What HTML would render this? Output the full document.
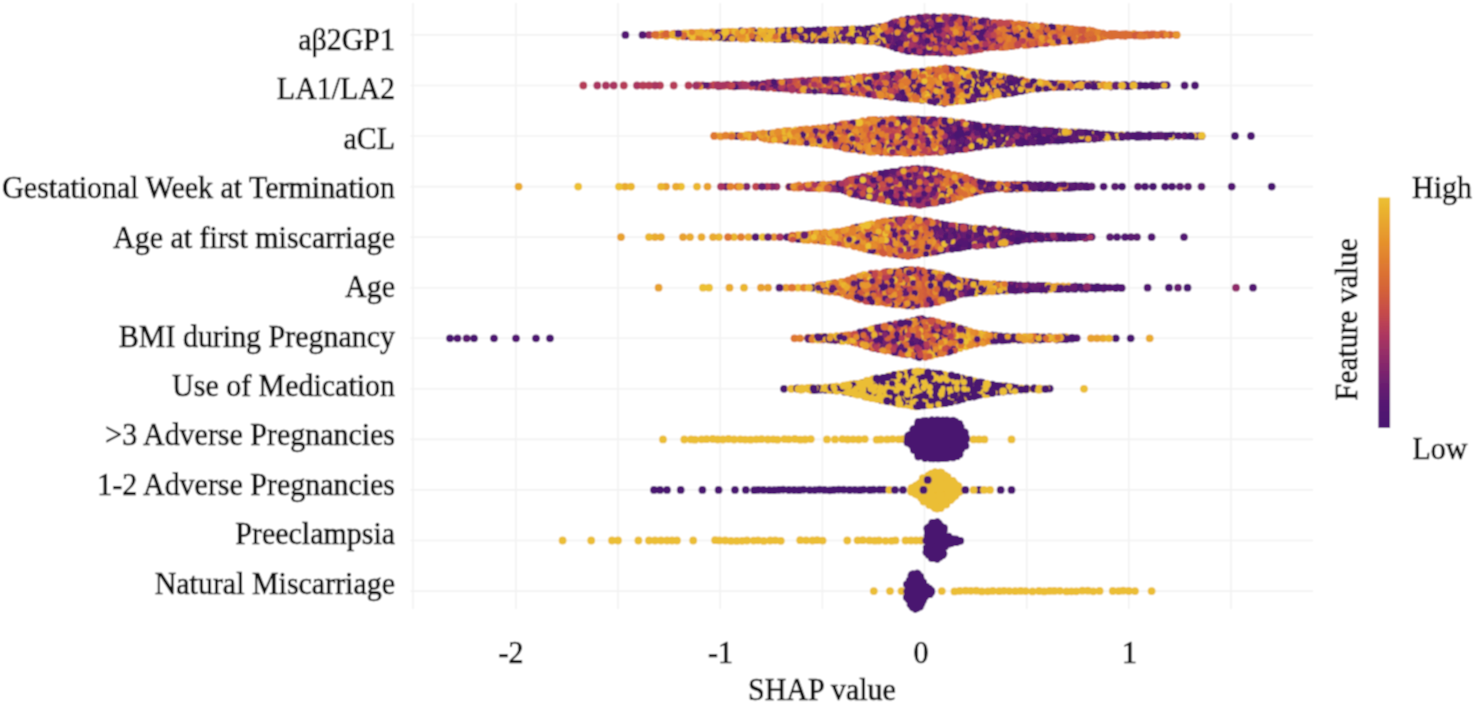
<!DOCTYPE html>
<html><head><meta charset="utf-8"><style>
html,body{margin:0;padding:0;background:#fff;}
svg{display:block;}
circle{r:3.9px;}
.a{fill:#4a1470}.A{fill:#4a1470;r:3.1px}
.b{fill:#4e1671}.B{fill:#4e1671;r:3.1px}
.c{fill:#531772}.C{fill:#531772;r:3.1px}
.d{fill:#5c1a71}.D{fill:#5c1a71;r:3.1px}
.e{fill:#671e71}.E{fill:#671e71;r:3.1px}
.f{fill:#74226f}.F{fill:#74226f;r:3.1px}
.g{fill:#81266c}.G{fill:#81266c;r:3.1px}
.h{fill:#8f2b6a}.H{fill:#8f2b6a;r:3.1px}
.i{fill:#9c3065}.I{fill:#9c3065;r:3.1px}
.j{fill:#a93561}.J{fill:#a93561;r:3.1px}
.k{fill:#b53d58}.K{fill:#b53d58;r:3.1px}
.l{fill:#c0464f}.L{fill:#c0464f;r:3.1px}
.m{fill:#c84f46}.M{fill:#c84f46;r:3.1px}
.n{fill:#cf5a3e}.N{fill:#cf5a3e;r:3.1px}
.o{fill:#d56437}.O{fill:#d56437;r:3.1px}
.p{fill:#d96d34}.P{fill:#d96d34;r:3.1px}
.q{fill:#de7730}.Q{fill:#de7730;r:3.1px}
.r{fill:#e1812e}.R{fill:#e1812e;r:3.1px}
.s{fill:#e48c2d}.S{fill:#e48c2d;r:3.1px}
.t{fill:#e6962d}.T{fill:#e6962d;r:3.1px}
.u{fill:#e7a12d}.U{fill:#e7a12d;r:3.1px}
.v{fill:#e9ab2e}.V{fill:#e9ab2e;r:3.1px}
.w{fill:#eab62f}.W{fill:#eab62f;r:3.1px}
.x{fill:#ecc030}.X{fill:#ecc030;r:3.1px}
.y{fill:#ebbe35}.Y{fill:#ebbe35;r:3.1px}.z{fill:#4a1570}.Z{fill:#4a1570;r:3.1px}
text{font-family:"Liberation Serif",serif;fill:#0a0a0a;stroke:#0a0a0a;stroke-width:0.65px;}
</style></head><body>
<svg width="1475" height="704" viewBox="0 0 1475 704">
<defs><linearGradient id="cb" x1="0" y1="1" x2="0" y2="0">
<stop offset="0.0" stop-color="#4a1470"/>
<stop offset="0.1" stop-color="#541872"/>
<stop offset="0.2" stop-color="#6e2070"/>
<stop offset="0.3" stop-color="#8e2a6a"/>
<stop offset="0.4" stop-color="#ac3660"/>
<stop offset="0.5" stop-color="#c54a4a"/>
<stop offset="0.6" stop-color="#d46238"/>
<stop offset="0.7" stop-color="#de7830"/>
<stop offset="0.8" stop-color="#e5902c"/>
<stop offset="0.9" stop-color="#e8a82e"/>
<stop offset="1.0" stop-color="#ecc030"/>
</linearGradient>
<filter id="bl" x="0" y="0" width="1475" height="704" filterUnits="userSpaceOnUse"><feConvolveMatrix order="3" kernelMatrix="1 2 1 2 4 2 1 2 1" divisor="16" edgeMode="duplicate"/></filter>
</defs>
<g filter="url(#bl)">
<rect width="1475" height="704" fill="#fff"/>
<g stroke="#f2f2f2" stroke-width="1.6">
<line x1="413.0" y1="3" x2="413.0" y2="609"/>
<line x1="515.9" y1="3" x2="515.9" y2="609"/>
<line x1="618.0" y1="3" x2="618.0" y2="609"/>
<line x1="720.2" y1="3" x2="720.2" y2="609"/>
<line x1="822.4" y1="3" x2="822.4" y2="609"/>
<line x1="924.5" y1="3" x2="924.5" y2="609"/>
<line x1="1026.7" y1="3" x2="1026.7" y2="609"/>
<line x1="1128.8" y1="3" x2="1128.8" y2="609"/>
<line x1="1231.0" y1="3" x2="1231.0" y2="609"/>
<line x1="410.5" y1="34.9" x2="1313" y2="34.9"/>
<line x1="410.5" y1="85.5" x2="1313" y2="85.5"/>
<line x1="410.5" y1="136.0" x2="1313" y2="136.0"/>
<line x1="410.5" y1="186.6" x2="1313" y2="186.6"/>
<line x1="410.5" y1="237.1" x2="1313" y2="237.1"/>
<line x1="410.5" y1="287.7" x2="1313" y2="287.7"/>
<line x1="410.5" y1="338.3" x2="1313" y2="338.3"/>
<line x1="410.5" y1="388.8" x2="1313" y2="388.8"/>
<line x1="410.5" y1="439.4" x2="1313" y2="439.4"/>
<line x1="410.5" y1="489.9" x2="1313" y2="489.9"/>
<line x1="410.5" y1="540.5" x2="1313" y2="540.5"/>
<line x1="410.5" y1="591.1" x2="1313" y2="591.1"/>
</g>
<g style="">
<circle class=c cx=625.4 cy=34.9 r=3.9 />
<circle class=i cx=649 cy=34.9 r=3.9 />
<circle class=c cx=642.5 cy=34.9 r=3.9 />
<circle class=N cx=1028.8 cy=30.7 r=3.1 />
<circle class=u cx=655.3 cy=34.9 r=3.9 />
<circle class=I cx=935.3 cy=17 r=3.1 />
<circle class=H cx=933.2 cy=21.5 r=3.1 />
<circle class=E cx=945.9 cy=50.4 r=3.1 />
<circle class=U cx=755.1 cy=39.1 r=3.1 />
<circle class=B cx=842.9 cy=29.9 r=3.1 />
<circle class=F cx=992.5 cy=26.9 r=3.1 />
<circle class=F cx=964 cy=40 r=3.1 />
<circle class=N cx=1086.1 cy=38.4 r=3.1 />
<circle class=d cx=843 cy=29.9 r=3.9 />
<circle class=T cx=840 cy=29.1 r=3.1 />
<circle class=P cx=698.5 cy=34.9 r=3.1 />
<circle class=c cx=818.3 cy=30.3 r=3.9 />
<circle class=C cx=1063.6 cy=32.1 r=3.1 />
<circle class=h cx=939.3 cy=51.8 r=3.9 />
<circle class=L cx=924.9 cy=22 r=3.1 />
<circle class=E cx=855 cy=31.5 r=3.1 />
<circle class=D cx=997 cy=23.3 r=3.1 />
<circle class=W cx=687.8 cy=37 r=3.1 />
<circle class=K cx=1047.1 cy=27 r=3.1 />
<circle class=D cx=1018.5 cy=30.5 r=3.1 />
<circle class=Q cx=1012.8 cy=44.3 r=3.1 />
<circle class=B cx=754.3 cy=36.8 r=3.1 />
<circle class=u cx=678.6 cy=35.7 r=3.9 />
<circle class=C cx=899.6 cy=37.9 r=3.1 />
<circle class=C cx=809.5 cy=34.6 r=3.1 />
<circle class=E cx=981.6 cy=24.2 r=3.1 />
<circle class=Q cx=972.2 cy=21.3 r=3.1 />
<circle class=c cx=777.2 cy=31.2 r=3.9 />
<circle class=U cx=867.5 cy=35.3 r=3.1 />
<circle class=W cx=781.2 cy=36.4 r=3.1 />
<circle class=O cx=1013.4 cy=46.7 r=3.1 />
<circle class=D cx=914.2 cy=47.9 r=3.1 />
<circle class=L cx=1019.5 cy=37.6 r=3.1 />
<circle class=q cx=964.2 cy=19 r=3.9 />
<circle class=Q cx=761.6 cy=39.1 r=3.1 />
<circle class=p cx=1139.6 cy=35.1 r=3.9 />
<circle class=B cx=988.1 cy=43.3 r=3.1 />
<circle class=C cx=969.3 cy=25.4 r=3.1 />
<circle class=t cx=912.9 cy=51.1 r=3.9 />
<circle class=U cx=880.5 cy=38.8 r=3.1 />
<circle class=D cx=836.5 cy=29.1 r=3.1 />
<circle class=P cx=1080.1 cy=34.9 r=3.1 />
<circle class=D cx=822.9 cy=33.1 r=3.1 />
<circle class=r cx=1024.7 cy=45.1 r=3.9 />
<circle class=x cx=789.3 cy=39.1 r=3.9 />
<circle class=P cx=685.4 cy=37 r=3.1 />
<circle class=E cx=955.1 cy=39.9 r=3.1 />
<circle class=D cx=975.8 cy=32.5 r=3.1 />
<circle class=X cx=822.5 cy=29.9 r=3.1 />
<circle class=O cx=940.2 cy=48 r=3.1 />
<circle class=M cx=1045.8 cy=41.9 r=3.1 />
<circle class=K cx=1002.3 cy=22.9 r=3.1 />
<circle class=N cx=1062.4 cy=36.1 r=3.1 />
<circle class=D cx=903.1 cy=31.4 r=3.1 />
<circle class=L cx=997.4 cy=40.8 r=3.1 />
<circle class=B cx=958.5 cy=48.2 r=3.1 />
<circle class=C cx=908 cy=41.4 r=3.1 />
<circle class=Q cx=1000.9 cy=34.9 r=3.1 />
<circle class=c cx=686 cy=36.3 r=3.9 />
<circle class=O cx=787.4 cy=33.2 r=3.1 />
<circle class=C cx=894.5 cy=32.6 r=3.1 />
<circle class=A cx=701.9 cy=35.4 r=3.1 />
<circle class=m cx=1011.1 cy=23.5 r=3.9 />
<circle class=P cx=1123.3 cy=34.9 r=3.1 />
<circle class=A cx=964.5 cy=26.4 r=3.1 />
<circle class=W cx=926.7 cy=45.5 r=3.1 />
<circle class=O cx=1161.3 cy=33.4 r=3.1 />
<circle class=D cx=933.9 cy=44 r=3.1 />
<circle class=I cx=927.1 cy=48.6 r=3.1 />
<circle class=D cx=911.5 cy=32.9 r=3.1 />
<circle class=C cx=853.4 cy=39.4 r=3.1 />
<circle class=A cx=1010.8 cy=46.8 r=3.1 />
<circle class=A cx=999.7 cy=22.8 r=3.1 />
<circle class=L cx=971.9 cy=44.7 r=3.1 />
<circle class=K cx=940 cy=35.3 r=3.1 />
<circle class=P cx=705 cy=37.3 r=3.1 />
<circle class=D cx=936 cy=22.4 r=3.1 />
<circle class=r cx=890.5 cy=45.4 r=3.9 />
<circle class=e cx=707.8 cy=32.9 r=3.9 />
<circle class=B cx=860.5 cy=40.4 r=3.1 />
<circle class=W cx=732.5 cy=30.8 r=3.1 />
<circle class=w cx=746.8 cy=38.7 r=3.9 />
<circle class=C cx=1091.5 cy=36.3 r=3.1 />
<circle class=I cx=962.8 cy=37.3 r=3.1 />
<circle class=s cx=789.8 cy=31.2 r=3.9 />
<circle class=C cx=950.5 cy=34.9 r=3.1 />
<circle class=E cx=923.8 cy=28.6 r=3.1 />
<circle class=U cx=1081 cy=40.5 r=3.1 />
<circle class=P cx=1052.1 cy=38.7 r=3.1 />
<circle class=t cx=1046.4 cy=27.5 r=3.9 />
<circle class=t cx=1024.9 cy=25.1 r=3.9 />
<circle class=w cx=819.5 cy=39.3 r=3.9 />
<circle class=C cx=921.3 cy=28.7 r=3.1 />
<circle class=C cx=978.8 cy=29.4 r=3.1 />
<circle class=W cx=727.1 cy=38.9 r=3.1 />
<circle class=P cx=1147.5 cy=33.5 r=3.1 />
<circle class=W cx=759.8 cy=30.1 r=3.1 />
<circle class=M cx=934 cy=19.1 r=3.1 />
<circle class=D cx=904.5 cy=41.6 r=3.1 />
<circle class=Q cx=1015.3 cy=34.9 r=3.1 />
<circle class=N cx=957.2 cy=41.7 r=3.1 />
<circle class=P cx=1022.1 cy=26.1 r=3.1 />
<circle class=B cx=852.9 cy=36.3 r=3.1 />
<circle class=s cx=1041.7 cy=43.1 r=3.9 />
<circle class=K cx=1008.3 cy=29 r=3.1 />
<circle class=B cx=880.5 cy=32.8 r=3.1 />
<circle class=V cx=686.5 cy=32.6 r=3.1 />
<circle class=o cx=1116.2 cy=35.2 r=3.9 />
<circle class=S cx=1011.7 cy=40.7 r=3.1 />
<circle class=R cx=995.6 cy=32.7 r=3.1 />
<circle class=P cx=1125.2 cy=36.7 r=3.1 />
<circle class=R cx=1050 cy=30.4 r=3.1 />
<circle class=T cx=657.6 cy=33.9 r=3.1 />
<circle class=O cx=1028.8 cy=37.9 r=3.1 />
<circle class=D cx=994.7 cy=47.3 r=3.1 />
<circle class=A cx=958.9 cy=31.3 r=3.1 />
<circle class=O cx=1089.3 cy=29.5 r=3.1 />
<circle class=S cx=909.9 cy=38.1 r=3.1 />
<circle class=C cx=902.9 cy=45.5 r=3.1 />
<circle class=C cx=918.4 cy=36.1 r=3.1 />
<circle class=H cx=893 cy=30.3 r=3.1 />
<circle class=B cx=900.1 cy=34.9 r=3.1 />
<circle class=G cx=942.6 cy=47.3 r=3.1 />
<circle class=T cx=859 cy=29.5 r=3.1 />
<circle class=P cx=976.9 cy=49.8 r=3.1 />
<circle class=L cx=914.4 cy=27.8 r=3.1 />
<circle class=C cx=781.2 cy=32.9 r=3.1 />
<circle class=B cx=992 cy=44.9 r=3.1 />
<circle class=v cx=706.5 cy=37.3 r=3.9 />
<circle class=O cx=1039.7 cy=35.4 r=3.1 />
<circle class=v cx=813.9 cy=40 r=3.9 />
<circle class=A cx=784.8 cy=39.5 r=3.1 />
<circle class=M cx=918.5 cy=33.5 r=3.1 />
<circle class=B cx=880.2 cy=26.1 r=3.1 />
<circle class=S cx=995.2 cy=44.4 r=3.1 />
<circle class=R cx=1025.3 cy=36.3 r=3.1 />
<circle class=I cx=997.5 cy=29.8 r=3.1 />
<circle class=R cx=1071.3 cy=30.6 r=3.1 />
<circle class=f cx=902.6 cy=49.5 r=3.9 />
<circle class=Q cx=1101.7 cy=34.9 r=3.1 />
<circle class=C cx=796.6 cy=32.9 r=3.1 />
<circle class=P cx=1033.9 cy=39.7 r=3.1 />
<circle class=Q cx=906.9 cy=24.3 r=3.1 />
<circle class=t cx=1098.9 cy=37.5 r=3.9 />
<circle class=A cx=868.6 cy=41.9 r=3.1 />
<circle class=T cx=1053.2 cy=41.1 r=3.1 />
<circle class=U cx=804.7 cy=30 r=3.1 />
<circle class=r cx=802.1 cy=39.4 r=3.9 />
<circle class=E cx=745.5 cy=35.1 r=3.1 />
<circle class=N cx=944.7 cy=43.4 r=3.1 />
<circle class=P cx=1121 cy=36.4 r=3.1 />
<circle class=C cx=862.1 cy=32.1 r=3.1 />
<circle class=S cx=1010.1 cy=42.6 r=3.1 />
<circle class=L cx=959.1 cy=52.2 r=3.1 />
<circle class=I cx=897.6 cy=47.9 r=3.1 />
<circle class=n cx=981.4 cy=48.6 r=3.9 />
<circle class=P cx=799.7 cy=32.2 r=3.1 />
<circle class=D cx=941.6 cy=17.9 r=3.1 />
<circle class=S cx=837.4 cy=36.1 r=3.1 />
<circle class=I cx=917.4 cy=44.7 r=3.1 />
<circle class=P cx=1114.2 cy=33.2 r=3.1 />
<circle class=D cx=919.5 cy=48.5 r=3.1 />
<circle class=B cx=942.1 cy=37.3 r=3.1 />
<circle class=X cx=739.7 cy=31.1 r=3.1 />
<circle class=Q cx=948.3 cy=24.5 r=3.1 />
<circle class=Q cx=1069.3 cy=37.3 r=3.1 />
<circle class=K cx=1012.6 cy=28.3 r=3.1 />
<circle class=T cx=714.6 cy=31.9 r=3.1 />
<circle class=c cx=907.5 cy=19.3 r=3.9 />
<circle class=N cx=1102.4 cy=37.4 r=3.1 />
<circle class=B cx=895 cy=47 r=3.1 />
<circle class=S cx=1077.4 cy=41 r=3.1 />
<circle class=o cx=1087.7 cy=38.9 r=3.9 />
<circle class=G cx=987.2 cy=38.6 r=3.1 />
<circle class=W cx=772.1 cy=38.3 r=3.1 />
<circle class=P cx=752.2 cy=38.3 r=3.1 />
<circle class=D cx=878.1 cy=37.3 r=3.1 />
<circle class=D cx=883.4 cy=41.4 r=3.1 />
<circle class=V cx=886.7 cy=44.2 r=3.1 />
<circle class=X cx=842.5 cy=34.9 r=3.1 />
<circle class=W cx=759.4 cy=36.6 r=3.1 />
<circle class=F cx=977.7 cy=37 r=3.1 />
<circle class=B cx=855.9 cy=37.2 r=3.1 />
<circle class=C cx=909.2 cy=46.1 r=3.1 />
<circle class=Q cx=1028.1 cy=45.6 r=3.1 />
<circle class=P cx=1058.5 cy=34.9 r=3.1 />
<circle class=C cx=867.1 cy=31.2 r=3.1 />
<circle class=S cx=1093.6 cy=32.5 r=3.1 />
<circle class=p cx=1064.1 cy=28.4 r=3.9 />
<circle class=W cx=708.2 cy=32 r=3.1 />
<circle class=I cx=925.6 cy=19.6 r=3.1 />
<circle class=R cx=928.3 cy=22.6 r=3.1 />
<circle class=C cx=796.2 cy=29.8 r=3.1 />
<circle class=B cx=965.6 cy=49.2 r=3.1 />
<circle class=d cx=872.7 cy=40.9 r=3.9 />
<circle class=q cx=1053.2 cy=42.2 r=3.9 />
<circle class=B cx=775.4 cy=40 r=3.1 />
<circle class=C cx=943.5 cy=27.3 r=3.1 />
<circle class=o cx=1176.1 cy=34.8 r=3.9 />
<circle class=B cx=907.9 cy=18 r=3.1 />
<circle class=C cx=828.1 cy=34.9 r=3.1 />
<circle class=K cx=1028.1 cy=25.3 r=3.1 />
<circle class=S cx=926.7 cy=52.4 r=3.1 />
<circle class=O cx=1176 cy=35.8 r=3.1 />
<circle class=e cx=901.8 cy=20.5 r=3.9 />
<circle class=M cx=1055.9 cy=41.2 r=3.1 />
<circle class=P cx=768.6 cy=38.6 r=3.1 />
<circle class=Q cx=1007.9 cy=32.2 r=3.1 />
<circle class=W cx=910.4 cy=42.6 r=3.1 />
<circle class=C cx=929.8 cy=25.7 r=3.1 />
<circle class=I cx=955.7 cy=20.1 r=3.1 />
<circle class=p cx=691.7 cy=36.9 r=3.9 />
<circle class=W cx=728.4 cy=30.9 r=3.1 />
<circle class=U cx=1051.6 cy=43.1 r=3.1 />
<circle class=p cx=1110.8 cy=35.9 r=3.9 />
<circle class=T cx=1067.2 cy=27.4 r=3.1 />
<circle class=K cx=962.4 cy=20.3 r=3.1 />
<circle class=p cx=940.8 cy=18 r=3.9 />
<circle class=S cx=985.3 cy=29.6 r=3.1 />
<circle class=Q cx=1057.2 cy=27.2 r=3.1 />
<circle class=l cx=1041.8 cy=26.4 r=3.9 />
<circle class=T cx=874.2 cy=41.3 r=3.1 />
<circle class=C cx=892.8 cy=26.1 r=3.1 />
<circle class=u cx=712.7 cy=37.4 r=3.9 />
<circle class=Q cx=870.8 cy=27.9 r=3.1 />
<circle class=V cx=739.3 cy=35.3 r=3.1 />
<circle class=v cx=849 cy=39.9 r=3.9 />
<circle class=t cx=951.3 cy=52.8 r=3.9 />
<circle class=B cx=990.8 cy=47.5 r=3.1 />
<circle class=u cx=748.1 cy=31.8 r=3.9 />
<circle class=K cx=972.1 cy=34.9 r=3.1 />
<circle class=S cx=987.5 cy=47.9 r=3.1 />
<circle class=v cx=771.5 cy=38.5 r=3.9 />
<circle class=R cx=1111.9 cy=34.5 r=3.1 />
<circle class=F cx=931.3 cy=49 r=3.1 />
<circle class=H cx=905.4 cy=19.5 r=3.1 />
<circle class=X cx=829.6 cy=37.2 r=3.1 />
<circle class=P cx=1024.4 cy=28.1 r=3.1 />
<circle class=E cx=942.8 cy=31.8 r=3.1 />
<circle class=P cx=979.3 cy=43.7 r=3.1 />
<circle class=M cx=975.9 cy=26.8 r=3.1 />
<circle class=R cx=771.6 cy=31 r=3.1 />
<circle class=O cx=984.3 cy=38.3 r=3.1 />
<circle class=P cx=1100.3 cy=32.8 r=3.1 />
<circle class=C cx=927.5 cy=27.8 r=3.1 />
<circle class=O cx=959.6 cy=45.6 r=3.1 />
<circle class=C cx=984.2 cy=35.8 r=3.1 />
<circle class=C cx=833 cy=30.8 r=3.1 />
<circle class=C cx=901.9 cy=36.8 r=3.1 />
<circle class=t cx=1088 cy=31 r=3.9 />
<circle class=I cx=952 cy=39.5 r=3.1 />
<circle class=b cx=934.9 cy=52.2 r=3.9 />
<circle class=D cx=929.4 cy=20.5 r=3.1 />
<circle class=A cx=1020 cy=34.5 r=3.1 />
<circle class=P cx=1010.7 cy=31.6 r=3.1 />
<circle class=r cx=884.6 cy=43.8 r=3.9 />
<circle class=P cx=971.2 cy=23.6 r=3.1 />
<circle class=K cx=1013.4 cy=31.2 r=3.1 />
<circle class=k cx=975.3 cy=20.7 r=3.9 />
<circle class=P cx=1154.4 cy=33.6 r=3.1 />
<circle class=c cx=878.5 cy=27.5 r=3.9 />
<circle class=Q cx=1005.9 cy=41.4 r=3.1 />
<circle class=w cx=866.2 cy=41.1 r=3.9 />
<circle class=T cx=716.6 cy=34.1 r=3.1 />
<circle class=C cx=920.1 cy=22.2 r=3.1 />
<circle class=D cx=813.4 cy=38 r=3.1 />
<circle class=Q cx=1006.4 cy=26.4 r=3.1 />
<circle class=C cx=864.6 cy=39.3 r=3.1 />
<circle class=E cx=973.4 cy=32.1 r=3.1 />
<circle class=G cx=930 cy=17.5 r=3.1 />
<circle class=S cx=1034.6 cy=36.9 r=3.1 />
<circle class=E cx=956 cy=29.7 r=3.1 />
<circle class=E cx=928 cy=38 r=3.1 />
<circle class=U cx=820.9 cy=34.9 r=3.1 />
<circle class=S cx=748.9 cy=34.9 r=3.1 />
<circle class=C cx=786.7 cy=30.1 r=3.1 />
<circle class=A cx=987.8 cy=29.9 r=3.1 />
<circle class=b cx=802.2 cy=30.2 r=3.9 />
<circle class=J cx=914.5 cy=34.9 r=3.1 />
<circle class=B cx=998.6 cy=43.5 r=3.1 />
<circle class=Q cx=1026.7 cy=39.1 r=3.1 />
<circle class=O cx=1152.1 cy=34.9 r=3.1 />
<circle class=l cx=987.4 cy=47.6 r=3.9 />
<circle class=F cx=950.4 cy=37.5 r=3.1 />
<circle class=I cx=907.3 cy=34.9 r=3.1 />
<circle class=K cx=1057.2 cy=37.6 r=3.1 />
<circle class=R cx=724.9 cy=37.8 r=3.1 />
<circle class=D cx=884.2 cy=44.6 r=3.1 />
<circle class=Q cx=1130.5 cy=34.9 r=3.1 />
<circle class=H cx=947 cy=21.5 r=3.1 />
<circle class=T cx=1116.1 cy=34.9 r=3.1 />
<circle class=O cx=1031.2 cy=28.6 r=3.1 />
<circle class=D cx=944.6 cy=30.1 r=3.1 />
<circle class=P cx=1026.6 cy=34 r=3.1 />
<circle class=R cx=931.7 cy=19.6 r=3.1 />
<circle class=W cx=924 cy=33.7 r=3.1 />
<circle class=P cx=979.3 cy=34.9 r=3.1 />
<circle class=C cx=799.3 cy=34.9 r=3.1 />
<circle class=S cx=924.4 cy=38.7 r=3.1 />
<circle class=P cx=958.2 cy=17 r=3.1 />
<circle class=D cx=820 cy=31.2 r=3.1 />
<circle class=P cx=950.3 cy=28.1 r=3.1 />
<circle class=P cx=996 cy=38.2 r=3.1 />
<circle class=A cx=681.8 cy=33.3 r=3.1 />
<circle class=B cx=892.3 cy=41.1 r=3.1 />
<circle class=o cx=661.8 cy=35.2 r=3.9 />
<circle class=U cx=821.8 cy=37.2 r=3.1 />
<circle class=E cx=919.7 cy=46.1 r=3.1 />
<circle class=B cx=986.5 cy=21.5 r=3.1 />
<circle class=A cx=920.3 cy=42.6 r=3.1 />
<circle class=W cx=665.9 cy=36.8 r=3.1 />
<circle class=T cx=931.2 cy=52.6 r=3.1 />
<circle class=u cx=702.1 cy=37 r=3.9 />
<circle class=T cx=704.1 cy=32.4 r=3.1 />
<circle class=A cx=936.4 cy=20.1 r=3.1 />
<circle class=D cx=900.1 cy=31.9 r=3.1 />
<circle class=B cx=1040.1 cy=40.9 r=3.1 />
<circle class=E cx=924.8 cy=48 r=3.1 />
<circle class=W cx=800.1 cy=40.3 r=3.1 />
<circle class=D cx=985.5 cy=32.1 r=3.1 />
<circle class=D cx=893.8 cy=38.2 r=3.1 />
<circle class=G cx=965 cy=42.5 r=3.1 />
<circle class=B cx=954.7 cy=44.5 r=3.1 />
<circle class=M cx=1002.7 cy=38.5 r=3.1 />
<circle class=A cx=1042.8 cy=31.1 r=3.1 />
<circle class=C cx=963.4 cy=50.1 r=3.1 />
<circle class=Q cx=1024.9 cy=31.4 r=3.1 />
<circle class=B cx=997.6 cy=35.3 r=3.1 />
<circle class=N cx=1120.5 cy=33.8 r=3.1 />
<circle class=Q cx=969 cy=36.3 r=3.1 />
<circle class=J cx=938.5 cy=22.7 r=3.1 />
<circle class=G cx=890.4 cy=43 r=3.1 />
<circle class=B cx=917.7 cy=39.4 r=3.1 />
<circle class=C cx=869.4 cy=30.1 r=3.1 />
<circle class=R cx=1015.2 cy=23.9 r=3.1 />
<circle class=t cx=1098.9 cy=32.9 r=3.9 />
<circle class=O cx=1094.3 cy=38.6 r=3.1 />
<circle class=Q cx=966.7 cy=37.2 r=3.1 />
<circle class=v cx=696.9 cy=32.8 r=3.9 />
<circle class=V cx=792.6 cy=38.3 r=3.1 />
<circle class=T cx=1022.5 cy=37.8 r=3.1 />
<circle class=P cx=1094.5 cy=34.9 r=3.1 />
<circle class=J cx=933.7 cy=52.6 r=3.1 />
<circle class=C cx=893.4 cy=21.9 r=3.1 />
<circle class=E cx=1043 cy=43 r=3.1 />
<circle class=J cx=964.9 cy=34.9 r=3.1 />
<circle class=L cx=888.8 cy=45.9 r=3.1 />
<circle class=C cx=892.9 cy=34.9 r=3.1 />
<circle class=p cx=1134.6 cy=34.4 r=3.9 />
<circle class=P cx=1099.2 cy=36 r=3.1 />
<circle class=t cx=1057.9 cy=27.8 r=3.9 />
<circle class=P cx=1080.5 cy=37.6 r=3.1 />
<circle class=p cx=944.7 cy=52.1 r=3.9 />
<circle class=b cx=859.4 cy=29.4 r=3.9 />
<circle class=M cx=1070.3 cy=42.1 r=3.1 />
<circle class=F cx=955.1 cy=53.5 r=3.1 />
<circle class=U cx=778.9 cy=31.4 r=3.1 />
<circle class=D cx=886 cy=37.6 r=3.1 />
<circle class=W cx=876.5 cy=27.2 r=3.1 />
<circle class=T cx=707.4 cy=37.7 r=3.1 />
<circle class=S cx=953.3 cy=30.6 r=3.1 />
<circle class=V cx=657.2 cy=36.4 r=3.1 />
<circle class=L cx=944.4 cy=52.6 r=3.1 />
<circle class=B cx=906.4 cy=50.6 r=3.1 />
<circle class=B cx=896.5 cy=28.3 r=3.1 />
<circle class=F cx=965 cy=51.9 r=3.1 />
<circle class=R cx=1006 cy=30.1 r=3.1 />
<circle class=X cx=823.1 cy=40.2 r=3.1 />
<circle class=I cx=917 cy=47.3 r=3.1 />
<circle class=Q cx=943.8 cy=20.6 r=3.1 />
<circle class=P cx=1084.2 cy=29.2 r=3.1 />
<circle class=s cx=1057.7 cy=42.2 r=3.9 />
<circle class=U cx=1037.5 cy=27.1 r=3.1 />
<circle class=U cx=676.9 cy=34.9 r=3.1 />
<circle class=M cx=931.5 cy=28.5 r=3.1 />
<circle class=P cx=1026.7 cy=28.8 r=3.1 />
<circle class=E cx=904.2 cy=35.8 r=3.1 />
<circle class=A cx=908.3 cy=27.8 r=3.1 />
<circle class=b cx=969.7 cy=19.7 r=3.9 />
<circle class=U cx=829.5 cy=32.9 r=3.1 />
<circle class=D cx=953.6 cy=48.4 r=3.1 />
<circle class=R cx=1081.5 cy=30.3 r=3.1 />
<circle class=K cx=989.5 cy=32.7 r=3.1 />
<circle class=B cx=926.2 cy=30 r=3.1 />
<circle class=N cx=1027.7 cy=43.3 r=3.1 />
<circle class=D cx=975.2 cy=36.8 r=3.1 />
<circle class=G cx=965 cy=31.2 r=3.1 />
<circle class=C cx=918.4 cy=19.7 r=3.1 />
<circle class=D cx=903.8 cy=49 r=3.1 />
<circle class=G cx=949.9 cy=20.1 r=3.1 />
<circle class=M cx=899.6 cy=29.5 r=3.1 />
<circle class=C cx=938.1 cy=17.1 r=3.1 />
<circle class=M cx=989 cy=40.9 r=3.1 />
<circle class=J cx=1000.1 cy=31.5 r=3.1 />
<circle class=B cx=966.5 cy=40.4 r=3.1 />
<circle class=Q cx=1137.7 cy=34.9 r=3.1 />
<circle class=K cx=949.4 cy=50.9 r=3.1 />
<circle class=M cx=962.2 cy=30.2 r=3.1 />
<circle class=B cx=932.9 cy=24.3 r=3.1 />
<circle class=X cx=849.5 cy=41.5 r=3.1 />
<circle class=C cx=753.4 cy=30.2 r=3.1 />
<circle class=i cx=923.5 cy=52.3 r=3.9 />
<circle class=T cx=890 cy=33.7 r=3.1 />
<circle class=e cx=918.5 cy=18.5 r=3.9 />
<circle class=b cx=741.2 cy=31.2 r=3.9 />
<circle class=W cx=869.1 cy=38.2 r=3.1 />
<circle class=I cx=945 cy=23.9 r=3.1 />
<circle class=D cx=816.9 cy=38.5 r=3.1 />
<circle class=Q cx=1007.6 cy=47.2 r=3.1 />
<circle class=I cx=954.5 cy=37.2 r=3.1 />
<circle class=K cx=964.9 cy=20.9 r=3.1 />
<circle class=H cx=981.9 cy=47.4 r=3.1 />
<circle class=H cx=919.9 cy=31 r=3.1 />
<circle class=G cx=906.1 cy=38.7 r=3.1 />
<circle class=P cx=880.1 cy=41.4 r=3.1 />
<circle class=C cx=881.3 cy=43.5 r=3.1 />
<circle class=T cx=749.6 cy=38.1 r=3.1 />
<circle class=Q cx=945.9 cy=18.1 r=3.1 />
<circle class=w cx=766.4 cy=31.5 r=3.9 />
<circle class=D cx=806 cy=32.5 r=3.1 />
<circle class=V cx=871 cy=42.2 r=3.1 />
<circle class=P cx=1062.9 cy=29 r=3.1 />
<circle class=R cx=906.5 cy=47.7 r=3.1 />
<circle class=a cx=724.5 cy=37.7 r=3.9 />
<circle class=T cx=811.9 cy=31.2 r=3.1 />
<circle class=E cx=933.7 cy=50.1 r=3.1 />
<circle class=K cx=970.9 cy=31.6 r=3.1 />
<circle class=P cx=734.4 cy=37.8 r=3.1 />
<circle class=u cx=929.9 cy=17.9 r=3.9 />
<circle class=R cx=1047.4 cy=33.9 r=3.1 />
<circle class=u cx=690.7 cy=32.9 r=3.9 />
<circle class=t cx=1129.3 cy=34.7 r=3.9 />
<circle class=P cx=971.5 cy=49.3 r=3.1 />
<circle class=O cx=961 cy=27.6 r=3.1 />
<circle class=A cx=952 cy=45.5 r=3.1 />
<circle class=h cx=929.6 cy=52 r=3.9 />
<circle class=C cx=896.2 cy=35 r=3.1 />
<circle class=H cx=939.2 cy=27.4 r=3.1 />
<circle class=D cx=919.7 cy=25.2 r=3.1 />
<circle class=V cx=745.5 cy=39.5 r=3.1 />
<circle class=H cx=917.5 cy=49.9 r=3.1 />
<circle class=r cx=1019 cy=24.1 r=3.9 />
<circle class=B cx=874.6 cy=33.3 r=3.1 />
<circle class=S cx=1022.6 cy=29.9 r=3.1 />
<circle class=L cx=968.3 cy=43.9 r=3.1 />
<circle class=D cx=839.1 cy=32.6 r=3.1 />
<circle class=T cx=978.8 cy=24.4 r=3.1 />
<circle class=o cx=1140 cy=35 r=3.9 />
<circle class=L cx=975.1 cy=44.4 r=3.1 />
<circle class=M cx=1053.5 cy=27.1 r=3.1 />
<circle class=W cx=862.6 cy=37.4 r=3.1 />
<circle class=W cx=882.6 cy=37.2 r=3.1 />
<circle class=W cx=767.4 cy=34.2 r=3.1 />
<circle class=N cx=1037.5 cy=43.5 r=3.1 />
<circle class=C cx=934.1 cy=41.1 r=3.1 />
<circle class=T cx=1000.1 cy=28.9 r=3.1 />
<circle class=P cx=835.3 cy=34.9 r=3.1 />
<circle class=Q cx=1134.1 cy=36.1 r=3.1 />
<circle class=P cx=1103.2 cy=32.8 r=3.1 />
<circle class=A cx=932.7 cy=46.5 r=3.1 />
<circle class=T cx=947.2 cy=44.6 r=3.1 />
<circle class=c cx=934 cy=17.1 r=3.9 />
<circle class=I cx=911.9 cy=19.6 r=3.1 />
<circle class=Q cx=1012.7 cy=25 r=3.1 />
<circle class=E cx=856.5 cy=40.6 r=3.1 />
<circle class=Q cx=1023.4 cy=44.7 r=3.1 />
<circle class=D cx=909 cy=51.9 r=3.1 />
<circle class=R cx=994.3 cy=23.4 r=3.1 />
<circle class=J cx=945.5 cy=33.3 r=3.1 />
<circle class=P cx=1072.1 cy=28 r=3.1 />
<circle class=D cx=808.3 cy=31.4 r=3.1 />
<circle class=t cx=730.3 cy=32.1 r=3.9 />
<circle class=E cx=947.8 cy=35.8 r=3.1 />
<circle class=O cx=1118.7 cy=35.4 r=3.1 />
<circle class=F cx=984.4 cy=42 r=3.1 />
<circle class=E cx=1032.1 cy=38 r=3.1 />
<circle class=W cx=729.5 cy=36.3 r=3.1 />
<circle class=D cx=913.8 cy=42 r=3.1 />
<circle class=V cx=885.8 cy=40.4 r=3.1 />
<circle class=P cx=1049.9 cy=32.9 r=3.1 />
<circle class=E cx=980 cy=41.1 r=3.1 />
<circle class=C cx=1011.7 cy=35.1 r=3.1 />
<circle class=e cx=878.4 cy=42.3 r=3.9 />
<circle class=B cx=919.1 cy=16.9 r=3.1 />
<circle class=C cx=911.6 cy=28.4 r=3.1 />
<circle class=F cx=947.6 cy=32 r=3.1 />
<circle class=T cx=1008.5 cy=44.7 r=3.1 />
<circle class=C cx=825 cy=37.8 r=3.1 />
<circle class=H cx=961.9 cy=46.6 r=3.1 />
<circle class=D cx=843.8 cy=40.8 r=3.1 />
<circle class=P cx=784.1 cy=32.2 r=3.1 />
<circle class=t cx=835.9 cy=29.8 r=3.9 />
<circle class=L cx=954.2 cy=22.6 r=3.1 />
<circle class=b cx=866.2 cy=29.4 r=3.9 />
<circle class=s cx=753.2 cy=31.6 r=3.9 />
<circle class=S cx=1019.6 cy=23.6 r=3.1 />
<circle class=d cx=1035.9 cy=44 r=3.9 />
<circle class=P cx=803 cy=33.7 r=3.1 />
<circle class=D cx=937.6 cy=51.2 r=3.1 />
<circle class=V cx=778.8 cy=37.9 r=3.1 />
<circle class=S cx=694.6 cy=35.6 r=3.1 />
<circle class=Q cx=953.5 cy=51.1 r=3.1 />
<circle class=R cx=938.9 cy=19.6 r=3.1 />
<circle class=T cx=1071.1 cy=38.9 r=3.1 />
<circle class=P cx=674.4 cy=32.9 r=3.1 />
<circle class=s cx=695.7 cy=36.4 r=3.9 />
<circle class=D cx=957.7 cy=34.9 r=3.1 />
<circle class=N cx=1055.5 cy=33.7 r=3.1 />
<circle class=P cx=953.4 cy=33.6 r=3.1 />
<circle class=A cx=888.9 cy=40.8 r=3.1 />
<circle class=Q cx=1001.3 cy=46.3 r=3.1 />
<circle class=H cx=893.3 cy=45.1 r=3.1 />
<circle class=D cx=840 cy=40.5 r=3.1 />
<circle class=r cx=1001 cy=47.2 r=3.9 />
<circle class=v cx=684 cy=33.3 r=3.9 />
<circle class=K cx=985.9 cy=25.8 r=3.1 />
<circle class=Q cx=956.3 cy=49.9 r=3.1 />
<circle class=C cx=967.8 cy=30.8 r=3.1 />
<circle class=C cx=905.5 cy=22.1 r=3.1 />
<circle class=d cx=784.3 cy=39.2 r=3.9 />
<circle class=C cx=794.9 cy=39.6 r=3.1 />
<circle class=P cx=967.9 cy=33.3 r=3.1 />
<circle class=K cx=945.9 cy=27.4 r=3.1 />
<circle class=R cx=931.7 cy=35.8 r=3.1 />
<circle class=B cx=867.2 cy=39.9 r=3.1 />
<circle class=T cx=761.9 cy=32.9 r=3.1 />
<circle class=Q cx=1060.7 cy=33.2 r=3.1 />
<circle class=q cx=1157.8 cy=34.9 r=3.9 />
<circle class=U cx=869.5 cy=32.9 r=3.1 />
<circle class=J cx=941.1 cy=29.1 r=3.1 />
<circle class=A cx=756.3 cy=32.3 r=3.1 />
<circle class=L cx=961.5 cy=23.1 r=3.1 />
<circle class=R cx=1006.6 cy=39 r=3.1 />
<circle class=P cx=1029.3 cy=41.1 r=3.1 />
<circle class=S cx=923.1 cy=31.3 r=3.1 />
<circle class=B cx=835 cy=37.7 r=3.1 />
<circle class=p cx=1075.5 cy=40.5 r=3.9 />
<circle class=E cx=929.6 cy=41.8 r=3.1 />
<circle class=E cx=894.5 cy=42.4 r=3.1 />
<circle class=P cx=814.8 cy=40.1 r=3.1 />
<circle class=p cx=1110.6 cy=33.9 r=3.9 />
<circle class=D cx=950 cy=53.3 r=3.1 />
<circle class=D cx=892.2 cy=47.2 r=3.1 />
<circle class=S cx=960.4 cy=36.9 r=3.1 />
<circle class=V cx=766.5 cy=36.5 r=3.1 />
<circle class=e cx=987 cy=21.5 r=3.9 />
<circle class=C cx=923.7 cy=25 r=3.1 />
<circle class=U cx=968.1 cy=20.7 r=3.1 />
<circle class=P cx=1009.1 cy=22.6 r=3.1 />
<circle class=J cx=960.7 cy=17.6 r=3.1 />
<circle class=R cx=906.2 cy=44.5 r=3.1 />
<circle class=p cx=1105.1 cy=36.1 r=3.9 />
<circle class=B cx=1031.3 cy=32.2 r=3.1 />
<circle class=R cx=1140.8 cy=34.2 r=3.1 />
<circle class=J cx=947.3 cy=53.3 r=3.1 />
<circle class=C cx=877.5 cy=29.5 r=3.1 />
<circle class=n cx=1144.7 cy=35.6 r=3.9 />
<circle class=G cx=940.1 cy=50.7 r=3.1 />
<circle class=D cx=845 cy=34.8 r=3.1 />
<circle class=D cx=1038 cy=29.7 r=3.1 />
<circle class=E cx=924.5 cy=50.4 r=3.1 />
<circle class=J cx=920.1 cy=38 r=3.1 />
<circle class=C cx=910.9 cy=24.6 r=3.1 />
<circle class=B cx=1089.7 cy=38.6 r=3.1 />
<circle class=Q cx=1077.7 cy=37.5 r=3.1 />
<circle class=q cx=673.3 cy=34.2 r=3.9 />
<circle class=A cx=812 cy=40.7 r=3.1 />
<circle class=i cx=923.4 cy=17.9 r=3.9 />
<circle class=B cx=926.5 cy=33.1 r=3.1 />
<circle class=d cx=853.6 cy=40.2 r=3.9 />
<circle class=R cx=1048.9 cy=42.7 r=3.1 />
<circle class=W cx=737.6 cy=37.2 r=3.1 />
<circle class=J cx=980 cy=32.4 r=3.1 />
<circle class=R cx=773.2 cy=35.9 r=3.1 />
<circle class=C cx=1020.4 cy=32 r=3.1 />
<circle class=L cx=980.6 cy=49.8 r=3.1 />
<circle class=B cx=981.7 cy=34.7 r=3.1 />
<circle class=B cx=931.1 cy=31.9 r=3.1 />
<circle class=W cx=756.1 cy=34.9 r=3.1 />
<circle class=E cx=1065.4 cy=29.1 r=3.1 />
<circle class=D cx=982.3 cy=28.4 r=3.1 />
<circle class=P cx=1055.9 cy=29.9 r=3.1 />
<circle class=P cx=731.7 cy=34.4 r=3.1 />
<circle class=C cx=788 cy=39.4 r=3.1 />
<circle class=R cx=701.1 cy=38.1 r=3.1 />
<circle class=P cx=1067.7 cy=30.1 r=3.1 />
<circle class=p cx=895.5 cy=22.2 r=3.9 />
<circle class=U cx=864.8 cy=28.7 r=3.1 />
<circle class=C cx=915.7 cy=19.1 r=3.1 />
<circle class=F cx=901.6 cy=39.7 r=3.1 />
<circle class=S cx=695.9 cy=37.8 r=3.1 />
<circle class=w cx=836.4 cy=39.8 r=3.9 />
<circle class=Q cx=957.5 cy=27.5 r=3.1 />
<circle class=p cx=1123 cy=35 r=3.9 />
<circle class=O cx=1003.6 cy=42.2 r=3.1 />
<circle class=V cx=877.4 cy=41.8 r=3.1 />
<circle class=k cx=1045.9 cy=43.2 r=3.9 />
<circle class=R cx=1144.9 cy=34.9 r=3.1 />
<circle class=C cx=847.2 cy=36.6 r=3.1 />
<circle class=M cx=913.6 cy=31.5 r=3.1 />
<circle class=O cx=992.6 cy=32.6 r=3.1 />
<circle class=a cx=735.4 cy=37.6 r=3.9 />
<circle class=Q cx=1014.8 cy=27.1 r=3.1 />
<circle class=b cx=784.7 cy=30.6 r=3.9 />
<circle class=E cx=889.8 cy=36.3 r=3.1 />
<circle class=O cx=1037.1 cy=39.2 r=3.1 />
<circle class=S cx=739.8 cy=38.4 r=3.1 />
<circle class=A cx=909.1 cy=22.3 r=3.1 />
<circle class=E cx=921.7 cy=40 r=3.1 />
<circle class=q cx=1064.4 cy=41.1 r=3.9 />
<circle class=D cx=876.2 cy=39.6 r=3.1 />
<circle class=C cx=1045.4 cy=31.8 r=3.1 />
<circle class=E cx=655.3 cy=34.9 r=3.1 />
<circle class=F cx=891.4 cy=38.9 r=3.1 />
<circle class=q cx=1071 cy=29.4 r=3.9 />
<circle class=B cx=798.9 cy=38 r=3.1 />
<circle class=R cx=1004.9 cy=24 r=3.1 />
<circle class=C cx=926.3 cy=25.7 r=3.1 />
<circle class=B cx=976.3 cy=30 r=3.1 />
<circle class=T cx=1049.3 cy=39.9 r=3.1 />
<circle class=F cx=916.9 cy=42.2 r=3.1 />
<circle class=Q cx=727.3 cy=34.9 r=3.1 />
<circle class=Q cx=1020.6 cy=42.1 r=3.1 />
<circle class=M cx=973.2 cy=42.4 r=3.1 />
<circle class=o cx=1094.3 cy=31.9 r=3.9 />
<circle class=T cx=1054 cy=43.3 r=3.1 />
<circle class=F cx=968.2 cy=47.3 r=3.1 />
<circle class=T cx=734.5 cy=34.9 r=3.1 />
<circle class=Q cx=1066.2 cy=39.1 r=3.1 />
<circle class=E cx=860.2 cy=36.5 r=3.1 />
<circle class=M cx=889.7 cy=24.1 r=3.1 />
<circle class=C cx=940.6 cy=41.8 r=3.1 />
<circle class=N cx=1003.8 cy=47.7 r=3.1 />
<circle class=F cx=949 cy=40.2 r=3.1 />
<circle class=T cx=897.4 cy=32.5 r=3.1 />
<circle class=n cx=1151.8 cy=34.3 r=3.9 />
<circle class=H cx=937.8 cy=46.8 r=3.1 />
<circle class=Q cx=1025.8 cy=41.8 r=3.1 />
<circle class=P cx=1053 cy=29.9 r=3.1 />
<circle class=F cx=937.3 cy=37.7 r=3.1 />
<circle class=W cx=777.7 cy=34.9 r=3.1 />
<circle class=I cx=986.5 cy=34.9 r=3.1 />
<circle class=O cx=679.3 cy=33.1 r=3.1 />
<circle class=C cx=894.9 cy=24.1 r=3.1 />
<circle class=R cx=775.4 cy=33.6 r=3.1 />
<circle class=J cx=1032.5 cy=34.3 r=3.1 />
<circle class=A cx=922.3 cy=49.2 r=3.1 />
<circle class=M cx=942.3 cy=44.6 r=3.1 />
<circle class=P cx=1159.3 cy=34.9 r=3.1 />
<circle class=D cx=1008.8 cy=26.3 r=3.1 />
<circle class=t cx=850.3 cy=30 r=3.9 />
<circle class=D cx=691.3 cy=34.9 r=3.1 />
<circle class=E cx=886.1 cy=27.7 r=3.1 />
<circle class=R cx=1009.1 cy=40.3 r=3.1 />
<circle class=D cx=865.9 cy=42 r=3.1 />
<circle class=S cx=1096.7 cy=36 r=3.1 />
<circle class=l cx=1030.1 cy=44.3 r=3.9 />
<circle class=U cx=752.1 cy=32.9 r=3.1 />
<circle class=T cx=1076.4 cy=35.2 r=3.1 />
<circle class=E cx=982.4 cy=40.5 r=3.1 />
<circle class=R cx=847.5 cy=33.3 r=3.1 />
<circle class=H cx=940.5 cy=32.8 r=3.1 />
<circle class=U cx=876.5 cy=31.6 r=3.1 />
<circle class=b cx=951.8 cy=17.4 r=3.9 />
<circle class=X cx=735.9 cy=31.7 r=3.1 />
<circle class=v cx=711.6 cy=32.2 r=3.9 />
<circle class=c cx=753.8 cy=37.9 r=3.9 />
<circle class=O cx=930.1 cy=39.4 r=3.1 />
<circle class=U cx=849.7 cy=34.9 r=3.1 />
<circle class=Q cx=973.2 cy=27.5 r=3.1 />
<circle class=E cx=936.2 cy=44.8 r=3.1 />
<circle class=T cx=659.7 cy=35.8 r=3.1 />
<circle class=P cx=961.2 cy=43.6 r=3.1 />
<circle class=V cx=810.7 cy=38.4 r=3.1 />
<circle class=x cx=761.1 cy=38.6 r=3.9 />
<circle class=V cx=712.9 cy=34.9 r=3.1 />
<circle class=L cx=947.3 cy=29.5 r=3.1 />
<circle class=R cx=1074.7 cy=29.3 r=3.1 />
<circle class=B cx=962.2 cy=34.4 r=3.1 />
<circle class=P cx=1048.4 cy=36.1 r=3.1 />
<circle class=H cx=974.1 cy=23.3 r=3.1 />
<circle class=D cx=989.5 cy=27.1 r=3.1 />
<circle class=T cx=669.7 cy=34.9 r=3.1 />
<circle class=v cx=667.2 cy=35.6 r=3.9 />
<circle class=E cx=966.9 cy=27.7 r=3.1 />
<circle class=F cx=914.7 cy=22.6 r=3.1 />
<circle class=D cx=784.9 cy=34.9 r=3.1 />
<circle class=c cx=907.5 cy=50.7 r=3.9 />
<circle class=B cx=960.6 cy=39.8 r=3.1 />
<circle class=K cx=886.5 cy=24.9 r=3.1 />
<circle class=h cx=958.1 cy=18.1 r=3.9 />
<circle class=O cx=937.3 cy=40.9 r=3.1 />
<circle class=H cx=915.6 cy=52.2 r=3.1 />
<circle class=I cx=970 cy=28 r=3.1 />
<circle class=D cx=837 cy=39.6 r=3.1 />
<circle class=S cx=1087.2 cy=31.8 r=3.1 />
<circle class=L cx=959.1 cy=23.2 r=3.1 />
<circle class=D cx=929.3 cy=50.9 r=3.1 />
<circle class=q cx=1169.9 cy=34.7 r=3.9 />
<circle class=N cx=968.2 cy=23.1 r=3.1 />
<circle class=N cx=885.1 cy=32.5 r=3.1 />
<circle class=F cx=885.7 cy=34.9 r=3.1 />
<circle class=S cx=970.5 cy=41.9 r=3.1 />
<circle class=A cx=1051.1 cy=26.6 r=3.1 />
<circle class=W cx=722.9 cy=34.1 r=3.1 />
<circle class=Q cx=1040.2 cy=43.4 r=3.1 />
<circle class=N cx=1169.3 cy=35.2 r=3.1 />
<circle class=C cx=806.5 cy=34.9 r=3.1 />
<circle class=S cx=1084.1 cy=40.6 r=3.1 />
<circle class=H cx=934.7 cy=26.1 r=3.1 />
<circle class=C cx=921.7 cy=34.9 r=3.1 />
<circle class=R cx=1069.6 cy=28.1 r=3.1 />
<circle class=o cx=1145.4 cy=34.6 r=3.9 />
<circle class=D cx=772.7 cy=33.4 r=3.1 />
<circle class=B cx=965.1 cy=23.8 r=3.1 />
<circle class=R cx=1079 cy=29.3 r=3.1 />
<circle class=T cx=946.3 cy=37.7 r=3.1 />
<circle class=V cx=793.3 cy=32.6 r=3.1 />
<circle class=U cx=859.5 cy=32.3 r=3.1 />
<circle class=O cx=1034.9 cy=25.4 r=3.1 />
<circle class=B cx=956.4 cy=46.6 r=3.1 />
<circle class=P cx=1078.8 cy=32.7 r=3.1 />
<circle class=R cx=1002.6 cy=26.5 r=3.1 />
<circle class=T cx=1127.9 cy=35 r=3.1 />
<circle class=B cx=719.1 cy=32.5 r=3.1 />
<circle class=e cx=891.5 cy=23.8 r=3.9 />
<circle class=Q cx=1092.4 cy=30.1 r=3.1 />
<circle class=Q cx=759.7 cy=34.1 r=3.1 />
<circle class=D cx=804.1 cy=39.6 r=3.1 />
<circle class=S cx=900.3 cy=20.7 r=3.1 />
<circle class=A cx=827.4 cy=40.8 r=3.1 />
<circle class=S cx=750.7 cy=30.3 r=3.1 />
<circle class=C cx=786.1 cy=37.1 r=3.1 />
<circle class=T cx=1083.1 cy=33.2 r=3.1 />
<circle class=B cx=1013.1 cy=37.2 r=3.1 />
<circle class=P cx=949.7 cy=16.7 r=3.1 />
<circle class=U cx=836.1 cy=31.6 r=3.1 />
<circle class=w cx=735.3 cy=31.8 r=3.9 />
<circle class=b cx=796 cy=30.7 r=3.9 />
<circle class=B cx=834.3 cy=40.8 r=3.1 />
<circle class=X cx=720.2 cy=38.3 r=3.1 />
<circle class=E cx=816.7 cy=32.8 r=3.1 />
<circle class=J cx=935.4 cy=30.6 r=3.1 />
<circle class=P cx=683 cy=37.2 r=3.1 />
<circle class=V cx=929.4 cy=47 r=3.1 />
<circle class=P cx=680.3 cy=35.3 r=3.1 />
<circle class=V cx=666.4 cy=33.3 r=3.1 />
<circle class=G cx=914.1 cy=25 r=3.1 />
<circle class=R cx=722.5 cy=31.3 r=3.1 />
<circle class=G cx=939.6 cy=44.4 r=3.1 />
<circle class=T cx=997.5 cy=26.1 r=3.1 />
<circle class=Q cx=698.6 cy=37.6 r=3.1 />
<circle class=x cx=661.9 cy=34 r=3.9 />
<circle class=D cx=852.4 cy=41.6 r=3.1 />
<circle class=P cx=973.6 cy=50.8 r=3.1 />
<circle class=O cx=1173.7 cy=34.9 r=3.1 />
<circle class=Q cx=1156.1 cy=35.7 r=3.1 />
<circle class=O cx=1017.7 cy=25.4 r=3.1 />
<circle class=U cx=832.8 cy=38.9 r=3.1 />
<circle class=Q cx=933.7 cy=33 r=3.1 />
<circle class=B cx=923.2 cy=17.5 r=3.1 />
<circle class=T cx=1005.8 cy=45.6 r=3.1 />
<circle class=B cx=817.9 cy=29.3 r=3.1 />
<circle class=X cx=688.8 cy=33.8 r=3.1 />
<circle class=d cx=831.1 cy=39.4 r=3.9 />
<circle class=O cx=898 cy=44.6 r=3.1 />
<circle class=Q cx=1004.6 cy=32.8 r=3.1 />
<circle class=S cx=831.2 cy=29 r=3.1 />
<circle class=B cx=807.6 cy=40.5 r=3.1 />
<circle class=P cx=935.6 cy=48.3 r=3.1 />
<circle class=q cx=982.6 cy=21.3 r=3.9 />
<circle class=U cx=940.8 cy=21.4 r=3.1 />
<circle class=U cx=748.1 cy=30.8 r=3.1 />
<circle class=X cx=841.1 cy=37.3 r=3.1 />
<circle class=V cx=850.3 cy=31.8 r=3.1 />
<circle class=V cx=725.7 cy=32.2 r=3.1 />
<circle class=A cx=825.5 cy=29.9 r=3.1 />
<circle class=B cx=1044.1 cy=27.3 r=3.1 />
<circle class=i cx=913.4 cy=18.9 r=3.9 />
<circle class=I cx=925.4 cy=16.4 r=3.1 />
<circle class=u cx=701.3 cy=32.7 r=3.9 />
<circle class=P cx=1067.8 cy=41.5 r=3.1 />
<circle class=U cx=1019.1 cy=28.1 r=3.1 />
<circle class=p cx=1103.2 cy=33.6 r=3.9 />
<circle class=w cx=796.2 cy=38.8 r=3.9 />
<circle class=V cx=781.8 cy=30.1 r=3.1 />
<circle class=R cx=974.7 cy=20.5 r=3.1 />
<circle class=E cx=940.5 cy=53.4 r=3.1 />
<circle class=J cx=969.3 cy=50.8 r=3.1 />
<circle class=Q cx=662.5 cy=34.9 r=3.1 />
<circle class=P cx=1065.7 cy=34.9 r=3.1 />
<circle class=P cx=980.8 cy=26.5 r=3.1 />
<circle class=b cx=718.4 cy=32.7 r=3.9 />
<circle class=W cx=764.8 cy=32.8 r=3.1 />
<circle class=C cx=916.6 cy=31.9 r=3.1 />
<circle class=S cx=884.5 cy=30 r=3.1 />
<circle class=W cx=747 cy=37 r=3.1 />
<circle class=D cx=977.8 cy=39.5 r=3.1 />
<circle class=d cx=919.6 cy=52.1 r=3.9 />
<circle class=I cx=923.1 cy=45.9 r=3.1 />
<circle class=P cx=998.1 cy=32.9 r=3.1 />
<circle class=W cx=697.7 cy=32.3 r=3.1 />
<circle class=n cx=1081.5 cy=39.5 r=3.9 />
<circle class=M cx=1034.9 cy=43.4 r=3.1 />
<circle class=W cx=910.2 cy=34.9 r=3.1 />
<circle class=S cx=720.1 cy=34.9 r=3.1 />
<circle class=D cx=780.6 cy=39.9 r=3.1 />
<circle class=D cx=827.2 cy=32.1 r=3.1 />
<circle class=J cx=943.3 cy=34.9 r=3.1 />
<circle class=b cx=813.6 cy=30.6 r=3.9 />
<circle class=B cx=807.8 cy=38 r=3.1 />
<circle class=R cx=1148.7 cy=36.2 r=3.1 />
<circle class=W cx=722.5 cy=36.9 r=3.1 />
<circle class=K cx=903.3 cy=27.5 r=3.1 />
<circle class=V cx=790.4 cy=32.4 r=3.1 />
<circle class=C cx=768.7 cy=31.2 r=3.1 />
<circle class=V cx=917.4 cy=28.7 r=3.1 />
<circle class=K cx=1001.3 cy=43.2 r=3.1 />
<circle class=P cx=1059.5 cy=38.5 r=3.1 />
<circle class=v cx=854.4 cy=29.4 r=3.9 />
<circle class=D cx=818.1 cy=34.9 r=3.1 />
<circle class=R cx=1015.7 cy=29.4 r=3.1 />
<circle class=I cx=993.3 cy=40.6 r=3.1 />
<circle class=P cx=1031.8 cy=41.7 r=3.1 />
<circle class=D cx=976.6 cy=22.7 r=3.1 />
<circle class=W cx=878.5 cy=34.9 r=3.1 />
<circle class=b cx=896.7 cy=48.2 r=3.9 />
<circle class=D cx=985.1 cy=47.2 r=3.1 />
<circle class=B cx=1044.1 cy=34.9 r=3.1 />
<circle class=S cx=1022.5 cy=34.9 r=3.1 />
<circle class=P cx=912.2 cy=37.1 r=3.1 />
<circle class=D cx=802.3 cy=31.2 r=3.1 />
<circle class=D cx=847.1 cy=28.7 r=3.1 />
<circle class=H cx=896.7 cy=21.6 r=3.1 />
<circle class=P cx=1113.9 cy=36.4 r=3.1 />
<circle class=P cx=943.5 cy=16.3 r=3.1 />
<circle class=B cx=923 cy=53.1 r=3.1 />
<circle class=D cx=888.3 cy=38.4 r=3.1 />
<circle class=n cx=993.5 cy=47.2 r=3.9 />
<circle class=H cx=911.6 cy=40.3 r=3.1 />
<circle class=A cx=897.8 cy=42 r=3.1 />
<circle class=D cx=1008.1 cy=34.9 r=3.1 />
<circle class=p cx=1076.3 cy=29.7 r=3.9 />
<circle class=E cx=992 cy=38.3 r=3.1 />
<circle class=D cx=896.5 cy=39 r=3.1 />
<circle class=D cx=864.1 cy=34.9 r=3.1 />
<circle class=Q cx=1005.3 cy=36.3 r=3.1 />
<circle class=N cx=1038 cy=32.7 r=3.1 />
<circle class=J cx=974 cy=48 r=3.1 />
<circle class=R cx=1097.5 cy=31.9 r=3.1 />
<circle class=M cx=989 cy=23.2 r=3.1 />
<circle class=P cx=1016.6 cy=32.4 r=3.1 />
<circle class=O cx=994 cy=29 r=3.1 />
<circle class=U cx=1133.6 cy=33.3 r=3.1 />
<circle class=W cx=830.1 cy=40.9 r=3.1 />
<circle class=B cx=847.1 cy=39.4 r=3.1 />
<circle class=J cx=978.9 cy=47.3 r=3.1 />
<circle class=P cx=1017.4 cy=46.1 r=3.1 />
<circle class=X cx=677.8 cy=37.3 r=3.1 />
<circle class=a cx=808.8 cy=30.9 r=3.9 />
<circle class=b cx=824.9 cy=40 r=3.9 />
<circle class=B cx=1017.5 cy=36.1 r=3.1 />
<circle class=T cx=1051.3 cy=34.9 r=3.1 />
<circle class=V cx=766.1 cy=30.5 r=3.1 />
<circle class=C cx=774.6 cy=31.3 r=3.1 />
<circle class=U cx=758.2 cy=38.7 r=3.1 />
<circle class=N cx=981.8 cy=44 r=3.1 />
<circle class=P cx=959.9 cy=33.5 r=3.1 />
<circle class=P cx=1126 cy=33.3 r=3.1 />
<circle class=D cx=936.9 cy=25.1 r=3.1 />
<circle class=B cx=882.6 cy=27.2 r=3.1 />
<circle class=S cx=742.8 cy=37.1 r=3.1 />
<circle class=C cx=792.1 cy=34.9 r=3.1 />
<circle class=H cx=906.1 cy=32.1 r=3.1 />
<circle class=L cx=917.6 cy=22.9 r=3.1 />
<circle class=R cx=1000.6 cy=25.2 r=3.1 />
<circle class=C cx=897.2 cy=25.5 r=3.1 />
<circle class=P cx=829.1 cy=30.4 r=3.1 />
<circle class=O cx=1040.7 cy=33 r=3.1 />
<circle class=p cx=655.3 cy=34.6 r=3.9 />
<circle class=T cx=1097.4 cy=38.4 r=3.1 />
<circle class=G cx=983.9 cy=22.7 r=3.1 />
<circle class=P cx=1164.1 cy=33.4 r=3.1 />
<circle class=O cx=943.2 cy=41.3 r=3.1 />
<circle class=C cx=950 cy=42.9 r=3.1 />
<circle class=A cx=871.3 cy=34.9 r=3.1 />
<circle class=H cx=991 cy=29.8 r=3.1 />
<circle class=C cx=855.2 cy=28.8 r=3.1 />
<circle class=Q cx=978.4 cy=27 r=3.1 />
<circle class=V cx=813.7 cy=34.9 r=3.1 />
<circle class=I cx=925.2 cy=36.2 r=3.1 />
<circle class=c cx=1028.9 cy=25.6 r=3.9 />
<circle class=u cx=843.7 cy=39.9 r=3.9 />
<circle class=D cx=909.3 cy=30.2 r=3.1 />
<circle class=R cx=863.5 cy=41.6 r=3.1 />
<circle class=q cx=1164.2 cy=34.8 r=3.9 />
<circle class=D cx=888.8 cy=28.1 r=3.1 />
<circle class=M cx=900.3 cy=23.8 r=3.1 />
<circle class=C cx=833 cy=33.3 r=3.1 />
<circle class=R cx=1009.8 cy=37.9 r=3.1 />
<circle class=B cx=899.9 cy=26.5 r=3.1 />
<circle class=D cx=939.7 cy=39.5 r=3.1 />
<circle class=C cx=864.5 cy=32.3 r=3.1 />
<circle class=B cx=899.9 cy=46.8 r=3.1 />
<circle class=q cx=1006.7 cy=46.5 r=3.9 />
<circle class=A cx=711.4 cy=37 r=3.1 />
<circle class=K cx=951.4 cy=32.1 r=3.1 />
<circle class=R cx=1034.7 cy=33.2 r=3.1 />
<circle class=I cx=946.2 cy=47.6 r=3.1 />
<circle class=R cx=1025.6 cy=24.2 r=3.1 />
<circle class=D cx=958 cy=38.8 r=3.1 />
<circle class=U cx=832 cy=35.6 r=3.1 />
<circle class=W cx=770.5 cy=34.9 r=3.1 />
<circle class=t cx=741.4 cy=38.5 r=3.9 />
<circle class=S cx=874.7 cy=37.5 r=3.1 />
<circle class=E cx=845.7 cy=30.7 r=3.1 />
<circle class=N cx=1163 cy=35.6 r=3.1 />
<circle class=Q cx=745.2 cy=30.8 r=3.1 />
<circle class=a cx=1052 cy=27.6 r=3.9 />
<circle class=K cx=890.5 cy=30 r=3.1 />
<circle class=o cx=1150.9 cy=34.9 r=3.9 />
<circle class=D cx=991.8 cy=22.7 r=3.1 />
<circle class=O cx=1061.7 cy=39.7 r=3.1 />
<circle class=H cx=970.8 cy=38.8 r=3.1 />
<circle class=C cx=882.8 cy=34.5 r=3.1 />
<circle class=B cx=933 cy=30.4 r=3.1 />
<circle class=O cx=1032.5 cy=44.2 r=3.1 />
<circle class=T cx=976.1 cy=41.3 r=3.1 />
<circle class=W cx=880.2 cy=29.7 r=3.1 />
<circle class=O cx=1059 cy=31 r=3.1 />
<circle class=S cx=1018.9 cy=44.1 r=3.1 />
<circle class=h cx=969.8 cy=50.8 r=3.9 />
<circle class=N cx=1042 cy=25.5 r=3.1 />
<circle class=P cx=949.6 cy=47.6 r=3.1 />
<circle class=C cx=937.1 cy=28.9 r=3.1 />
<circle class=W cx=714.6 cy=37.7 r=3.1 />
<circle class=h cx=945.6 cy=17.5 r=3.9 />
<circle class=o cx=1093.2 cy=38.4 r=3.9 />
<circle class=w cx=772 cy=31.6 r=3.9 />
<circle class=P cx=933.4 cy=37.9 r=3.1 />
<circle class=P cx=955.3 cy=25.1 r=3.1 />
<circle class=S cx=1043.1 cy=40.3 r=3.1 />
<circle class=Q cx=1142.8 cy=36.4 r=3.1 />
<circle class=v cx=777.9 cy=39.1 r=3.9 />
<circle class=d cx=807.2 cy=39 r=3.9 />
<circle class=J cx=990.5 cy=35.6 r=3.1 />
<circle class=P cx=1040.9 cy=28 r=3.1 />
<circle class=L cx=993.7 cy=34.9 r=3.1 />
<circle class=N cx=999.1 cy=37.5 r=3.1 />
<circle class=X cx=854.2 cy=33.9 r=3.1 />
<circle class=O cx=1072.9 cy=34.9 r=3.1 />
<circle class=I cx=916.9 cy=25.5 r=3.1 />
<circle class=M cx=887.1 cy=31.1 r=3.1 />
<circle class=m cx=964.5 cy=50.7 r=3.9 />
<circle class=P cx=751.8 cy=35.9 r=3.1 />
<circle class=T cx=1074.4 cy=40.6 r=3.1 />
<circle class=A cx=905.6 cy=28.3 r=3.1 />
<circle class=U cx=804.8 cy=36.7 r=3.1 />
<circle class=K cx=1023 cy=40.8 r=3.1 />
<circle class=P cx=1087.8 cy=40.3 r=3.1 />
<circle class=P cx=1074.3 cy=31.8 r=3.1 />
<circle class=b cx=719 cy=37.1 r=3.9 />
<circle class=J cx=952.8 cy=42.9 r=3.1 />
<circle class=R cx=953 cy=28 r=3.1 />
<circle class=R cx=1104.7 cy=36.5 r=3.1 />
<circle class=C cx=856.9 cy=34.9 r=3.1 />
<circle class=B cx=764.1 cy=38.1 r=3.1 />
<circle class=r cx=884 cy=26.7 r=3.9 />
<circle class=o cx=666.4 cy=33.9 r=3.9 />
<circle class=N cx=964.4 cy=45 r=3.1 />
<circle class=U cx=819.6 cy=38.5 r=3.1 />
<circle class=Q cx=1000.2 cy=39.9 r=3.1 />
<circle class=V cx=694.9 cy=32.7 r=3.1 />
<circle class=H cx=960.3 cy=49.9 r=3.1 />
<circle class=p cx=1122.9 cy=34.4 r=3.9 />
<circle class=X cx=766.3 cy=39.4 r=3.1 />
<circle class=Q cx=1036.9 cy=34.9 r=3.1 />
<circle class=B cx=1016.1 cy=44 r=3.1 />
<circle class=B cx=820.7 cy=40.8 r=3.1 />
<circle class=c cx=824.4 cy=29.8 r=3.9 />
<circle class=T cx=737.9 cy=33.1 r=3.1 />
<circle class=O cx=1045.2 cy=38.1 r=3.1 />
<circle class=B cx=963.1 cy=17.6 r=3.1 />
<circle class=C cx=1034.6 cy=28.1 r=3.1 />
<circle class=M cx=959.3 cy=20 r=3.1 />
<circle class=D cx=936.1 cy=34.9 r=3.1 />
<circle class=l cx=1006.8 cy=23.4 r=3.9 />
<circle class=I cx=910.7 cy=49.2 r=3.1 />
<circle class=w cx=761.1 cy=31.6 r=3.9 />
<circle class=P cx=1022.9 cy=23.8 r=3.1 />
<circle class=I cx=930.7 cy=22.6 r=3.1 />
<circle class=E cx=843.7 cy=32.3 r=3.1 />
<circle class=C cx=843.8 cy=38.4 r=3.1 />
<circle class=J cx=936.9 cy=32.6 r=3.1 />
<circle class=G cx=946.1 cy=40.6 r=3.1 />
<circle class=b cx=872.7 cy=28.5 r=3.9 />
<circle class=W cx=705.7 cy=34.9 r=3.1 />
<circle class=I cx=914.1 cy=45.2 r=3.1 />
<circle class=Q cx=1052.7 cy=32.8 r=3.1 />
<circle class=F cx=951.4 cy=24.2 r=3.1 />
<circle class=p cx=1011.4 cy=45.4 r=3.9 />
<circle class=L cx=1018 cy=40 r=3.1 />
<circle class=Q cx=1003.2 cy=29 r=3.1 />
<circle class=C cx=861.7 cy=29.2 r=3.1 />
<circle class=P cx=684.1 cy=34.9 r=3.1 />
<circle class=p cx=1129.5 cy=35.2 r=3.9 />
<circle class=M cx=1084 cy=37.1 r=3.1 />
<circle class=m cx=994.5 cy=23 r=3.9 />
<circle class=S cx=741.7 cy=34.9 r=3.1 />
<circle class=w cx=766.9 cy=38.7 r=3.9 />
<circle class=G cx=927.8 cy=16.7 r=3.1 />
<circle class=B cx=1015.9 cy=38.4 r=3.1 />
<circle class=B cx=982.4 cy=31.8 r=3.1 />
<circle class=I cx=1054.8 cy=37.1 r=3.1 />
<circle class=S cx=912 cy=22.2 r=3.1 />
<circle class=W cx=742.7 cy=31.2 r=3.1 />
<circle class=P cx=712 cy=32.7 r=3.1 />
<circle class=D cx=851 cy=39.2 r=3.1 />
<circle class=V cx=672.9 cy=35.9 r=3.1 />
<circle class=C cx=900.5 cy=43 r=3.1 />
<circle class=O cx=1047.1 cy=29.7 r=3.1 />
<circle class=E cx=924.4 cy=42.9 r=3.1 />
<circle class=B cx=872.4 cy=31.4 r=3.1 />
<circle class=E cx=952.4 cy=18.5 r=3.1 />
<circle class=B cx=867.3 cy=28 r=3.1 />
<circle class=Q cx=973.1 cy=38 r=3.1 />
<circle class=n cx=1135.7 cy=35.4 r=3.9 />
<circle class=P cx=1090.5 cy=33.8 r=3.1 />
<circle class=W cx=709.5 cy=34.8 r=3.1 />
<circle class=t cx=1176.7 cy=34.9 r=3.9 />
<circle class=R cx=902.9 cy=20.1 r=3.1 />
<circle class=V cx=763.3 cy=34.9 r=3.1 />
<circle class=R cx=902.7 cy=24.8 r=3.1 />
<circle class=a cx=1069.7 cy=40.4 r=3.9 />
<circle class=D cx=939 cy=30.7 r=3.1 />
<circle class=k cx=976.1 cy=49.5 r=3.9 />
<circle class=B cx=913.8 cy=50.3 r=3.1 />
<circle class=W cx=851.9 cy=28.4 r=3.1 />
<circle class=G cx=994.9 cy=26.1 r=3.1 />
<circle class=T cx=1041.7 cy=37.9 r=3.1 />
<circle class=u cx=1036 cy=26.1 r=3.9 />
<circle class=Q cx=915.2 cy=39 r=3.1 />
<circle class=K cx=997.2 cy=47.1 r=3.1 />
<circle class=I cx=930.4 cy=44.2 r=3.1 />
<circle class=X cx=692.5 cy=37 r=3.1 />
<circle class=P cx=1087.3 cy=34.9 r=3.1 />
<circle class=R cx=1060.3 cy=27.5 r=3.1 />
<circle class=V cx=789.5 cy=29.9 r=3.1 />
<circle class=V cx=700.5 cy=31.8 r=3.1 />
<circle class=S cx=1064 cy=38.2 r=3.1 />
<circle class=V cx=874.3 cy=29.5 r=3.1 />
<circle class=Q cx=962.5 cy=52.5 r=3.1 />
<circle class=T cx=824.9 cy=34.4 r=3.1 />
<circle class=J cx=919.6 cy=51.4 r=3.1 />
<circle class=P cx=775.6 cy=36.5 r=3.1 />
<circle class=P cx=1062.5 cy=42 r=3.1 />
<circle class=w cx=674.3 cy=35.3 r=3.9 />
<circle class=d cx=678.2 cy=33.6 r=3.9 />
<circle class=R cx=978 cy=20.7 r=3.1 />
<circle class=T cx=1031.3 cy=26.2 r=3.1 />
<circle class=J cx=985.4 cy=44.2 r=3.1 />
<circle class=q cx=957.4 cy=51.4 r=3.9 />
<circle class=K cx=900.9 cy=49.4 r=3.1 />
<circle class=S cx=1065 cy=41.6 r=3.1 />
<circle class=C cx=980.2 cy=37.7 r=3.1 />
<circle class=P cx=1073.8 cy=38.2 r=3.1 />
<circle class=D cx=955.5 cy=16.6 r=3.1 />
<circle class=M cx=928.9 cy=34.9 r=3.1 />
<circle class=J cx=967.2 cy=18.4 r=3.1 />
<circle class=P cx=1076.8 cy=31.1 r=3.1 />
<circle class=d cx=731 cy=38.1 r=3.9 />
<circle class=A cx=801.6 cy=37.5 r=3.1 />
<circle class=C cx=815.6 cy=30.4 r=3.1 />
<circle class=B cx=793.3 cy=30 r=3.1 />
<circle class=S cx=788.8 cy=36.4 r=3.1 />
<circle class=D cx=783.4 cy=37.3 r=3.1 />
<circle class=P cx=1105.6 cy=34 r=3.1 />
<circle class=V cx=672 cy=33.6 r=3.1 />
<circle class=x cx=725.2 cy=31.9 r=3.9 />
<circle class=O cx=795.5 cy=37 r=3.1 />
<circle class=B cx=858.2 cy=38.1 r=3.1 />
<circle class=R cx=692 cy=32.1 r=3.1 />
<circle class=v cx=830.6 cy=30.1 r=3.9 />
<circle class=V cx=732.2 cy=38.8 r=3.1 />
<circle class=D cx=921.1 cy=19.2 r=3.1 />
<circle class=E cx=976.3 cy=46.7 r=3.1 />
<circle class=P cx=1069.2 cy=33.2 r=3.1 />
<circle class=A cx=928.7 cy=31.6 r=3.1 />
<circle class=B cx=1029.7 cy=34.9 r=3.1 />
<circle class=l cx=1000.1 cy=23 r=3.9 />
<circle class=F cx=942.3 cy=24.9 r=3.1 />
<circle class=T cx=955.8 cy=32.2 r=3.1 />
<circle class=C cx=939.8 cy=24.8 r=3.1 />
<circle class=D cx=983.2 cy=20.4 r=3.1 />
<circle class=P cx=1014.1 cy=40.2 r=3.1 />
<circle class=n cx=1082.2 cy=30.2 r=3.9 />
<circle class=W cx=800.1 cy=29.7 r=3.1 />
<circle class=Q cx=1139.7 cy=36.4 r=3.1 />
<circle class=p cx=1116.4 cy=34.1 r=3.9 />
<circle class=C cx=980.7 cy=21.7 r=3.1 />
<circle class=w cx=859.8 cy=40.4 r=3.9 />
<circle class=L cx=942.7 cy=50.1 r=3.1 />
<circle class=S cx=1033.1 cy=30.2 r=3.1 />
<circle class=D cx=1058.2 cy=41.6 r=3.1 />
<circle class=P cx=1108.9 cy=34.9 r=3.1 />
<circle class=B cx=927.5 cy=40.7 r=3.1 />
<circle class=l cx=1018 cy=44.8 r=3.9 />
<circle class=V cx=717 cy=36.9 r=3.1 />
<circle class=S cx=1166.5 cy=34.9 r=3.1 />
<circle class=J cx=911.6 cy=45 r=3.1 />
<circle class=U cx=871.8 cy=38.7 r=3.1 />
<circle class=j cx=597.3 cy=85.5 r=3.9 />
<circle class=j cx=637 cy=85.5 r=3.9 />
<circle class=j cx=613.7 cy=85.5 r=3.9 />
<circle class=j cx=605.9 cy=85.5 r=3.9 />
<circle class=k cx=660 cy=85.5 r=3.9 />
<circle class=j cx=655 cy=85.5 r=3.9 />
<circle class=k cx=673.7 cy=85.5 r=3.9 />
<circle class=k cx=643 cy=85.5 r=3.9 />
<circle class=k cx=649 cy=85.5 r=3.9 />
<circle class=k cx=623.8 cy=85.5 r=3.9 />
<circle class=k cx=688.5 cy=85.5 r=3.9 />
<circle class=k cx=583.3 cy=85.5 r=3.9 />
<circle class=P cx=1102.4 cy=85.6 r=3.1 />
<circle class=R cx=900 cy=72.5 r=3.1 />
<circle class=Q cx=929 cy=76.7 r=3.1 />
<circle class=w cx=1039.7 cy=82.5 r=3.9 />
<circle class=w cx=933.2 cy=69.9 r=3.9 />
<circle class=R cx=844.4 cy=87.9 r=3.1 />
<circle class=M cx=795.2 cy=83.3 r=3.1 />
<circle class=Q cx=871.2 cy=87.6 r=3.1 />
<circle class=W cx=963.3 cy=82.2 r=3.1 />
<circle class=S cx=943.6 cy=85.3 r=3.1 />
<circle class=X cx=932.9 cy=96.7 r=3.1 />
<circle class=U cx=991.6 cy=89.6 r=3.1 />
<circle class=R cx=958.4 cy=94.1 r=3.1 />
<circle class=B cx=931.7 cy=79.1 r=3.1 />
<circle class=Q cx=889.2 cy=94.6 r=3.1 />
<circle class=G cx=798.8 cy=81 r=3.1 />
<circle class=l cx=830.3 cy=80.5 r=3.9 />
<circle class=K cx=874.5 cy=90.6 r=3.1 />
<circle class=N cx=919.9 cy=98 r=3.1 />
<circle class=c cx=886.2 cy=96.2 r=3.9 />
<circle class=u cx=963 cy=70.2 r=3.9 />
<circle class=P cx=913 cy=71.2 r=3.1 />
<circle class=R cx=872.7 cy=83.1 r=3.1 />
<circle class=X cx=988.2 cy=78.3 r=3.1 />
<circle class=C cx=1049 cy=82.8 r=3.1 />
<circle class=U cx=835.8 cy=80 r=3.1 />
<circle class=C cx=1081.3 cy=87.5 r=3.1 />
<circle class=J cx=853.9 cy=93.3 r=3.1 />
<circle class=W cx=956.2 cy=97.1 r=3.1 />
<circle class=W cx=976.7 cy=82.7 r=3.1 />
<circle class=a cx=1115.3 cy=85.3 r=3.9 />
<circle class=Q cx=916.3 cy=94.8 r=3.1 />
<circle class=N cx=908.6 cy=79.3 r=3.1 />
<circle class=T cx=944.1 cy=88.6 r=3.1 />
<circle class=K cx=856.7 cy=83.5 r=3.1 />
<circle class=D cx=885.1 cy=80.5 r=3.1 />
<circle class=Q cx=1011.6 cy=88.3 r=3.1 />
<circle class=B cx=986.5 cy=91.5 r=3.1 />
<circle class=K cx=792 cy=90.4 r=3.1 />
<circle class=U cx=999.6 cy=89.8 r=3.1 />
<circle class=M cx=710.7 cy=85.5 r=3.1 />
<circle class=D cx=942 cy=102.8 r=3.1 />
<circle class=R cx=955.4 cy=78.2 r=3.1 />
<circle class=m cx=897.6 cy=73.5 r=3.9 />
<circle class=R cx=979.7 cy=97.5 r=3.1 />
<circle class=b cx=1051.4 cy=86.8 r=3.9 />
<circle class=J cx=831.2 cy=80.6 r=3.1 />
<circle class=T cx=864.1 cy=94.3 r=3.1 />
<circle class=N cx=792.6 cy=81.4 r=3.1 />
<circle class=J cx=880.7 cy=74.9 r=3.1 />
<circle class=c cx=910.1 cy=98.6 r=3.9 />
<circle class=A cx=966.7 cy=100.9 r=3.1 />
<circle class=U cx=1006.4 cy=91.3 r=3.1 />
<circle class=B cx=974.2 cy=81 r=3.1 />
<circle class=T cx=892.3 cy=81.3 r=3.1 />
<circle class=X cx=1013.2 cy=90.8 r=3.1 />
<circle class=N cx=950 cy=96.4 r=3.1 />
<circle class=M cx=742.5 cy=83.6 r=3.1 />
<circle class=D cx=984.7 cy=98.4 r=3.1 />
<circle class=W cx=1095.8 cy=85.9 r=3.1 />
<circle class=I cx=833.8 cy=83.2 r=3.1 />
<circle class=P cx=989.8 cy=76.5 r=3.1 />
<circle class=i cx=745.9 cy=85.8 r=3.9 />
<circle class=D cx=986.8 cy=84.4 r=3.1 />
<circle class=W cx=932.2 cy=94.3 r=3.1 />
<circle class=J cx=830.3 cy=89.2 r=3.1 />
<circle class=N cx=953.8 cy=101.2 r=3.1 />
<circle class=H cx=774.9 cy=88.6 r=3.1 />
<circle class=K cx=833.4 cy=79.4 r=3.1 />
<circle class=N cx=725.1 cy=85.5 r=3.1 />
<circle class=U cx=1067.5 cy=87.3 r=3.1 />
<circle class=g cx=735.8 cy=85 r=3.9 />
<circle class=S cx=929.3 cy=95 r=3.1 />
<circle class=X cx=997.5 cy=83.2 r=3.1 />
<circle class=J cx=817.1 cy=87.2 r=3.1 />
<circle class=D cx=921.3 cy=81.6 r=3.1 />
<circle class=W cx=992.3 cy=95.1 r=3.1 />
<circle class=m cx=786.8 cy=88.5 r=3.9 />
<circle class=e cx=1080.8 cy=86.6 r=3.9 />
<circle class=F cx=902.9 cy=78.6 r=3.1 />
<circle class=M cx=897.6 cy=91.1 r=3.1 />
<circle class=D cx=1128.3 cy=85.5 r=3.1 />
<circle class=O cx=959.2 cy=87.2 r=3.1 />
<circle class=S cx=948.4 cy=100.5 r=3.1 />
<circle class=K cx=813.4 cy=87.5 r=3.1 />
<circle class=w cx=968.9 cy=70.9 r=3.9 />
<circle class=V cx=878.3 cy=75.6 r=3.1 />
<circle class=T cx=895.8 cy=95.5 r=3.1 />
<circle class=U cx=957.4 cy=83.5 r=3.1 />
<circle class=V cx=901.7 cy=89.2 r=3.1 />
<circle class=m cx=804.3 cy=81.4 r=3.9 />
<circle class=O cx=858 cy=90.5 r=3.1 />
<circle class=Q cx=938.5 cy=72.8 r=3.1 />
<circle class=w cx=1109.4 cy=85.1 r=3.9 />
<circle class=C cx=908.6 cy=76.8 r=3.1 />
<circle class=Q cx=935.6 cy=97.6 r=3.1 />
<circle class=H cx=817.2 cy=89.9 r=3.1 />
<circle class=B cx=1110.9 cy=87.3 r=3.1 />
<circle class=g cx=696.3 cy=85.4 r=3.9 />
<circle class=W cx=1008.3 cy=77.1 r=3.1 />
<circle class=U cx=1093.9 cy=83.6 r=3.1 />
<circle class=u cx=974.2 cy=99.2 r=3.9 />
<circle class=T cx=887.1 cy=90.6 r=3.1 />
<circle class=H cx=810.8 cy=88.1 r=3.1 />
<circle class=d cx=1093.8 cy=84.3 r=3.9 />
<circle class=N cx=926.8 cy=80.8 r=3.1 />
<circle class=C cx=962.2 cy=99.2 r=3.1 />
<circle class=U cx=911.3 cy=99.2 r=3.1 />
<circle class=C cx=969.9 cy=85.5 r=3.1 />
<circle class=l cx=713.3 cy=85.3 r=3.9 />
<circle class=W cx=965.9 cy=80.1 r=3.1 />
<circle class=B cx=1079.2 cy=83.2 r=3.1 />
<circle class=V cx=1013.1 cy=85.5 r=3.1 />
<circle class=C cx=1056.3 cy=85.5 r=3.1 />
<circle class=D cx=1007.5 cy=94 r=3.1 />
<circle class=B cx=999.3 cy=80.6 r=3.1 />
<circle class=H cx=742.9 cy=86.6 r=3.1 />
<circle class=A cx=976.5 cy=72 r=3.1 />
<circle class=w cx=1014.8 cy=79.4 r=3.9 />
<circle class=G cx=873.3 cy=92.7 r=3.1 />
<circle class=I cx=753.9 cy=85.5 r=3.1 />
<circle class=B cx=921.9 cy=87.1 r=3.1 />
<circle class=b cx=751.9 cy=85.2 r=3.9 />
<circle class=b cx=961.5 cy=100 r=3.9 />
<circle class=P cx=891 cy=76.5 r=3.1 />
<circle class=j cx=773.2 cy=82.5 r=3.9 />
<circle class=O cx=857.3 cy=93 r=3.1 />
<circle class=W cx=895.7 cy=81.8 r=3.1 />
<circle class=T cx=894.3 cy=83.9 r=3.1 />
<circle class=A cx=938.8 cy=78.1 r=3.1 />
<circle class=c cx=809 cy=89.8 r=3.9 />
<circle class=V cx=1042.6 cy=88.8 r=3.1 />
<circle class=B cx=808.2 cy=84.5 r=3.1 />
<circle class=I cx=898.3 cy=80.8 r=3.1 />
<circle class=L cx=846 cy=83.3 r=3.1 />
<circle class=V cx=851 cy=91.5 r=3.1 />
<circle class=E cx=763.8 cy=85.8 r=3.1 />
<circle class=D cx=940.6 cy=100.1 r=3.1 />
<circle class=D cx=988.8 cy=92.2 r=3.1 />
<circle class=K cx=864.7 cy=84.5 r=3.1 />
<circle class=P cx=893.1 cy=86.5 r=3.1 />
<circle class=S cx=953.3 cy=86.7 r=3.1 />
<circle class=D cx=865 cy=79.5 r=3.1 />
<circle class=e cx=780.9 cy=88.1 r=3.9 />
<circle class=C cx=933.3 cy=99.8 r=3.1 />
<circle class=d cx=1020.6 cy=90.9 r=3.9 />
<circle class=S cx=901.6 cy=80.8 r=3.1 />
<circle class=P cx=932.4 cy=102 r=3.1 />
<circle class=W cx=1003.1 cy=88.8 r=3.1 />
<circle class=C cx=1133.4 cy=83.8 r=3.1 />
<circle class=H cx=817.6 cy=81.8 r=3.1 />
<circle class=c cx=1140.2 cy=85.3 r=3.9 />
<circle class=O cx=960.7 cy=74.9 r=3.1 />
<circle class=U cx=1001.1 cy=84.9 r=3.1 />
<circle class=l cx=859 cy=92.7 r=3.9 />
<circle class=U cx=960.9 cy=77.8 r=3.1 />
<circle class=W cx=909.2 cy=72.1 r=3.1 />
<circle class=C cx=967.7 cy=98.3 r=3.1 />
<circle class=P cx=959.7 cy=84.5 r=3.1 />
<circle class=T cx=1097.7 cy=83.6 r=3.1 />
<circle class=R cx=806.9 cy=81.5 r=3.1 />
<circle class=D cx=1005.9 cy=85.5 r=3.1 />
<circle class=J cx=893.6 cy=97.2 r=3.1 />
<circle class=o cx=934 cy=101.2 r=3.9 />
<circle class=R cx=861.7 cy=93.2 r=3.1 />
<circle class=A cx=964.6 cy=98.2 r=3.1 />
<circle class=a cx=1166.7 cy=85.2 r=3.9 />
<circle class=W cx=1000.5 cy=87.5 r=3.1 />
<circle class=B cx=1126.2 cy=86.9 r=3.1 />
<circle class=W cx=921.9 cy=96.6 r=3.1 />
<circle class=U cx=1009.6 cy=86.8 r=3.1 />
<circle class=Q cx=904.1 cy=94 r=3.1 />
<circle class=N cx=874 cy=95.4 r=3.1 />
<circle class=C cx=997.5 cy=75.3 r=3.1 />
<circle class=J cx=889.1 cy=87.9 r=3.1 />
<circle class=V cx=852.5 cy=87.2 r=3.1 />
<circle class=m cx=774.5 cy=88.1 r=3.9 />
<circle class=E cx=779 cy=89.1 r=3.1 />
<circle class=C cx=934.9 cy=102.8 r=3.1 />
<circle class=W cx=963.9 cy=89.3 r=3.1 />
<circle class=K cx=720.5 cy=86.8 r=3.1 />
<circle class=D cx=939.5 cy=93.1 r=3.1 />
<circle class=G cx=804.2 cy=88.8 r=3.1 />
<circle class=B cx=920.9 cy=71.8 r=3.1 />
<circle class=X cx=869.8 cy=91 r=3.1 />
<circle class=c cx=979.6 cy=97.5 r=3.9 />
<circle class=O cx=917.1 cy=76.6 r=3.1 />
<circle class=P cx=969.7 cy=71.4 r=3.1 />
<circle class=Q cx=900 cy=96.7 r=3.1 />
<circle class=c cx=1075.7 cy=86.5 r=3.9 />
<circle class=R cx=1109.6 cy=84.5 r=3.1 />
<circle class=O cx=900 cy=83.7 r=3.1 />
<circle class=G cx=935.9 cy=73.7 r=3.1 />
<circle class=U cx=809 cy=79.8 r=3.1 />
<circle class=I cx=897.9 cy=85.5 r=3.1 />
<circle class=a cx=922 cy=99.9 r=3.9 />
<circle class=P cx=911.1 cy=75.3 r=3.1 />
<circle class=O cx=937 cy=93.6 r=3.1 />
<circle class=P cx=920.8 cy=93 r=3.1 />
<circle class=S cx=932.8 cy=89.8 r=3.1 />
<circle class=P cx=905.1 cy=85.5 r=3.1 />
<circle class=I cx=917.3 cy=87.4 r=3.1 />
<circle class=W cx=1161.4 cy=85 r=3.1 />
<circle class=X cx=1001.4 cy=91.4 r=3.1 />
<circle class=X cx=960.3 cy=97.5 r=3.1 />
<circle class=B cx=890.7 cy=85.5 r=3.1 />
<circle class=T cx=988.8 cy=88.3 r=3.1 />
<circle class=S cx=937.4 cy=87.2 r=3.1 />
<circle class=U cx=1006.4 cy=82.1 r=3.1 />
<circle class=Q cx=1004 cy=91.7 r=3.1 />
<circle class=O cx=929 cy=82.9 r=3.1 />
<circle class=d cx=1015.5 cy=91.8 r=3.9 />
<circle class=Q cx=926.7 cy=85.5 r=3.1 />
<circle class=d cx=1055.8 cy=87 r=3.9 />
<circle class=P cx=883.2 cy=91.5 r=3.1 />
<circle class=R cx=927.2 cy=74.7 r=3.1 />
<circle class=D cx=1149.9 cy=85.5 r=3.1 />
<circle class=S cx=940.2 cy=95.5 r=3.1 />
<circle class=D cx=1121.1 cy=85.5 r=3.1 />
<circle class=Q cx=988.9 cy=85.6 r=3.1 />
<circle class=D cx=876.3 cy=85.5 r=3.1 />
<circle class=A cx=880.3 cy=90.7 r=3.1 />
<circle class=l cx=768.3 cy=83 r=3.9 />
<circle class=W cx=983 cy=93.7 r=3.1 />
<circle class=P cx=927.1 cy=99.6 r=3.1 />
<circle class=B cx=978.2 cy=88.6 r=3.1 />
<circle class=X cx=911.2 cy=95.9 r=3.1 />
<circle class=S cx=905.6 cy=77.3 r=3.1 />
<circle class=J cx=808.3 cy=87.8 r=3.1 />
<circle class=U cx=1113.9 cy=85.5 r=3.1 />
<circle class=Q cx=933.9 cy=85.5 r=3.1 />
<circle class=r cx=729.7 cy=85.3 r=3.9 />
<circle class=Q cx=844.9 cy=81 r=3.1 />
<circle class=S cx=913.6 cy=93 r=3.1 />
<circle class=X cx=950.7 cy=71.7 r=3.1 />
<circle class=d cx=1033.9 cy=82.1 r=3.9 />
<circle class=R cx=987 cy=97.1 r=3.1 />
<circle class=g cx=756.6 cy=86.6 r=3.9 />
<circle class=B cx=1024.7 cy=85.3 r=3.1 />
<circle class=S cx=918.1 cy=100 r=3.1 />
<circle class=h cx=756.7 cy=84.3 r=3.9 />
<circle class=C cx=965 cy=70.1 r=3.1 />
<circle class=d cx=870 cy=77.2 r=3.9 />
<circle class=P cx=993.2 cy=92.8 r=3.1 />
<circle class=A cx=913 cy=90.4 r=3.1 />
<circle class=T cx=851.9 cy=80.8 r=3.1 />
<circle class=P cx=953.4 cy=74.8 r=3.1 />
<circle class=d cx=785.5 cy=82.1 r=3.9 />
<circle class=j cx=702.7 cy=85.3 r=3.9 />
<circle class=U cx=970.5 cy=96.7 r=3.1 />
<circle class=W cx=923.3 cy=79.1 r=3.1 />
<circle class=C cx=758 cy=86 r=3.1 />
<circle class=m cx=831.7 cy=91 r=3.9 />
<circle class=t cx=980.9 cy=72.7 r=3.9 />
<circle class=x cx=1105.4 cy=85.9 r=3.9 />
<circle class=X cx=952.1 cy=81.5 r=3.1 />
<circle class=D cx=1058 cy=87.3 r=3.1 />
<circle class=B cx=882.4 cy=80.1 r=3.1 />
<circle class=W cx=933.9 cy=92.1 r=3.1 />
<circle class=D cx=1031.2 cy=87.6 r=3.1 />
<circle class=D cx=917.2 cy=84.2 r=3.1 />
<circle class=B cx=949.9 cy=80.3 r=3.1 />
<circle class=C cx=824.7 cy=81.3 r=3.1 />
<circle class=V cx=965 cy=95.1 r=3.1 />
<circle class=J cx=862.7 cy=82.4 r=3.1 />
<circle class=L cx=714 cy=84.4 r=3.1 />
<circle class=D cx=888.4 cy=74.9 r=3.1 />
<circle class=D cx=703.5 cy=85.5 r=3.1 />
<circle class=D cx=862.2 cy=79.8 r=3.1 />
<circle class=b cx=819.7 cy=90 r=3.9 />
<circle class=P cx=949.5 cy=77.7 r=3.1 />
<circle class=K cx=767.3 cy=82.6 r=3.1 />
<circle class=A cx=1029.2 cy=89.9 r=3.1 />
<circle class=W cx=941.1 cy=85.5 r=3.1 />
<circle class=S cx=971.8 cy=75.5 r=3.1 />
<circle class=r cx=1057.5 cy=83.6 r=3.9 />
<circle class=b cx=1097.7 cy=86.3 r=3.9 />
<circle class=F cx=790.8 cy=83.1 r=3.1 />
<circle class=D cx=874 cy=87 r=3.1 />
<circle class=C cx=1063.5 cy=85.5 r=3.1 />
<circle class=T cx=942.4 cy=98.4 r=3.1 />
<circle class=P cx=974.2 cy=88.1 r=3.1 />
<circle class=P cx=945.8 cy=86.6 r=3.1 />
<circle class=F cx=786.7 cy=85.8 r=3.1 />
<circle class=H cx=897.3 cy=88.4 r=3.1 />
<circle class=D cx=1153 cy=87 r=3.1 />
<circle class=V cx=934 cy=75.4 r=3.1 />
<circle class=E cx=772.7 cy=86.5 r=3.1 />
<circle class=D cx=1022.6 cy=86.5 r=3.1 />
<circle class=o cx=956.5 cy=101.1 r=3.9 />
<circle class=q cx=864.3 cy=76.9 r=3.9 />
<circle class=C cx=1075.5 cy=86.1 r=3.1 />
<circle class=B cx=869.1 cy=85.5 r=3.1 />
<circle class=U cx=950.7 cy=74.2 r=3.1 />
<circle class=E cx=911 cy=78.9 r=3.1 />
<circle class=J cx=770.2 cy=87.4 r=3.1 />
<circle class=A cx=876.6 cy=94.5 r=3.1 />
<circle class=b cx=1051.1 cy=83.8 r=3.9 />
<circle class=R cx=1053.7 cy=88.1 r=3.1 />
<circle class=I cx=788.6 cy=89.1 r=3.1 />
<circle class=P cx=908.1 cy=98.1 r=3.1 />
<circle class=P cx=861.9 cy=85.5 r=3.1 />
<circle class=P cx=857.3 cy=77.7 r=3.1 />
<circle class=K cx=793.4 cy=85.4 r=3.1 />
<circle class=S cx=935.3 cy=88.8 r=3.1 />
<circle class=C cx=1135.5 cy=85.5 r=3.1 />
<circle class=B cx=892.1 cy=78.8 r=3.1 />
<circle class=P cx=957.1 cy=89.4 r=3.1 />
<circle class=T cx=925 cy=91.1 r=3.1 />
<circle class=D cx=1058.8 cy=83.5 r=3.1 />
<circle class=T cx=964.3 cy=101.4 r=3.1 />
<circle class=A cx=885.7 cy=92.7 r=3.1 />
<circle class=O cx=930.3 cy=91.3 r=3.1 />
<circle class=U cx=700.3 cy=86.8 r=3.1 />
<circle class=Q cx=905.7 cy=73.9 r=3.1 />
<circle class=C cx=801.7 cy=86 r=3.1 />
<circle class=P cx=935 cy=71.5 r=3.1 />
<circle class=V cx=1012.6 cy=79.5 r=3.1 />
<circle class=L cx=876.1 cy=80.5 r=3.1 />
<circle class=M cx=838.6 cy=83.2 r=3.1 />
<circle class=V cx=969.2 cy=93.4 r=3.1 />
<circle class=N cx=759.7 cy=87.7 r=3.1 />
<circle class=B cx=999.2 cy=92.3 r=3.1 />
<circle class=C cx=799.2 cy=89.1 r=3.1 />
<circle class=A cx=1072.1 cy=83.5 r=3.1 />
<circle class=V cx=944.6 cy=91.2 r=3.1 />
<circle class=k cx=767.4 cy=87.7 r=3.9 />
<circle class=U cx=1085.1 cy=85.5 r=3.1 />
<circle class=p cx=985.7 cy=97.1 r=3.9 />
<circle class=W cx=994.5 cy=79.7 r=3.1 />
<circle class=S cx=871.3 cy=76.6 r=3.1 />
<circle class=P cx=785.1 cy=82.3 r=3.1 />
<circle class=B cx=997.5 cy=87.8 r=3.1 />
<circle class=D cx=965.9 cy=85.9 r=3.1 />
<circle class=P cx=948.4 cy=82.5 r=3.1 />
<circle class=D cx=931.2 cy=98.6 r=3.1 />
<circle class=w cx=1061.1 cy=84 r=3.9 />
<circle class=X cx=996.8 cy=80.6 r=3.1 />
<circle class=V cx=901.5 cy=94.2 r=3.1 />
<circle class=b cx=1038.8 cy=88.1 r=3.9 />
<circle class=F cx=777.3 cy=87.1 r=3.1 />
<circle class=V cx=973.2 cy=84.3 r=3.1 />
<circle class=V cx=960.7 cy=81.7 r=3.1 />
<circle class=A cx=969.1 cy=79.5 r=3.1 />
<circle class=B cx=991.5 cy=85.5 r=3.1 />
<circle class=N cx=878.9 cy=80 r=3.1 />
<circle class=N cx=903.5 cy=96.9 r=3.1 />
<circle class=C cx=883.5 cy=85.5 r=3.1 />
<circle class=A cx=1067.1 cy=83.6 r=3.1 />
<circle class=x cx=951.9 cy=102 r=3.9 />
<circle class=W cx=943.6 cy=72.8 r=3.1 />
<circle class=d cx=1126 cy=85.3 r=3.9 />
<circle class=T cx=952.3 cy=78.4 r=3.1 />
<circle class=C cx=1051.5 cy=82.9 r=3.1 />
<circle class=v cx=824.5 cy=90.2 r=3.9 />
<circle class=B cx=1037.9 cy=84.1 r=3.1 />
<circle class=U cx=914.5 cy=78.5 r=3.1 />
<circle class=U cx=917.9 cy=92.7 r=3.1 />
<circle class=O cx=946.2 cy=102.6 r=3.1 />
<circle class=F cx=855.1 cy=91.1 r=3.1 />
<circle class=B cx=1157.1 cy=85.5 r=3.1 />
<circle class=A cx=888.5 cy=79.7 r=3.1 />
<circle class=r cx=927.6 cy=70.9 r=3.9 />
<circle class=K cx=761.1 cy=85.5 r=3.1 />
<circle class=C cx=1016.3 cy=92.7 r=3.1 />
<circle class=D cx=1013.1 cy=83 r=3.1 />
<circle class=U cx=949.3 cy=102.8 r=3.1 />
<circle class=T cx=947.5 cy=93 r=3.1 />
<circle class=C cx=961.2 cy=89.7 r=3.1 />
<circle class=H cx=918.9 cy=74.9 r=3.1 />
<circle class=E cx=734.6 cy=83.8 r=3.1 />
<circle class=T cx=1049.1 cy=85.5 r=3.1 />
<circle class=W cx=1003.7 cy=75.9 r=3.1 />
<circle class=X cx=941.4 cy=88.1 r=3.1 />
<circle class=P cx=909 cy=85.9 r=3.1 />
<circle class=P cx=855 cy=78.4 r=3.1 />
<circle class=E cx=912.3 cy=85.5 r=3.1 />
<circle class=d cx=891.4 cy=96.7 r=3.9 />
<circle class=I cx=875.7 cy=77.1 r=3.1 />
<circle class=a cx=1133.5 cy=84.9 r=3.9 />
<circle class=C cx=963.7 cy=77.5 r=3.1 />
<circle class=C cx=881.4 cy=88.5 r=3.1 />
<circle class=B cx=1154.6 cy=84.9 r=3.1 />
<circle class=r cx=1004.1 cy=94.2 r=3.9 />
<circle class=N cx=906.5 cy=94.9 r=3.1 />
<circle class=Q cx=955.6 cy=70.4 r=3.1 />
<circle class=K cx=873.5 cy=75.5 r=3.1 />
<circle class=v cx=1003.9 cy=76.8 r=3.9 />
<circle class=F cx=823.5 cy=83.5 r=3.1 />
<circle class=I cx=768.3 cy=85.5 r=3.1 />
<circle class=g cx=852.4 cy=78.7 r=3.9 />
<circle class=C cx=1036.1 cy=82.5 r=3.1 />
<circle class=S cx=914.5 cy=83.8 r=3.1 />
<circle class=O cx=940.9 cy=72.8 r=3.1 />
<circle class=B cx=1076.4 cy=83.5 r=3.1 />
<circle class=Q cx=1060.7 cy=87.4 r=3.1 />
<circle class=B cx=1026.4 cy=90.7 r=3.1 />
<circle class=C cx=962.2 cy=69.3 r=3.1 />
<circle class=p cx=724.6 cy=85.7 r=3.9 />
<circle class=U cx=983.1 cy=75.7 r=3.1 />
<circle class=B cx=966.7 cy=83.5 r=3.1 />
<circle class=P cx=953.3 cy=71.9 r=3.1 />
<circle class=G cx=847.3 cy=89.3 r=3.1 />
<circle class=k cx=734.2 cy=86.4 r=3.9 />
<circle class=w cx=1021.8 cy=79.9 r=3.9 />
<circle class=W cx=970.3 cy=99.8 r=3.1 />
<circle class=x cx=1034 cy=88.3 r=3.9 />
<circle class=W cx=926.5 cy=77.4 r=3.1 />
<circle class=W cx=992.7 cy=77 r=3.1 />
<circle class=D cx=979.2 cy=83.4 r=3.1 />
<circle class=l cx=730.1 cy=86 r=3.9 />
<circle class=X cx=996.2 cy=77.6 r=3.1 />
<circle class=C cx=1139 cy=85.8 r=3.1 />
<circle class=D cx=951.9 cy=69.4 r=3.1 />
<circle class=E cx=866.4 cy=92.4 r=3.1 />
<circle class=w cx=904.5 cy=73 r=3.9 />
<circle class=A cx=977.1 cy=85.5 r=3.1 />
<circle class=T cx=1064.5 cy=83.1 r=3.1 />
<circle class=J cx=804.3 cy=85.5 r=3.1 />
<circle class=B cx=939.2 cy=89.2 r=3.1 />
<circle class=w cx=991.3 cy=75.2 r=3.9 />
<circle class=F cx=825.9 cy=85.5 r=3.1 />
<circle class=J cx=876.2 cy=88 r=3.1 />
<circle class=P cx=857.3 cy=80.3 r=3.1 />
<circle class=M cx=859.7 cy=78.4 r=3.1 />
<circle class=w cx=997.5 cy=76.2 r=3.9 />
<circle class=q cx=886.3 cy=74.8 r=3.9 />
<circle class=S cx=909.4 cy=94.1 r=3.1 />
<circle class=U cx=931.3 cy=75 r=3.1 />
<circle class=D cx=1015.9 cy=79.4 r=3.1 />
<circle class=d cx=1127.5 cy=86.3 r=3.9 />
<circle class=D cx=806.1 cy=90.7 r=3.1 />
<circle class=B cx=998.7 cy=95 r=3.1 />
<circle class=R cx=954.7 cy=91.3 r=3.1 />
<circle class=Q cx=957.1 cy=75.7 r=3.1 />
<circle class=N cx=887.6 cy=85 r=3.1 />
<circle class=M cx=895.5 cy=86.7 r=3.1 />
<circle class=U cx=1004.4 cy=78.3 r=3.1 />
<circle class=D cx=832.9 cy=89.5 r=3.1 />
<circle class=D cx=1087.1 cy=84.1 r=3.1 />
<circle class=B cx=987.8 cy=74.3 r=3.1 />
<circle class=R cx=947.5 cy=98.1 r=3.1 />
<circle class=R cx=952.2 cy=98.7 r=3.1 />
<circle class=K cx=813.2 cy=82.6 r=3.1 />
<circle class=E cx=950 cy=88.7 r=3.1 />
<circle class=C cx=953.1 cy=84.2 r=3.1 />
<circle class=k cx=798.9 cy=90 r=3.9 />
<circle class=C cx=879.3 cy=95.8 r=3.1 />
<circle class=V cx=1031.7 cy=83.4 r=3.1 />
<circle class=P cx=943 cy=68.4 r=3.1 />
<circle class=V cx=950.3 cy=93 r=3.1 />
<circle class=P cx=905.1 cy=91.5 r=3.1 />
<circle class=C cx=943.4 cy=96 r=3.1 />
<circle class=c cx=985.6 cy=74.1 r=3.9 />
<circle class=U cx=994.8 cy=95.5 r=3.1 />
<circle class=v cx=840.8 cy=80.2 r=3.9 />
<circle class=W cx=1034.7 cy=85.5 r=3.1 />
<circle class=V cx=1046.6 cy=83.2 r=3.1 />
<circle class=O cx=924.7 cy=71 r=3.1 />
<circle class=V cx=981.5 cy=81 r=3.1 />
<circle class=R cx=916.4 cy=80.2 r=3.1 />
<circle class=U cx=914.4 cy=99.6 r=3.1 />
<circle class=V cx=982.5 cy=97.3 r=3.1 />
<circle class=c cx=908.9 cy=73.1 r=3.9 />
<circle class=B cx=820.4 cy=87.4 r=3.1 />
<circle class=X cx=850.7 cy=78.7 r=3.1 />
<circle class=i cx=739.2 cy=86.1 r=3.9 />
<circle class=D cx=976.4 cy=79.4 r=3.1 />
<circle class=L cx=811.4 cy=90.7 r=3.1 />
<circle class=I cx=727.4 cy=83.9 r=3.1 />
<circle class=K cx=897.3 cy=73.7 r=3.1 />
<circle class=K cx=833.1 cy=85.5 r=3.1 />
<circle class=R cx=1061.7 cy=83.9 r=3.1 />
<circle class=d cx=903.6 cy=98 r=3.9 />
<circle class=E cx=894.3 cy=79.8 r=3.1 />
<circle class=X cx=1088.3 cy=86.2 r=3.1 />
<circle class=E cx=1022.1 cy=79.8 r=3.1 />
<circle class=S cx=1027.6 cy=87.9 r=3.1 />
<circle class=B cx=1019.4 cy=81.3 r=3.1 />
<circle class=d cx=835.6 cy=79.8 r=3.9 />
<circle class=T cx=893.1 cy=74.1 r=3.1 />
<circle class=R cx=985.9 cy=77 r=3.1 />
<circle class=Q cx=836.2 cy=84.1 r=3.1 />
<circle class=j cx=798.6 cy=81.4 r=3.9 />
<circle class=b cx=968.8 cy=99.9 r=3.9 />
<circle class=P cx=955.5 cy=85.5 r=3.1 />
<circle class=I cx=836.3 cy=91.9 r=3.1 />
<circle class=S cx=1035 cy=87.9 r=3.1 />
<circle class=J cx=885 cy=74 r=3.1 />
<circle class=T cx=910.3 cy=91.7 r=3.1 />
<circle class=B cx=905.5 cy=99.2 r=3.1 />
<circle class=V cx=865.3 cy=87.7 r=3.1 />
<circle class=T cx=905.7 cy=88.5 r=3.1 />
<circle class=b cx=1098.8 cy=85 r=3.9 />
<circle class=x cx=974.6 cy=72.6 r=3.9 />
<circle class=I cx=779.3 cy=82.1 r=3.1 />
<circle class=U cx=984.6 cy=81.3 r=3.1 />
<circle class=S cx=886.3 cy=95.1 r=3.1 />
<circle class=S cx=883.1 cy=75.7 r=3.1 />
<circle class=h cx=739.4 cy=85.1 r=3.9 />
<circle class=G cx=737.1 cy=84.9 r=3.1 />
<circle class=E cx=982.4 cy=88.8 r=3.1 />
<circle class=c cx=1151.9 cy=85.1 r=3.9 />
<circle class=Q cx=903.1 cy=83 r=3.1 />
<circle class=C cx=1142.7 cy=85.5 r=3.1 />
<circle class=B cx=822.9 cy=79.5 r=3.1 />
<circle class=B cx=990.9 cy=80 r=3.1 />
<circle class=S cx=941.6 cy=91.5 r=3.1 />
<circle class=P cx=890.3 cy=97.4 r=3.1 />
<circle class=p cx=852 cy=91.9 r=3.9 />
<circle class=w cx=940.3 cy=68.9 r=3.9 />
<circle class=V cx=877.6 cy=91.2 r=3.1 />
<circle class=Q cx=905.2 cy=81.7 r=3.1 />
<circle class=R cx=901.4 cy=85.7 r=3.1 />
<circle class=B cx=771.8 cy=84 r=3.1 />
<circle class=C cx=1038.9 cy=86.5 r=3.1 />
<circle class=M cx=717.9 cy=85.5 r=3.1 />
<circle class=S cx=870.8 cy=93.9 r=3.1 />
<circle class=C cx=1001.9 cy=93.9 r=3.1 />
<circle class=N cx=919.9 cy=88.8 r=3.1 />
<circle class=U cx=778.4 cy=84.4 r=3.1 />
<circle class=K cx=783.8 cy=89.2 r=3.1 />
<circle class=m cx=793.3 cy=81.8 r=3.9 />
<circle class=W cx=854.7 cy=85.5 r=3.1 />
<circle class=D cx=787.3 cy=83.2 r=3.1 />
<circle class=j cx=874.9 cy=95.1 r=3.9 />
<circle class=J cx=722.4 cy=85.2 r=3.1 />
<circle class=S cx=882.9 cy=82.6 r=3.1 />
<circle class=R cx=944.3 cy=100.4 r=3.1 />
<circle class=G cx=786.2 cy=88.2 r=3.1 />
<circle class=R cx=945.1 cy=70.1 r=3.1 />
<circle class=B cx=832.3 cy=92.1 r=3.1 />
<circle class=G cx=776.6 cy=82.5 r=3.1 />
<circle class=Q cx=858.9 cy=88.2 r=3.1 />
<circle class=b cx=845.9 cy=91.7 r=3.9 />
<circle class=I cx=739.5 cy=85.5 r=3.1 />
<circle class=R cx=958.4 cy=100.6 r=3.1 />
<circle class=F cx=901.6 cy=74.4 r=3.1 />
<circle class=U cx=894.2 cy=76.9 r=3.1 />
<circle class=D cx=885.5 cy=86.9 r=3.1 />
<circle class=D cx=951.3 cy=101.2 r=3.1 />
<circle class=b cx=1162.8 cy=85.1 r=3.9 />
<circle class=E cx=880.3 cy=77.4 r=3.1 />
<circle class=T cx=867.7 cy=88.7 r=3.1 />
<circle class=C cx=962.7 cy=85.5 r=3.1 />
<circle class=p cx=865.7 cy=93.2 r=3.9 />
<circle class=E cx=813.7 cy=79.6 r=3.1 />
<circle class=L cx=840.3 cy=85.5 r=3.1 />
<circle class=b cx=1139.3 cy=85.8 r=3.9 />
<circle class=T cx=977.4 cy=92.7 r=3.1 />
<circle class=X cx=1099.5 cy=85.5 r=3.1 />
<circle class=C cx=1011.2 cy=77.5 r=3.1 />
<circle class=g cx=809.2 cy=81 r=3.9 />
<circle class=q cx=915.8 cy=98.7 r=3.9 />
<circle class=M cx=876.7 cy=83.1 r=3.1 />
<circle class=W cx=976 cy=98.8 r=3.1 />
<circle class=R cx=1009.2 cy=79.6 r=3.1 />
<circle class=S cx=914.6 cy=87 r=3.1 />
<circle class=R cx=931.4 cy=85.4 r=3.1 />
<circle class=B cx=931.6 cy=71.6 r=3.1 />
<circle class=T cx=953.3 cy=93.3 r=3.1 />
<circle class=N cx=882.5 cy=95 r=3.1 />
<circle class=F cx=764.9 cy=83.3 r=3.1 />
<circle class=B cx=940.3 cy=81 r=3.1 />
<circle class=U cx=973 cy=93 r=3.1 />
<circle class=Q cx=922.7 cy=90.3 r=3.1 />
<circle class=C cx=1049.1 cy=88.1 r=3.1 />
<circle class=B cx=910.5 cy=89.3 r=3.1 />
<circle class=L cx=801.8 cy=90.2 r=3.1 />
<circle class=V cx=972.9 cy=71.2 r=3.1 />
<circle class=D cx=839.6 cy=91.3 r=3.1 />
<circle class=j cx=696.3 cy=85.7 r=3.9 />
<circle class=X cx=1092.3 cy=85.5 r=3.1 />
<circle class=D cx=1116.5 cy=86.8 r=3.1 />
<circle class=W cx=986.5 cy=87.7 r=3.1 />
<circle class=B cx=976.7 cy=95.3 r=3.1 />
<circle class=A cx=942.5 cy=80 r=3.1 />
<circle class=U cx=987.7 cy=94.5 r=3.1 />
<circle class=V cx=1052 cy=85.5 r=3.1 />
<circle class=c cx=1122.4 cy=85.5 r=3.9 />
<circle class=G cx=755.8 cy=87.5 r=3.1 />
<circle class=J cx=835.7 cy=86.7 r=3.1 />
<circle class=f cx=763.2 cy=84 r=3.9 />
<circle class=C cx=1015.6 cy=83.4 r=3.1 />
<circle class=b cx=1074.5 cy=84.9 r=3.9 />
<circle class=A cx=821.6 cy=81.9 r=3.1 />
<circle class=M cx=827.2 cy=89.2 r=3.1 />
<circle class=P cx=937.6 cy=80.4 r=3.1 />
<circle class=d cx=1157 cy=85.7 r=3.9 />
<circle class=K cx=746.7 cy=85.5 r=3.1 />
<circle class=C cx=928.6 cy=88.6 r=3.1 />
<circle class=B cx=898 cy=98.1 r=3.1 />
<circle class=C cx=927.4 cy=90.9 r=3.1 />
<circle class=L cx=867.2 cy=77.3 r=3.1 />
<circle class=V cx=823.2 cy=87 r=3.1 />
<circle class=L cx=831.2 cy=83.1 r=3.1 />
<circle class=D cx=919 cy=95 r=3.1 />
<circle class=S cx=860.1 cy=81.9 r=3.1 />
<circle class=U cx=892.2 cy=94.9 r=3.1 />
<circle class=W cx=1077.9 cy=85.5 r=3.1 />
<circle class=T cx=966.5 cy=88.2 r=3.1 />
<circle class=S cx=879.2 cy=93 r=3.1 />
<circle class=P cx=1026.7 cy=83.1 r=3.1 />
<circle class=P cx=1043.5 cy=82.7 r=3.1 />
<circle class=C cx=948.3 cy=85.5 r=3.1 />
<circle class=I cx=810.9 cy=81.6 r=3.1 />
<circle class=D cx=757.2 cy=83.6 r=3.1 />
<circle class=s cx=880.9 cy=95.5 r=3.9 />
<circle class=U cx=991.3 cy=74.3 r=3.1 />
<circle class=D cx=989.3 cy=82.8 r=3.1 />
<circle class=V cx=995 cy=87.6 r=3.1 />
<circle class=D cx=980.9 cy=94.9 r=3.1 />
<circle class=C cx=910.4 cy=82.5 r=3.1 />
<circle class=b cx=1093.9 cy=86.4 r=3.9 />
<circle class=s cx=992.6 cy=95.4 r=3.9 />
<circle class=C cx=1125.3 cy=84.1 r=3.1 />
<circle class=B cx=994.2 cy=74.5 r=3.1 />
<circle class=C cx=970.6 cy=89.1 r=3.1 />
<circle class=B cx=1003.8 cy=82.6 r=3.1 />
<circle class=W cx=959.9 cy=70.5 r=3.1 />
<circle class=K cx=899.6 cy=76.4 r=3.1 />
<circle class=M cx=795.5 cy=80.5 r=3.1 />
<circle class=C cx=1146.8 cy=85.9 r=3.1 />
<circle class=P cx=961 cy=92.7 r=3.1 />
<circle class=C cx=918.9 cy=79.7 r=3.1 />
<circle class=k cx=781.1 cy=82.8 r=3.9 />
<circle class=l cx=762.3 cy=86.9 r=3.9 />
<circle class=P cx=957.6 cy=72.5 r=3.1 />
<circle class=J cx=781.4 cy=87.8 r=3.1 />
<circle class=N cx=933.1 cy=69.5 r=3.1 />
<circle class=T cx=851.2 cy=84.9 r=3.1 />
<circle class=G cx=936.3 cy=84.8 r=3.1 />
<circle class=c cx=921.8 cy=71.6 r=3.9 />
<circle class=O cx=998.6 cy=78.2 r=3.1 />
<circle class=A cx=866.3 cy=82.3 r=3.1 />
<circle class=g cx=950.4 cy=69.3 r=3.9 />
<circle class=T cx=920.8 cy=77.3 r=3.1 />
<circle class=e cx=1011.2 cy=93 r=3.9 />
<circle class=X cx=1029.4 cy=81.8 r=3.1 />
<circle class=E cx=838.2 cy=88.6 r=3.1 />
<circle class=P cx=917.1 cy=97.7 r=3.1 />
<circle class=P cx=956 cy=93.6 r=3.1 />
<circle class=N cx=895.1 cy=89.3 r=3.1 />
<circle class=D cx=775.5 cy=85.5 r=3.1 />
<circle class=W cx=965.3 cy=74.8 r=3.1 />
<circle class=J cx=879.9 cy=84.1 r=3.1 />
<circle class=b cx=892.3 cy=74.9 r=3.9 />
<circle class=P cx=914.3 cy=96.5 r=3.1 />
<circle class=C cx=946.4 cy=67.9 r=3.1 />
<circle class=D cx=898.9 cy=93.5 r=3.1 />
<circle class=P cx=828.8 cy=86.1 r=3.1 />
<circle class=D cx=994.7 cy=90.1 r=3.1 />
<circle class=D cx=841.7 cy=89.8 r=3.1 />
<circle class=W cx=922.7 cy=100.5 r=3.1 />
<circle class=B cx=843.2 cy=83.5 r=3.1 />
<circle class=V cx=928.7 cy=69.3 r=3.1 />
<circle class=I cx=769.8 cy=82.3 r=3.1 />
<circle class=D cx=850.2 cy=82.7 r=3.1 />
<circle class=C cx=973.5 cy=95.3 r=3.1 />
<circle class=D cx=952.5 cy=89.8 r=3.1 />
<circle class=Q cx=946.2 cy=95.1 r=3.1 />
<circle class=P cx=959.1 cy=91.1 r=3.1 />
<circle class=A cx=1004.7 cy=94.7 r=3.1 />
<circle class=L cx=848.5 cy=80.8 r=3.1 />
<circle class=D cx=1018.5 cy=91.7 r=3.1 />
<circle class=O cx=964 cy=92.3 r=3.1 />
<circle class=U cx=962.2 cy=95.2 r=3.1 />
<circle class=m cx=879.8 cy=76.1 r=3.9 />
<circle class=D cx=944.3 cy=104.1 r=3.1 />
<circle class=V cx=1032.9 cy=89.6 r=3.1 />
<circle class=K cx=895.7 cy=92.8 r=3.1 />
<circle class=C cx=948.8 cy=68.4 r=3.1 />
<circle class=Q cx=928.8 cy=71.9 r=3.1 />
<circle class=O cx=940.1 cy=75.3 r=3.1 />
<circle class=B cx=1083.6 cy=83.2 r=3.1 />
<circle class=O cx=921.6 cy=74.8 r=3.1 />
<circle class=l cx=819.4 cy=80.6 r=3.9 />
<circle class=C cx=987 cy=81.2 r=3.1 />
<circle class=R cx=819.2 cy=79.3 r=3.1 />
<circle class=P cx=924.6 cy=88.5 r=3.1 />
<circle class=W cx=1014.7 cy=88.4 r=3.1 />
<circle class=u cx=1026.4 cy=81.7 r=3.9 />
<circle class=J cx=873.2 cy=80.4 r=3.1 />
<circle class=W cx=826 cy=79.3 r=3.1 />
<circle class=P cx=916.7 cy=71.5 r=3.1 />
<circle class=v cx=1026.4 cy=89.4 r=3.9 />
<circle class=j cx=708 cy=85.8 r=3.9 />
<circle class=x cx=915.5 cy=71.8 r=3.9 />
<circle class=A cx=934.9 cy=95 r=3.1 />
<circle class=A cx=902.8 cy=92 r=3.1 />
<circle class=l cx=751.3 cy=86.6 r=3.9 />
<circle class=J cx=802.4 cy=79.8 r=3.1 />
<circle class=m cx=846.2 cy=79.7 r=3.9 />
<circle class=w cx=1110.2 cy=86.1 r=3.9 />
<circle class=A cx=1018.1 cy=83.8 r=3.1 />
<circle class=P cx=914.8 cy=73.4 r=3.1 />
<circle class=O cx=936.1 cy=76.6 r=3.1 />
<circle class=U cx=968.2 cy=95.6 r=3.1 />
<circle class=J cx=896.3 cy=78.1 r=3.1 />
<circle class=B cx=1117.1 cy=84.5 r=3.1 />
<circle class=W cx=941.6 cy=77.3 r=3.1 />
<circle class=d cx=940.3 cy=101.8 r=3.9 />
<circle class=W cx=989.4 cy=97.6 r=3.1 />
<circle class=X cx=995.6 cy=84.8 r=3.1 />
<circle class=N cx=843.4 cy=92.3 r=3.1 />
<circle class=T cx=847.5 cy=85.5 r=3.1 />
<circle class=U cx=1045.6 cy=86.1 r=3.1 />
<circle class=G cx=821.7 cy=90.7 r=3.1 />
<circle class=R cx=884.7 cy=89.5 r=3.1 />
<circle class=Q cx=907.9 cy=81.9 r=3.1 />
<circle class=i cx=870.1 cy=94.1 r=3.9 />
<circle class=v cx=1081.1 cy=85 r=3.9 />
<circle class=L cx=751.1 cy=86.6 r=3.1 />
<circle class=t cx=1103.9 cy=84.8 r=3.9 />
<circle class=Q cx=924.6 cy=97.4 r=3.1 />
<circle class=K cx=863.6 cy=76.6 r=3.1 />
<circle class=W cx=972.6 cy=90.4 r=3.1 />
<circle class=J cx=893.4 cy=91.1 r=3.1 />
<circle class=D cx=914.1 cy=81.4 r=3.1 />
<circle class=D cx=924.3 cy=84 r=3.1 />
<circle class=a cx=1068.8 cy=87.1 r=3.9 />
<circle class=L cx=698.9 cy=84.5 r=3.1 />
<circle class=T cx=971.4 cy=78.9 r=3.1 />
<circle class=D cx=1016.2 cy=86.1 r=3.1 />
<circle class=B cx=1001.9 cy=77.6 r=3.1 />
<circle class=W cx=939.4 cy=102.3 r=3.1 />
<circle class=W cx=854.2 cy=82.3 r=3.1 />
<circle class=G cx=890.2 cy=82.7 r=3.1 />
<circle class=P cx=821.2 cy=84.8 r=3.1 />
<circle class=W cx=924.4 cy=74.1 r=3.1 />
<circle class=E cx=973.8 cy=100 r=3.1 />
<circle class=P cx=1025.3 cy=81.1 r=3.1 />
<circle class=d cx=1009.5 cy=78.6 r=3.9 />
<circle class=T cx=942.2 cy=83.2 r=3.1 />
<circle class=R cx=929.3 cy=79.3 r=3.1 />
<circle class=A cx=917.4 cy=90.2 r=3.1 />
<circle class=W cx=980 cy=86.5 r=3.1 />
<circle class=h cx=718.5 cy=86.3 r=3.9 />
<circle class=K cx=749.8 cy=84.6 r=3.1 />
<circle class=U cx=1024.6 cy=88.3 r=3.1 />
<circle class=C cx=966.9 cy=91.1 r=3.1 />
<circle class=P cx=931.1 cy=88.1 r=3.1 />
<circle class=d cx=837.2 cy=91.2 r=3.9 />
<circle class=u cx=1045.9 cy=87.1 r=3.9 />
<circle class=A cx=735.5 cy=87 r=3.1 />
<circle class=K cx=728.8 cy=85.9 r=3.1 />
<circle class=W cx=961.5 cy=101.7 r=3.1 />
<circle class=P cx=811.5 cy=85.5 r=3.1 />
<circle class=u cx=997.5 cy=94.4 r=3.9 />
<circle class=W cx=967.8 cy=73.1 r=3.1 />
<circle class=s cx=858.9 cy=77.5 r=3.9 />
<circle class=L cx=732.3 cy=85.5 r=3.1 />
<circle class=j cx=745.2 cy=84.9 r=3.9 />
<circle class=P cx=870.6 cy=79.8 r=3.1 />
<circle class=C cx=944.9 cy=83.1 r=3.1 />
<circle class=V cx=984.3 cy=85.5 r=3.1 />
<circle class=P cx=799.9 cy=83.3 r=3.1 />
<circle class=K cx=884.7 cy=77.7 r=3.1 />
<circle class=L cx=789.9 cy=85.5 r=3.1 />
<circle class=x cx=814.5 cy=90.2 r=3.9 />
<circle class=L cx=842.3 cy=81.2 r=3.1 />
<circle class=Q cx=955.3 cy=81.1 r=3.1 />
<circle class=A cx=1131.1 cy=86.8 r=3.1 />
<circle class=o cx=945.2 cy=68.3 r=3.9 />
<circle class=D cx=1030 cy=85.4 r=3.1 />
<circle class=U cx=1072.6 cy=87.1 r=3.1 />
<circle class=B cx=985.3 cy=94.7 r=3.1 />
<circle class=B cx=979.1 cy=74.6 r=3.1 />
<circle class=W cx=926.6 cy=93.8 r=3.1 />
<circle class=B cx=980.7 cy=92.4 r=3.1 />
<circle class=b cx=1145.6 cy=85.7 r=3.9 />
<circle class=K cx=782.7 cy=85.5 r=3.1 />
<circle class=A cx=1032.9 cy=81.3 r=3.1 />
<circle class=M cx=835.5 cy=89.5 r=3.1 />
<circle class=W cx=976.6 cy=74.6 r=3.1 />
<circle class=E cx=858.7 cy=85.7 r=3.1 />
<circle class=L cx=818.7 cy=85.5 r=3.1 />
<circle class=P cx=918.9 cy=82.4 r=3.1 />
<circle class=D cx=973.4 cy=73.6 r=3.1 />
<circle class=V cx=947.5 cy=76.1 r=3.1 />
<circle class=u cx=1068.1 cy=83.8 r=3.9 />
<circle class=I cx=765.6 cy=87.8 r=3.1 />
<circle class=U cx=1009.7 cy=92.9 r=3.1 />
<circle class=B cx=952.6 cy=95.8 r=3.1 />
<circle class=D cx=878.7 cy=87.8 r=3.1 />
<circle class=N cx=946.8 cy=89.5 r=3.1 />
<circle class=A cx=984.8 cy=73.5 r=3.1 />
<circle class=W cx=1164.3 cy=85.5 r=3.1 />
<circle class=S cx=929.1 cy=86.2 r=3.1 />
<circle class=V cx=842.7 cy=86.1 r=3.1 />
<circle class=B cx=975.8 cy=89.9 r=3.1 />
<circle class=T cx=924.2 cy=95 r=3.1 />
<circle class=M cx=848 cy=91.7 r=3.1 />
<circle class=V cx=1064.1 cy=88 r=3.1 />
<circle class=W cx=999.9 cy=75.5 r=3.1 />
<circle class=B cx=1041.9 cy=85.5 r=3.1 />
<circle class=X cx=927.8 cy=96.9 r=3.1 />
<circle class=W cx=1106.7 cy=85.5 r=3.1 />
<circle class=V cx=1018.6 cy=87.2 r=3.1 />
<circle class=V cx=936.6 cy=91.1 r=3.1 />
<circle class=C cx=816.2 cy=79.7 r=3.1 />
<circle class=B cx=998.7 cy=85.5 r=3.1 />
<circle class=F cx=828.6 cy=79.6 r=3.1 />
<circle class=P cx=940 cy=70.5 r=3.1 />
<circle class=j cx=723.1 cy=85.5 r=3.9 />
<circle class=u cx=1044.3 cy=83.9 r=3.9 />
<circle class=e cx=1115.6 cy=85.8 r=3.9 />
<circle class=d cx=842.1 cy=91.2 r=3.9 />
<circle class=I cx=887.4 cy=77.1 r=3.1 />
<circle class=B cx=919.5 cy=85.5 r=3.1 />
<circle class=G cx=795.3 cy=89.1 r=3.1 />
<circle class=P cx=938.2 cy=98 r=3.1 />
<circle class=E cx=972.9 cy=97.8 r=3.1 />
<circle class=I cx=696.3 cy=85.5 r=3.1 />
<circle class=R cx=1001.3 cy=82.3 r=3.1 />
<circle class=K cx=845.1 cy=90.3 r=3.1 />
<circle class=L cx=864.1 cy=91.5 r=3.1 />
<circle class=L cx=891 cy=90.7 r=3.1 />
<circle class=S cx=934.9 cy=80.7 r=3.1 />
<circle class=D cx=762.9 cy=88.1 r=3.1 />
<circle class=D cx=752.4 cy=83.4 r=3.1 />
<circle class=O cx=923.3 cy=76.6 r=3.1 />
<circle class=Q cx=914.2 cy=75.8 r=3.1 />
<circle class=D cx=793 cy=88.1 r=3.1 />
<circle class=Q cx=886 cy=83 r=3.1 />
<circle class=V cx=1080.7 cy=85.2 r=3.1 />
<circle class=U cx=978.9 cy=78.2 r=3.1 />
<circle class=C cx=982.1 cy=84.2 r=3.1 />
<circle class=C cx=1046.1 cy=88.7 r=3.1 />
<circle class=A cx=1037.8 cy=89.4 r=3.1 />
<circle class=V cx=983.6 cy=91.3 r=3.1 />
<circle class=N cx=946.6 cy=72.7 r=3.1 />
<circle class=Q cx=849.5 cy=88 r=3.1 />
<circle class=c cx=957.3 cy=69.9 r=3.9 />
<circle class=C cx=1013.4 cy=93.3 r=3.1 />
<circle class=D cx=981.1 cy=72.4 r=3.1 />
<circle class=A cx=773.9 cy=81.8 r=3.1 />
<circle class=B cx=814.8 cy=91.4 r=3.1 />
<circle class=Q cx=957.7 cy=79.5 r=3.1 />
<circle class=A cx=1010.1 cy=83 r=3.1 />
<circle class=I cx=828.4 cy=83 r=3.1 />
<circle class=B cx=1007.3 cy=88.3 r=3.1 />
<circle class=D cx=1016.7 cy=89.9 r=3.1 />
<circle class=A cx=1022.7 cy=91.5 r=3.1 />
<circle class=R cx=968.8 cy=76.7 r=3.1 />
<circle class=G cx=950.5 cy=84 r=3.1 />
<circle class=F cx=828 cy=91.6 r=3.1 />
<circle class=D cx=706.4 cy=85.1 r=3.1 />
<circle class=D cx=975 cy=76.5 r=3.1 />
<circle class=C cx=852.8 cy=89.7 r=3.1 />
<circle class=X cx=868.2 cy=79.8 r=3.1 />
<circle class=C cx=901.7 cy=98.7 r=3.1 />
<circle class=Q cx=1070.7 cy=85.5 r=3.1 />
<circle class=b cx=876.1 cy=76.3 r=3.9 />
<circle class=W cx=961.8 cy=72.1 r=3.1 />
<circle class=q cx=945.2 cy=102.2 r=3.9 />
<circle class=A cx=869.3 cy=82.1 r=3.1 />
<circle class=B cx=1090 cy=83.7 r=3.1 />
<circle class=t cx=1087.6 cy=84.6 r=3.9 />
<circle class=o cx=815.2 cy=80.7 r=3.9 />
<circle class=A cx=1020.3 cy=85.5 r=3.1 />
<circle class=Q cx=957.9 cy=68.9 r=3.1 />
<circle class=W cx=971.7 cy=81.4 r=3.1 />
<circle class=S cx=781.9 cy=82.1 r=3.1 />
<circle class=c cx=825.3 cy=80.2 r=3.9 />
<circle class=R cx=993.7 cy=82.7 r=3.1 />
<circle class=u cx=804 cy=89.6 r=3.9 />
<circle class=D cx=1008.8 cy=90.4 r=3.1 />
<circle class=I cx=789.5 cy=81 r=3.1 />
<circle class=R cx=932.1 cy=82.7 r=3.1 />
<circle class=D cx=981.5 cy=78 r=3.1 />
<circle class=K cx=824.8 cy=90.1 r=3.1 />
<circle class=F cx=803.3 cy=82.2 r=3.1 />
<circle class=j cx=717.9 cy=85 r=3.9 />
<circle class=s cx=928.6 cy=100 r=3.9 />
<circle class=C cx=937.1 cy=100.7 r=3.1 />
<circle class=D cx=1003.4 cy=86.1 r=3.1 />
<circle class=c cx=1087.9 cy=85.9 r=3.9 />
<circle class=V cx=1023.5 cy=83.1 r=3.1 />
<circle class=N cx=797.1 cy=85.5 r=3.1 />
<circle class=X cx=924.5 cy=81.3 r=3.1 />
<circle class=P cx=937.5 cy=69.5 r=3.1 />
<circle class=C cx=1054.4 cy=83.6 r=3.1 />
<circle class=A cx=840.2 cy=79.3 r=3.1 />
<circle class=C cx=868.3 cy=94.6 r=3.1 />
<circle class=P cx=946.4 cy=78.9 r=3.1 />
<circle class=j cx=792 cy=89.2 r=3.9 />
<circle class=N cx=855.8 cy=88.4 r=3.1 />
<circle class=W cx=1020.7 cy=89.3 r=3.1 />
<circle class=X cx=1039.9 cy=82.8 r=3.1 />
<circle class=d cx=898.4 cy=96.6 r=3.9 />
<circle class=U cx=996.7 cy=91.5 r=3.1 />
<circle class=A cx=969.1 cy=82 r=3.1 />
<circle class=c cx=1061.7 cy=86.7 r=3.9 />
<circle class=S cx=944 cy=76.1 r=3.1 />
<circle class=C cx=930 cy=101.4 r=3.1 />
<circle class=w cx=1122 cy=85.6 r=3.9 />
<circle class=J cx=843.1 cy=78.9 r=3.1 />
<circle class=F cx=809 cy=90.8 r=3.1 />
<circle class=J cx=814.2 cy=84.7 r=3.1 />
<circle class=A cx=948.9 cy=90.9 r=3.1 />
<circle class=Q cx=907.9 cy=90.2 r=3.1 />
<circle class=T cx=939 cy=83 r=3.1 />
<circle class=w cx=1133.6 cy=85.4 r=3.9 />
<circle class=D cx=1027.5 cy=85.5 r=3.1 />
<circle class=R cx=847.3 cy=78.3 r=3.1 />
<circle class=K cx=862.2 cy=89.3 r=3.1 />
<circle class=b cx=1195 cy=85.5 r=3.9 />
<circle class=c cx=1184.6 cy=85.5 r=3.9 />
<circle class=H cx=1052.2 cy=130 r=3.1 />
<circle class=R cx=933.4 cy=125.4 r=3.1 />
<circle class=S cx=882.9 cy=149.3 r=3.1 />
<circle class=Q cx=878.1 cy=120.5 r=3.1 />
<circle class=b cx=1172.2 cy=136.3 r=3.9 />
<circle class=K cx=907.2 cy=118.5 r=3.1 />
<circle class=Q cx=858.2 cy=143.2 r=3.1 />
<circle class=R cx=894.7 cy=143.4 r=3.1 />
<circle class=l cx=941 cy=120.4 r=3.9 />
<circle class=E cx=1017.6 cy=140.6 r=3.1 />
<circle class=h cx=1019.7 cy=128.9 r=3.9 />
<circle class=A cx=871.5 cy=139 r=3.1 />
<circle class=H cx=1043.1 cy=134.5 r=3.1 />
<circle class=N cx=931.8 cy=134.1 r=3.1 />
<circle class=R cx=855.1 cy=122.1 r=3.1 />
<circle class=U cx=937.5 cy=148.1 r=3.1 />
<circle class=Q cx=884 cy=125.2 r=3.1 />
<circle class=Q cx=804.7 cy=137.4 r=3.1 />
<circle class=I cx=1040.4 cy=134.8 r=3.1 />
<circle class=r cx=914.6 cy=119.3 r=3.9 />
<circle class=W cx=1119.5 cy=137.8 r=3.1 />
<circle class=N cx=927.3 cy=122.1 r=3.1 />
<circle class=S cx=925.1 cy=125.4 r=3.1 />
<circle class=c cx=1001.8 cy=143.7 r=3.9 />
<circle class=C cx=1189.5 cy=136 r=3.1 />
<circle class=U cx=862.6 cy=150.6 r=3.1 />
<circle class=H cx=1057.9 cy=134 r=3.1 />
<circle class=W cx=1030.8 cy=142.4 r=3.1 />
<circle class=p cx=828.5 cy=145.2 r=3.9 />
<circle class=C cx=918 cy=118.5 r=3.1 />
<circle class=M cx=966.3 cy=136 r=3.1 />
<circle class=B cx=1034.8 cy=139.4 r=3.1 />
<circle class=S cx=938.3 cy=139.2 r=3.1 />
<circle class=u cx=1044 cy=141.2 r=3.9 />
<circle class=C cx=1052.7 cy=136 r=3.1 />
<circle class=R cx=844.1 cy=142.1 r=3.1 />
<circle class=V cx=1031.5 cy=130.4 r=3.1 />
<circle class=S cx=818.2 cy=127.7 r=3.1 />
<circle class=B cx=843.1 cy=132.6 r=3.1 />
<circle class=D cx=1062.9 cy=135 r=3.1 />
<circle class=C cx=999.8 cy=127.3 r=3.1 />
<circle class=H cx=905 cy=130.4 r=3.1 />
<circle class=C cx=885.2 cy=145.1 r=3.1 />
<circle class=Q cx=859 cy=128.9 r=3.1 />
<circle class=P cx=936.8 cy=141.3 r=3.1 />
<circle class=B cx=1043 cy=142.6 r=3.1 />
<circle class=A cx=974 cy=141.6 r=3.1 />
<circle class=M cx=876.8 cy=128.9 r=3.1 />
<circle class=A cx=779.5 cy=132.8 r=3.1 />
<circle class=H cx=952.6 cy=128.6 r=3.1 />
<circle class=M cx=907.4 cy=141.9 r=3.1 />
<circle class=Q cx=823.7 cy=133.8 r=3.1 />
<circle class=H cx=985 cy=128.5 r=3.1 />
<circle class=c cx=1196.1 cy=136.4 r=3.9 />
<circle class=L cx=880.9 cy=142.5 r=3.1 />
<circle class=D cx=1017.3 cy=130.6 r=3.1 />
<circle class=P cx=819.5 cy=136.7 r=3.1 />
<circle class=P cx=803.2 cy=128.8 r=3.1 />
<circle class=L cx=960.2 cy=150.1 r=3.1 />
<circle class=V cx=996.4 cy=141.9 r=3.1 />
<circle class=N cx=888.2 cy=127.7 r=3.1 />
<circle class=B cx=994.6 cy=143.5 r=3.1 />
<circle class=P cx=846.8 cy=142.1 r=3.1 />
<circle class=D cx=810.8 cy=137.4 r=3.1 />
<circle class=A cx=1091.9 cy=132.4 r=3.1 />
<circle class=C cx=1034 cy=128.9 r=3.1 />
<circle class=D cx=1165.8 cy=137.6 r=3.1 />
<circle class=H cx=969 cy=144.4 r=3.1 />
<circle class=x cx=748.8 cy=136.9 r=3.9 />
<circle class=W cx=845.4 cy=129.8 r=3.1 />
<circle class=S cx=840.8 cy=146 r=3.1 />
<circle class=Q cx=789.6 cy=141.9 r=3.1 />
<circle class=v cx=1059.6 cy=131.9 r=3.9 />
<circle class=D cx=959.7 cy=125.2 r=3.1 />
<circle class=E cx=977.9 cy=124.6 r=3.1 />
<circle class=L cx=899.7 cy=138.1 r=3.1 />
<circle class=B cx=957.3 cy=140 r=3.1 />
<circle class=V cx=788.6 cy=132.2 r=3.1 />
<circle class=L cx=885.4 cy=142.4 r=3.1 />
<circle class=o cx=852.7 cy=149.2 r=3.9 />
<circle class=p cx=806.6 cy=142.1 r=3.9 />
<circle class=d cx=1059 cy=139.9 r=3.9 />
<circle class=J cx=922.4 cy=143.4 r=3.1 />
<circle class=B cx=926 cy=119.7 r=3.1 />
<circle class=v cx=957.4 cy=122.6 r=3.9 />
<circle class=F cx=963.3 cy=134.2 r=3.1 />
<circle class=A cx=1139.1 cy=136 r=3.1 />
<circle class=V cx=817.4 cy=133.8 r=3.1 />
<circle class=H cx=1059 cy=130.5 r=3.1 />
<circle class=T cx=766.9 cy=138.5 r=3.1 />
<circle class=C cx=963.1 cy=130.1 r=3.1 />
<circle class=c cx=1178.6 cy=135.8 r=3.9 />
<circle class=O cx=769.4 cy=140.2 r=3.1 />
<circle class=L cx=952.8 cy=131.3 r=3.1 />
<circle class=L cx=826.2 cy=140.1 r=3.1 />
<circle class=d cx=973.5 cy=147.1 r=3.9 />
<circle class=D cx=976.5 cy=139.1 r=3.1 />
<circle class=F cx=963.8 cy=123.4 r=3.1 />
<circle class=W cx=851.4 cy=142.4 r=3.1 />
<circle class=W cx=773.6 cy=133.2 r=3.1 />
<circle class=G cx=995.4 cy=139.2 r=3.1 />
<circle class=n cx=841.2 cy=124.8 r=3.9 />
<circle class=M cx=881.8 cy=129.5 r=3.1 />
<circle class=E cx=1084.3 cy=137.2 r=3.1 />
<circle class=E cx=954.2 cy=133.5 r=3.1 />
<circle class=o cx=824.7 cy=144.5 r=3.9 />
<circle class=D cx=1022.8 cy=139.6 r=3.1 />
<circle class=N cx=825.5 cy=136.9 r=3.1 />
<circle class=C cx=962.1 cy=136.7 r=3.1 />
<circle class=N cx=894.3 cy=136 r=3.1 />
<circle class=C cx=982.7 cy=145.9 r=3.1 />
<circle class=B cx=1019.4 cy=129.3 r=3.1 />
<circle class=D cx=1099 cy=139 r=3.1 />
<circle class=x cx=1075.6 cy=132.5 r=3.9 />
<circle class=r cx=753.9 cy=135.3 r=3.9 />
<circle class=U cx=910.2 cy=124.9 r=3.1 />
<circle class=P cx=857.7 cy=125.3 r=3.1 />
<circle class=P cx=799.5 cy=138.1 r=3.1 />
<circle class=B cx=893.8 cy=128.3 r=3.1 />
<circle class=d cx=1184.8 cy=136 r=3.9 />
<circle class=B cx=1056 cy=139.2 r=3.1 />
<circle class=A cx=1173.1 cy=134.5 r=3.1 />
<circle class=U cx=795.7 cy=129.7 r=3.1 />
<circle class=d cx=1076.2 cy=139.6 r=3.9 />
<circle class=C cx=1073.9 cy=140 r=3.1 />
<circle class=A cx=1059.9 cy=136 r=3.1 />
<circle class=D cx=911.5 cy=118.6 r=3.1 />
<circle class=R cx=771.9 cy=138.6 r=3.1 />
<circle class=i cx=897.4 cy=152 r=3.9 />
<circle class=X cx=860 cy=122 r=3.1 />
<circle class=W cx=764.7 cy=136 r=3.1 />
<circle class=S cx=785.2 cy=130.2 r=3.1 />
<circle class=C cx=969.9 cy=132 r=3.1 />
<circle class=J cx=809.1 cy=133.7 r=3.1 />
<circle class=O cx=878.5 cy=126.7 r=3.1 />
<circle class=W cx=1029.1 cy=132.3 r=3.1 />
<circle class=u cx=1013.7 cy=129.1 r=3.9 />
<circle class=Q cx=865.1 cy=150.6 r=3.1 />
<circle class=c cx=864.1 cy=150.4 r=3.9 />
<circle class=d cx=1082.3 cy=139 r=3.9 />
<circle class=p cx=736.4 cy=136 r=3.9 />
<circle class=T cx=934.2 cy=120.8 r=3.1 />
<circle class=V cx=780.4 cy=140 r=3.1 />
<circle class=A cx=1004.7 cy=128.8 r=3.1 />
<circle class=B cx=1011.8 cy=128.2 r=3.1 />
<circle class=I cx=964.1 cy=127.3 r=3.1 />
<circle class=C cx=1038.5 cy=132.9 r=3.1 />
<circle class=B cx=1058.3 cy=138.4 r=3.1 />
<circle class=D cx=973.1 cy=127.4 r=3.1 />
<circle class=C cx=1079.1 cy=137.1 r=3.1 />
<circle class=P cx=854 cy=145.1 r=3.1 />
<circle class=H cx=948.6 cy=138.1 r=3.1 />
<circle class=u cx=1116.3 cy=136.3 r=3.9 />
<circle class=d cx=1144.7 cy=136.5 r=3.9 />
<circle class=D cx=947.3 cy=135.9 r=3.1 />
<circle class=A cx=848.2 cy=134.4 r=3.1 />
<circle class=P cx=827.7 cy=142.6 r=3.1 />
<circle class=E cx=933.9 cy=141.5 r=3.1 />
<circle class=s cx=817.9 cy=143.2 r=3.9 />
<circle class=P cx=833.9 cy=137 r=3.1 />
<circle class=C cx=1099.2 cy=134.1 r=3.1 />
<circle class=T cx=932.7 cy=138.8 r=3.1 />
<circle class=B cx=927.9 cy=134.8 r=3.1 />
<circle class=V cx=805.7 cy=128.5 r=3.1 />
<circle class=W cx=869.6 cy=130.9 r=3.1 />
<circle class=w cx=990.7 cy=127.4 r=3.9 />
<circle class=S cx=860.8 cy=135 r=3.1 />
<circle class=s cx=909.9 cy=119.4 r=3.9 />
<circle class=O cx=841.5 cy=143.2 r=3.1 />
<circle class=T cx=856.5 cy=129.6 r=3.1 />
<circle class=D cx=1060.6 cy=139.3 r=3.1 />
<circle class=R cx=876.6 cy=148.3 r=3.1 />
<circle class=O cx=899.5 cy=131.2 r=3.1 />
<circle class=S cx=886.2 cy=133.8 r=3.1 />
<circle class=V cx=866.2 cy=133.2 r=3.1 />
<circle class=D cx=1199.7 cy=135.1 r=3.1 />
<circle class=g cx=991.1 cy=144.9 r=3.9 />
<circle class=C cx=913.8 cy=137.8 r=3.1 />
<circle class=V cx=832.2 cy=139.7 r=3.1 />
<circle class=U cx=888.7 cy=124.3 r=3.1 />
<circle class=D cx=932.2 cy=123.2 r=3.1 />
<circle class=M cx=924.5 cy=130.5 r=3.1 />
<circle class=B cx=1004.9 cy=136 r=3.1 />
<circle class=Q cx=847.5 cy=136.7 r=3.1 />
<circle class=w cx=761.7 cy=137.5 r=3.9 />
<circle class=D cx=1196.7 cy=136 r=3.1 />
<circle class=B cx=933.3 cy=136.1 r=3.1 />
<circle class=N cx=937.4 cy=127.5 r=3.1 />
<circle class=X cx=1074.2 cy=131.8 r=3.1 />
<circle class=D cx=1026.6 cy=139.4 r=3.1 />
<circle class=C cx=949.6 cy=133.7 r=3.1 />
<circle class=W cx=854 cy=134 r=3.1 />
<circle class=S cx=869.9 cy=143.8 r=3.1 />
<circle class=L cx=988 cy=132.7 r=3.1 />
<circle class=D cx=1186.9 cy=136.5 r=3.1 />
<circle class=Q cx=877.1 cy=139.9 r=3.1 />
<circle class=i cx=1025.3 cy=130 r=3.9 />
<circle class=M cx=920.8 cy=132.8 r=3.1 />
<circle class=C cx=900.1 cy=140.7 r=3.1 />
<circle class=Q cx=903.4 cy=122.9 r=3.1 />
<circle class=K cx=923 cy=152.9 r=3.1 />
<circle class=C cx=893.5 cy=145.6 r=3.1 />
<circle class=q cx=784.4 cy=140.1 r=3.9 />
<circle class=K cx=948.8 cy=144.9 r=3.1 />
<circle class=w cx=1013.5 cy=143 r=3.9 />
<circle class=r cx=731.4 cy=136.3 r=3.9 />
<circle class=C cx=1041.8 cy=131.6 r=3.1 />
<circle class=D cx=1085.7 cy=131.9 r=3.1 />
<circle class=X cx=861.5 cy=141.2 r=3.1 />
<circle class=G cx=1071.6 cy=137.5 r=3.1 />
<circle class=V cx=885.3 cy=147.6 r=3.1 />
<circle class=W cx=1110.3 cy=136 r=3.1 />
<circle class=d cx=881 cy=120.4 r=3.9 />
<circle class=S cx=900.6 cy=153 r=3.1 />
<circle class=C cx=910.1 cy=153.9 r=3.1 />
<circle class=d cx=1132.9 cy=135.7 r=3.9 />
<circle class=k cx=927.6 cy=120.2 r=3.9 />
<circle class=E cx=1163.3 cy=136.4 r=3.1 />
<circle class=F cx=1000.8 cy=137.9 r=3.1 />
<circle class=R cx=834.5 cy=143.8 r=3.1 />
<circle class=W cx=989.4 cy=145.9 r=3.1 />
<circle class=X cx=909.8 cy=139.2 r=3.1 />
<circle class=V cx=850 cy=138.5 r=3.1 />
<circle class=W cx=1194 cy=135.5 r=3.1 />
<circle class=Q cx=861.1 cy=143.6 r=3.1 />
<circle class=J cx=923.1 cy=136 r=3.1 />
<circle class=A cx=973.3 cy=130.3 r=3.1 />
<circle class=c cx=997.4 cy=144.4 r=3.9 />
<circle class=B cx=1131.9 cy=136 r=3.1 />
<circle class=B cx=985.7 cy=130.8 r=3.1 />
<circle class=A cx=993.7 cy=141.2 r=3.1 />
<circle class=O cx=935.6 cy=138.6 r=3.1 />
<circle class=A cx=1009.5 cy=136 r=3.1 />
<circle class=Q cx=925.9 cy=137.3 r=3.1 />
<circle class=J cx=981 cy=132.2 r=3.1 />
<circle class=D cx=989.8 cy=126.2 r=3.1 />
<circle class=Q cx=870.4 cy=150 r=3.1 />
<circle class=C cx=1016 cy=143 r=3.1 />
<circle class=D cx=1032 cy=140.2 r=3.1 />
<circle class=N cx=850.3 cy=149.2 r=3.1 />
<circle class=Q cx=930.3 cy=136 r=3.1 />
<circle class=N cx=897.3 cy=152.8 r=3.1 />
<circle class=C cx=959.5 cy=139 r=3.1 />
<circle class=R cx=929.6 cy=132.9 r=3.1 />
<circle class=R cx=917 cy=138.7 r=3.1 />
<circle class=C cx=954.9 cy=140.6 r=3.1 />
<circle class=E cx=949.2 cy=150.5 r=3.1 />
<circle class=A cx=971.9 cy=143.4 r=3.1 />
<circle class=C cx=1100 cy=136.7 r=3.1 />
<circle class=A cx=802 cy=138.3 r=3.1 />
<circle class=V cx=1043.9 cy=130 r=3.1 />
<circle class=C cx=911.2 cy=137.1 r=3.1 />
<circle class=R cx=819.3 cy=131.5 r=3.1 />
<circle class=Q cx=930.1 cy=119.2 r=3.1 />
<circle class=B cx=1108.9 cy=133.9 r=3.1 />
<circle class=T cx=939.8 cy=125.7 r=3.1 />
<circle class=K cx=917.8 cy=129.4 r=3.1 />
<circle class=B cx=965.4 cy=132.7 r=3.1 />
<circle class=P cx=853.8 cy=140.6 r=3.1 />
<circle class=H cx=919.1 cy=151.6 r=3.1 />
<circle class=V cx=896.2 cy=132.4 r=3.1 />
<circle class=D cx=951.9 cy=136 r=3.1 />
<circle class=D cx=835.4 cy=129.9 r=3.1 />
<circle class=D cx=990.5 cy=134.6 r=3.1 />
<circle class=C cx=1028.7 cy=129.6 r=3.1 />
<circle class=S cx=925.5 cy=145.9 r=3.1 />
<circle class=T cx=893.5 cy=125 r=3.1 />
<circle class=R cx=858.3 cy=136 r=3.1 />
<circle class=D cx=945.2 cy=127.1 r=3.1 />
<circle class=K cx=946.2 cy=124 r=3.1 />
<circle class=P cx=807.2 cy=131.6 r=3.1 />
<circle class=O cx=894.7 cy=150 r=3.1 />
<circle class=w cx=801.5 cy=129.9 r=3.9 />
<circle class=W cx=755 cy=134.5 r=3.1 />
<circle class=O cx=916.9 cy=126.6 r=3.1 />
<circle class=C cx=949.6 cy=147.9 r=3.1 />
<circle class=K cx=830.7 cy=129.6 r=3.1 />
<circle class=D cx=1004.3 cy=142.2 r=3.1 />
<circle class=R cx=909.1 cy=132.8 r=3.1 />
<circle class=B cx=983.9 cy=139.6 r=3.1 />
<circle class=c cx=1155.1 cy=136 r=3.9 />
<circle class=V cx=984.7 cy=133.3 r=3.1 />
<circle class=B cx=1018.9 cy=143.3 r=3.1 />
<circle class=S cx=836.7 cy=136 r=3.1 />
<circle class=c cx=946.7 cy=150.5 r=3.9 />
<circle class=s cx=862.7 cy=121.1 r=3.9 />
<circle class=M cx=971.7 cy=140 r=3.1 />
<circle class=I cx=959.2 cy=146.8 r=3.1 />
<circle class=J cx=909.5 cy=120 r=3.1 />
<circle class=C cx=1158.4 cy=136.9 r=3.1 />
<circle class=B cx=1149.8 cy=137.3 r=3.1 />
<circle class=X cx=1002.1 cy=143.7 r=3.1 />
<circle class=Q cx=867.2 cy=144 r=3.1 />
<circle class=D cx=873.2 cy=131.8 r=3.1 />
<circle class=Q cx=824.2 cy=144.8 r=3.1 />
<circle class=X cx=1013.7 cy=135.6 r=3.1 />
<circle class=C cx=1026.6 cy=130.7 r=3.1 />
<circle class=A cx=1077.5 cy=140.1 r=3.1 />
<circle class=D cx=757.5 cy=136 r=3.1 />
<circle class=p cx=875.4 cy=119.9 r=3.9 />
<circle class=Q cx=789.7 cy=139.1 r=3.1 />
<circle class=C cx=919.9 cy=125.1 r=3.1 />
<circle class=b cx=997.2 cy=128.1 r=3.9 />
<circle class=T cx=735.9 cy=136 r=3.1 />
<circle class=e cx=841.1 cy=146.5 r=3.9 />
<circle class=A cx=928.1 cy=125.2 r=3.1 />
<circle class=B cx=1134.9 cy=135.5 r=3.1 />
<circle class=Q cx=771.9 cy=136 r=3.1 />
<circle class=V cx=829 cy=132.3 r=3.1 />
<circle class=v cx=928.4 cy=152.2 r=3.9 />
<circle class=V cx=949.7 cy=142.1 r=3.1 />
<circle class=O cx=845.3 cy=146 r=3.1 />
<circle class=W cx=815.1 cy=136 r=3.1 />
<circle class=T cx=758.7 cy=133.4 r=3.1 />
<circle class=Q cx=936 cy=151.5 r=3.1 />
<circle class=M cx=800.7 cy=136 r=3.1 />
<circle class=H cx=976.6 cy=142.1 r=3.1 />
<circle class=C cx=1080 cy=133.9 r=3.1 />
<circle class=B cx=977.8 cy=130.1 r=3.1 />
<circle class=R cx=917.5 cy=122.3 r=3.1 />
<circle class=U cx=839.7 cy=135.3 r=3.1 />
<circle class=a cx=1122.1 cy=136.9 r=3.9 />
<circle class=N cx=896.9 cy=129.1 r=3.1 />
<circle class=B cx=954.9 cy=136.8 r=3.1 />
<circle class=P cx=748.7 cy=134.2 r=3.1 />
<circle class=X cx=761.4 cy=134.9 r=3.1 />
<circle class=N cx=955.2 cy=127.2 r=3.1 />
<circle class=B cx=1064.4 cy=137.1 r=3.1 />
<circle class=D cx=1009.8 cy=142.7 r=3.1 />
<circle class=C cx=1096.6 cy=138.3 r=3.1 />
<circle class=L cx=827.6 cy=138 r=3.1 />
<circle class=N cx=930.9 cy=146.7 r=3.1 />
<circle class=B cx=992.5 cy=137 r=3.1 />
<circle class=M cx=972.6 cy=148.4 r=3.1 />
<circle class=P cx=937.9 cy=123.9 r=3.1 />
<circle class=W cx=1031.1 cy=136 r=3.1 />
<circle class=B cx=1077.1 cy=135.7 r=3.1 />
<circle class=P cx=795.6 cy=139.6 r=3.1 />
<circle class=B cx=951.8 cy=145 r=3.1 />
<circle class=a cx=1037.5 cy=130.8 r=3.9 />
<circle class=F cx=974.7 cy=124.5 r=3.1 />
<circle class=B cx=1039.4 cy=130 r=3.1 />
<circle class=v cx=714.3 cy=135.8 r=3.9 />
<circle class=D cx=1184.4 cy=134.8 r=3.1 />
<circle class=T cx=868.1 cy=126.8 r=3.1 />
<circle class=V cx=792.3 cy=133.9 r=3.1 />
<circle class=N cx=849.2 cy=123.8 r=3.1 />
<circle class=q cx=829.8 cy=127.5 r=3.9 />
<circle class=T cx=884.3 cy=151.4 r=3.1 />
<circle class=W cx=825.4 cy=128.2 r=3.1 />
<circle class=d cx=978.7 cy=125.9 r=3.9 />
<circle class=D cx=937.2 cy=120.7 r=3.1 />
<circle class=W cx=961.4 cy=121.9 r=3.1 />
<circle class=W cx=855.6 cy=143.1 r=3.1 />
<circle class=D cx=1065.1 cy=140.1 r=3.1 />
<circle class=B cx=1017.1 cy=133.5 r=3.1 />
<circle class=R cx=865.3 cy=121.5 r=3.1 />
<circle class=R cx=870.2 cy=136.7 r=3.1 />
<circle class=O cx=826.7 cy=133.3 r=3.1 />
<circle class=B cx=1041.5 cy=138.2 r=3.1 />
<circle class=P cx=894.4 cy=138.9 r=3.1 />
<circle class=A cx=1103.2 cy=133.5 r=3.1 />
<circle class=Q cx=929.6 cy=128.4 r=3.1 />
<circle class=c cx=973.3 cy=124.6 r=3.9 />
<circle class=U cx=769.1 cy=137.2 r=3.1 />
<circle class=f cx=985.9 cy=145.4 r=3.9 />
<circle class=B cx=971.4 cy=124.8 r=3.1 />
<circle class=B cx=1137.3 cy=134.4 r=3.1 />
<circle class=u cx=790.4 cy=141.4 r=3.9 />
<circle class=U cx=1114.9 cy=134.9 r=3.1 />
<circle class=D cx=1085.8 cy=135.3 r=3.1 />
<circle class=R cx=909.9 cy=129.3 r=3.1 />
<circle class=D cx=1002.3 cy=136 r=3.1 />
<circle class=S cx=721.5 cy=136 r=3.1 />
<circle class=g cx=979.7 cy=146.7 r=3.9 />
<circle class=P cx=864.1 cy=124.4 r=3.1 />
<circle class=v cx=748.1 cy=135.6 r=3.9 />
<circle class=S cx=922.5 cy=124.7 r=3.1 />
<circle class=Q cx=878.4 cy=142.3 r=3.1 />
<circle class=P cx=809.5 cy=142 r=3.1 />
<circle class=B cx=1095.9 cy=136 r=3.1 />
<circle class=C cx=1141.4 cy=134.8 r=3.1 />
<circle class=c cx=1116.7 cy=135.7 r=3.9 />
<circle class=B cx=937.5 cy=136 r=3.1 />
<circle class=I cx=966.1 cy=146.8 r=3.1 />
<circle class=e cx=852.4 cy=123.5 r=3.9 />
<circle class=a cx=1201.5 cy=136.2 r=3.9 />
<circle class=D cx=1065.3 cy=134.1 r=3.1 />
<circle class=R cx=878.9 cy=131.5 r=3.1 />
<circle class=Q cx=935.7 cy=129.6 r=3.1 />
<circle class=D cx=1036.9 cy=129.7 r=3.1 />
<circle class=T cx=847.9 cy=139.7 r=3.1 />
<circle class=D cx=804.4 cy=140.7 r=3.1 />
<circle class=B cx=957.9 cy=131.3 r=3.1 />
<circle class=U cx=969.5 cy=137.6 r=3.1 />
<circle class=N cx=906 cy=145.7 r=3.1 />
<circle class=T cx=918.1 cy=141.6 r=3.1 />
<circle class=v cx=986 cy=126.8 r=3.9 />
<circle class=E cx=978.3 cy=147.3 r=3.1 />
<circle class=D cx=953.1 cy=121.6 r=3.1 />
<circle class=H cx=1088.8 cy=132.7 r=3.1 />
<circle class=E cx=1074.3 cy=136 r=3.1 />
<circle class=N cx=941.5 cy=138.7 r=3.1 />
<circle class=I cx=970.4 cy=134.8 r=3.1 />
<circle class=E cx=1025.7 cy=134.3 r=3.1 />
<circle class=C cx=1067.1 cy=136 r=3.1 />
<circle class=T cx=807.9 cy=136 r=3.1 />
<circle class=C cx=1039.2 cy=140.7 r=3.1 />
<circle class=S cx=854 cy=149.8 r=3.1 />
<circle class=P cx=838.5 cy=142.2 r=3.1 />
<circle class=P cx=879.9 cy=136 r=3.1 />
<circle class=T cx=939.4 cy=145.3 r=3.1 />
<circle class=S cx=886.3 cy=126.1 r=3.1 />
<circle class=C cx=956.3 cy=144.7 r=3.1 />
<circle class=G cx=974.1 cy=138.6 r=3.1 />
<circle class=K cx=883.4 cy=131.8 r=3.1 />
<circle class=K cx=905.3 cy=151.5 r=3.1 />
<circle class=A cx=981.1 cy=128.8 r=3.1 />
<circle class=F cx=905.8 cy=148.3 r=3.1 />
<circle class=S cx=875.2 cy=136 r=3.1 />
<circle class=Q cx=761.2 cy=137.9 r=3.1 />
<circle class=P cx=943.5 cy=147.8 r=3.1 />
<circle class=A cx=1008.3 cy=130.4 r=3.1 />
<circle class=E cx=946.4 cy=151.4 r=3.1 />
<circle class=Q cx=938.8 cy=130.1 r=3.1 />
<circle class=D cx=1023.9 cy=136 r=3.1 />
<circle class=B cx=1175.1 cy=136 r=3.1 />
<circle class=B cx=906.3 cy=135.7 r=3.1 />
<circle class=P cx=942.2 cy=121 r=3.1 />
<circle class=O cx=876.3 cy=143.7 r=3.1 />
<circle class=N cx=939.6 cy=121.5 r=3.1 />
<circle class=P cx=793.5 cy=136 r=3.1 />
<circle class=N cx=847 cy=125.2 r=3.1 />
<circle class=E cx=956.2 cy=124.9 r=3.1 />
<circle class=B cx=1005.8 cy=138.3 r=3.1 />
<circle class=A cx=850.7 cy=129.4 r=3.1 />
<circle class=W cx=1000.8 cy=134 r=3.1 />
<circle class=C cx=1076.9 cy=132.9 r=3.1 />
<circle class=V cx=824.5 cy=142 r=3.1 />
<circle class=h cx=969.3 cy=124.1 r=3.9 />
<circle class=C cx=829.5 cy=136 r=3.1 />
<circle class=M cx=967.2 cy=139.2 r=3.1 />
<circle class=D cx=949.7 cy=127.4 r=3.1 />
<circle class=D cx=1082.9 cy=132 r=3.1 />
<circle class=D cx=986.6 cy=146 r=3.1 />
<circle class=b cx=1054.5 cy=140.4 r=3.9 />
<circle class=P cx=925.2 cy=143.3 r=3.1 />
<circle class=d cx=1139.7 cy=135.1 r=3.9 />
<circle class=d cx=1094.9 cy=134.2 r=3.9 />
<circle class=W cx=784.1 cy=133.2 r=3.1 />
<circle class=O cx=918.6 cy=145 r=3.1 />
<circle class=P cx=850.9 cy=132.4 r=3.1 />
<circle class=V cx=1046.3 cy=129.7 r=3.1 />
<circle class=B cx=886.7 cy=139.2 r=3.1 />
<circle class=d cx=1149.2 cy=136.8 r=3.9 />
<circle class=j cx=847.3 cy=124.1 r=3.9 />
<circle class=C cx=930.9 cy=143.9 r=3.1 />
<circle class=O cx=936.9 cy=145.2 r=3.1 />
<circle class=r cx=891.3 cy=119.5 r=3.9 />
<circle class=D cx=1051.4 cy=133.4 r=3.1 />
<circle class=t cx=767.4 cy=133.8 r=3.9 />
<circle class=E cx=1014.8 cy=130.8 r=3.1 />
<circle class=B cx=961.9 cy=146.2 r=3.1 />
<circle class=T cx=881.2 cy=120.3 r=3.1 />
<circle class=G cx=1090.6 cy=134.5 r=3.1 />
<circle class=V cx=956 cy=121.8 r=3.1 />
<circle class=T cx=870.8 cy=125.3 r=3.1 />
<circle class=C cx=1053.7 cy=140.7 r=3.1 />
<circle class=P cx=826.8 cy=130.3 r=3.1 />
<circle class=T cx=930.4 cy=149.4 r=3.1 />
<circle class=O cx=802.1 cy=142.1 r=3.1 />
<circle class=A cx=942.1 cy=126.8 r=3.1 />
<circle class=C cx=1084 cy=139.6 r=3.1 />
<circle class=K cx=926.7 cy=152.2 r=3.1 />
<circle class=C cx=967 cy=126.7 r=3.1 />
<circle class=G cx=944.7 cy=133.5 r=3.1 />
<circle class=C cx=1080 cy=139.8 r=3.1 />
<circle class=X cx=995.9 cy=131.8 r=3.1 />
<circle class=E cx=998.1 cy=129.7 r=3.1 />
<circle class=b cx=1105.4 cy=134.9 r=3.9 />
<circle class=o cx=753.6 cy=136.9 r=3.9 />
<circle class=R cx=782.8 cy=140.4 r=3.1 />
<circle class=K cx=920.3 cy=129.5 r=3.1 />
<circle class=U cx=822.8 cy=138.9 r=3.1 />
<circle class=C cx=969.1 cy=148.1 r=3.1 />
<circle class=R cx=939.4 cy=141.4 r=3.1 />
<circle class=C cx=1006.7 cy=144.6 r=3.1 />
<circle class=g cx=969.4 cy=148.2 r=3.9 />
<circle class=I cx=811.6 cy=131.8 r=3.1 />
<circle class=Q cx=938.4 cy=152.5 r=3.1 />
<circle class=U cx=1071.7 cy=133.8 r=3.1 />
<circle class=c cx=920.9 cy=120.2 r=3.9 />
<circle class=b cx=737.3 cy=136 r=3.9 />
<circle class=W cx=863.9 cy=131.8 r=3.1 />
<circle class=Q cx=787.2 cy=138.7 r=3.1 />
<circle class=S cx=877.6 cy=123.9 r=3.1 />
<circle class=l cx=933.6 cy=151.7 r=3.9 />
<circle class=U cx=993 cy=145.5 r=3.1 />
<circle class=d cx=1166.7 cy=136.4 r=3.9 />
<circle class=R cx=786.3 cy=136 r=3.1 />
<circle class=U cx=872.9 cy=123.5 r=3.1 />
<circle class=S cx=892.6 cy=130.5 r=3.1 />
<circle class=Q cx=843.9 cy=136 r=3.1 />
<circle class=O cx=884.2 cy=139.6 r=3.1 />
<circle class=c cx=1167.9 cy=136.1 r=3.9 />
<circle class=b cx=1054.4 cy=131.9 r=3.9 />
<circle class=K cx=882.7 cy=137.5 r=3.1 />
<circle class=B cx=1036.6 cy=137.9 r=3.1 />
<circle class=P cx=871.9 cy=148 r=3.1 />
<circle class=E cx=1024.2 cy=131.8 r=3.1 />
<circle class=Q cx=855.4 cy=147.4 r=3.1 />
<circle class=S cx=864.2 cy=143 r=3.1 />
<circle class=V cx=848.2 cy=127.8 r=3.1 />
<circle class=B cx=974.8 cy=147.4 r=3.1 />
<circle class=N cx=873.9 cy=138.6 r=3.1 />
<circle class=d cx=1071.6 cy=132.5 r=3.9 />
<circle class=P cx=943.1 cy=140.9 r=3.1 />
<circle class=e cx=1071.3 cy=140.1 r=3.9 />
<circle class=K cx=862.1 cy=146.3 r=3.1 />
<circle class=D cx=1079 cy=131.7 r=3.1 />
<circle class=B cx=912.6 cy=128.2 r=3.1 />
<circle class=P cx=752.4 cy=134.6 r=3.1 />
<circle class=v cx=1111.8 cy=135.8 r=3.9 />
<circle class=U cx=961.4 cy=143.8 r=3.1 />
<circle class=X cx=814.4 cy=139.5 r=3.1 />
<circle class=X cx=1081.5 cy=136 r=3.1 />
<circle class=O cx=865.5 cy=136 r=3.1 />
<circle class=P cx=943.7 cy=123.4 r=3.1 />
<circle class=B cx=728.7 cy=136 r=3.1 />
<circle class=D cx=817.6 cy=143.2 r=3.1 />
<circle class=T cx=820.7 cy=133.5 r=3.1 />
<circle class=P cx=782.9 cy=136.1 r=3.1 />
<circle class=V cx=776.8 cy=139.8 r=3.1 />
<circle class=A cx=915.7 cy=152.2 r=3.1 />
<circle class=D cx=1070.4 cy=139.9 r=3.1 />
<circle class=C cx=1050.3 cy=139.9 r=3.1 />
<circle class=M cx=900 cy=120.8 r=3.1 />
<circle class=q cx=714.3 cy=135.9 r=3.9 />
<circle class=E cx=1045.3 cy=132.8 r=3.1 />
<circle class=I cx=1045.5 cy=136 r=3.1 />
<circle class=A cx=964.4 cy=139.7 r=3.1 />
<circle class=X cx=1008.8 cy=139.3 r=3.1 />
<circle class=U cx=919.6 cy=139.5 r=3.1 />
<circle class=M cx=830.1 cy=143.2 r=3.1 />
<circle class=Q cx=836.3 cy=126.4 r=3.1 />
<circle class=D cx=902.7 cy=151.6 r=3.1 />
<circle class=C cx=912.5 cy=144.7 r=3.1 />
<circle class=F cx=1028.2 cy=143.2 r=3.1 />
<circle class=K cx=881.4 cy=139.9 r=3.1 />
<circle class=K cx=902.1 cy=126.2 r=3.1 />
<circle class=Q cx=808.2 cy=138.8 r=3.1 />
<circle class=L cx=804.6 cy=131.4 r=3.1 />
<circle class=e cx=941 cy=151.9 r=3.9 />
<circle class=J cx=931.1 cy=126.2 r=3.1 />
<circle class=G cx=946 cy=146.3 r=3.1 />
<circle class=o cx=921.7 cy=152.7 r=3.9 />
<circle class=X cx=718 cy=135.7 r=3.1 />
<circle class=X cx=833 cy=145.8 r=3.1 />
<circle class=U cx=995.1 cy=136 r=3.1 />
<circle class=S cx=888 cy=151.2 r=3.1 />
<circle class=t cx=720.6 cy=136.4 r=3.9 />
<circle class=C cx=1020.4 cy=133.9 r=3.1 />
<circle class=P cx=915.8 cy=142.8 r=3.1 />
<circle class=Q cx=801 cy=131.6 r=3.1 />
<circle class=C cx=953 cy=151.3 r=3.1 />
<circle class=P cx=874.1 cy=152.3 r=3.1 />
<circle class=I cx=829.3 cy=126.9 r=3.1 />
<circle class=P cx=873.7 cy=126.8 r=3.1 />
<circle class=P cx=924.1 cy=148.3 r=3.1 />
<circle class=X cx=725.9 cy=134.9 r=3.1 />
<circle class=P cx=839.6 cy=139.7 r=3.1 />
<circle class=E cx=1153.5 cy=136 r=3.1 />
<circle class=E cx=1167.9 cy=136 r=3.1 />
<circle class=M cx=869.7 cy=133.8 r=3.1 />
<circle class=A cx=851 cy=146.8 r=3.1 />
<circle class=d cx=1081.4 cy=132.7 r=3.9 />
<circle class=Q cx=849.2 cy=144.6 r=3.1 />
<circle class=M cx=916.2 cy=132.9 r=3.1 />
<circle class=F cx=1055.4 cy=134.8 r=3.1 />
<circle class=B cx=1049.1 cy=137.7 r=3.1 />
<circle class=N cx=919.2 cy=135.3 r=3.1 />
<circle class=V cx=768.1 cy=133.6 r=3.1 />
<circle class=J cx=932.5 cy=119 r=3.1 />
<circle class=E cx=968.9 cy=123.3 r=3.1 />
<circle class=U cx=868.3 cy=148.9 r=3.1 />
<circle class=X cx=775.1 cy=135.9 r=3.1 />
<circle class=A cx=999.8 cy=142.8 r=3.1 />
<circle class=D cx=1143.4 cy=136.7 r=3.1 />
<circle class=R cx=905.8 cy=124.3 r=3.1 />
<circle class=S cx=868.1 cy=151.8 r=3.1 />
<circle class=D cx=916.3 cy=149.4 r=3.1 />
<circle class=E cx=932.5 cy=128.7 r=3.1 />
<circle class=A cx=1062.4 cy=141.2 r=3.1 />
<circle class=B cx=900.9 cy=148.1 r=3.1 />
<circle class=W cx=1093.6 cy=134.4 r=3.1 />
<circle class=P cx=937.4 cy=133.2 r=3.1 />
<circle class=J cx=898.1 cy=119.1 r=3.1 />
<circle class=C cx=1105.8 cy=134.5 r=3.1 />
<circle class=V cx=1012.9 cy=144.3 r=3.1 />
<circle class=C cx=1191.8 cy=136.7 r=3.1 />
<circle class=J cx=932.8 cy=151 r=3.1 />
<circle class=F cx=1020.2 cy=137.2 r=3.1 />
<circle class=E cx=829.7 cy=139.1 r=3.1 />
<circle class=G cx=1007.8 cy=133 r=3.1 />
<circle class=r cx=800.8 cy=141.9 r=3.9 />
<circle class=P cx=799.5 cy=133.8 r=3.1 />
<circle class=D cx=1103.3 cy=138.5 r=3.1 />
<circle class=D cx=1069.7 cy=135.7 r=3.1 />
<circle class=D cx=958.9 cy=142.6 r=3.1 />
<circle class=S cx=844.5 cy=123.4 r=3.1 />
<circle class=Q cx=864.1 cy=148 r=3.1 />
<circle class=J cx=895.9 cy=126.7 r=3.1 />
<circle class=D cx=997.8 cy=144.3 r=3.1 />
<circle class=Q cx=876.9 cy=133.2 r=3.1 />
<circle class=D cx=1049.5 cy=130.2 r=3.1 />
<circle class=L cx=911 cy=148.1 r=3.1 />
<circle class=C cx=986.8 cy=143.6 r=3.1 />
<circle class=J cx=908.7 cy=136 r=3.1 />
<circle class=C cx=975.4 cy=128.8 r=3.1 />
<circle class=B cx=860 cy=132 r=3.1 />
<circle class=V cx=925.6 cy=128 r=3.1 />
<circle class=R cx=782.6 cy=131.1 r=3.1 />
<circle class=n cx=891.8 cy=152.5 r=3.9 />
<circle class=X cx=1006.7 cy=141.8 r=3.1 />
<circle class=q cx=742.7 cy=136.9 r=3.9 />
<circle class=D cx=1091.6 cy=136.7 r=3.1 />
<circle class=C cx=948.7 cy=124.1 r=3.1 />
<circle class=v cx=766.2 cy=138.4 r=3.9 />
<circle class=O cx=906.4 cy=138.4 r=3.1 />
<circle class=U cx=892.6 cy=148 r=3.1 />
<circle class=S cx=813 cy=129.4 r=3.1 />
<circle class=J cx=915.9 cy=146.3 r=3.1 />
<circle class=T cx=902.2 cy=143.2 r=3.1 />
<circle class=R cx=870.5 cy=141.4 r=3.1 />
<circle class=K cx=920.7 cy=137.4 r=3.1 />
<circle class=w cx=784.1 cy=131.4 r=3.9 />
<circle class=S cx=866.2 cy=146.4 r=3.1 />
<circle class=V cx=888.7 cy=142.7 r=3.1 />
<circle class=F cx=973.2 cy=132.8 r=3.1 />
<circle class=C cx=770.6 cy=132.9 r=3.1 />
<circle class=S cx=746.8 cy=136.7 r=3.1 />
<circle class=D cx=980.7 cy=136 r=3.1 />
<circle class=B cx=987.6 cy=140.7 r=3.1 />
<circle class=T cx=854 cy=129.5 r=3.1 />
<circle class=J cx=886.3 cy=122 r=3.1 />
<circle class=K cx=914.8 cy=140.2 r=3.1 />
<circle class=R cx=855.1 cy=126.3 r=3.1 />
<circle class=S cx=822.3 cy=136 r=3.1 />
<circle class=e cx=951.8 cy=150.2 r=3.9 />
<circle class=c cx=1032.7 cy=130.2 r=3.9 />
<circle class=R cx=932 cy=131.6 r=3.1 />
<circle class=H cx=941.9 cy=143.5 r=3.1 />
<circle class=B cx=954.4 cy=146.6 r=3.1 />
<circle class=K cx=890.6 cy=133.6 r=3.1 />
<circle class=N cx=884.1 cy=135.5 r=3.1 />
<circle class=s cx=789.2 cy=131 r=3.9 />
<circle class=I cx=922.2 cy=150.2 r=3.1 />
<circle class=C cx=981.2 cy=138.8 r=3.1 />
<circle class=D cx=976.1 cy=135.5 r=3.1 />
<circle class=B cx=1127.6 cy=134.4 r=3.1 />
<circle class=e cx=933.9 cy=120 r=3.9 />
<circle class=R cx=903.5 cy=139.1 r=3.1 />
<circle class=B cx=986.8 cy=125.9 r=3.1 />
<circle class=W cx=1060.3 cy=132.5 r=3.1 />
<circle class=j cx=910.3 cy=152.1 r=3.9 />
<circle class=w cx=731.7 cy=135.3 r=3.9 />
<circle class=e cx=1049.8 cy=140.7 r=3.9 />
<circle class=B cx=1002.8 cy=139.8 r=3.1 />
<circle class=O cx=913 cy=121.8 r=3.1 />
<circle class=R cx=910.7 cy=141.7 r=3.1 />
<circle class=K cx=817 cy=138.4 r=3.1 />
<circle class=A cx=959.1 cy=136 r=3.1 />
<circle class=D cx=1067.3 cy=139 r=3.1 />
<circle class=A cx=915.9 cy=136 r=3.1 />
<circle class=b cx=963.3 cy=149 r=3.9 />
<circle class=U cx=792.4 cy=138.9 r=3.1 />
<circle class=U cx=868.7 cy=120.9 r=3.1 />
<circle class=S cx=889.9 cy=138 r=3.1 />
<circle class=D cx=1032.7 cy=133.5 r=3.1 />
<circle class=H cx=955.9 cy=129.7 r=3.1 />
<circle class=B cx=899.5 cy=125.1 r=3.1 />
<circle class=E cx=962.2 cy=125.3 r=3.1 />
<circle class=D cx=963.3 cy=141.9 r=3.1 />
<circle class=T cx=856.9 cy=132.1 r=3.1 />
<circle class=K cx=929.6 cy=153 r=3.1 />
<circle class=R cx=863 cy=127.3 r=3.1 />
<circle class=B cx=988.6 cy=130.1 r=3.1 />
<circle class=c cx=898.1 cy=119.7 r=3.9 />
<circle class=B cx=928.5 cy=146.3 r=3.1 />
<circle class=J cx=908.3 cy=148.3 r=3.1 />
<circle class=B cx=1165.5 cy=135.2 r=3.1 />
<circle class=S cx=875.3 cy=121.2 r=3.1 />
<circle class=S cx=940 cy=135.9 r=3.1 />
<circle class=J cx=991.5 cy=130.3 r=3.1 />
<circle class=D cx=814.4 cy=133.6 r=3.1 />
<circle class=P cx=890 cy=131.2 r=3.1 />
<circle class=l cx=962.5 cy=122.7 r=3.9 />
<circle class=M cx=846.1 cy=132.5 r=3.1 />
<circle class=Q cx=800.2 cy=129 r=3.1 />
<circle class=C cx=944.6 cy=119.9 r=3.1 />
<circle class=q cx=825 cy=128.1 r=3.9 />
<circle class=D cx=990.2 cy=142.9 r=3.1 />
<circle class=A cx=1058.1 cy=141.5 r=3.1 />
<circle class=O cx=912.5 cy=152 r=3.1 />
<circle class=r cx=725.6 cy=135.7 r=3.9 />
<circle class=M cx=869 cy=139.2 r=3.1 />
<circle class=T cx=872.4 cy=129.4 r=3.1 />
<circle class=C cx=1015 cy=139.9 r=3.1 />
<circle class=V cx=776.9 cy=133.2 r=3.1 />
<circle class=B cx=1112.1 cy=134.3 r=3.1 />
<circle class=W cx=1000.7 cy=130 r=3.1 />
<circle class=c cx=1133.5 cy=136.2 r=3.9 />
<circle class=G cx=951.9 cy=124.3 r=3.1 />
<circle class=S cx=829.1 cy=145.8 r=3.1 />
<circle class=V cx=966.1 cy=124.5 r=3.1 />
<circle class=V cx=805.7 cy=134.5 r=3.1 />
<circle class=D cx=1011.4 cy=138.6 r=3.1 />
<circle class=U cx=1068.9 cy=132.1 r=3.1 />
<circle class=M cx=902 cy=129.4 r=3.1 />
<circle class=A cx=803.1 cy=134.4 r=3.1 />
<circle class=D cx=994.1 cy=127.7 r=3.1 />
<circle class=E cx=947 cy=148.9 r=3.1 />
<circle class=N cx=896.7 cy=145.2 r=3.1 />
<circle class=B cx=1124.7 cy=136 r=3.1 />
<circle class=J cx=895.7 cy=119.1 r=3.1 />
<circle class=C cx=847.9 cy=146.7 r=3.1 />
<circle class=b cx=1127.8 cy=136 r=3.9 />
<circle class=C cx=1034.7 cy=136.4 r=3.1 />
<circle class=b cx=1144 cy=135.8 r=3.9 />
<circle class=T cx=798.5 cy=142.5 r=3.1 />
<circle class=Q cx=902.9 cy=119.5 r=3.1 />
<circle class=A cx=957.3 cy=133.9 r=3.1 />
<circle class=L cx=890.5 cy=128.6 r=3.1 />
<circle class=P cx=841.8 cy=123.7 r=3.1 />
<circle class=T cx=815 cy=141.9 r=3.1 />
<circle class=W cx=820.1 cy=144.6 r=3.1 />
<circle class=D cx=969.4 cy=129.6 r=3.1 />
<circle class=D cx=949.5 cy=130.7 r=3.1 />
<circle class=S cx=919.6 cy=148.5 r=3.1 />
<circle class=T cx=811.9 cy=143.8 r=3.1 />
<circle class=T cx=870.2 cy=146.2 r=3.1 />
<circle class=d cx=1098.8 cy=134.3 r=3.9 />
<circle class=w cx=1121.5 cy=135.1 r=3.9 />
<circle class=C cx=1019.9 cy=139.6 r=3.1 />
<circle class=A cx=1016.3 cy=128.1 r=3.1 />
<circle class=M cx=982.8 cy=126.1 r=3.1 />
<circle class=a cx=1190.6 cy=135.9 r=3.9 />
<circle class=D cx=1075.8 cy=138.2 r=3.1 />
<circle class=W cx=983.8 cy=143.4 r=3.1 />
<circle class=L cx=900.2 cy=127.7 r=3.1 />
<circle class=V cx=1036.3 cy=141.4 r=3.1 />
<circle class=U cx=791.3 cy=131.2 r=3.1 />
<circle class=B cx=1047.6 cy=140.1 r=3.1 />
<circle class=W cx=836.9 cy=133.1 r=3.1 />
<circle class=I cx=973.5 cy=136 r=3.1 />
<circle class=B cx=1045.2 cy=141.1 r=3.1 />
<circle class=A cx=1038.3 cy=136 r=3.1 />
<circle class=b cx=1039.3 cy=141.7 r=3.9 />
<circle class=P cx=860.5 cy=126.4 r=3.1 />
<circle class=W cx=986.8 cy=138.3 r=3.1 />
<circle class=M cx=892 cy=143.3 r=3.1 />
<circle class=G cx=993.2 cy=134.2 r=3.1 />
<circle class=D cx=958.1 cy=123.4 r=3.1 />
<circle class=S cx=859.9 cy=151.2 r=3.1 />
<circle class=I cx=1016.7 cy=136 r=3.1 />
<circle class=W cx=750.3 cy=136 r=3.1 />
<circle class=D cx=1158 cy=134.5 r=3.1 />
<circle class=B cx=877.5 cy=137.4 r=3.1 />
<circle class=C cx=862.7 cy=138.2 r=3.1 />
<circle class=b cx=1025.4 cy=141.9 r=3.9 />
<circle class=P cx=940.6 cy=147.6 r=3.1 />
<circle class=D cx=881.3 cy=153.1 r=3.1 />
<circle class=c cx=1099.2 cy=137.5 r=3.9 />
<circle class=N cx=885.3 cy=119.7 r=3.1 />
<circle class=D cx=934.6 cy=132.8 r=3.1 />
<circle class=o cx=859.2 cy=149.6 r=3.9 />
<circle class=q cx=813.6 cy=129 r=3.9 />
<circle class=q cx=869.3 cy=120.2 r=3.9 />
<circle class=D cx=930.3 cy=121.6 r=3.1 />
<circle class=A cx=945.1 cy=144 r=3.1 />
<circle class=D cx=998.6 cy=137.1 r=3.1 />
<circle class=D cx=947 cy=120.7 r=3.1 />
<circle class=Q cx=871 cy=152.5 r=3.1 />
<circle class=B cx=892 cy=139.9 r=3.1 />
<circle class=L cx=943.6 cy=151.1 r=3.1 />
<circle class=D cx=980.2 cy=145.4 r=3.1 />
<circle class=O cx=890 cy=120.5 r=3.1 />
<circle class=u cx=813 cy=143 r=3.9 />
<circle class=Q cx=896.2 cy=140.8 r=3.1 />
<circle class=a cx=1112 cy=136.4 r=3.9 />
<circle class=M cx=894.7 cy=152.6 r=3.1 />
<circle class=C cx=1056.4 cy=131.3 r=3.1 />
<circle class=c cx=1161.1 cy=135.5 r=3.9 />
<circle class=K cx=939.4 cy=150 r=3.1 />
<circle class=C cx=901.5 cy=136 r=3.1 />
<circle class=i cx=1003.5 cy=128.3 r=3.9 />
<circle class=V cx=897 cy=123 r=3.1 />
<circle class=D cx=1011.5 cy=132.9 r=3.1 />
<circle class=x cx=795 cy=130.8 r=3.9 />
<circle class=C cx=1115.2 cy=137.8 r=3.1 />
<circle class=S cx=821 cy=128.5 r=3.1 />
<circle class=N cx=885.4 cy=129.5 r=3.1 />
<circle class=R cx=899.2 cy=150.8 r=3.1 />
<circle class=F cx=925.1 cy=133.2 r=3.1 />
<circle class=T cx=822.1 cy=142.4 r=3.1 />
<circle class=D cx=945.6 cy=141.6 r=3.1 />
<circle class=L cx=887.3 cy=131.6 r=3.1 />
<circle class=E cx=1182.3 cy=136 r=3.1 />
<circle class=B cx=1096.7 cy=132.9 r=3.1 />
<circle class=S cx=764.5 cy=139.3 r=3.1 />
<circle class=R cx=832.9 cy=130.9 r=3.1 />
<circle class=D cx=1149.9 cy=134.4 r=3.1 />
<circle class=Q cx=844 cy=148.3 r=3.1 />
<circle class=X cx=929.6 cy=138.4 r=3.1 />
<circle class=s cx=904.9 cy=152.9 r=3.9 />
<circle class=D cx=786.1 cy=141.4 r=3.1 />
<circle class=H cx=1088.7 cy=136 r=3.1 />
<circle class=S cx=857.5 cy=145.5 r=3.1 />
<circle class=M cx=912.1 cy=134.9 r=3.1 />
<circle class=b cx=835.7 cy=126.2 r=3.9 />
<circle class=N cx=880.7 cy=147.8 r=3.1 />
<circle class=B cx=979.6 cy=126.3 r=3.1 />
<circle class=W cx=789.9 cy=134.7 r=3.1 />
<circle class=Q cx=865.5 cy=140.2 r=3.1 />
<circle class=b cx=945.3 cy=121.4 r=3.9 />
<circle class=C cx=881.5 cy=145.4 r=3.1 />
<circle class=B cx=974.6 cy=144.4 r=3.1 />
<circle class=C cx=963.8 cy=147.8 r=3.1 />
<circle class=R cx=779.1 cy=136 r=3.1 />
<circle class=C cx=996.8 cy=134.1 r=3.1 />
<circle class=K cx=908.8 cy=126.9 r=3.1 />
<circle class=a cx=1088.4 cy=133.7 r=3.9 />
<circle class=D cx=946 cy=138.5 r=3.1 />
<circle class=U cx=920.1 cy=121.2 r=3.1 />
<circle class=t cx=869.5 cy=151.7 r=3.9 />
<circle class=f cx=1095.2 cy=138.6 r=3.9 />
<circle class=D cx=979.4 cy=134 r=3.1 />
<circle class=H cx=978.7 cy=137.4 r=3.1 />
<circle class=e cx=1044.3 cy=130.6 r=3.9 />
<circle class=q cx=915.1 cy=152.7 r=3.9 />
<circle class=D cx=1035.2 cy=131.8 r=3.1 />
<circle class=P cx=812 cy=134.8 r=3.1 />
<circle class=S cx=901.1 cy=133.4 r=3.1 />
<circle class=X cx=1117.5 cy=136 r=3.1 />
<circle class=a cx=1066 cy=139.6 r=3.9 />
<circle class=S cx=859.9 cy=138.1 r=3.1 />
<circle class=G cx=889.3 cy=146.9 r=3.1 />
<circle class=s cx=818.5 cy=128.7 r=3.9 />
<circle class=D cx=841.8 cy=128.1 r=3.1 />
<circle class=v cx=1105.9 cy=137 r=3.9 />
<circle class=P cx=899.1 cy=143.3 r=3.1 />
<circle class=B cx=819.4 cy=140.9 r=3.1 />
<circle class=B cx=990.4 cy=139 r=3.1 />
<circle class=m cx=881 cy=151.5 r=3.9 />
<circle class=I cx=870.2 cy=128.2 r=3.1 />
<circle class=S cx=795.1 cy=134.2 r=3.1 />
<circle class=C cx=1103.1 cy=136 r=3.1 />
<circle class=P cx=839.5 cy=131.9 r=3.1 />
<circle class=E cx=999.6 cy=140 r=3.1 />
<circle class=T cx=832.1 cy=127 r=3.1 />
<circle class=x cx=741.5 cy=135.9 r=3.9 />
<circle class=D cx=970.6 cy=127.2 r=3.1 />
<circle class=U cx=904.8 cy=127.4 r=3.1 />
<circle class=S cx=862.4 cy=122.3 r=3.1 />
<circle class=V cx=1160.7 cy=136 r=3.1 />
<circle class=D cx=1093.9 cy=139.6 r=3.1 />
<circle class=W cx=905.7 cy=120.3 r=3.1 />
<circle class=D cx=848.2 cy=130.8 r=3.1 />
<circle class=L cx=912.1 cy=131.4 r=3.1 />
<circle class=B cx=903.8 cy=132.8 r=3.1 />
<circle class=N cx=922.6 cy=128.4 r=3.1 />
<circle class=C cx=952.3 cy=138.9 r=3.1 />
<circle class=D cx=987.9 cy=136 r=3.1 />
<circle class=D cx=874.1 cy=145.9 r=3.1 />
<circle class=I cx=1027.7 cy=136.7 r=3.1 />
<circle class=B cx=1128.5 cy=137.4 r=3.1 />
<circle class=R cx=793.9 cy=132 r=3.1 />
<circle class=B cx=1043.7 cy=139.1 r=3.1 />
<circle class=C cx=943.2 cy=131.2 r=3.1 />
<circle class=P cx=893 cy=118.7 r=3.1 />
<circle class=J cx=901.9 cy=145.6 r=3.1 />
<circle class=X cx=1171.5 cy=137.1 r=3.1 />
<circle class=x cx=859.1 cy=122.6 r=3.9 />
<circle class=I cx=957 cy=149.3 r=3.1 />
<circle class=e cx=1008.2 cy=129 r=3.9 />
<circle class=B cx=946.3 cy=131.6 r=3.1 />
<circle class=D cx=977 cy=133.2 r=3.1 />
<circle class=C cx=847.7 cy=149.2 r=3.1 />
<circle class=Q cx=833.9 cy=134.5 r=3.1 />
<circle class=O cx=942.4 cy=135.2 r=3.1 />
<circle class=R cx=881.8 cy=134.2 r=3.1 />
<circle class=u cx=773.2 cy=133.2 r=3.9 />
<circle class=u cx=761.2 cy=134.6 r=3.9 />
<circle class=T cx=909.2 cy=145.6 r=3.1 />
<circle class=K cx=822.3 cy=130.8 r=3.1 />
<circle class=P cx=854.4 cy=136.5 r=3.1 />
<circle class=M cx=922.2 cy=146.8 r=3.1 />
<circle class=q cx=845.6 cy=148.3 r=3.9 />
<circle class=R cx=931.1 cy=141.2 r=3.1 />
<circle class=B cx=1024 cy=142.2 r=3.1 />
<circle class=a cx=1149.4 cy=135.4 r=3.9 />
<circle class=C cx=1155.9 cy=135.9 r=3.1 />
<circle class=B cx=1022 cy=143.8 r=3.1 />
<circle class=R cx=836.7 cy=145.7 r=3.1 />
<circle class=P cx=915 cy=123.7 r=3.1 />
<circle class=S cx=763.1 cy=132.6 r=3.1 />
<circle class=d cx=956.4 cy=149.1 r=3.9 />
<circle class=A cx=1170.2 cy=134.9 r=3.1 />
<circle class=I cx=1012.1 cy=141.1 r=3.1 />
<circle class=B cx=1048.6 cy=134.6 r=3.1 />
<circle class=R cx=798.1 cy=130.5 r=3.1 />
<circle class=B cx=1054 cy=131.8 r=3.1 />
<circle class=L cx=894 cy=133.2 r=3.1 />
<circle class=B cx=879.9 cy=124.7 r=3.1 />
<circle class=t cx=874.7 cy=151.3 r=3.9 />
<circle class=J cx=839.2 cy=125.4 r=3.1 />
<circle class=R cx=832.6 cy=142.2 r=3.1 />
<circle class=R cx=887.1 cy=136 r=3.1 />
<circle class=T cx=797.8 cy=136.1 r=3.1 />
<circle class=D cx=806.7 cy=143.2 r=3.1 />
<circle class=u cx=794.8 cy=141.6 r=3.9 />
<circle class=A cx=1062.9 cy=131.7 r=3.1 />
<circle class=D cx=1112.5 cy=137.2 r=3.1 />
<circle class=a cx=1138.3 cy=136.8 r=3.9 />
<circle class=S cx=823 cy=127 r=3.1 />
<circle class=q cx=886.2 cy=120.3 r=3.9 />
<circle class=d cx=1160.2 cy=135.9 r=3.9 />
<circle class=T cx=868 cy=123.8 r=3.1 />
<circle class=D cx=1034 cy=143.1 r=3.1 />
<circle class=D cx=927 cy=139.7 r=3.1 />
<circle class=d cx=1155.1 cy=135.8 r=3.9 />
<circle class=R cx=861.8 cy=130.4 r=3.1 />
<circle class=A cx=965.1 cy=143.6 r=3.1 />
<circle class=W cx=784.5 cy=138.7 r=3.1 />
<circle class=J cx=922.7 cy=140.4 r=3.1 />
<circle class=K cx=857.3 cy=139.5 r=3.1 />
<circle class=r cx=886.5 cy=152.3 r=3.9 />
<circle class=C cx=999.2 cy=132 r=3.1 />
<circle class=I cx=966 cy=129.9 r=3.1 />
<circle class=C cx=928.5 cy=143.2 r=3.1 />
<circle class=R cx=906.6 cy=153.7 r=3.1 />
<circle class=n cx=836.2 cy=145.8 r=3.9 />
<circle class=E cx=904.9 cy=142.9 r=3.1 />
<circle class=Q cx=878.2 cy=151.7 r=3.1 />
<circle class=S cx=743.1 cy=136 r=3.1 />
<circle class=b cx=951.3 cy=121.6 r=3.9 />
<circle class=O cx=915.5 cy=120.3 r=3.1 />
<circle class=C cx=983.3 cy=135.4 r=3.1 />
<circle class=B cx=923.3 cy=119.4 r=3.1 />
<circle class=C cx=913.6 cy=148 r=3.1 />
<circle class=Q cx=892.9 cy=122.1 r=3.1 />
<circle class=K cx=935.5 cy=124 r=3.1 />
<circle class=B cx=1141.1 cy=137.4 r=3.1 />
<circle class=Q cx=865.6 cy=127.2 r=3.1 />
<circle class=r cx=778.9 cy=139.6 r=3.9 />
<circle class=W cx=935.1 cy=147.9 r=3.1 />
<circle class=I cx=1021.9 cy=129.5 r=3.1 />
<circle class=R cx=845.8 cy=138.5 r=3.1 />
<circle class=Q cx=714.3 cy=136 r=3.1 />
<circle class=V cx=979.6 cy=141.3 r=3.1 />
<circle class=D cx=1030.2 cy=138.6 r=3.1 />
<circle class=L cx=835.7 cy=141.5 r=3.1 />
<circle class=e cx=1048.9 cy=131 r=3.9 />
<circle class=B cx=1136.2 cy=137.6 r=3.1 />
<circle class=B cx=898.4 cy=147.6 r=3.1 />
<circle class=c cx=1018.6 cy=142.8 r=3.9 />
<circle class=P cx=731.9 cy=136.2 r=3.1 />
<circle class=P cx=874.4 cy=149.6 r=3.1 />
<circle class=C cx=857.8 cy=149.4 r=3.1 />
<circle class=W cx=851.1 cy=136 r=3.1 />
<circle class=M cx=898.4 cy=134.1 r=3.1 />
<circle class=B cx=983.3 cy=130.8 r=3.1 />
<circle class=C cx=852.4 cy=138.5 r=3.1 />
<circle class=S cx=873 cy=119.2 r=3.1 />
<circle class=T cx=928 cy=130.4 r=3.1 />
<circle class=Q cx=844.6 cy=126.6 r=3.1 />
<circle class=O cx=914.1 cy=126.2 r=3.1 />
<circle class=E cx=923 cy=121.8 r=3.1 />
<circle class=d cx=1033 cy=141.9 r=3.9 />
<circle class=E cx=891.1 cy=124.4 r=3.1 />
<circle class=R cx=808.8 cy=129.2 r=3.1 />
<circle class=Q cx=739.8 cy=135.9 r=3.1 />
<circle class=A cx=977 cy=126.8 r=3.1 />
<circle class=B cx=1121.9 cy=137.8 r=3.1 />
<circle class=W cx=971.5 cy=146 r=3.1 />
<circle class=r cx=772.8 cy=139.6 r=3.9 />
<circle class=a cx=903.6 cy=119.3 r=3.9 />
<circle class=b cx=1088.5 cy=139 r=3.9 />
<circle class=R cx=863.4 cy=134.9 r=3.1 />
<circle class=R cx=941.6 cy=152.6 r=3.1 />
<circle class=T cx=859.7 cy=147.2 r=3.1 />
<circle class=J cx=944.7 cy=136 r=3.1 />
<circle class=g cx=1009.1 cy=143.3 r=3.9 />
<circle class=A cx=961.4 cy=132.7 r=3.1 />
<circle class=D cx=997.3 cy=126.9 r=3.1 />
<circle class=N cx=890.1 cy=153.3 r=3.1 />
<circle class=U cx=897.4 cy=136.3 r=3.1 />
<circle class=L cx=966 cy=149.7 r=3.1 />
<circle class=F cx=952.6 cy=148.4 r=3.1 />
<circle class=D cx=908.5 cy=122.3 r=3.1 />
<circle class=X cx=890.2 cy=150.3 r=3.1 />
<circle class=B cx=835.2 cy=139.1 r=3.1 />
<circle class=S cx=915 cy=130.1 r=3.1 />
<circle class=Q cx=793.7 cy=142.2 r=3.1 />
<circle class=d cx=1126.3 cy=136.3 r=3.9 />
<circle class=A cx=831.4 cy=133.5 r=3.1 />
<circle class=B cx=977 cy=145.1 r=3.1 />
<circle class=U cx=874 cy=142 r=3.1 />
<circle class=M cx=883.3 cy=127.6 r=3.1 />
<circle class=X cx=1107.6 cy=138.2 r=3.1 />
<circle class=S cx=812.2 cy=140.6 r=3.1 />
<circle class=C cx=883 cy=121.8 r=3.1 />
<circle class=B cx=967.8 cy=133.5 r=3.1 />
<circle class=x cx=1201.7 cy=135.7 r=3.9 />
<circle class=N cx=909.1 cy=151.5 r=3.1 />
<circle class=G cx=892.3 cy=151.8 r=3.1 />
<circle class=H cx=952.9 cy=142.3 r=3.1 />
<circle class=J cx=891.8 cy=136.4 r=3.1 />
<circle class=D cx=1066 cy=131.7 r=3.1 />
<circle class=Q cx=843.1 cy=139.2 r=3.1 />
<circle class=A cx=1007.1 cy=128.3 r=3.1 />
<circle class=N cx=928 cy=149.8 r=3.1 />
<circle class=C cx=1146.3 cy=136 r=3.1 />
<circle class=E cx=967.6 cy=141.8 r=3.1 />
<circle class=P cx=866 cy=129.7 r=3.1 />
<circle class=D cx=947.4 cy=129.4 r=3.1 />
<circle class=Q cx=839.3 cy=128.7 r=3.1 />
<circle class=Q cx=872.7 cy=136 r=3.1 />
<circle class=P cx=754 cy=136.7 r=3.1 />
<circle class=C cx=1003.7 cy=131.7 r=3.1 />
<circle class=B cx=852.8 cy=123.3 r=3.1 />
<circle class=w cx=1065.4 cy=131.9 r=3.9 />
<circle class=U cx=1088.2 cy=138.8 r=3.1 />
<circle class=r cx=807.3 cy=129.4 r=3.9 />
<circle class=D cx=815.7 cy=130.8 r=3.1 />
<circle class=A cx=959.5 cy=128.7 r=3.1 />
<circle class=V cx=746 cy=134.3 r=3.1 />
<circle class=Q cx=933.6 cy=145.6 r=3.1 />
<circle class=P cx=878.7 cy=145.8 r=3.1 />
<circle class=K cx=924.8 cy=150.7 r=3.1 />
<circle class=J cx=907.5 cy=130.7 r=3.1 />
<circle class=D cx=962 cy=139.9 r=3.1 />
<circle class=D cx=1121.1 cy=135.1 r=3.1 />
<circle class=E cx=1024.4 cy=128.7 r=3.1 />
<circle class=P cx=850.6 cy=127 r=3.1 />
<circle class=s cx=778 cy=131.8 r=3.9 />
<circle class=V cx=950.5 cy=120.6 r=3.1 />
<circle class=Q cx=903.1 cy=149.1 r=3.1 />
<circle class=Q cx=941 cy=132.5 r=3.1 />
<circle class=W cx=774.3 cy=139.9 r=3.1 />
<circle class=C cx=1178.7 cy=135.2 r=3.1 />
<circle class=b cx=1251 cy=136 r=3.9 />
<circle class=a cx=1235 cy=136 r=3.9 />
<circle class=e cx=726 cy=186.6 r=3.9 />
<circle class=l cx=756 cy=186.6 r=3.9 />
<circle class=i cx=776.6 cy=186.6 r=3.9 />
<circle class=g cx=772 cy=186.6 r=3.9 />
<circle class=u cx=707.5 cy=186.6 r=3.9 />
<circle class=k cx=767 cy=186.6 r=3.9 />
<circle class=x cx=681 cy=186.6 r=3.9 />
<circle class=e cx=762 cy=186.6 r=3.9 />
<circle class=x cx=578.2 cy=186.6 r=3.9 />
<circle class=p cx=737.5 cy=186.6 r=3.9 />
<circle class=v cx=676 cy=186.6 r=3.9 />
<circle class=u cx=666 cy=186.6 r=3.9 />
<circle class=v cx=518.6 cy=186.6 r=3.9 />
<circle class=v cx=625 cy=186.6 r=3.9 />
<circle class=r cx=730.5 cy=186.6 r=3.9 />
<circle class=g cx=746.6 cy=186.6 r=3.9 />
<circle class=w cx=631 cy=186.6 r=3.9 />
<circle class=j cx=721 cy=186.6 r=3.9 />
<circle class=x cx=619 cy=186.6 r=3.9 />
<circle class=w cx=697 cy=186.6 r=3.9 />
<circle class=w cx=661 cy=186.6 r=3.9 />
<circle class=u cx=740 cy=186.6 r=3.9 />
<circle class=O cx=945.7 cy=183.2 r=3.1 />
<circle class=E cx=929.9 cy=197.8 r=3.1 />
<circle class=P cx=966.1 cy=177 r=3.1 />
<circle class=B cx=1049.3 cy=188.9 r=3.1 />
<circle class=q cx=1047.9 cy=187.6 r=3.9 />
<circle class=R cx=949.1 cy=183.4 r=3.1 />
<circle class=F cx=917.1 cy=196.6 r=3.1 />
<circle class=A cx=843.2 cy=191 r=3.1 />
<circle class=I cx=912.1 cy=197.9 r=3.1 />
<circle class=A cx=903.8 cy=198.5 r=3.1 />
<circle class=G cx=868.4 cy=175.4 r=3.1 />
<circle class=O cx=961.4 cy=196.7 r=3.1 />
<circle class=C cx=951.7 cy=194.1 r=3.1 />
<circle class=C cx=1084.5 cy=186.6 r=3.1 />
<circle class=D cx=922.5 cy=181.4 r=3.1 />
<circle class=L cx=902.2 cy=184.5 r=3.1 />
<circle class=l cx=958.8 cy=175.9 r=3.9 />
<circle class=B cx=1086.9 cy=185.4 r=3.1 />
<circle class=L cx=900.5 cy=175.8 r=3.1 />
<circle class=d cx=1047.5 cy=185.6 r=3.9 />
<circle class=J cx=923.3 cy=195.9 r=3.1 />
<circle class=B cx=1073.9 cy=188.2 r=3.1 />
<circle class=J cx=871.2 cy=192.9 r=3.1 />
<circle class=G cx=846 cy=192.1 r=3.1 />
<circle class=U cx=884.4 cy=190.9 r=3.1 />
<circle class=D cx=866.3 cy=197.2 r=3.1 />
<circle class=D cx=969 cy=192.3 r=3.1 />
<circle class=L cx=862.3 cy=191.3 r=3.1 />
<circle class=C cx=882.9 cy=186.6 r=3.1 />
<circle class=D cx=898.7 cy=171.1 r=3.1 />
<circle class=E cx=902 cy=173.6 r=3.1 />
<circle class=S cx=998.6 cy=183.6 r=3.1 />
<circle class=P cx=960.6 cy=189.7 r=3.1 />
<circle class=R cx=957.7 cy=194.9 r=3.1 />
<circle class=P cx=846.9 cy=186.6 r=3.1 />
<circle class=m cx=936.1 cy=171.1 r=3.9 />
<circle class=K cx=888.2 cy=197.8 r=3.1 />
<circle class=c cx=1052.4 cy=187.5 r=3.9 />
<circle class=V cx=906.6 cy=193.4 r=3.1 />
<circle class=L cx=938.9 cy=188.9 r=3.1 />
<circle class=a cx=1029.7 cy=185 r=3.9 />
<circle class=S cx=869.8 cy=183.7 r=3.1 />
<circle class=c cx=972.6 cy=192.3 r=3.9 />
<circle class=J cx=879.8 cy=189.4 r=3.1 />
<circle class=e cx=885.4 cy=200.1 r=3.9 />
<circle class=K cx=940.7 cy=171.6 r=3.1 />
<circle class=d cx=1057.4 cy=188 r=3.9 />
<circle class=a cx=948.3 cy=200.1 r=3.9 />
<circle class=H cx=932.4 cy=197.1 r=3.1 />
<circle class=C cx=936.7 cy=186.6 r=3.1 />
<circle class=g cx=930 cy=169.7 r=3.9 />
<circle class=C cx=968.4 cy=190 r=3.1 />
<circle class=d cx=923.9 cy=169.5 r=3.9 />
<circle class=c cx=1074.4 cy=185.8 r=3.9 />
<circle class=U cx=913.3 cy=204.5 r=3.1 />
<circle class=E cx=975.9 cy=181.2 r=3.1 />
<circle class=b cx=978.6 cy=191.1 r=3.9 />
<circle class=G cx=931.1 cy=188.2 r=3.1 />
<circle class=M cx=921.6 cy=190.6 r=3.1 />
<circle class=O cx=964 cy=178.6 r=3.1 />
<circle class=J cx=933.3 cy=177.9 r=3.1 />
<circle class=B cx=1087.9 cy=188 r=3.1 />
<circle class=B cx=995 cy=185.3 r=3.1 />
<circle class=B cx=1048.5 cy=186.6 r=3.1 />
<circle class=d cx=891.7 cy=172.2 r=3.9 />
<circle class=a cx=829.4 cy=184.9 r=3.9 />
<circle class=S cx=845.2 cy=182.7 r=3.1 />
<circle class=m cx=799.7 cy=186.4 r=3.9 />
<circle class=d cx=988.8 cy=189.3 r=3.9 />
<circle class=B cx=1077.3 cy=186.6 r=3.1 />
<circle class=h cx=912.8 cy=168.8 r=3.9 />
<circle class=C cx=913 cy=190.8 r=3.1 />
<circle class=S cx=839.1 cy=184.1 r=3.1 />
<circle class=B cx=1044.3 cy=185 r=3.1 />
<circle class=Q cx=958.6 cy=181.2 r=3.1 />
<circle class=e cx=994.3 cy=184.9 r=3.9 />
<circle class=j cx=907.3 cy=169.7 r=3.9 />
<circle class=O cx=947.8 cy=177.5 r=3.1 />
<circle class=G cx=906.3 cy=197 r=3.1 />
<circle class=B cx=1014.8 cy=183.9 r=3.1 />
<circle class=V cx=962.1 cy=186.6 r=3.1 />
<circle class=q cx=988.4 cy=184.3 r=3.9 />
<circle class=D cx=969.3 cy=186.6 r=3.1 />
<circle class=K cx=924.6 cy=170.7 r=3.1 />
<circle class=D cx=871.9 cy=198.6 r=3.1 />
<circle class=u cx=907.2 cy=203.3 r=3.9 />
<circle class=A cx=1031 cy=184.7 r=3.1 />
<circle class=L cx=833 cy=183.6 r=3.1 />
<circle class=S cx=995.5 cy=188.5 r=3.1 />
<circle class=T cx=955.8 cy=197.4 r=3.1 />
<circle class=H cx=912.6 cy=201.2 r=3.1 />
<circle class=r cx=965.1 cy=194.6 r=3.9 />
<circle class=L cx=878.5 cy=196 r=3.1 />
<circle class=D cx=1047.3 cy=184 r=3.1 />
<circle class=N cx=877.7 cy=174.1 r=3.1 />
<circle class=J cx=914.9 cy=198.9 r=3.1 />
<circle class=P cx=986 cy=187.5 r=3.1 />
<circle class=H cx=897 cy=192.7 r=3.1 />
<circle class=B cx=936.1 cy=199.3 r=3.1 />
<circle class=N cx=970.9 cy=184.2 r=3.1 />
<circle class=E cx=896 cy=171.9 r=3.1 />
<circle class=B cx=946.5 cy=197.5 r=3.1 />
<circle class=F cx=890.4 cy=199.7 r=3.1 />
<circle class=t cx=812.7 cy=185.2 r=3.9 />
<circle class=G cx=929.7 cy=172.5 r=3.1 />
<circle class=T cx=877.3 cy=198.8 r=3.1 />
<circle class=P cx=825.3 cy=186.6 r=3.1 />
<circle class=C cx=1000.8 cy=184.8 r=3.1 />
<circle class=L cx=848.2 cy=182.8 r=3.1 />
<circle class=B cx=865.1 cy=194.7 r=3.1 />
<circle class=W cx=913.5 cy=184.3 r=3.1 />
<circle class=L cx=906.6 cy=188.2 r=3.1 />
<circle class=B cx=890.8 cy=189.4 r=3.1 />
<circle class=D cx=1041.3 cy=186.6 r=3.1 />
<circle class=J cx=879.7 cy=182.6 r=3.1 />
<circle class=B cx=913.9 cy=180.5 r=3.1 />
<circle class=C cx=1070.1 cy=186.6 r=3.1 />
<circle class=J cx=941.8 cy=191.5 r=3.1 />
<circle class=M cx=900.3 cy=181.4 r=3.1 />
<circle class=R cx=810.9 cy=186.6 r=3.1 />
<circle class=I cx=918.3 cy=174.4 r=3.1 />
<circle class=E cx=859.1 cy=177.9 r=3.1 />
<circle class=B cx=955.1 cy=180 r=3.1 />
<circle class=B cx=976.5 cy=186.6 r=3.1 />
<circle class=J cx=940.5 cy=186.6 r=3.1 />
<circle class=G cx=872.6 cy=175.8 r=3.1 />
<circle class=G cx=924.8 cy=198.6 r=3.1 />
<circle class=D cx=809 cy=188.8 r=3.1 />
<circle class=c cx=890.3 cy=200.5 r=3.9 />
<circle class=S cx=890.1 cy=186.6 r=3.1 />
<circle class=J cx=852.5 cy=184.5 r=3.1 />
<circle class=G cx=868.9 cy=193.7 r=3.1 />
<circle class=I cx=891.3 cy=175 r=3.1 />
<circle class=I cx=895.6 cy=178.4 r=3.1 />
<circle class=V cx=942.2 cy=174.9 r=3.1 />
<circle class=H cx=857.5 cy=191.8 r=3.1 />
<circle class=C cx=1026.9 cy=186.6 r=3.1 />
<circle class=l cx=800.7 cy=187.3 r=3.9 />
<circle class=S cx=966.2 cy=188.4 r=3.1 />
<circle class=A cx=842.7 cy=186 r=3.1 />
<circle class=R cx=902.7 cy=188.6 r=3.1 />
<circle class=C cx=933.3 cy=199.4 r=3.1 />
<circle class=U cx=867.6 cy=188.8 r=3.1 />
<circle class=E cx=908.8 cy=197 r=3.1 />
<circle class=D cx=868.5 cy=186.6 r=3.1 />
<circle class=P cx=953.2 cy=191.1 r=3.1 />
<circle class=K cx=943.2 cy=198.8 r=3.1 />
<circle class=N cx=943 cy=182 r=3.1 />
<circle class=A cx=906.2 cy=190.9 r=3.1 />
<circle class=C cx=896.3 cy=202.7 r=3.1 />
<circle class=L cx=888.7 cy=193.2 r=3.1 />
<circle class=E cx=902.8 cy=180.6 r=3.1 />
<circle class=Q cx=1034.1 cy=186.6 r=3.1 />
<circle class=R cx=846.9 cy=189.7 r=3.1 />
<circle class=H cx=867 cy=183.5 r=3.1 />
<circle class=C cx=1046.1 cy=188.4 r=3.1 />
<circle class=J cx=903.3 cy=203.5 r=3.1 />
<circle class=C cx=858.6 cy=187.4 r=3.1 />
<circle class=D cx=1058 cy=185.5 r=3.1 />
<circle class=d cx=953.2 cy=198.3 r=3.9 />
<circle class=F cx=912.3 cy=176.8 r=3.1 />
<circle class=H cx=920.2 cy=179.6 r=3.1 />
<circle class=D cx=1091 cy=185.8 r=3.1 />
<circle class=E cx=1080.8 cy=187.5 r=3.1 />
<circle class=C cx=877.1 cy=188.9 r=3.1 />
<circle class=K cx=881.8 cy=177.2 r=3.1 />
<circle class=P cx=839.7 cy=186.6 r=3.1 />
<circle class=V cx=877.6 cy=184.7 r=3.1 />
<circle class=d cx=862.8 cy=177.5 r=3.9 />
<circle class=R cx=837.1 cy=187.3 r=3.1 />
<circle class=C cx=901.8 cy=195.6 r=3.1 />
<circle class=F cx=920.7 cy=202.6 r=3.1 />
<circle class=K cx=894.5 cy=191.5 r=3.1 />
<circle class=C cx=1032.6 cy=188.6 r=3.1 />
<circle class=C cx=835.8 cy=183.5 r=3.1 />
<circle class=I cx=912 cy=195.2 r=3.1 />
<circle class=M cx=924.3 cy=204.9 r=3.1 />
<circle class=C cx=1021.8 cy=184 r=3.1 />
<circle class=c cx=1051.8 cy=185.7 r=3.9 />
<circle class=B cx=1026.4 cy=189.1 r=3.1 />
<circle class=d cx=1017.7 cy=185.2 r=3.9 />
<circle class=S cx=944.3 cy=185.3 r=3.1 />
<circle class=O cx=942 cy=178.5 r=3.1 />
<circle class=Q cx=954.9 cy=194.4 r=3.1 />
<circle class=E cx=860.5 cy=189.2 r=3.1 />
<circle class=C cx=854.6 cy=189.1 r=3.1 />
<circle class=C cx=796.5 cy=186.6 r=3.1 />
<circle class=B cx=916.4 cy=203.6 r=3.1 />
<circle class=P cx=863.6 cy=196.9 r=3.1 />
<circle class=d cx=1075.7 cy=186.8 r=3.9 />
<circle class=K cx=859.9 cy=181.3 r=3.1 />
<circle class=b cx=818.8 cy=184.8 r=3.9 />
<circle class=d cx=1064.7 cy=187.8 r=3.9 />
<circle class=B cx=854.1 cy=181.8 r=3.1 />
<circle class=C cx=927.5 cy=171.3 r=3.1 />
<circle class=D cx=929.8 cy=194.6 r=3.1 />
<circle class=v cx=959.8 cy=197.2 r=3.9 />
<circle class=L cx=899 cy=196.9 r=3.1 />
<circle class=O cx=948.8 cy=180.5 r=3.1 />
<circle class=E cx=865.4 cy=191.2 r=3.1 />
<circle class=D cx=955.8 cy=190.9 r=3.1 />
<circle class=h cx=902.4 cy=170.3 r=3.9 />
<circle class=G cx=928.5 cy=200.6 r=3.1 />
<circle class=b cx=1006.5 cy=188.9 r=3.9 />
<circle class=W cx=1013.4 cy=189 r=3.1 />
<circle class=U cx=879.8 cy=186.1 r=3.1 />
<circle class=W cx=874 cy=189.6 r=3.1 />
<circle class=B cx=852.9 cy=192.1 r=3.1 />
<circle class=R cx=959.2 cy=197.7 r=3.1 />
<circle class=D cx=1065.2 cy=187.3 r=3.1 />
<circle class=e cx=856.9 cy=178.6 r=3.9 />
<circle class=S cx=828.5 cy=184.4 r=3.1 />
<circle class=A cx=944.4 cy=178.6 r=3.1 />
<circle class=A cx=896.5 cy=200 r=3.1 />
<circle class=a cx=1012.3 cy=185.2 r=3.9 />
<circle class=O cx=948 cy=172.4 r=3.1 />
<circle class=B cx=982.6 cy=190.5 r=3.1 />
<circle class=G cx=914.2 cy=196.2 r=3.1 />
<circle class=Q cx=866.3 cy=179.4 r=3.1 />
<circle class=M cx=855.1 cy=184.4 r=3.1 />
<circle class=A cx=1050 cy=184.3 r=3.1 />
<circle class=O cx=1012.4 cy=184.1 r=3.1 />
<circle class=C cx=1017 cy=189.3 r=3.1 />
<circle class=L cx=911.1 cy=179.4 r=3.1 />
<circle class=d cx=994.1 cy=188.4 r=3.9 />
<circle class=G cx=832.5 cy=186.6 r=3.1 />
<circle class=O cx=946.2 cy=194 r=3.1 />
<circle class=E cx=907.2 cy=200 r=3.1 />
<circle class=P cx=954.6 cy=182.6 r=3.1 />
<circle class=B cx=950.8 cy=175.6 r=3.1 />
<circle class=J cx=960.7 cy=183.7 r=3.1 />
<circle class=H cx=880.8 cy=174.4 r=3.1 />
<circle class=D cx=986.5 cy=184 r=3.1 />
<circle class=L cx=875.7 cy=191.2 r=3.1 />
<circle class=C cx=1067.7 cy=185.4 r=3.1 />
<circle class=u cx=868.8 cy=176 r=3.9 />
<circle class=K cx=857.3 cy=195.1 r=3.1 />
<circle class=F cx=900.8 cy=169.5 r=3.1 />
<circle class=M cx=963.1 cy=192.2 r=3.1 />
<circle class=Q cx=947.7 cy=186.6 r=3.1 />
<circle class=N cx=968.2 cy=179.2 r=3.1 />
<circle class=V cx=1024.1 cy=188 r=3.1 />
<circle class=J cx=933.3 cy=186.6 r=3.1 />
<circle class=C cx=1068.6 cy=188.6 r=3.1 />
<circle class=C cx=872 cy=188.2 r=3.1 />
<circle class=d cx=1085.9 cy=186.1 r=3.9 />
<circle class=M cx=904.5 cy=195.3 r=3.1 />
<circle class=L cx=935.9 cy=169.8 r=3.1 />
<circle class=j cx=918.7 cy=204.9 r=3.9 />
<circle class=G cx=939 cy=196 r=3.1 />
<circle class=B cx=904.6 cy=200.8 r=3.1 />
<circle class=B cx=983.7 cy=186.6 r=3.1 />
<circle class=I cx=907 cy=171.1 r=3.1 />
<circle class=U cx=908.7 cy=178.2 r=3.1 />
<circle class=D cx=891.1 cy=177.8 r=3.1 />
<circle class=D cx=1051.9 cy=188.7 r=3.1 />
<circle class=Q cx=806.5 cy=186.6 r=3.1 />
<circle class=m cx=940.8 cy=171.8 r=3.9 />
<circle class=W cx=869.8 cy=190.2 r=3.1 />
<circle class=U cx=899.8 cy=200.1 r=3.1 />
<circle class=j cx=856.7 cy=194.7 r=3.9 />
<circle class=E cx=885.9 cy=199 r=3.1 />
<circle class=G cx=888.5 cy=172 r=3.1 />
<circle class=D cx=940.4 cy=176.4 r=3.1 />
<circle class=S cx=814.5 cy=187.7 r=3.1 />
<circle class=Q cx=920.7 cy=184.3 r=3.1 />
<circle class=B cx=882 cy=181.4 r=3.1 />
<circle class=U cx=1008 cy=189.5 r=3.1 />
<circle class=M cx=858.1 cy=183.4 r=3.1 />
<circle class=E cx=929.5 cy=191.4 r=3.1 />
<circle class=C cx=1036.8 cy=187.5 r=3.1 />
<circle class=E cx=903.9 cy=178 r=3.1 />
<circle class=D cx=1003.5 cy=184.6 r=3.1 />
<circle class=h cx=847.1 cy=190.8 r=3.9 />
<circle class=F cx=871.7 cy=196 r=3.1 />
<circle class=N cx=922.9 cy=201.3 r=3.1 />
<circle class=S cx=950.3 cy=187 r=3.1 />
<circle class=J cx=920.8 cy=195.3 r=3.1 />
<circle class=G cx=868.9 cy=178.1 r=3.1 />
<circle class=C cx=935.9 cy=177.2 r=3.1 />
<circle class=F cx=894 cy=175.3 r=3.1 />
<circle class=D cx=918.9 cy=186.6 r=3.1 />
<circle class=F cx=909.7 cy=170.2 r=3.1 />
<circle class=E cx=999.3 cy=189.1 r=3.1 />
<circle class=D cx=893.6 cy=185.7 r=3.1 />
<circle class=T cx=897.9 cy=179.4 r=3.1 />
<circle class=R cx=953 cy=174.3 r=3.1 />
<circle class=I cx=923.7 cy=184.1 r=3.1 />
<circle class=R cx=893 cy=194.3 r=3.1 />
<circle class=H cx=865.9 cy=176.7 r=3.1 />
<circle class=Q cx=968.8 cy=182.4 r=3.1 />
<circle class=N cx=948.9 cy=197.1 r=3.1 />
<circle class=F cx=883.1 cy=173.6 r=3.1 />
<circle class=N cx=939.6 cy=193.2 r=3.1 />
<circle class=c cx=1070.6 cy=186.1 r=3.9 />
<circle class=U cx=973 cy=180.3 r=3.1 />
<circle class=K cx=913.4 cy=174.6 r=3.1 />
<circle class=P cx=944.5 cy=195.8 r=3.1 />
<circle class=F cx=864.6 cy=184.7 r=3.1 />
<circle class=V cx=909.4 cy=193.1 r=3.1 />
<circle class=V cx=897.3 cy=186.6 r=3.1 />
<circle class=R cx=937.9 cy=172.6 r=3.1 />
<circle class=R cx=940.1 cy=201.5 r=3.1 />
<circle class=m cx=805.8 cy=186 r=3.9 />
<circle class=I cx=862.8 cy=176.1 r=3.1 />
<circle class=R cx=952.3 cy=178.3 r=3.1 />
<circle class=E cx=921.3 cy=198.6 r=3.1 />
<circle class=G cx=887.9 cy=175 r=3.1 />
<circle class=N cx=971.7 cy=193.9 r=3.1 />
<circle class=s cx=850.9 cy=193.4 r=3.9 />
<circle class=P cx=824 cy=183.9 r=3.1 />
<circle class=V cx=937.2 cy=190.7 r=3.1 />
<circle class=c cx=1070.5 cy=187.7 r=3.9 />
<circle class=I cx=939.7 cy=179.4 r=3.1 />
<circle class=N cx=909.1 cy=172.6 r=3.1 />
<circle class=B cx=945.6 cy=176.2 r=3.1 />
<circle class=L cx=906.3 cy=178.5 r=3.1 />
<circle class=c cx=971.2 cy=179.9 r=3.9 />
<circle class=J cx=855.9 cy=178.6 r=3.1 />
<circle class=S cx=961.6 cy=175.6 r=3.1 />
<circle class=g cx=813.4 cy=187.9 r=3.9 />
<circle class=W cx=963.8 cy=181.2 r=3.1 />
<circle class=D cx=885 cy=183.5 r=3.1 />
<circle class=U cx=964.3 cy=190 r=3.1 />
<circle class=B cx=926.6 cy=180.1 r=3.1 />
<circle class=F cx=931.1 cy=176.7 r=3.1 />
<circle class=H cx=886.3 cy=178.1 r=3.1 />
<circle class=G cx=917.4 cy=183.6 r=3.1 />
<circle class=C cx=1054.5 cy=188.8 r=3.1 />
<circle class=H cx=925.5 cy=202.2 r=3.1 />
<circle class=l cx=900.9 cy=202.9 r=3.9 />
<circle class=E cx=928.4 cy=175.6 r=3.1 />
<circle class=U cx=919.2 cy=171.3 r=3.1 />
<circle class=B cx=988.5 cy=189.7 r=3.1 />
<circle class=W cx=948.8 cy=194.5 r=3.1 />
<circle class=B cx=1075.4 cy=184.9 r=3.1 />
<circle class=U cx=887.7 cy=190.5 r=3.1 />
<circle class=N cx=951.7 cy=197.1 r=3.1 />
<circle class=I cx=932 cy=190.6 r=3.1 />
<circle class=L cx=913.7 cy=193.3 r=3.1 />
<circle class=O cx=854.1 cy=186.6 r=3.1 />
<circle class=s cx=1018.5 cy=188.3 r=3.9 />
<circle class=R cx=966.4 cy=182 r=3.1 />
<circle class=K cx=852.9 cy=178.6 r=3.1 />
<circle class=G cx=915.3 cy=178 r=3.1 />
<circle class=G cx=896.4 cy=175.7 r=3.1 />
<circle class=F cx=892.5 cy=201.9 r=3.1 />
<circle class=b cx=1079.8 cy=186.2 r=3.9 />
<circle class=D cx=923.2 cy=186.5 r=3.1 />
<circle class=C cx=1040.9 cy=184 r=3.1 />
<circle class=b cx=1006.9 cy=185 r=3.9 />
<circle class=G cx=927.3 cy=196.1 r=3.1 />
<circle class=K cx=820.9 cy=185.3 r=3.1 />
<circle class=K cx=869.3 cy=181.2 r=3.1 />
<circle class=X cx=957.5 cy=186.9 r=3.1 />
<circle class=S cx=798.2 cy=188.5 r=3.1 />
<circle class=J cx=837.9 cy=189.9 r=3.1 />
<circle class=B cx=926.8 cy=177.5 r=3.1 />
<circle class=H cx=926.9 cy=193.2 r=3.1 />
<circle class=H cx=904.5 cy=186.6 r=3.1 />
<circle class=U cx=938.9 cy=199.4 r=3.1 />
<circle class=B cx=949.8 cy=200 r=3.1 />
<circle class=V cx=947.5 cy=189.1 r=3.1 />
<circle class=b cx=1058.7 cy=185.6 r=3.9 />
<circle class=Q cx=875.4 cy=182.8 r=3.1 />
<circle class=M cx=975.4 cy=189.5 r=3.1 />
<circle class=L cx=812 cy=188.9 r=3.1 />
<circle class=P cx=1018.5 cy=184.3 r=3.1 />
<circle class=M cx=917 cy=192.1 r=3.1 />
<circle class=D cx=1052.9 cy=186.2 r=3.1 />
<circle class=D cx=1042 cy=189.1 r=3.1 />
<circle class=I cx=909.6 cy=190.3 r=3.1 />
<circle class=e cx=895.6 cy=172 r=3.9 />
<circle class=C cx=875.6 cy=177.3 r=3.1 />
<circle class=E cx=899 cy=189.8 r=3.1 />
<circle class=d cx=917.6 cy=168.6 r=3.9 />
<circle class=Q cx=944.7 cy=172.9 r=3.1 />
<circle class=L cx=911 cy=174 r=3.1 />
<circle class=c cx=1011.4 cy=188.8 r=3.9 />
<circle class=C cx=952.7 cy=188.1 r=3.1 />
<circle class=Q cx=972.5 cy=186.1 r=3.1 />
<circle class=J cx=902.8 cy=191.5 r=3.1 />
<circle class=b cx=1042.1 cy=188.3 r=3.9 />
<circle class=C cx=875.7 cy=186.6 r=3.1 />
<circle class=o cx=948 cy=173.7 r=3.9 />
<circle class=K cx=957.7 cy=192.4 r=3.1 />
<circle class=I cx=920.7 cy=168.8 r=3.1 />
<circle class=A cx=827.5 cy=188.6 r=3.1 />
<circle class=V cx=881.1 cy=192.5 r=3.1 />
<circle class=s cx=1028.6 cy=188.4 r=3.9 />
<circle class=A cx=821.4 cy=188.2 r=3.1 />
<circle class=I cx=922.7 cy=175.4 r=3.1 />
<circle class=C cx=885.2 cy=180.4 r=3.1 />
<circle class=A cx=900.6 cy=193.3 r=3.1 />
<circle class=J cx=964.5 cy=184.1 r=3.1 />
<circle class=I cx=893.3 cy=197 r=3.1 />
<circle class=C cx=1062.9 cy=186.6 r=3.1 />
<circle class=K cx=951.7 cy=180.7 r=3.1 />
<circle class=K cx=921.7 cy=171.3 r=3.1 />
<circle class=d cx=1091.7 cy=186.5 r=3.9 />
<circle class=G cx=920.2 cy=192.6 r=3.1 />
<circle class=b cx=869.5 cy=196.9 r=3.9 />
<circle class=D cx=884.5 cy=176.3 r=3.1 />
<circle class=D cx=892.7 cy=171.2 r=3.1 />
<circle class=B cx=1025 cy=184.6 r=3.1 />
<circle class=D cx=917.5 cy=179.9 r=3.1 />
<circle class=I cx=859.6 cy=193.7 r=3.1 />
<circle class=D cx=847.8 cy=180.1 r=3.1 />
<circle class=T cx=907.5 cy=203.7 r=3.1 />
<circle class=D cx=1028 cy=183.7 r=3.1 />
<circle class=e cx=875.1 cy=175.5 r=3.9 />
<circle class=L cx=863.9 cy=188.2 r=3.1 />
<circle class=J cx=872.9 cy=185 r=3.1 />
<circle class=K cx=928.7 cy=185.6 r=3.1 />
<circle class=s cx=789.3 cy=186.8 r=3.9 />
<circle class=D cx=1029.9 cy=187.5 r=3.1 />
<circle class=I cx=918.3 cy=194.1 r=3.1 />
<circle class=L cx=934.8 cy=180 r=3.1 />
<circle class=R cx=1009.7 cy=187.5 r=3.1 />
<circle class=G cx=880.5 cy=197.5 r=3.1 />
<circle class=S cx=990.9 cy=186.6 r=3.1 />
<circle class=M cx=976.3 cy=183.7 r=3.1 />
<circle class=A cx=852.7 cy=194.6 r=3.1 />
<circle class=Q cx=948 cy=175 r=3.1 />
<circle class=L cx=823.8 cy=188.6 r=3.1 />
<circle class=L cx=919.3 cy=189.1 r=3.1 />
<circle class=c cx=1085.2 cy=186.9 r=3.9 />
<circle class=C cx=1035.2 cy=184.4 r=3.1 />
<circle class=B cx=1015.6 cy=186.9 r=3.1 />
<circle class=t cx=823.4 cy=187.9 r=3.9 />
<circle class=q cx=978 cy=182.5 r=3.9 />
<circle class=D cx=899.4 cy=202.6 r=3.1 />
<circle class=M cx=874.7 cy=198.2 r=3.1 />
<circle class=H cx=924.3 cy=177.4 r=3.1 />
<circle class=B cx=1081.5 cy=184.9 r=3.1 />
<circle class=q cx=794.2 cy=187.5 r=3.9 />
<circle class=P cx=939.6 cy=183.4 r=3.1 />
<circle class=F cx=860.7 cy=196.3 r=3.1 />
<circle class=D cx=945.7 cy=191 r=3.1 />
<circle class=H cx=830.5 cy=189.5 r=3.1 />
<circle class=L cx=875.2 cy=193.7 r=3.1 />
<circle class=V cx=957.1 cy=184.2 r=3.1 />
<circle class=D cx=1072.6 cy=185.6 r=3.1 />
<circle class=e cx=862.3 cy=196.2 r=3.9 />
<circle class=N cx=952.2 cy=183.2 r=3.1 />
<circle class=E cx=936.8 cy=203.2 r=3.1 />
<circle class=R cx=966.6 cy=185.5 r=3.1 />
<circle class=J cx=886.2 cy=196 r=3.1 />
<circle class=K cx=970.7 cy=179.4 r=3.1 />
<circle class=M cx=803.7 cy=186.6 r=3.1 />
<circle class=N cx=943 cy=189.2 r=3.1 />
<circle class=F cx=862.6 cy=183.3 r=3.1 />
<circle class=S cx=980.7 cy=184.2 r=3.1 />
<circle class=M cx=947.2 cy=200.5 r=3.1 />
<circle class=r cx=1000.2 cy=185 r=3.9 />
<circle class=B cx=907.9 cy=186 r=3.1 />
<circle class=q cx=834.9 cy=184.1 r=3.9 />
<circle class=O cx=960.9 cy=178.6 r=3.1 />
<circle class=K cx=928.6 cy=181.6 r=3.1 />
<circle class=L cx=901.9 cy=201.4 r=3.1 />
<circle class=P cx=812.2 cy=184.3 r=3.1 />
<circle class=d cx=1079.9 cy=187 r=3.9 />
<circle class=Q cx=946.1 cy=180.6 r=3.1 />
<circle class=r cx=1001.5 cy=188.1 r=3.9 />
<circle class=T cx=893.6 cy=188.8 r=3.1 />
<circle class=C cx=907.5 cy=182.1 r=3.1 />
<circle class=R cx=971.2 cy=188.5 r=3.1 />
<circle class=C cx=876 cy=196.1 r=3.1 />
<circle class=H cx=919.4 cy=176.8 r=3.1 />
<circle class=d cx=1035.3 cy=185.4 r=3.9 />
<circle class=H cx=834.3 cy=188.5 r=3.1 />
<circle class=I cx=924.8 cy=190.9 r=3.1 />
<circle class=Q cx=957.9 cy=178.6 r=3.1 />
<circle class=W cx=888.3 cy=201.7 r=3.1 />
<circle class=L cx=912.7 cy=170.3 r=3.1 />
<circle class=c cx=1024.4 cy=184.8 r=3.9 />
<circle class=p cx=983.3 cy=183.1 r=3.9 />
<circle class=P cx=953.7 cy=199.3 r=3.1 />
<circle class=M cx=844.5 cy=187.6 r=3.1 />
<circle class=K cx=887 cy=185.8 r=3.1 />
<circle class=M cx=916.1 cy=189.7 r=3.1 />
<circle class=Q cx=798.9 cy=184.7 r=3.1 />
<circle class=O cx=1005.5 cy=189.4 r=3.1 />
<circle class=E cx=936.9 cy=184.2 r=3.1 />
<circle class=T cx=849.6 cy=187.2 r=3.1 />
<circle class=F cx=829.9 cy=186.7 r=3.1 />
<circle class=F cx=936.7 cy=174.7 r=3.1 />
<circle class=D cx=877.4 cy=180.4 r=3.1 />
<circle class=S cx=841.5 cy=188.2 r=3.1 />
<circle class=B cx=910.8 cy=204.1 r=3.1 />
<circle class=H cx=933.6 cy=174.6 r=3.1 />
<circle class=W cx=926.5 cy=174.1 r=3.1 />
<circle class=M cx=862.8 cy=193.7 r=3.1 />
<circle class=C cx=883.7 cy=197.6 r=3.1 />
<circle class=t cx=823.1 cy=184.7 r=3.9 />
<circle class=O cx=851.6 cy=180.8 r=3.1 />
<circle class=q cx=1064.4 cy=185.3 r=3.9 />
<circle class=D cx=992.1 cy=183.7 r=3.1 />
<circle class=A cx=1010 cy=185.1 r=3.1 />
<circle class=J cx=896.3 cy=189 r=3.1 />
<circle class=T cx=1059.4 cy=188.5 r=3.1 />
<circle class=Q cx=835 cy=186.2 r=3.1 />
<circle class=p cx=954.5 cy=175.2 r=3.9 />
<circle class=K cx=978.4 cy=185.1 r=3.1 />
<circle class=D cx=1012.5 cy=186.6 r=3.1 />
<circle class=C cx=989.1 cy=184.7 r=3.1 />
<circle class=P cx=957.1 cy=176 r=3.1 />
<circle class=G cx=871.7 cy=178.1 r=3.1 />
<circle class=r cx=795.5 cy=186.5 r=3.9 />
<circle class=C cx=1055.7 cy=186.6 r=3.1 />
<circle class=C cx=855 cy=194.2 r=3.1 />
<circle class=U cx=885.1 cy=188.5 r=3.1 />
<circle class=R cx=967.8 cy=194.5 r=3.1 />
<circle class=W cx=931.3 cy=201.3 r=3.1 />
<circle class=d cx=886.2 cy=173.2 r=3.9 />
<circle class=C cx=885.3 cy=172.4 r=3.1 />
<circle class=B cx=924.5 cy=193.5 r=3.1 />
<circle class=D cx=942.8 cy=193.7 r=3.1 />
<circle class=i cx=924.3 cy=203.2 r=3.9 />
<circle class=X cx=1005.3 cy=186.6 r=3.1 />
<circle class=A cx=1039.4 cy=188.9 r=3.1 />
<circle class=K cx=861.3 cy=186.6 r=3.1 />
<circle class=i cx=929.6 cy=202.9 r=3.9 />
<circle class=g cx=874 cy=197.8 r=3.9 />
<circle class=K cx=887.7 cy=188.1 r=3.1 />
<circle class=l cx=789.3 cy=186.8 r=3.9 />
<circle class=D cx=932.7 cy=203.4 r=3.1 />
<circle class=A cx=873.3 cy=180.4 r=3.1 />
<circle class=p cx=816.9 cy=188 r=3.9 />
<circle class=R cx=911.7 cy=186.6 r=3.1 />
<circle class=D cx=961.3 cy=181 r=3.1 />
<circle class=D cx=926.7 cy=168.7 r=3.1 />
<circle class=p cx=983.2 cy=190 r=3.9 />
<circle class=P cx=980 cy=191.6 r=3.1 />
<circle class=I cx=929.5 cy=169.8 r=3.1 />
<circle class=P cx=958 cy=189.3 r=3.1 />
<circle class=d cx=1041.7 cy=185.2 r=3.9 />
<circle class=I cx=900.3 cy=187.6 r=3.1 />
<circle class=L cx=905.2 cy=175.2 r=3.1 />
<circle class=D cx=1001.3 cy=187.5 r=3.1 />
<circle class=V cx=941.6 cy=196.2 r=3.1 />
<circle class=K cx=936.1 cy=193.9 r=3.1 />
<circle class=G cx=878 cy=192.6 r=3.1 />
<circle class=e cx=895.3 cy=201.7 r=3.9 />
<circle class=U cx=954.6 cy=177.4 r=3.1 />
<circle class=C cx=856.6 cy=181.3 r=3.1 />
<circle class=U cx=950 cy=191 r=3.1 />
<circle class=g cx=834.5 cy=188.7 r=3.9 />
<circle class=A cx=929.1 cy=178.8 r=3.1 />
<circle class=H cx=851.4 cy=189.9 r=3.1 />
<circle class=B cx=893.5 cy=199.4 r=3.1 />
<circle class=C cx=982.9 cy=182.6 r=3.1 />
<circle class=S cx=899.5 cy=183.9 r=3.1 />
<circle class=O cx=943.5 cy=201.3 r=3.1 />
<circle class=C cx=1038.6 cy=184.8 r=3.1 />
<circle class=V cx=881.8 cy=195.4 r=3.1 />
<circle class=D cx=932.1 cy=172 r=3.1 />
<circle class=n cx=966 cy=178.1 r=3.9 />
<circle class=p cx=1024.5 cy=188 r=3.9 />
<circle class=C cx=1020.6 cy=188.8 r=3.1 />
<circle class=m cx=850.5 cy=179.9 r=3.9 />
<circle class=R cx=998.1 cy=186.6 r=3.1 />
<circle class=D cx=789.3 cy=186.6 r=3.1 />
<circle class=a cx=880.2 cy=174 r=3.9 />
<circle class=Q cx=919.5 cy=182.2 r=3.1 />
<circle class=E cx=915.6 cy=173.4 r=3.1 />
<circle class=J cx=899.4 cy=173.6 r=3.1 />
<circle class=d cx=1034.3 cy=188.1 r=3.9 />
<circle class=L cx=882.3 cy=188.9 r=3.1 />
<circle class=i cx=913.4 cy=203.6 r=3.9 />
<circle class=C cx=891 cy=195.7 r=3.1 />
<circle class=B cx=926.1 cy=186.6 r=3.1 />
<circle class=N cx=887.6 cy=180.6 r=3.1 />
<circle class=d cx=942.2 cy=201.1 r=3.9 />
<circle class=A cx=1019.7 cy=186.6 r=3.1 />
<circle class=S cx=966.2 cy=191.9 r=3.1 />
<circle class=T cx=793.3 cy=186.4 r=3.1 />
<circle class=j cx=807.5 cy=187.9 r=3.9 />
<circle class=n cx=827.7 cy=188.3 r=3.9 />
<circle class=I cx=920.7 cy=205.4 r=3.1 />
<circle class=Q cx=875 cy=173.9 r=3.1 />
<circle class=F cx=934.1 cy=183.1 r=3.1 />
<circle class=D cx=976 cy=192.6 r=3.1 />
<circle class=C cx=900.2 cy=178.7 r=3.1 />
<circle class=n cx=934.5 cy=202.6 r=3.9 />
<circle class=P cx=960.6 cy=192.2 r=3.1 />
<circle class=S cx=931.1 cy=183 r=3.1 />
<circle class=V cx=903.5 cy=171.1 r=3.1 />
<circle class=M cx=974 cy=182.7 r=3.1 />
<circle class=d cx=840.7 cy=188.6 r=3.9 />
<circle class=L cx=879.3 cy=178.5 r=3.1 />
<circle class=E cx=1061.4 cy=184.5 r=3.1 />
<circle class=W cx=934.7 cy=172.2 r=3.1 />
<circle class=H cx=881.9 cy=199.5 r=3.1 />
<circle class=K cx=926.3 cy=182.5 r=3.1 />
<circle class=B cx=901.4 cy=198.3 r=3.1 />
<circle class=C cx=934.8 cy=189.8 r=3.1 />
<circle class=B cx=918.6 cy=200.2 r=3.1 />
<circle class=C cx=885.8 cy=193.6 r=3.1 />
<circle class=J cx=896.3 cy=195.2 r=3.1 />
<circle class=X cx=869.3 cy=196.5 r=3.1 />
<circle class=T cx=808.1 cy=184.7 r=3.1 />
<circle class=E cx=892.5 cy=181.2 r=3.1 />
<circle class=P cx=978.5 cy=189.5 r=3.1 />
<circle class=E cx=889.2 cy=184.1 r=3.1 />
<circle class=P cx=964.9 cy=194.4 r=3.1 />
<circle class=E cx=931.7 cy=180.3 r=3.1 />
<circle class=O cx=1007.5 cy=184.3 r=3.1 />
<circle class=B cx=979.7 cy=181.7 r=3.1 />
<circle class=L cx=937 cy=181.5 r=3.1 />
<circle class=Q cx=818.1 cy=186.6 r=3.1 />
<circle class=J cx=814.8 cy=184.8 r=3.1 />
<circle class=a cx=839.5 cy=184.1 r=3.9 />
<circle class=U cx=973 cy=190.3 r=3.1 />
<circle class=X cx=862.9 cy=179.9 r=3.1 />
<circle class=P cx=890.1 cy=180 r=3.1 />
<circle class=J cx=935.1 cy=196.5 r=3.1 />
<circle class=M cx=882.2 cy=184.1 r=3.1 />
<circle class=m cx=881.2 cy=199.4 r=3.9 />
<circle class=E cx=933.1 cy=193.3 r=3.1 />
<circle class=J cx=895.9 cy=182.1 r=3.1 />
<circle class=M cx=928.2 cy=189.2 r=3.1 />
<circle class=E cx=917.8 cy=168.9 r=3.1 />
<circle class=C cx=954.9 cy=186.6 r=3.1 />
<circle class=k cx=845.8 cy=182.4 r=3.9 />
<circle class=N cx=915.3 cy=169 r=3.1 />
<circle class=D cx=986.1 cy=190.2 r=3.1 />
<circle class=D cx=980.7 cy=187.3 r=3.1 />
<circle class=S cx=849.5 cy=192.8 r=3.1 />
<circle class=E cx=992.1 cy=189.7 r=3.1 />
<circle class=C cx=909.7 cy=200.1 r=3.1 />
<circle class=J cx=841.5 cy=183.6 r=3.1 />
<circle class=E cx=927.9 cy=204.1 r=3.1 />
<circle class=E cx=914.7 cy=186.7 r=3.1 />
<circle class=B cx=1064.4 cy=184.5 r=3.1 />
<circle class=D cx=904.7 cy=182.7 r=3.1 />
<circle class=A cx=891 cy=191.9 r=3.1 />
<circle class=C cx=908.9 cy=175.2 r=3.1 />
<circle class=D cx=910.4 cy=182.4 r=3.1 />
<circle class=E cx=932.4 cy=169.6 r=3.1 />
<circle class=M cx=800.6 cy=188 r=3.1 />
<circle class=U cx=819.2 cy=189.3 r=3.1 />
<circle class=d cx=1201.5 cy=186.6 r=3.9 />
<circle class=d cx=1115 cy=186.6 r=3.9 />
<circle class=a cx=1122 cy=186.6 r=3.9 />
<circle class=b cx=1172 cy=186.6 r=3.9 />
<circle class=d cx=1188 cy=186.6 r=3.9 />
<circle class=c cx=1231.7 cy=186.6 r=3.9 />
<circle class=b cx=1145 cy=186.6 r=3.9 />
<circle class=d cx=1180 cy=186.6 r=3.9 />
<circle class=b cx=1165 cy=186.6 r=3.9 />
<circle class=d cx=1138 cy=186.6 r=3.9 />
<circle class=c cx=1103.6 cy=186.6 r=3.9 />
<circle class=a cx=1153 cy=186.6 r=3.9 />
<circle class=a cx=1271.7 cy=186.6 r=3.9 />
<circle class=v cx=661 cy=237.1 r=3.9 />
<circle class=v cx=655 cy=237.1 r=3.9 />
<circle class=v cx=748.5 cy=237.1 r=3.9 />
<circle class=c cx=755.6 cy=237.1 r=3.9 />
<circle class=u cx=683 cy=237.1 r=3.9 />
<circle class=x cx=762.7 cy=237.1 r=3.9 />
<circle class=t cx=774 cy=237.1 r=3.9 />
<circle class=w cx=719 cy=237.1 r=3.9 />
<circle class=w cx=734 cy=237.1 r=3.9 />
<circle class=u cx=621 cy=237.1 r=3.9 />
<circle class=e cx=768 cy=237.1 r=3.9 />
<circle class=v cx=713 cy=237.1 r=3.9 />
<circle class=j cx=780 cy=237.1 r=3.9 />
<circle class=w cx=649 cy=237.1 r=3.9 />
<circle class=c cx=787 cy=237.1 r=3.9 />
<circle class=r cx=741 cy=237.1 r=3.9 />
<circle class=q cx=728 cy=237.1 r=3.9 />
<circle class=v cx=690 cy=237.1 r=3.9 />
<circle class=v cx=701.5 cy=237.1 r=3.9 />
<circle class=O cx=901.5 cy=230.3 r=3.1 />
<circle class=Q cx=910.9 cy=236 r=3.1 />
<circle class=t cx=836.4 cy=241.9 r=3.9 />
<circle class=A cx=946 cy=224.3 r=3.1 />
<circle class=H cx=947.9 cy=249.4 r=3.1 />
<circle class=V cx=836.2 cy=240 r=3.1 />
<circle class=J cx=907.4 cy=240.6 r=3.1 />
<circle class=P cx=873.7 cy=249 r=3.1 />
<circle class=T cx=865.3 cy=243.8 r=3.1 />
<circle class=w cx=986.6 cy=229.8 r=3.9 />
<circle class=D cx=976.9 cy=243.6 r=3.1 />
<circle class=P cx=896.6 cy=230.1 r=3.1 />
<circle class=L cx=922.9 cy=226.1 r=3.1 />
<circle class=D cx=975.7 cy=239 r=3.1 />
<circle class=D cx=997.9 cy=245 r=3.1 />
<circle class=D cx=970.1 cy=239 r=3.1 />
<circle class=Q cx=841.6 cy=240.3 r=3.1 />
<circle class=C cx=906.3 cy=255.2 r=3.1 />
<circle class=P cx=937.6 cy=232.6 r=3.1 />
<circle class=B cx=994.9 cy=245.4 r=3.1 />
<circle class=R cx=898.4 cy=226.2 r=3.1 />
<circle class=U cx=855.2 cy=244.9 r=3.1 />
<circle class=b cx=912.7 cy=219.1 r=3.9 />
<circle class=S cx=815.3 cy=241.2 r=3.1 />
<circle class=J cx=972.6 cy=242.4 r=3.1 />
<circle class=H cx=1006.8 cy=243.5 r=3.1 />
<circle class=F cx=921.6 cy=220.9 r=3.1 />
<circle class=W cx=814 cy=234.7 r=3.1 />
<circle class=Q cx=894.5 cy=219.3 r=3.1 />
<circle class=R cx=929.7 cy=220.6 r=3.1 />
<circle class=P cx=854.3 cy=241.4 r=3.1 />
<circle class=V cx=878.7 cy=237.1 r=3.1 />
<circle class=T cx=885.7 cy=224.3 r=3.1 />
<circle class=W cx=955.7 cy=239 r=3.1 />
<circle class=a cx=941.2 cy=224.3 r=3.9 />
<circle class=W cx=872.2 cy=230 r=3.1 />
<circle class=C cx=1026.3 cy=237.5 r=3.1 />
<circle class=P cx=875.1 cy=242.5 r=3.1 />
<circle class=W cx=980.1 cy=232.8 r=3.1 />
<circle class=V cx=842 cy=243 r=3.1 />
<circle class=P cx=893.2 cy=247 r=3.1 />
<circle class=C cx=1000.3 cy=229.5 r=3.1 />
<circle class=H cx=1020.7 cy=233.4 r=3.1 />
<circle class=P cx=925.9 cy=249.5 r=3.1 />
<circle class=C cx=1015.8 cy=240.9 r=3.1 />
<circle class=X cx=871.8 cy=223.5 r=3.1 />
<circle class=T cx=912.1 cy=223.4 r=3.1 />
<circle class=P cx=892.7 cy=251 r=3.1 />
<circle class=U cx=924.1 cy=245.9 r=3.1 />
<circle class=A cx=977.3 cy=246.7 r=3.1 />
<circle class=J cx=956.2 cy=229 r=3.1 />
<circle class=B cx=1017.8 cy=233.6 r=3.1 />
<circle class=P cx=799.6 cy=239.7 r=3.1 />
<circle class=D cx=1004.8 cy=239.7 r=3.1 />
<circle class=E cx=1055.9 cy=235.6 r=3.1 />
<circle class=O cx=895.4 cy=253.2 r=3.1 />
<circle class=I cx=932.8 cy=248.7 r=3.1 />
<circle class=D cx=956 cy=246.3 r=3.1 />
<circle class=T cx=825.5 cy=237.5 r=3.1 />
<circle class=D cx=895.5 cy=222.6 r=3.1 />
<circle class=G cx=950.4 cy=242.5 r=3.1 />
<circle class=j cx=825.1 cy=241 r=3.9 />
<circle class=V cx=863.1 cy=234 r=3.1 />
<circle class=D cx=1061.9 cy=235.1 r=3.1 />
<circle class=J cx=921.9 cy=237.1 r=3.1 />
<circle class=Q cx=910.9 cy=250.2 r=3.1 />
<circle class=D cx=1013.2 cy=241.2 r=3.1 />
<circle class=A cx=1065.9 cy=237.1 r=3.1 />
<circle class=Q cx=925.7 cy=219.9 r=3.1 />
<circle class=B cx=918.5 cy=255.2 r=3.1 />
<circle class=U cx=985.7 cy=244.4 r=3.1 />
<circle class=C cx=942.3 cy=223.5 r=3.1 />
<circle class=P cx=878 cy=234.3 r=3.1 />
<circle class=R cx=854.3 cy=236.2 r=3.1 />
<circle class=S cx=931.8 cy=226.5 r=3.1 />
<circle class=c cx=1068.8 cy=236.2 r=3.9 />
<circle class=E cx=945.2 cy=241.2 r=3.1 />
<circle class=Q cx=808.4 cy=233.9 r=3.1 />
<circle class=G cx=986.7 cy=237.1 r=3.1 />
<circle class=R cx=822.3 cy=234.7 r=3.1 />
<circle class=c cx=1046.9 cy=238.1 r=3.9 />
<circle class=S cx=898.4 cy=255.2 r=3.1 />
<circle class=B cx=983.5 cy=234.8 r=3.1 />
<circle class=T cx=858 cy=234.6 r=3.1 />
<circle class=E cx=953.2 cy=247.3 r=3.1 />
<circle class=u cx=866.6 cy=248.9 r=3.9 />
<circle class=R cx=861.8 cy=231.6 r=3.1 />
<circle class=V cx=869.4 cy=231 r=3.1 />
<circle class=C cx=857.7 cy=231.2 r=3.1 />
<circle class=j cx=1064 cy=237.6 r=3.9 />
<circle class=e cx=1084.9 cy=236.8 r=3.9 />
<circle class=u cx=908 cy=218.8 r=3.9 />
<circle class=N cx=936.2 cy=240.3 r=3.1 />
<circle class=a cx=1050.9 cy=238.3 r=3.9 />
<circle class=D cx=989.9 cy=242.2 r=3.1 />
<circle class=W cx=910.5 cy=246.4 r=3.1 />
<circle class=B cx=889.5 cy=237.9 r=3.1 />
<circle class=Q cx=908.9 cy=219.6 r=3.1 />
<circle class=N cx=916.3 cy=230.5 r=3.1 />
<circle class=P cx=935.3 cy=230 r=3.1 />
<circle class=V cx=869.6 cy=227.5 r=3.1 />
<circle class=T cx=816.7 cy=235.7 r=3.1 />
<circle class=n cx=890.4 cy=221.1 r=3.9 />
<circle class=Q cx=796 cy=236.2 r=3.1 />
<circle class=I cx=968.5 cy=229.9 r=3.1 />
<circle class=P cx=923.6 cy=222.6 r=3.1 />
<circle class=W cx=991.2 cy=233.5 r=3.1 />
<circle class=V cx=905.8 cy=223.1 r=3.1 />
<circle class=p cx=843.4 cy=243.5 r=3.9 />
<circle class=c cx=986.4 cy=244.6 r=3.9 />
<circle class=B cx=1051.5 cy=237.1 r=3.1 />
<circle class=c cx=1040.6 cy=235.7 r=3.9 />
<circle class=R cx=927.9 cy=243.4 r=3.1 />
<circle class=c cx=1050.9 cy=236.4 r=3.9 />
<circle class=p cx=848.4 cy=230 r=3.9 />
<circle class=D cx=868.9 cy=250.4 r=3.1 />
<circle class=W cx=945.5 cy=229.2 r=3.1 />
<circle class=r cx=890.6 cy=253.7 r=3.9 />
<circle class=W cx=960.6 cy=226.9 r=3.1 />
<circle class=L cx=916.1 cy=240.9 r=3.1 />
<circle class=D cx=919.2 cy=236.3 r=3.1 />
<circle class=d cx=970 cy=228.3 r=3.9 />
<circle class=C cx=934.6 cy=224.6 r=3.1 />
<circle class=D cx=938.5 cy=223.8 r=3.1 />
<circle class=R cx=897.7 cy=240.5 r=3.1 />
<circle class=E cx=915 cy=244.2 r=3.1 />
<circle class=v cx=871.5 cy=224.4 r=3.9 />
<circle class=D cx=864.8 cy=246.5 r=3.1 />
<circle class=N cx=914.1 cy=231.4 r=3.1 />
<circle class=D cx=1004.2 cy=244.3 r=3.1 />
<circle class=W cx=805.7 cy=239.8 r=3.1 />
<circle class=V cx=893.1 cy=253.7 r=3.1 />
<circle class=Q cx=844.6 cy=243.6 r=3.1 />
<circle class=I cx=993.9 cy=237.1 r=3.1 />
<circle class=d cx=925 cy=221.2 r=3.9 />
<circle class=B cx=857.3 cy=246.2 r=3.1 />
<circle class=Q cx=925.7 cy=224.7 r=3.1 />
<circle class=R cx=894 cy=231.8 r=3.1 />
<circle class=S cx=821.1 cy=237.1 r=3.1 />
<circle class=e cx=1080.4 cy=237.2 r=3.9 />
<circle class=f cx=952.1 cy=248.7 r=3.9 />
<circle class=d cx=1057.7 cy=235.9 r=3.9 />
<circle class=R cx=902.7 cy=219.2 r=3.1 />
<circle class=V cx=847.1 cy=242.9 r=3.1 />
<circle class=V cx=808.2 cy=241 r=3.1 />
<circle class=D cx=850.2 cy=234.2 r=3.1 />
<circle class=G cx=1031.7 cy=234.8 r=3.1 />
<circle class=T cx=824.2 cy=240.4 r=3.1 />
<circle class=S cx=878.6 cy=252.5 r=3.1 />
<circle class=D cx=986.3 cy=231.9 r=3.1 />
<circle class=F cx=916.1 cy=226.2 r=3.1 />
<circle class=D cx=998.6 cy=232.2 r=3.1 />
<circle class=B cx=876.2 cy=229 r=3.1 />
<circle class=E cx=949.7 cy=247.2 r=3.1 />
<circle class=F cx=962.4 cy=246.9 r=3.1 />
<circle class=D cx=875.3 cy=234.9 r=3.1 />
<circle class=T cx=810.3 cy=235.4 r=3.1 />
<circle class=P cx=931.5 cy=236.2 r=3.1 />
<circle class=U cx=803.7 cy=237.6 r=3.1 />
<circle class=D cx=1057 cy=239.1 r=3.1 />
<circle class=t cx=837.6 cy=231.9 r=3.9 />
<circle class=B cx=890.9 cy=220.2 r=3.1 />
<circle class=A cx=933.4 cy=232 r=3.1 />
<circle class=e cx=1035.1 cy=239 r=3.9 />
<circle class=O cx=932.2 cy=244.2 r=3.1 />
<circle class=I cx=962 cy=244.5 r=3.1 />
<circle class=S cx=865.2 cy=239.8 r=3.1 />
<circle class=D cx=947.1 cy=246.2 r=3.1 />
<circle class=o cx=931 cy=222.5 r=3.9 />
<circle class=V cx=970.5 cy=228.1 r=3.1 />
<circle class=s cx=853.8 cy=228.1 r=3.9 />
<circle class=s cx=896.3 cy=220.6 r=3.9 />
<circle class=d cx=1011.4 cy=241.8 r=3.9 />
<circle class=X cx=838.9 cy=241 r=3.1 />
<circle class=J cx=888.2 cy=224 r=3.1 />
<circle class=B cx=871.3 cy=234.3 r=3.1 />
<circle class=H cx=952.8 cy=238.4 r=3.1 />
<circle class=t cx=819.3 cy=240.3 r=3.9 />
<circle class=x cx=877.2 cy=251.2 r=3.9 />
<circle class=U cx=832.4 cy=240.1 r=3.1 />
<circle class=S cx=820 cy=234.3 r=3.1 />
<circle class=C cx=973.7 cy=234.6 r=3.1 />
<circle class=P cx=931.5 cy=251 r=3.1 />
<circle class=F cx=953.2 cy=233.3 r=3.1 />
<circle class=M cx=918.6 cy=221 r=3.1 />
<circle class=T cx=922.9 cy=233.9 r=3.1 />
<circle class=L cx=906.7 cy=218.5 r=3.1 />
<circle class=P cx=873.5 cy=251.5 r=3.1 />
<circle class=B cx=896.2 cy=246.4 r=3.1 />
<circle class=B cx=957 cy=249 r=3.1 />
<circle class=D cx=1038.7 cy=239.1 r=3.1 />
<circle class=J cx=910 cy=254.6 r=3.1 />
<circle class=C cx=896.2 cy=237.8 r=3.1 />
<circle class=d cx=959.1 cy=226.9 r=3.9 />
<circle class=C cx=903 cy=256.1 r=3.1 />
<circle class=q cx=842.9 cy=231.2 r=3.9 />
<circle class=l cx=791.7 cy=238.4 r=3.9 />
<circle class=W cx=919.4 cy=248.7 r=3.1 />
<circle class=V cx=987.1 cy=229.6 r=3.1 />
<circle class=S cx=904.5 cy=245.2 r=3.1 />
<circle class=N cx=908.2 cy=256.7 r=3.1 />
<circle class=J cx=882.2 cy=234 r=3.1 />
<circle class=S cx=927.9 cy=252.1 r=3.1 />
<circle class=B cx=1048.3 cy=238 r=3.1 />
<circle class=I cx=916.2 cy=220.9 r=3.1 />
<circle class=R cx=918.5 cy=238.7 r=3.1 />
<circle class=O cx=824.8 cy=234 r=3.1 />
<circle class=N cx=884 cy=246.6 r=3.1 />
<circle class=Q cx=871.5 cy=237.1 r=3.1 />
<circle class=B cx=940.5 cy=228.3 r=3.1 />
<circle class=c cx=999.2 cy=243.7 r=3.9 />
<circle class=B cx=904.8 cy=220.8 r=3.1 />
<circle class=M cx=867.8 cy=243.5 r=3.1 />
<circle class=V cx=988 cy=234 r=3.1 />
<circle class=r cx=854.4 cy=246.3 r=3.9 />
<circle class=W cx=803.1 cy=234 r=3.1 />
<circle class=T cx=897.8 cy=234.2 r=3.1 />
<circle class=G cx=1076.7 cy=236 r=3.1 />
<circle class=B cx=1015.5 cy=237.1 r=3.1 />
<circle class=E cx=939.8 cy=251.2 r=3.1 />
<circle class=B cx=992.8 cy=230.8 r=3.1 />
<circle class=D cx=948.5 cy=238.2 r=3.1 />
<circle class=T cx=850.6 cy=244.9 r=3.1 />
<circle class=g cx=895.9 cy=254.1 r=3.9 />
<circle class=Q cx=939 cy=238.1 r=3.1 />
<circle class=S cx=929.3 cy=225.9 r=3.1 />
<circle class=J cx=930.8 cy=247 r=3.1 />
<circle class=E cx=984.5 cy=228 r=3.1 />
<circle class=f cx=1085.6 cy=237.9 r=3.9 />
<circle class=N cx=912.9 cy=247.1 r=3.1 />
<circle class=P cx=881.4 cy=236.6 r=3.1 />
<circle class=N cx=883.9 cy=250.2 r=3.1 />
<circle class=B cx=934.1 cy=238.3 r=3.1 />
<circle class=W cx=994.4 cy=228.7 r=3.1 />
<circle class=Q cx=919.7 cy=240.9 r=3.1 />
<circle class=J cx=968.2 cy=246.9 r=3.1 />
<circle class=T cx=845.6 cy=234.2 r=3.1 />
<circle class=D cx=935.2 cy=234.2 r=3.1 />
<circle class=C cx=982.3 cy=242.1 r=3.1 />
<circle class=i cx=883.4 cy=221.7 r=3.9 />
<circle class=O cx=917.7 cy=246.8 r=3.1 />
<circle class=S cx=805.4 cy=235.1 r=3.1 />
<circle class=B cx=993.6 cy=234.2 r=3.1 />
<circle class=K cx=902.9 cy=225.6 r=3.1 />
<circle class=o cx=861.4 cy=226.7 r=3.9 />
<circle class=K cx=912.9 cy=219.1 r=3.1 />
<circle class=P cx=849.9 cy=229 r=3.1 />
<circle class=U cx=962.6 cy=237.1 r=3.1 />
<circle class=Q cx=928.8 cy=249.3 r=3.1 />
<circle class=E cx=902.6 cy=242.8 r=3.1 />
<circle class=P cx=911.8 cy=238.9 r=3.1 />
<circle class=U cx=852.4 cy=243.1 r=3.1 />
<circle class=P cx=876.7 cy=250.8 r=3.1 />
<circle class=B cx=860.9 cy=241.9 r=3.1 />
<circle class=s cx=936.7 cy=223.2 r=3.9 />
<circle class=Q cx=872.2 cy=227.3 r=3.1 />
<circle class=B cx=951.1 cy=234.6 r=3.1 />
<circle class=e cx=1047.2 cy=236.3 r=3.9 />
<circle class=P cx=918 cy=242.7 r=3.1 />
<circle class=B cx=892.3 cy=233.8 r=3.1 />
<circle class=J cx=1044.3 cy=237.1 r=3.1 />
<circle class=e cx=1078.8 cy=236.9 r=3.9 />
<circle class=P cx=841.7 cy=234.5 r=3.1 />
<circle class=C cx=912.2 cy=256.1 r=3.1 />
<circle class=A cx=1007.8 cy=241.3 r=3.1 />
<circle class=R cx=858.9 cy=244.2 r=3.1 />
<circle class=S cx=938.8 cy=226.2 r=3.1 />
<circle class=U cx=929.1 cy=237.1 r=3.1 />
<circle class=O cx=917 cy=235.3 r=3.1 />
<circle class=C cx=948.5 cy=235.3 r=3.1 />
<circle class=U cx=865 cy=232.4 r=3.1 />
<circle class=T cx=910.8 cy=231.4 r=3.1 />
<circle class=I cx=975.5 cy=229.2 r=3.1 />
<circle class=W cx=876 cy=223.9 r=3.1 />
<circle class=K cx=966 cy=230.1 r=3.1 />
<circle class=C cx=943.7 cy=250.4 r=3.1 />
<circle class=E cx=962.9 cy=226 r=3.1 />
<circle class=V cx=863.2 cy=229.3 r=3.1 />
<circle class=O cx=898.2 cy=248 r=3.1 />
<circle class=V cx=879.1 cy=225.2 r=3.1 />
<circle class=I cx=898.6 cy=221.8 r=3.1 />
<circle class=V cx=1002 cy=232.7 r=3.1 />
<circle class=F cx=926.6 cy=230.7 r=3.1 />
<circle class=n cx=913.6 cy=255.2 r=3.9 />
<circle class=F cx=957 cy=226.4 r=3.1 />
<circle class=c cx=1000.1 cy=230.3 r=3.9 />
<circle class=I cx=881.2 cy=244.3 r=3.1 />
<circle class=O cx=912 cy=228.1 r=3.1 />
<circle class=V cx=989.6 cy=245.6 r=3.1 />
<circle class=G cx=945.9 cy=231.7 r=3.1 />
<circle class=R cx=909 cy=252 r=3.1 />
<circle class=Q cx=930.7 cy=233.8 r=3.1 />
<circle class=X cx=849.9 cy=237.1 r=3.1 />
<circle class=l cx=936.3 cy=251.5 r=3.9 />
<circle class=L cx=979.5 cy=237.1 r=3.1 />
<circle class=R cx=866.7 cy=248.8 r=3.1 />
<circle class=Q cx=915.7 cy=255.2 r=3.1 />
<circle class=I cx=958.2 cy=240.1 r=3.1 />
<circle class=T cx=934.5 cy=246.8 r=3.1 />
<circle class=Q cx=889.8 cy=251.3 r=3.1 />
<circle class=g cx=993.1 cy=244.8 r=3.9 />
<circle class=K cx=904.8 cy=252.4 r=3.1 />
<circle class=B cx=905.1 cy=238 r=3.1 />
<circle class=R cx=879.8 cy=222.7 r=3.1 />
<circle class=N cx=912.8 cy=252.8 r=3.1 />
<circle class=E cx=972.3 cy=237.1 r=3.1 />
<circle class=B cx=909.2 cy=227.5 r=3.1 />
<circle class=B cx=973.1 cy=228 r=3.1 />
<circle class=W cx=858.6 cy=239.4 r=3.1 />
<circle class=G cx=954.3 cy=242.5 r=3.1 />
<circle class=H cx=905 cy=240.8 r=3.1 />
<circle class=Q cx=910.9 cy=217.7 r=3.1 />
<circle class=Q cx=884.3 cy=243.5 r=3.1 />
<circle class=B cx=997.3 cy=242.4 r=3.1 />
<circle class=T cx=905.2 cy=233.2 r=3.1 />
<circle class=L cx=944.9 cy=248.4 r=3.1 />
<circle class=W cx=948.4 cy=228.3 r=3.1 />
<circle class=T cx=861 cy=238.4 r=3.1 />
<circle class=N cx=908.7 cy=224.4 r=3.1 />
<circle class=s cx=860 cy=247.6 r=3.9 />
<circle class=R cx=848.3 cy=231 r=3.1 />
<circle class=S cx=913.4 cy=250 r=3.1 />
<circle class=G cx=966.8 cy=232.9 r=3.1 />
<circle class=F cx=976.1 cy=231.7 r=3.1 />
<circle class=A cx=937.4 cy=252.1 r=3.1 />
<circle class=F cx=972.5 cy=239.9 r=3.1 />
<circle class=J cx=987.5 cy=240 r=3.1 />
<circle class=V cx=983.9 cy=231.8 r=3.1 />
<circle class=T cx=885.1 cy=226.7 r=3.1 />
<circle class=c cx=1023.5 cy=239.5 r=3.9 />
<circle class=N cx=921.3 cy=224 r=3.1 />
<circle class=S cx=937.1 cy=243.9 r=3.1 />
<circle class=V cx=869.3 cy=223.9 r=3.1 />
<circle class=H cx=943.5 cy=237.1 r=3.1 />
<circle class=D cx=1029.9 cy=237.1 r=3.1 />
<circle class=P cx=827.7 cy=239.9 r=3.1 />
<circle class=B cx=960.3 cy=234.3 r=3.1 />
<circle class=Q cx=924.7 cy=243.3 r=3.1 />
<circle class=O cx=895.3 cy=227.5 r=3.1 />
<circle class=C cx=999 cy=239.7 r=3.1 />
<circle class=Q cx=918.7 cy=252.8 r=3.1 />
<circle class=V cx=863.3 cy=225.5 r=3.1 />
<circle class=q cx=809.5 cy=234.6 r=3.9 />
<circle class=C cx=1001.6 cy=239.6 r=3.1 />
<circle class=E cx=1001.1 cy=237.1 r=3.1 />
<circle class=A cx=856.6 cy=226.6 r=3.1 />
<circle class=K cx=996.9 cy=235.6 r=3.1 />
<circle class=W cx=948.4 cy=243.9 r=3.1 />
<circle class=J cx=958.6 cy=246.6 r=3.1 />
<circle class=V cx=812 cy=233.1 r=3.1 />
<circle class=W cx=802.3 cy=239.5 r=3.1 />
<circle class=A cx=827.6 cy=232.9 r=3.1 />
<circle class=U cx=955 cy=225 r=3.1 />
<circle class=A cx=1063.9 cy=238.9 r=3.1 />
<circle class=A cx=981.1 cy=235 r=3.1 />
<circle class=J cx=1035.1 cy=239.7 r=3.1 />
<circle class=U cx=846.6 cy=229.3 r=3.1 />
<circle class=U cx=870.3 cy=242.9 r=3.1 />
<circle class=I cx=893.1 cy=237.1 r=3.1 />
<circle class=D cx=1013.5 cy=235.7 r=3.1 />
<circle class=D cx=956.8 cy=243.9 r=3.1 />
<circle class=Q cx=929.6 cy=223.3 r=3.1 />
<circle class=A cx=1005.4 cy=233.5 r=3.1 />
<circle class=L cx=926 cy=241.2 r=3.1 />
<circle class=C cx=1080.3 cy=237.1 r=3.1 />
<circle class=A cx=944.1 cy=226.6 r=3.1 />
<circle class=J cx=885.9 cy=237.1 r=3.1 />
<circle class=S cx=890.8 cy=231 r=3.1 />
<circle class=i cx=947.2 cy=248.6 r=3.9 />
<circle class=O cx=868 cy=239.3 r=3.1 />
<circle class=D cx=961.8 cy=239.6 r=3.1 />
<circle class=S cx=899.6 cy=228.9 r=3.1 />
<circle class=P cx=920 cy=234 r=3.1 />
<circle class=E cx=951.4 cy=244.9 r=3.1 />
<circle class=S cx=799.5 cy=237.1 r=3.1 />
<circle class=w cx=831.9 cy=241.3 r=3.9 />
<circle class=U cx=893 cy=221.5 r=3.1 />
<circle class=D cx=1039.7 cy=234.9 r=3.1 />
<circle class=R cx=885.7 cy=220.7 r=3.1 />
<circle class=P cx=906 cy=229.4 r=3.1 />
<circle class=N cx=930.5 cy=229.8 r=3.1 />
<circle class=G cx=983 cy=244.8 r=3.1 />
<circle class=L cx=935.3 cy=249.2 r=3.1 />
<circle class=A cx=1024.1 cy=235.1 r=3.1 />
<circle class=E cx=964.3 cy=234.1 r=3.1 />
<circle class=D cx=1031.9 cy=239.3 r=3.1 />
<circle class=w cx=1004.7 cy=231.1 r=3.9 />
<circle class=d cx=1011.7 cy=232.8 r=3.9 />
<circle class=E cx=936.3 cy=237.1 r=3.1 />
<circle class=A cx=1019.9 cy=236 r=3.1 />
<circle class=H cx=978.4 cy=239.4 r=3.1 />
<circle class=F cx=938.6 cy=235.4 r=3.1 />
<circle class=J cx=967.2 cy=238.7 r=3.1 />
<circle class=e cx=1023.3 cy=234.3 r=3.9 />
<circle class=A cx=872.5 cy=239.9 r=3.1 />
<circle class=C cx=969.2 cy=243.5 r=3.1 />
<circle class=K cx=878.8 cy=229 r=3.1 />
<circle class=J cx=842.7 cy=237.1 r=3.1 />
<circle class=c cx=941.8 cy=250.1 r=3.9 />
<circle class=S cx=912.3 cy=242.3 r=3.1 />
<circle class=r cx=819.1 cy=233.4 r=3.9 />
<circle class=T cx=897.7 cy=252.2 r=3.1 />
<circle class=Q cx=902.4 cy=246.9 r=3.1 />
<circle class=p cx=930.8 cy=252.5 r=3.9 />
<circle class=G cx=979.7 cy=228.1 r=3.1 />
<circle class=B cx=907.7 cy=245.3 r=3.1 />
<circle class=b cx=1028.9 cy=238.9 r=3.9 />
<circle class=V cx=865.4 cy=227 r=3.1 />
<circle class=T cx=893 cy=240.9 r=3.1 />
<circle class=J cx=882.6 cy=224.9 r=3.1 />
<circle class=D cx=934.3 cy=227.2 r=3.1 />
<circle class=C cx=856.9 cy=241.5 r=3.1 />
<circle class=I cx=936.8 cy=222.1 r=3.1 />
<circle class=C cx=819.7 cy=240.4 r=3.1 />
<circle class=B cx=1011.3 cy=234.5 r=3.1 />
<circle class=I cx=948.4 cy=230.8 r=3.1 />
<circle class=I cx=908.1 cy=233.9 r=3.1 />
<circle class=Q cx=932 cy=239.6 r=3.1 />
<circle class=B cx=979.1 cy=230.5 r=3.1 />
<circle class=p cx=814.7 cy=233.7 r=3.9 />
<circle class=T cx=933.5 cy=242.1 r=3.1 />
<circle class=H cx=963.5 cy=228.4 r=3.1 />
<circle class=S cx=914.8 cy=223.1 r=3.1 />
<circle class=L cx=838.7 cy=243.5 r=3.1 />
<circle class=t cx=824.7 cy=232.6 r=3.9 />
<circle class=E cx=965.1 cy=237.1 r=3.1 />
<circle class=Q cx=877.7 cy=243.7 r=3.1 />
<circle class=E cx=884 cy=229.6 r=3.1 />
<circle class=U cx=793.5 cy=235 r=3.1 />
<circle class=N cx=908.6 cy=230.1 r=3.1 />
<circle class=U cx=957.7 cy=230.9 r=3.1 />
<circle class=A cx=1087.5 cy=237.1 r=3.1 />
<circle class=T cx=840.2 cy=238.2 r=3.1 />
<circle class=B cx=942.8 cy=231.4 r=3.1 />
<circle class=D cx=893.7 cy=229.4 r=3.1 />
<circle class=N cx=881.1 cy=248.9 r=3.1 />
<circle class=P cx=920.1 cy=245.2 r=3.1 />
<circle class=S cx=860.2 cy=246.5 r=3.1 />
<circle class=Q cx=860.5 cy=234.9 r=3.1 />
<circle class=F cx=975.1 cy=241.5 r=3.1 />
<circle class=D cx=1061.4 cy=238.5 r=3.1 />
<circle class=D cx=1049.5 cy=235.6 r=3.1 />
<circle class=H cx=889.6 cy=241.2 r=3.1 />
<circle class=R cx=831 cy=242.1 r=3.1 />
<circle class=M cx=924.3 cy=231.7 r=3.1 />
<circle class=U cx=911.1 cy=225.8 r=3.1 />
<circle class=G cx=938.6 cy=229.7 r=3.1 />
<circle class=T cx=888.9 cy=245.1 r=3.1 />
<circle class=P cx=809 cy=238.2 r=3.1 />
<circle class=X cx=855.4 cy=229.3 r=3.1 />
<circle class=Q cx=795.1 cy=238.7 r=3.1 />
<circle class=V cx=952.5 cy=226.3 r=3.1 />
<circle class=L cx=939.5 cy=242.8 r=3.1 />
<circle class=b cx=1073.2 cy=236.3 r=3.9 />
<circle class=E cx=1058.7 cy=237.1 r=3.1 />
<circle class=M cx=911.1 cy=221.2 r=3.1 />
<circle class=T cx=864.2 cy=249.5 r=3.1 />
<circle class=K cx=937.7 cy=249 r=3.1 />
<circle class=O cx=919.8 cy=227.7 r=3.1 />
<circle class=D cx=928.3 cy=228.7 r=3.1 />
<circle class=O cx=923.4 cy=239.9 r=3.1 />
<circle class=C cx=1012.6 cy=232.1 r=3.1 />
<circle class=P cx=811.1 cy=239.9 r=3.1 />
<circle class=Q cx=847.4 cy=236.2 r=3.1 />
<circle class=C cx=972.9 cy=231.6 r=3.1 />
<circle class=C cx=928 cy=239.8 r=3.1 />
<circle class=R cx=853.4 cy=233.5 r=3.1 />
<circle class=H cx=1084.8 cy=238.4 r=3.1 />
<circle class=D cx=960.6 cy=248.5 r=3.1 />
<circle class=o cx=883.4 cy=252.8 r=3.9 />
<circle class=f cx=980.8 cy=244.9 r=3.9 />
<circle class=D cx=831.1 cy=232.9 r=3.1 />
<circle class=C cx=984.6 cy=240.7 r=3.1 />
<circle class=Q cx=862.5 cy=245 r=3.1 />
<circle class=D cx=981.5 cy=230.6 r=3.1 />
<circle class=N cx=886.7 cy=249.9 r=3.1 />
<circle class=J cx=942.5 cy=241.8 r=3.1 />
<circle class=S cx=879.1 cy=240.8 r=3.1 />
<circle class=W cx=833.9 cy=231.2 r=3.1 />
<circle class=V cx=906.1 cy=248.2 r=3.1 />
<circle class=S cx=913.7 cy=225.3 r=3.1 />
<circle class=Q cx=852.7 cy=227.5 r=3.1 />
<circle class=R cx=821.8 cy=241.7 r=3.1 />
<circle class=U cx=837.4 cy=230.8 r=3.1 />
<circle class=R cx=921.8 cy=242.4 r=3.1 />
<circle class=W cx=850 cy=242.5 r=3.1 />
<circle class=D cx=965.8 cy=246 r=3.1 />
<circle class=G cx=925 cy=235.4 r=3.1 />
<circle class=D cx=966.2 cy=226.7 r=3.1 />
<circle class=S cx=923.3 cy=251.4 r=3.1 />
<circle class=B cx=1073.1 cy=237.1 r=3.1 />
<circle class=S cx=930.4 cy=253.1 r=3.1 />
<circle class=U cx=875.1 cy=238.5 r=3.1 />
<circle class=T cx=863.3 cy=242.2 r=3.1 />
<circle class=T cx=900.2 cy=219.6 r=3.1 />
<circle class=I cx=1010.7 cy=241.1 r=3.1 />
<circle class=D cx=921.6 cy=249.7 r=3.1 />
<circle class=G cx=993.9 cy=240.7 r=3.1 />
<circle class=C cx=891 cy=228.2 r=3.1 />
<circle class=Q cx=900.3 cy=237.1 r=3.1 />
<circle class=a cx=798.2 cy=239 r=3.9 />
<circle class=B cx=922.7 cy=253.8 r=3.1 />
<circle class=P cx=900.9 cy=254.4 r=3.1 />
<circle class=S cx=909.4 cy=242.8 r=3.1 />
<circle class=E cx=956.4 cy=234 r=3.1 />
<circle class=E cx=1075.9 cy=238.6 r=3.1 />
<circle class=R cx=900.1 cy=239.9 r=3.1 />
<circle class=G cx=908.2 cy=249.3 r=3.1 />
<circle class=S cx=872.7 cy=243.7 r=3.1 />
<circle class=B cx=960.5 cy=230.6 r=3.1 />
<circle class=I cx=1008.7 cy=233.4 r=3.1 />
<circle class=q cx=918.9 cy=253.7 r=3.9 />
<circle class=D cx=1018.8 cy=241.4 r=3.1 />
<circle class=r cx=878.2 cy=222.9 r=3.9 />
<circle class=B cx=970.4 cy=245.7 r=3.1 />
<circle class=P cx=864.3 cy=237.1 r=3.1 />
<circle class=W cx=952.3 cy=241.1 r=3.1 />
<circle class=v cx=975.3 cy=245.2 r=3.9 />
<circle class=I cx=971.3 cy=234.5 r=3.1 />
<circle class=U cx=839 cy=234.1 r=3.1 />
<circle class=U cx=833.7 cy=235.4 r=3.1 />
<circle class=C cx=1029.4 cy=240.3 r=3.1 />
<circle class=D cx=976.5 cy=235.4 r=3.1 />
<circle class=d cx=1091.7 cy=236.8 r=3.9 />
<circle class=W cx=828.3 cy=237.1 r=3.1 />
<circle class=C cx=1042 cy=239.5 r=3.1 />
<circle class=G cx=957.9 cy=237.1 r=3.1 />
<circle class=P cx=903.5 cy=235.4 r=3.1 />
<circle class=C cx=941.8 cy=238.9 r=3.1 />
<circle class=X cx=903.4 cy=249.5 r=3.1 />
<circle class=Q cx=835.1 cy=233.3 r=3.1 />
<circle class=M cx=900.1 cy=232.9 r=3.1 />
<circle class=u cx=975.6 cy=228.3 r=3.9 />
<circle class=D cx=967.9 cy=241.4 r=3.1 />
<circle class=C cx=996.7 cy=230.6 r=3.1 />
<circle class=D cx=1021 cy=240.5 r=3.1 />
<circle class=d cx=947.3 cy=225.4 r=3.9 />
<circle class=Q cx=839.8 cy=231.7 r=3.1 />
<circle class=o cx=906.7 cy=255.5 r=3.9 />
<circle class=R cx=900.2 cy=244.4 r=3.1 />
<circle class=e cx=1035.2 cy=235.8 r=3.9 />
<circle class=c cx=1029.7 cy=235.4 r=3.9 />
<circle class=P cx=903.7 cy=228.1 r=3.1 />
<circle class=B cx=867.2 cy=225.2 r=3.1 />
<circle class=V cx=816.1 cy=232.7 r=3.1 />
<circle class=O cx=867.3 cy=229.5 r=3.1 />
<circle class=R cx=932.6 cy=223.1 r=3.1 />
<circle class=T cx=843.4 cy=230.8 r=3.1 />
<circle class=I cx=901.3 cy=223.7 r=3.1 />
<circle class=u cx=797.6 cy=235.1 r=3.9 />
<circle class=V cx=989.7 cy=235.8 r=3.1 />
<circle class=D cx=905.9 cy=243.2 r=3.1 />
<circle class=E cx=989.4 cy=238.4 r=3.1 />
<circle class=G cx=892 cy=244.5 r=3.1 />
<circle class=G cx=1005.4 cy=237 r=3.1 />
<circle class=N cx=917.8 cy=223.3 r=3.1 />
<circle class=P cx=920.4 cy=231.6 r=3.1 />
<circle class=p cx=924.2 cy=253.4 r=3.9 />
<circle class=b cx=1090.7 cy=237.1 r=3.9 />
<circle class=X cx=861.2 cy=226.8 r=3.1 />
<circle class=D cx=979.9 cy=242.3 r=3.1 />
<circle class=D cx=964.2 cy=241.1 r=3.1 />
<circle class=R cx=895 cy=250.3 r=3.1 />
<circle class=G cx=990 cy=230.1 r=3.1 />
<circle class=a cx=872.1 cy=250 r=3.9 />
<circle class=A cx=1003.7 cy=241.9 r=3.1 />
<circle class=S cx=888.9 cy=221.7 r=3.1 />
<circle class=S cx=857.1 cy=237.1 r=3.1 />
<circle class=v cx=1004.5 cy=242.7 r=3.9 />
<circle class=B cx=968.8 cy=235.9 r=3.1 />
<circle class=a cx=968.4 cy=246.2 r=3.9 />
<circle class=A cx=949.9 cy=226.3 r=3.1 />
<circle class=B cx=1027.6 cy=235 r=3.1 />
<circle class=j cx=952.2 cy=226 r=3.9 />
<circle class=P cx=894.2 cy=225.3 r=3.1 />
<circle class=b cx=958.6 cy=247.7 r=3.9 />
<circle class=J cx=891.1 cy=224.7 r=3.1 />
<circle class=Q cx=883.4 cy=238.1 r=3.1 />
<circle class=H cx=999.8 cy=234.4 r=3.1 />
<circle class=H cx=941.7 cy=246.5 r=3.1 />
<circle class=T cx=831.5 cy=237.6 r=3.1 />
<circle class=E cx=897.5 cy=219.6 r=3.1 />
<circle class=D cx=871 cy=249.2 r=3.1 />
<circle class=T cx=895.7 cy=243.7 r=3.1 />
<circle class=d cx=963.8 cy=246.9 r=3.9 />
<circle class=R cx=816.1 cy=238.7 r=3.1 />
<circle class=J cx=974.8 cy=246.2 r=3.1 />
<circle class=d cx=1058.5 cy=237.9 r=3.9 />
<circle class=x cx=867.1 cy=225.2 r=3.9 />
<circle class=T cx=858.3 cy=228.6 r=3.1 />
<circle class=o cx=901.5 cy=254.6 r=3.9 />
<circle class=R cx=871.3 cy=246.5 r=3.1 />
<circle class=I cx=900.7 cy=250.4 r=3.1 />
<circle class=R cx=862.5 cy=247.7 r=3.1 />
<circle class=V cx=1001 cy=243.1 r=3.1 />
<circle class=S cx=921.6 cy=229.4 r=3.1 />
<circle class=T cx=887 cy=252.3 r=3.1 />
<circle class=i cx=993.8 cy=229.5 r=3.9 />
<circle class=W cx=828.2 cy=242.5 r=3.1 />
<circle class=V cx=799.8 cy=234.7 r=3.1 />
<circle class=Q cx=881.3 cy=228 r=3.1 />
<circle class=Q cx=834.1 cy=243 r=3.1 />
<circle class=Q cx=908.1 cy=222 r=3.1 />
<circle class=r cx=814.2 cy=239.9 r=3.9 />
<circle class=O cx=889.8 cy=234.7 r=3.1 />
<circle class=e cx=1069.1 cy=238.2 r=3.9 />
<circle class=E cx=982.5 cy=238.6 r=3.1 />
<circle class=P cx=844.3 cy=239.5 r=3.1 />
<circle class=F cx=914.7 cy=237.1 r=3.1 />
<circle class=T cx=818.8 cy=237.8 r=3.1 />
<circle class=R cx=921.8 cy=247.1 r=3.1 />
<circle class=E cx=903 cy=232.3 r=3.1 />
<circle class=S cx=907.5 cy=237.1 r=3.1 />
<circle class=F cx=942.2 cy=235 r=3.1 />
<circle class=W cx=912.9 cy=233.6 r=3.1 />
<circle class=C cx=954.5 cy=236.2 r=3.1 />
<circle class=O cx=925.5 cy=228.4 r=3.1 />
<circle class=J cx=980.4 cy=246 r=3.1 />
<circle class=V cx=995.8 cy=233 r=3.1 />
<circle class=W cx=853.3 cy=239 r=3.1 />
<circle class=D cx=1018.9 cy=238.8 r=3.1 />
<circle class=t cx=809.7 cy=239.3 r=3.9 />
<circle class=P cx=881.7 cy=230.4 r=3.1 />
<circle class=E cx=962.9 cy=231 r=3.1 />
<circle class=O cx=846.7 cy=245.2 r=3.1 />
<circle class=C cx=1004.1 cy=231.1 r=3.1 />
<circle class=R cx=851.3 cy=232 r=3.1 />
<circle class=C cx=1046.9 cy=235.3 r=3.1 />
<circle class=C cx=1008.3 cy=237.1 r=3.1 />
<circle class=E cx=1015.3 cy=232.8 r=3.1 />
<circle class=F cx=1042.3 cy=235.2 r=3.1 />
<circle class=Q cx=829.5 cy=234.9 r=3.1 />
<circle class=a cx=1017.4 cy=241 r=3.9 />
<circle class=S cx=876.7 cy=226.3 r=3.1 />
<circle class=Q cx=937.5 cy=246.3 r=3.1 />
<circle class=a cx=1040.5 cy=238.4 r=3.9 />
<circle class=V cx=846.7 cy=240 r=3.1 />
<circle class=l cx=963.6 cy=227.8 r=3.9 />
<circle class=D cx=1003.2 cy=235.5 r=3.1 />
<circle class=b cx=1062.1 cy=236.8 r=3.9 />
<circle class=J cx=995.8 cy=238.9 r=3.1 />
<circle class=A cx=959.2 cy=243.9 r=3.1 />
<circle class=P cx=926.7 cy=233.4 r=3.1 />
<circle class=E cx=940.4 cy=231.6 r=3.1 />
<circle class=T cx=886.6 cy=247.1 r=3.1 />
<circle class=R cx=875 cy=231.2 r=3.1 />
<circle class=C cx=1040.7 cy=237.2 r=3.1 />
<circle class=C cx=1011.9 cy=238.8 r=3.1 />
<circle class=A cx=951.9 cy=249.5 r=3.1 />
<circle class=B cx=895 cy=234.5 r=3.1 />
<circle class=G cx=933.6 cy=252.6 r=3.1 />
<circle class=Q cx=878.7 cy=247.1 r=3.1 />
<circle class=I cx=887.2 cy=242.4 r=3.1 />
<circle class=b cx=1072.7 cy=237.7 r=3.9 />
<circle class=t cx=792.3 cy=237.2 r=3.9 />
<circle class=j cx=900.8 cy=219.8 r=3.9 />
<circle class=R cx=905.4 cy=226.3 r=3.1 />
<circle class=D cx=946.4 cy=234.1 r=3.1 />
<circle class=E cx=1025.1 cy=240 r=3.1 />
<circle class=F cx=902.7 cy=239.7 r=3.1 />
<circle class=v cx=831.3 cy=232.9 r=3.9 />
<circle class=L cx=927.1 cy=222.6 r=3.1 />
<circle class=S cx=838.1 cy=236.4 r=3.1 />
<circle class=B cx=953.5 cy=230.8 r=3.1 />
<circle class=P cx=914.8 cy=228.4 r=3.1 />
<circle class=C cx=960.3 cy=241.7 r=3.1 />
<circle class=X cx=885.4 cy=233.7 r=3.1 />
<circle class=R cx=853.3 cy=230.6 r=3.1 />
<circle class=u cx=848.4 cy=244.3 r=3.9 />
<circle class=A cx=1035.6 cy=234.4 r=3.1 />
<circle class=X cx=868.3 cy=245.9 r=3.1 />
<circle class=B cx=1069 cy=236 r=3.1 />
<circle class=F cx=915.5 cy=251 r=3.1 />
<circle class=N cx=882 cy=252.2 r=3.1 />
<circle class=A cx=946.2 cy=236.6 r=3.1 />
<circle class=X cx=944.3 cy=243.9 r=3.1 />
<circle class=A cx=926.2 cy=254 r=3.1 />
<circle class=R cx=853 cy=246.3 r=3.1 />
<circle class=C cx=1008.6 cy=230.8 r=3.1 />
<circle class=V cx=835.5 cy=237.1 r=3.1 />
<circle class=Q cx=889.4 cy=253.9 r=3.1 />
<circle class=D cx=916.1 cy=232.9 r=3.1 />
<circle class=D cx=1083.2 cy=236.1 r=3.1 />
<circle class=n cx=792.4 cy=235.7 r=3.9 />
<circle class=C cx=916 cy=218.5 r=3.1 />
<circle class=E cx=868 cy=235.1 r=3.1 />
<circle class=U cx=940.8 cy=249 r=3.1 />
<circle class=c cx=1018.7 cy=233.4 r=3.9 />
<circle class=E cx=1033.3 cy=236.6 r=3.1 />
<circle class=B cx=1070.1 cy=238.7 r=3.1 />
<circle class=D cx=936.8 cy=227.9 r=3.1 />
<circle class=S cx=930 cy=241.5 r=3.1 />
<circle class=c cx=980.2 cy=229.2 r=3.9 />
<circle class=J cx=1090.3 cy=237.3 r=3.1 />
<circle class=G cx=1054.7 cy=238 r=3.1 />
<circle class=S cx=874.7 cy=246 r=3.1 />
<circle class=Q cx=925.5 cy=238.1 r=3.1 />
<circle class=W cx=878.6 cy=231.5 r=3.1 />
<circle class=D cx=849.2 cy=239.5 r=3.1 />
<circle class=D cx=970 cy=232 r=3.1 />
<circle class=E cx=950.7 cy=237.1 r=3.1 />
<circle class=T cx=887.2 cy=230.9 r=3.1 />
<circle class=H cx=992.4 cy=244.3 r=3.1 />
<circle class=D cx=948.2 cy=241.1 r=3.1 />
<circle class=U cx=792.3 cy=237.1 r=3.1 />
<circle class=D cx=951.2 cy=230 r=3.1 />
<circle class=B cx=1022.7 cy=237.1 r=3.1 />
<circle class=Q cx=888.9 cy=248.3 r=3.1 />
<circle class=u cx=804.1 cy=239.8 r=3.9 />
<circle class=I cx=1053.1 cy=235 r=3.1 />
<circle class=N cx=884.2 cy=253.5 r=3.1 />
<circle class=W cx=887.5 cy=227.3 r=3.1 />
<circle class=B cx=927.6 cy=246.9 r=3.1 />
<circle class=X cx=813.9 cy=237.1 r=3.1 />
<circle class=W cx=806.7 cy=237.1 r=3.1 />
<circle class=M cx=792.8 cy=239.5 r=3.1 />
<circle class=R cx=883 cy=221.2 r=3.1 />
<circle class=e cx=804.5 cy=235.1 r=3.9 />
<circle class=X cx=885.9 cy=240.2 r=3.1 />
<circle class=C cx=1037.1 cy=237.1 r=3.1 />
<circle class=U cx=881.7 cy=239.9 r=3.1 />
<circle class=B cx=991.8 cy=238.3 r=3.1 />
<circle class=C cx=965.1 cy=243.7 r=3.1 />
<circle class=t cx=918.9 cy=220.1 r=3.9 />
<circle class=d cx=1110 cy=237.1 r=3.9 />
<circle class=d cx=1137 cy=237.1 r=3.9 />
<circle class=c cx=1184 cy=237.1 r=3.9 />
<circle class=c cx=1151.6 cy=237.1 r=3.9 />
<circle class=d cx=1131 cy=237.1 r=3.9 />
<circle class=c cx=1117 cy=237.1 r=3.9 />
<circle class=c cx=1125 cy=237.1 r=3.9 />
<circle class=u cx=786 cy=287.7 r=3.9 />
<circle class=u cx=658.6 cy=287.7 r=3.9 />
<circle class=x cx=798 cy=287.7 r=3.9 />
<circle class=w cx=744 cy=287.7 r=3.9 />
<circle class=x cx=709 cy=287.7 r=3.9 />
<circle class=q cx=792 cy=287.7 r=3.9 />
<circle class=x cx=703 cy=287.7 r=3.9 />
<circle class=r cx=804 cy=287.7 r=3.9 />
<circle class=u cx=761 cy=287.7 r=3.9 />
<circle class=a cx=812.7 cy=287.7 r=3.9 />
<circle class=w cx=809 cy=287.7 r=3.9 />
<circle class=v cx=729.5 cy=287.7 r=3.9 />
<circle class=u cx=768 cy=287.7 r=3.9 />
<circle class=c cx=779.5 cy=287.7 r=3.9 />
<circle class=B cx=987.1 cy=292.2 r=3.1 />
<circle class=l cx=865.7 cy=300.4 r=3.9 />
<circle class=C cx=899.1 cy=276.7 r=3.1 />
<circle class=O cx=861.1 cy=290.5 r=3.1 />
<circle class=O cx=921 cy=299.8 r=3.1 />
<circle class=Q cx=954.2 cy=294 r=3.1 />
<circle class=B cx=1084.7 cy=287.7 r=3.1 />
<circle class=W cx=1000.4 cy=283.9 r=3.1 />
<circle class=R cx=923.7 cy=275.2 r=3.1 />
<circle class=N cx=918.6 cy=298.4 r=3.1 />
<circle class=D cx=902.5 cy=295.5 r=3.1 />
<circle class=D cx=1031.3 cy=286.9 r=3.1 />
<circle class=Q cx=897.9 cy=295.6 r=3.1 />
<circle class=C cx=1002.4 cy=285.6 r=3.1 />
<circle class=V cx=977.9 cy=291.6 r=3.1 />
<circle class=B cx=913.3 cy=306.3 r=3.1 />
<circle class=B cx=902 cy=277.6 r=3.1 />
<circle class=O cx=881.9 cy=272.8 r=3.1 />
<circle class=D cx=833.5 cy=291.7 r=3.1 />
<circle class=E cx=934.7 cy=275.1 r=3.1 />
<circle class=B cx=1044.7 cy=288.1 r=3.1 />
<circle class=q cx=818.5 cy=285.6 r=3.9 />
<circle class=L cx=902.6 cy=301.9 r=3.1 />
<circle class=D cx=1097.2 cy=286 r=3.1 />
<circle class=Q cx=920.9 cy=304.6 r=3.1 />
<circle class=d cx=1004.1 cy=290.3 r=3.9 />
<circle class=o cx=848.1 cy=295.4 r=3.9 />
<circle class=A cx=1070.3 cy=287.7 r=3.1 />
<circle class=D cx=955.4 cy=283.9 r=3.1 />
<circle class=P cx=918.7 cy=277.7 r=3.1 />
<circle class=D cx=973.7 cy=293.4 r=3.1 />
<circle class=B cx=934.5 cy=278.8 r=3.1 />
<circle class=E cx=1038.2 cy=284.9 r=3.1 />
<circle class=B cx=864.3 cy=280.8 r=3.1 />
<circle class=R cx=931.1 cy=271.9 r=3.1 />
<circle class=C cx=994.3 cy=284.2 r=3.1 />
<circle class=P cx=929.7 cy=289.8 r=3.1 />
<circle class=A cx=962.3 cy=287.7 r=3.1 />
<circle class=W cx=931.7 cy=283.4 r=3.1 />
<circle class=X cx=885.4 cy=301.1 r=3.1 />
<circle class=Q cx=823.1 cy=289.5 r=3.1 />
<circle class=J cx=903.5 cy=289.8 r=3.1 />
<circle class=P cx=888.6 cy=297.6 r=3.1 />
<circle class=p cx=923.2 cy=303.7 r=3.9 />
<circle class=C cx=928.2 cy=295 r=3.1 />
<circle class=T cx=929.3 cy=274.7 r=3.1 />
<circle class=P cx=835.1 cy=282.2 r=3.1 />
<circle class=n cx=876.2 cy=273.5 r=3.9 />
<circle class=P cx=937.3 cy=273.6 r=3.1 />
<circle class=u cx=976.1 cy=282.5 r=3.9 />
<circle class=U cx=859.2 cy=276 r=3.1 />
<circle class=d cx=959.2 cy=294.3 r=3.9 />
<circle class=O cx=893 cy=290.4 r=3.1 />
<circle class=K cx=934.4 cy=302.7 r=3.1 />
<circle class=A cx=1080.3 cy=286.6 r=3.1 />
<circle class=i cx=941.4 cy=275.1 r=3.9 />
<circle class=H cx=1019.9 cy=287.7 r=3.1 />
<circle class=B cx=904.6 cy=277.1 r=3.1 />
<circle class=H cx=1086.9 cy=286.5 r=3.1 />
<circle class=C cx=841.6 cy=281.3 r=3.1 />
<circle class=Q cx=827.4 cy=283.7 r=3.1 />
<circle class=o cx=923 cy=271.7 r=3.9 />
<circle class=P cx=923.4 cy=299.2 r=3.1 />
<circle class=W cx=987.3 cy=285.5 r=3.1 />
<circle class=U cx=926.3 cy=287.7 r=3.1 />
<circle class=V cx=881 cy=280.2 r=3.1 />
<circle class=V cx=944.3 cy=275.6 r=3.1 />
<circle class=M cx=893.8 cy=303 r=3.1 />
<circle class=J cx=863.1 cy=274.5 r=3.1 />
<circle class=O cx=926.8 cy=282 r=3.1 />
<circle class=q cx=975 cy=292.7 r=3.9 />
<circle class=o cx=917.8 cy=304.4 r=3.9 />
<circle class=D cx=1000.7 cy=287.5 r=3.1 />
<circle class=d cx=929.4 cy=272.6 r=3.9 />
<circle class=C cx=1010 cy=287.5 r=3.1 />
<circle class=O cx=857.4 cy=293 r=3.1 />
<circle class=C cx=1009.4 cy=290.1 r=3.1 />
<circle class=S cx=933.1 cy=280.9 r=3.1 />
<circle class=P cx=878.2 cy=292 r=3.1 />
<circle class=C cx=1120.7 cy=287.7 r=3.1 />
<circle class=P cx=912.2 cy=276.9 r=3.1 />
<circle class=O cx=818.3 cy=285 r=3.1 />
<circle class=B cx=974.3 cy=288.1 r=3.1 />
<circle class=B cx=972.4 cy=286.6 r=3.1 />
<circle class=e cx=1015 cy=285.1 r=3.9 />
<circle class=P cx=917 cy=272.2 r=3.1 />
<circle class=V cx=1041.5 cy=287.7 r=3.1 />
<circle class=m cx=871 cy=273.7 r=3.9 />
<circle class=W cx=1057.8 cy=285.5 r=3.1 />
<circle class=C cx=975.9 cy=285.4 r=3.1 />
<circle class=D cx=1075.4 cy=285.7 r=3.1 />
<circle class=d cx=1010.9 cy=285 r=3.9 />
<circle class=Q cx=846.2 cy=293 r=3.1 />
<circle class=C cx=987.7 cy=288.8 r=3.1 />
<circle class=D cx=1075.4 cy=289.6 r=3.1 />
<circle class=B cx=1012.8 cy=285 r=3.1 />
<circle class=R cx=914.3 cy=303.2 r=3.1 />
<circle class=c cx=1081 cy=287.9 r=3.9 />
<circle class=P cx=900.8 cy=274.8 r=3.1 />
<circle class=A cx=1089.2 cy=288 r=3.1 />
<circle class=K cx=890.4 cy=299.3 r=3.1 />
<circle class=X cx=935.6 cy=294.8 r=3.1 />
<circle class=O cx=897.4 cy=280.3 r=3.1 />
<circle class=u cx=1050.8 cy=288.5 r=3.9 />
<circle class=f cx=1033.3 cy=289 r=3.9 />
<circle class=P cx=902.1 cy=272.7 r=3.1 />
<circle class=W cx=1006.7 cy=291.5 r=3.1 />
<circle class=N cx=938.9 cy=295.6 r=3.1 />
<circle class=Q cx=902.2 cy=305.3 r=3.1 />
<circle class=D cx=876.8 cy=276 r=3.1 />
<circle class=x cx=864.5 cy=274.9 r=3.9 />
<circle class=A cx=843.3 cy=294.2 r=3.1 />
<circle class=V cx=900.2 cy=287.5 r=3.1 />
<circle class=O cx=915 cy=285.8 r=3.1 />
<circle class=s cx=953.5 cy=297 r=3.9 />
<circle class=O cx=879.7 cy=298.2 r=3.1 />
<circle class=D cx=890.7 cy=302 r=3.1 />
<circle class=D cx=941.3 cy=280 r=3.1 />
<circle class=F cx=943.3 cy=288.9 r=3.1 />
<circle class=A cx=1072.7 cy=286.9 r=3.1 />
<circle class=N cx=913.9 cy=270.7 r=3.1 />
<circle class=c cx=894.8 cy=304.2 r=3.9 />
<circle class=D cx=937 cy=280.6 r=3.1 />
<circle class=N cx=901.1 cy=297.6 r=3.1 />
<circle class=P cx=939.7 cy=273.7 r=3.1 />
<circle class=R cx=924.5 cy=302.6 r=3.1 />
<circle class=P cx=895.5 cy=305.1 r=3.1 />
<circle class=B cx=927.3 cy=272 r=3.1 />
<circle class=Q cx=988.8 cy=283.5 r=3.1 />
<circle class=C cx=927.5 cy=302 r=3.1 />
<circle class=T cx=904.2 cy=298.8 r=3.1 />
<circle class=R cx=829 cy=285.8 r=3.1 />
<circle class=v cx=1045.6 cy=289.5 r=3.9 />
<circle class=c cx=1115.7 cy=288 r=3.9 />
<circle class=D cx=946.6 cy=277.4 r=3.1 />
<circle class=J cx=868.7 cy=287.7 r=3.1 />
<circle class=B cx=947.7 cy=290.2 r=3.1 />
<circle class=C cx=889.5 cy=273.8 r=3.1 />
<circle class=B cx=874.5 cy=298.5 r=3.1 />
<circle class=A cx=955.1 cy=287.7 r=3.1 />
<circle class=J cx=891.6 cy=278.1 r=3.1 />
<circle class=G cx=1010.3 cy=284.1 r=3.1 />
<circle class=e cx=970 cy=281.9 r=3.9 />
<circle class=Q cx=906.6 cy=298.3 r=3.1 />
<circle class=C cx=966.7 cy=291.1 r=3.1 />
<circle class=a cx=1080.4 cy=287 r=3.9 />
<circle class=R cx=855.2 cy=277.9 r=3.1 />
<circle class=T cx=884.6 cy=281.1 r=3.1 />
<circle class=R cx=952 cy=288.5 r=3.1 />
<circle class=C cx=887.4 cy=271.2 r=3.1 />
<circle class=V cx=906.9 cy=289.8 r=3.1 />
<circle class=T cx=879.8 cy=294.5 r=3.1 />
<circle class=I cx=968.7 cy=281.4 r=3.1 />
<circle class=u cx=1056.6 cy=286.7 r=3.9 />
<circle class=i cx=1026.7 cy=290 r=3.9 />
<circle class=T cx=854.7 cy=290.9 r=3.1 />
<circle class=Q cx=931.3 cy=298.7 r=3.1 />
<circle class=P cx=885.1 cy=273.3 r=3.1 />
<circle class=U cx=894.7 cy=300.7 r=3.1 />
<circle class=C cx=1032.2 cy=290 r=3.1 />
<circle class=D cx=870.6 cy=274.7 r=3.1 />
<circle class=x cx=842.7 cy=293.4 r=3.9 />
<circle class=R cx=976.7 cy=287.7 r=3.1 />
<circle class=W cx=991.1 cy=287.7 r=3.1 />
<circle class=N cx=869.4 cy=302 r=3.1 />
<circle class=s cx=911.9 cy=305.5 r=3.9 />
<circle class=d cx=1020.6 cy=289.8 r=3.9 />
<circle class=V cx=965.5 cy=281.3 r=3.1 />
<circle class=A cx=963.6 cy=282.9 r=3.1 />
<circle class=P cx=918.5 cy=303.2 r=3.1 />
<circle class=Q cx=851.4 cy=285.8 r=3.1 />
<circle class=D cx=947.9 cy=287.7 r=3.1 />
<circle class=B cx=1095.6 cy=289.3 r=3.1 />
<circle class=x cx=986.8 cy=291.1 r=3.9 />
<circle class=P cx=856.1 cy=299 r=3.1 />
<circle class=D cx=1041.4 cy=285.1 r=3.1 />
<circle class=a cx=1091.4 cy=287.5 r=3.9 />
<circle class=N cx=938.6 cy=302.7 r=3.1 />
<circle class=B cx=1034.3 cy=287.7 r=3.1 />
<circle class=t cx=965.3 cy=281.3 r=3.9 />
<circle class=N cx=863.8 cy=299.2 r=3.1 />
<circle class=T cx=832.3 cy=282.6 r=3.1 />
<circle class=Q cx=846.2 cy=295.7 r=3.1 />
<circle class=B cx=836.4 cy=292.1 r=3.1 />
<circle class=I cx=1025.5 cy=290.2 r=3.1 />
<circle class=W cx=955.8 cy=290.5 r=3.1 />
<circle class=s cx=835.7 cy=292 r=3.9 />
<circle class=d cx=1025.5 cy=286.2 r=3.9 />
<circle class=A cx=929.2 cy=281.8 r=3.1 />
<circle class=b cx=824.5 cy=285.2 r=3.9 />
<circle class=B cx=1024.5 cy=287.6 r=3.1 />
<circle class=Q cx=937.4 cy=285.2 r=3.1 />
<circle class=N cx=867.2 cy=299.2 r=3.1 />
<circle class=W cx=998.3 cy=287.7 r=3.1 />
<circle class=R cx=950.4 cy=276.7 r=3.1 />
<circle class=O cx=913 cy=294.9 r=3.1 />
<circle class=D cx=997.1 cy=291.7 r=3.1 />
<circle class=d cx=1015.6 cy=290.5 r=3.9 />
<circle class=P cx=888 cy=284.3 r=3.1 />
<circle class=V cx=911.9 cy=287.7 r=3.1 />
<circle class=J cx=889 cy=280.3 r=3.1 />
<circle class=R cx=846.8 cy=290.5 r=3.1 />
<circle class=V cx=942.5 cy=273.9 r=3.1 />
<circle class=A cx=909.6 cy=298 r=3.1 />
<circle class=N cx=839.7 cy=292.9 r=3.1 />
<circle class=d cx=1103.5 cy=288.5 r=3.9 />
<circle class=N cx=924.2 cy=281.6 r=3.1 />
<circle class=W cx=853.1 cy=296.9 r=3.1 />
<circle class=Q cx=890.6 cy=283.1 r=3.1 />
<circle class=D cx=882.2 cy=298.2 r=3.1 />
<circle class=D cx=902.2 cy=285.1 r=3.1 />
<circle class=V cx=993.3 cy=291.1 r=3.1 />
<circle class=B cx=907.2 cy=274.9 r=3.1 />
<circle class=C cx=854.7 cy=294.9 r=3.1 />
<circle class=S cx=933.7 cy=300.3 r=3.1 />
<circle class=Q cx=820.9 cy=284.4 r=3.1 />
<circle class=b cx=1091.7 cy=288 r=3.9 />
<circle class=P cx=865.3 cy=278.4 r=3.1 />
<circle class=B cx=945.2 cy=282.4 r=3.1 />
<circle class=v cx=1062.9 cy=286.3 r=3.9 />
<circle class=V cx=944.1 cy=300.6 r=3.1 />
<circle class=I cx=943 cy=286.4 r=3.1 />
<circle class=O cx=927.4 cy=279.6 r=3.1 />
<circle class=U cx=933.5 cy=287.7 r=3.1 />
<circle class=Q cx=951.1 cy=282.3 r=3.1 />
<circle class=W cx=893.4 cy=283.9 r=3.1 />
<circle class=Q cx=947.1 cy=296.4 r=3.1 />
<circle class=P cx=882.7 cy=275.2 r=3.1 />
<circle class=B cx=925.9 cy=274.2 r=3.1 />
<circle class=O cx=908.7 cy=276.8 r=3.1 />
<circle class=S cx=960.6 cy=284.3 r=3.1 />
<circle class=U cx=904.6 cy=269.7 r=3.1 />
<circle class=K cx=896 cy=298.4 r=3.1 />
<circle class=Q cx=928.8 cy=287.4 r=3.1 />
<circle class=t cx=947.7 cy=298.5 r=3.9 />
<circle class=N cx=877.8 cy=278.9 r=3.1 />
<circle class=R cx=912.6 cy=300.6 r=3.1 />
<circle class=X cx=885.3 cy=290.4 r=3.1 />
<circle class=C cx=1003.6 cy=290.4 r=3.1 />
<circle class=C cx=918.1 cy=281.4 r=3.1 />
<circle class=M cx=895.4 cy=285.5 r=3.1 />
<circle class=c cx=1039.9 cy=289 r=3.9 />
<circle class=Q cx=935.9 cy=298.3 r=3.1 />
<circle class=c cx=1121.7 cy=287.9 r=3.9 />
<circle class=o cx=918.2 cy=270.5 r=3.9 />
<circle class=E cx=917.4 cy=305.7 r=3.1 />
<circle class=C cx=848.9 cy=292.2 r=3.1 />
<circle class=E cx=1027.1 cy=287.7 r=3.1 />
<circle class=N cx=863.9 cy=291.6 r=3.1 />
<circle class=R cx=875.9 cy=294.9 r=3.1 />
<circle class=N cx=924.9 cy=284.1 r=3.1 />
<circle class=D cx=858.8 cy=299.3 r=3.1 />
<circle class=e cx=1033 cy=286.1 r=3.9 />
<circle class=R cx=919.8 cy=270.8 r=3.1 />
<circle class=T cx=949.9 cy=291.4 r=3.1 />
<circle class=V cx=828.1 cy=288.7 r=3.1 />
<circle class=X cx=857.2 cy=284.8 r=3.1 />
<circle class=G cx=950.4 cy=284.6 r=3.1 />
<circle class=K cx=927.1 cy=297.5 r=3.1 />
<circle class=L cx=866.1 cy=301.6 r=3.1 />
<circle class=S cx=836.2 cy=285 r=3.1 />
<circle class=O cx=862.4 cy=277.3 r=3.1 />
<circle class=W cx=1051.3 cy=286.9 r=3.1 />
<circle class=C cx=1102.1 cy=287.2 r=3.1 />
<circle class=T cx=936.9 cy=276.7 r=3.1 />
<circle class=W cx=945.8 cy=285.1 r=3.1 />
<circle class=O cx=883.2 cy=296 r=3.1 />
<circle class=C cx=933.6 cy=272.7 r=3.1 />
<circle class=V cx=851.2 cy=294.2 r=3.1 />
<circle class=O cx=916.6 cy=279.2 r=3.1 />
<circle class=R cx=910.4 cy=291.8 r=3.1 />
<circle class=E cx=942.5 cy=277.5 r=3.1 />
<circle class=D cx=904.7 cy=287.7 r=3.1 />
<circle class=P cx=938 cy=291.4 r=3.1 />
<circle class=C cx=1091.9 cy=287.7 r=3.1 />
<circle class=O cx=931.4 cy=296.1 r=3.1 />
<circle class=D cx=879 cy=285.1 r=3.1 />
<circle class=P cx=819.8 cy=289.8 r=3.1 />
<circle class=D cx=910.5 cy=274.9 r=3.1 />
<circle class=P cx=936.6 cy=301.1 r=3.1 />
<circle class=c cx=1098.6 cy=287.4 r=3.9 />
<circle class=Q cx=825.5 cy=287.7 r=3.1 />
<circle class=V cx=978.9 cy=284.5 r=3.1 />
<circle class=X cx=858.9 cy=288.4 r=3.1 />
<circle class=p cx=859.5 cy=299.3 r=3.9 />
<circle class=t cx=905.6 cy=305.3 r=3.9 />
<circle class=R cx=942.9 cy=283.3 r=3.1 />
<circle class=V cx=991.7 cy=284.4 r=3.1 />
<circle class=U cx=858.3 cy=278.8 r=3.1 />
<circle class=U cx=957.4 cy=295.4 r=3.1 />
<circle class=B cx=1022.3 cy=285.5 r=3.1 />
<circle class=D cx=1038.8 cy=287.9 r=3.1 />
<circle class=O cx=870.4 cy=291.3 r=3.1 />
<circle class=u cx=859.4 cy=276.3 r=3.9 />
<circle class=D cx=899.4 cy=282.7 r=3.1 />
<circle class=O cx=922.5 cy=270.2 r=3.1 />
<circle class=R cx=897.9 cy=284.9 r=3.1 />
<circle class=S cx=839.4 cy=285 r=3.1 />
<circle class=A cx=912.5 cy=273.4 r=3.1 />
<circle class=P cx=933.7 cy=297.2 r=3.1 />
<circle class=p cx=889.6 cy=303 r=3.9 />
<circle class=C cx=907.6 cy=285.7 r=3.1 />
<circle class=D cx=945.5 cy=279.7 r=3.1 />
<circle class=D cx=954.3 cy=297.6 r=3.1 />
<circle class=O cx=887 cy=288.7 r=3.1 />
<circle class=W cx=878.5 cy=287.8 r=3.1 />
<circle class=D cx=1028.1 cy=284.7 r=3.1 />
<circle class=L cx=904.6 cy=274.2 r=3.1 />
<circle class=C cx=1017.3 cy=286 r=3.1 />
<circle class=m cx=936.2 cy=302.1 r=3.9 />
<circle class=B cx=869.5 cy=282.3 r=3.1 />
<circle class=S cx=918.1 cy=293.7 r=3.1 />
<circle class=D cx=1045.1 cy=285.3 r=3.1 />
<circle class=B cx=1115.9 cy=288.8 r=3.1 />
<circle class=B cx=1077.5 cy=287.7 r=3.1 />
<circle class=Q cx=955.4 cy=278.9 r=3.1 />
<circle class=V cx=868.7 cy=276.7 r=3.1 />
<circle class=D cx=1072.1 cy=289.3 r=3.1 />
<circle class=v cx=818.3 cy=287.5 r=3.9 />
<circle class=G cx=968.4 cy=293.8 r=3.1 />
<circle class=C cx=892.5 cy=292.9 r=3.1 />
<circle class=V cx=843.4 cy=287.7 r=3.1 />
<circle class=Q cx=895.4 cy=282.5 r=3.1 />
<circle class=D cx=892.6 cy=297.3 r=3.1 />
<circle class=N cx=878 cy=296.2 r=3.1 />
<circle class=T cx=866.4 cy=275.5 r=3.1 />
<circle class=R cx=915.8 cy=283.4 r=3.1 />
<circle class=b cx=1049.1 cy=286.3 r=3.9 />
<circle class=Q cx=908.4 cy=269.2 r=3.1 />
<circle class=S cx=844.4 cy=290.5 r=3.1 />
<circle class=B cx=1117.3 cy=286.5 r=3.1 />
<circle class=D cx=857.6 cy=281.4 r=3.1 />
<circle class=W cx=958.1 cy=279.3 r=3.1 />
<circle class=B cx=957.7 cy=288.5 r=3.1 />
<circle class=C cx=964.2 cy=293.3 r=3.1 />
<circle class=A cx=887.3 cy=295.2 r=3.1 />
<circle class=w cx=819.1 cy=289.7 r=3.9 />
<circle class=B cx=962.5 cy=280.5 r=3.1 />
<circle class=b cx=1098.4 cy=288.1 r=3.9 />
<circle class=b cx=998.6 cy=290.5 r=3.9 />
<circle class=C cx=952.3 cy=291 r=3.1 />
<circle class=b cx=1075 cy=288.7 r=3.9 />
<circle class=B cx=865.2 cy=295.5 r=3.1 />
<circle class=v cx=935.2 cy=273.5 r=3.9 />
<circle class=e cx=1039.4 cy=286.7 r=3.9 />
<circle class=d cx=1044.8 cy=285.9 r=3.9 />
<circle class=N cx=867.5 cy=291.8 r=3.1 />
<circle class=T cx=853.5 cy=279.8 r=3.1 />
<circle class=N cx=921.6 cy=280.9 r=3.1 />
<circle class=B cx=829.2 cy=291.1 r=3.1 />
<circle class=u cx=1068.8 cy=287.1 r=3.9 />
<circle class=M cx=917.7 cy=269.3 r=3.1 />
<circle class=P cx=967.2 cy=284.6 r=3.1 />
<circle class=V cx=1068.6 cy=285.7 r=3.1 />
<circle class=D cx=1016.3 cy=289.1 r=3.1 />
<circle class=C cx=1046.1 cy=290.3 r=3.1 />
<circle class=c cx=1120.9 cy=287.8 r=3.9 />
<circle class=C cx=857.5 cy=290.6 r=3.1 />
<circle class=R cx=927.4 cy=291.9 r=3.1 />
<circle class=O cx=887.2 cy=275 r=3.1 />
<circle class=u cx=993.8 cy=284 r=3.9 />
<circle class=D cx=874.4 cy=289.9 r=3.1 />
<circle class=Q cx=862.1 cy=295.9 r=3.1 />
<circle class=M cx=904.7 cy=285.1 r=3.1 />
<circle class=V cx=943.5 cy=297.7 r=3.1 />
<circle class=a cx=999.4 cy=284.6 r=3.9 />
<circle class=D cx=913.4 cy=290.1 r=3.1 />
<circle class=P cx=883.9 cy=284.1 r=3.1 />
<circle class=B cx=1067.9 cy=289.9 r=3.1 />
<circle class=T cx=945.4 cy=287.6 r=3.1 />
<circle class=O cx=871.5 cy=284.8 r=3.1 />
<circle class=Q cx=867.2 cy=280.2 r=3.1 />
<circle class=D cx=895.3 cy=277.2 r=3.1 />
<circle class=Q cx=848.9 cy=296.5 r=3.1 />
<circle class=P cx=929.9 cy=292.3 r=3.1 />
<circle class=K cx=873 cy=278 r=3.1 />
<circle class=O cx=914.9 cy=280.9 r=3.1 />
<circle class=P cx=897.5 cy=287.7 r=3.1 />
<circle class=U cx=898.2 cy=291.5 r=3.1 />
<circle class=S cx=874.6 cy=301.9 r=3.1 />
<circle class=N cx=932.9 cy=292.1 r=3.1 />
<circle class=T cx=821.5 cy=287.2 r=3.1 />
<circle class=C cx=871.8 cy=299.5 r=3.1 />
<circle class=P cx=854.3 cy=287.7 r=3.1 />
<circle class=Q cx=870.8 cy=295.6 r=3.1 />
<circle class=S cx=859.2 cy=295.8 r=3.1 />
<circle class=T cx=897.9 cy=305.2 r=3.1 />
<circle class=X cx=869.8 cy=279.7 r=3.1 />
<circle class=h cx=1109.7 cy=287.7 r=3.9 />
<circle class=N cx=875.9 cy=287.7 r=3.1 />
<circle class=D cx=829.9 cy=283 r=3.1 />
<circle class=P cx=916.7 cy=301.1 r=3.1 />
<circle class=M cx=881.9 cy=293.3 r=3.1 />
<circle class=R cx=914.4 cy=275.9 r=3.1 />
<circle class=D cx=1013.9 cy=291 r=3.1 />
<circle class=S cx=917 cy=291.2 r=3.1 />
<circle class=c cx=905.9 cy=270 r=3.9 />
<circle class=i cx=1020 cy=286.1 r=3.9 />
<circle class=D cx=1081.7 cy=289.5 r=3.1 />
<circle class=C cx=1113.5 cy=287.7 r=3.1 />
<circle class=C cx=1012.7 cy=287.7 r=3.1 />
<circle class=p cx=872.6 cy=301.6 r=3.9 />
<circle class=O cx=910.2 cy=305.6 r=3.1 />
<circle class=N cx=921.3 cy=284 r=3.1 />
<circle class=E cx=944.3 cy=295.3 r=3.1 />
<circle class=X cx=952.7 cy=285.5 r=3.1 />
<circle class=C cx=932.5 cy=276.6 r=3.1 />
<circle class=N cx=906.4 cy=295.8 r=3.1 />
<circle class=p cx=853.3 cy=278.1 r=3.9 />
<circle class=O cx=881.8 cy=300.5 r=3.1 />
<circle class=P cx=924.5 cy=292.5 r=3.1 />
<circle class=V cx=930.6 cy=303.7 r=3.1 />
<circle class=N cx=890.3 cy=287.7 r=3.1 />
<circle class=W cx=910.1 cy=278.8 r=3.1 />
<circle class=V cx=1055.9 cy=287.7 r=3.1 />
<circle class=B cx=907 cy=282 r=3.1 />
<circle class=x cx=829 cy=284 r=3.9 />
<circle class=P cx=875.3 cy=284.8 r=3.1 />
<circle class=W cx=1050.7 cy=289.5 r=3.1 />
<circle class=B cx=952 cy=296.1 r=3.1 />
<circle class=J cx=882 cy=290.7 r=3.1 />
<circle class=D cx=950.8 cy=298.7 r=3.1 />
<circle class=q cx=854.6 cy=297 r=3.9 />
<circle class=C cx=973.6 cy=290.9 r=3.1 />
<circle class=P cx=922.2 cy=294.3 r=3.1 />
<circle class=V cx=848.2 cy=283.2 r=3.1 />
<circle class=s cx=829.5 cy=291.5 r=3.9 />
<circle class=U cx=1063.1 cy=287.7 r=3.1 />
<circle class=P cx=894.4 cy=287.8 r=3.1 />
<circle class=O cx=916.9 cy=276.1 r=3.1 />
<circle class=B cx=970.7 cy=283.4 r=3.1 />
<circle class=K cx=919.8 cy=273.9 r=3.1 />
<circle class=E cx=965 cy=287.5 r=3.1 />
<circle class=d cx=889.4 cy=272 r=3.9 />
<circle class=M cx=925.6 cy=300.4 r=3.1 />
<circle class=J cx=922 cy=277.7 r=3.1 />
<circle class=E cx=946.9 cy=298.8 r=3.1 />
<circle class=q cx=959.2 cy=281.2 r=3.9 />
<circle class=V cx=837.3 cy=288.9 r=3.1 />
<circle class=T cx=867.8 cy=294.7 r=3.1 />
<circle class=v cx=895.2 cy=271.6 r=3.9 />
<circle class=D cx=949.8 cy=293.9 r=3.1 />
<circle class=V cx=1005.5 cy=287.7 r=3.1 />
<circle class=A cx=861.5 cy=287.7 r=3.1 />
<circle class=B cx=942.3 cy=292.6 r=3.1 />
<circle class=m cx=877.7 cy=302 r=3.9 />
<circle class=D cx=1059 cy=289.9 r=3.1 />
<circle class=O cx=910.2 cy=282.1 r=3.1 />
<circle class=d cx=1104.5 cy=287.4 r=3.9 />
<circle class=L cx=875.4 cy=292.2 r=3.1 />
<circle class=K cx=938.8 cy=278.7 r=3.1 />
<circle class=R cx=831.5 cy=285 r=3.1 />
<circle class=C cx=904.2 cy=280 r=3.1 />
<circle class=B cx=872.7 cy=293.1 r=3.1 />
<circle class=W cx=999.9 cy=290.4 r=3.1 />
<circle class=T cx=970.6 cy=291.6 r=3.1 />
<circle class=S cx=957.8 cy=292.7 r=3.1 />
<circle class=O cx=926.7 cy=276.5 r=3.1 />
<circle class=c cx=824.3 cy=290.6 r=3.9 />
<circle class=D cx=912.5 cy=285.3 r=3.1 />
<circle class=T cx=881 cy=277.3 r=3.1 />
<circle class=A cx=976.9 cy=282.6 r=3.1 />
<circle class=N cx=924.2 cy=289.9 r=3.1 />
<circle class=U cx=877.7 cy=302.7 r=3.1 />
<circle class=V cx=902.8 cy=282.5 r=3.1 />
<circle class=A cx=894.9 cy=272.3 r=3.1 />
<circle class=Q cx=894.6 cy=274.8 r=3.1 />
<circle class=N cx=900.2 cy=280 r=3.1 />
<circle class=N cx=898.1 cy=273.9 r=3.1 />
<circle class=Q cx=880.4 cy=302.5 r=3.1 />
<circle class=d cx=965.4 cy=293.4 r=3.9 />
<circle class=E cx=964.3 cy=290.8 r=3.1 />
<circle class=U cx=984.6 cy=292.1 r=3.1 />
<circle class=R cx=886.6 cy=279.7 r=3.1 />
<circle class=C cx=892.1 cy=273.7 r=3.1 />
<circle class=b cx=948.1 cy=276.5 r=3.9 />
<circle class=R cx=910.1 cy=284.9 r=3.1 />
<circle class=N cx=922.6 cy=287.5 r=3.1 />
<circle class=r cx=848.2 cy=280.4 r=3.9 />
<circle class=R cx=849.9 cy=288 r=3.1 />
<circle class=A cx=1094.5 cy=286.9 r=3.1 />
<circle class=O cx=939.5 cy=299.5 r=3.1 />
<circle class=v cx=982.3 cy=291.6 r=3.9 />
<circle class=O cx=914.9 cy=288.2 r=3.1 />
<circle class=R cx=842 cy=291.8 r=3.1 />
<circle class=U cx=960 cy=280.9 r=3.1 />
<circle class=B cx=961.4 cy=291.5 r=3.1 />
<circle class=c cx=1061.7 cy=288.7 r=3.9 />
<circle class=D cx=861.1 cy=282.1 r=3.1 />
<circle class=B cx=973.3 cy=281.9 r=3.1 />
<circle class=T cx=886.6 cy=304.1 r=3.1 />
<circle class=o cx=900.6 cy=271.3 r=3.9 />
<circle class=B cx=930.5 cy=279 r=3.1 />
<circle class=X cx=976.2 cy=293.6 r=3.1 />
<circle class=B cx=907.8 cy=306.2 r=3.1 />
<circle class=C cx=859.9 cy=285.8 r=3.1 />
<circle class=H cx=969.5 cy=287.7 r=3.1 />
<circle class=P cx=909.5 cy=301 r=3.1 />
<circle class=A cx=892.2 cy=286.1 r=3.1 />
<circle class=K cx=888.6 cy=277.4 r=3.1 />
<circle class=B cx=1007.4 cy=284.8 r=3.1 />
<circle class=B cx=995.7 cy=286.3 r=3.1 />
<circle class=u cx=841.4 cy=281.8 r=3.9 />
<circle class=A cx=902.2 cy=270 r=3.1 />
<circle class=P cx=919.1 cy=287.7 r=3.1 />
<circle class=B cx=1099.1 cy=287.7 r=3.1 />
<circle class=C cx=885.3 cy=286.5 r=3.1 />
<circle class=B cx=1109.7 cy=287.7 r=3.1 />
<circle class=O cx=921.2 cy=292 r=3.1 />
<circle class=D cx=835.3 cy=287.4 r=3.1 />
<circle class=v cx=987.8 cy=283.8 r=3.9 />
<circle class=Q cx=998.1 cy=284.8 r=3.1 />
<circle class=m cx=884.6 cy=272.3 r=3.9 />
<circle class=P cx=873.5 cy=295.4 r=3.1 />
<circle class=D cx=983.2 cy=290 r=3.1 />
<circle class=D cx=952.5 cy=277.9 r=3.1 />
<circle class=S cx=990.3 cy=290.9 r=3.1 />
<circle class=D cx=891.7 cy=304.3 r=3.1 />
<circle class=B cx=980.4 cy=292 r=3.1 />
<circle class=A cx=881.5 cy=285.3 r=3.1 />
<circle class=Q cx=865.9 cy=289.6 r=3.1 />
<circle class=R cx=889 cy=303.9 r=3.1 />
<circle class=V cx=978.9 cy=289.4 r=3.1 />
<circle class=B cx=922.1 cy=272.6 r=3.1 />
<circle class=K cx=884.6 cy=277.8 r=3.1 />
<circle class=P cx=879.3 cy=274.1 r=3.1 />
<circle class=P cx=839.9 cy=287.7 r=3.1 />
<circle class=D cx=949.3 cy=280 r=3.1 />
<circle class=C cx=1041.4 cy=290.3 r=3.1 />
<circle class=C cx=983.9 cy=287.7 r=3.1 />
<circle class=T cx=825.5 cy=291.6 r=3.1 />
<circle class=B cx=1028.4 cy=290.3 r=3.1 />
<circle class=N cx=866.3 cy=282.9 r=3.1 />
<circle class=T cx=916.3 cy=295.5 r=3.1 />
<circle class=L cx=905.4 cy=301.9 r=3.1 />
<circle class=H cx=961.2 cy=294.7 r=3.1 />
<circle class=D cx=881.5 cy=282.7 r=3.1 />
<circle class=W cx=894.7 cy=280.1 r=3.1 />
<circle class=S cx=890.9 cy=295.6 r=3.1 />
<circle class=D cx=957.9 cy=282.5 r=3.1 />
<circle class=d cx=913 cy=270.3 r=3.9 />
<circle class=P cx=909.8 cy=294.9 r=3.1 />
<circle class=D cx=906.5 cy=293.1 r=3.1 />
<circle class=T cx=959.9 cy=287.2 r=3.1 />
<circle class=W cx=912.5 cy=279.5 r=3.1 />
<circle class=O cx=924.9 cy=279 r=3.1 />
<circle class=Q cx=863.9 cy=288 r=3.1 />
<circle class=T cx=885.3 cy=292.9 r=3.1 />
<circle class=W cx=994 cy=288.2 r=3.1 />
<circle class=R cx=851 cy=279.6 r=3.1 />
<circle class=p cx=901.6 cy=304.3 r=3.9 />
<circle class=T cx=934.4 cy=283.5 r=3.1 />
<circle class=D cx=911.1 cy=271.5 r=3.1 />
<circle class=B cx=940.6 cy=290.9 r=3.1 />
<circle class=A cx=869.6 cy=298.5 r=3.1 />
<circle class=X cx=1048.1 cy=285.1 r=3.1 />
<circle class=N cx=924.9 cy=295.6 r=3.1 />
<circle class=B cx=1018.8 cy=290.3 r=3.1 />
<circle class=E cx=945.3 cy=290.4 r=3.1 />
<circle class=A cx=940.3 cy=283.9 r=3.1 />
<circle class=O cx=921.1 cy=296.5 r=3.1 />
<circle class=V cx=1066.2 cy=287.4 r=3.1 />
<circle class=D cx=913.2 cy=283 r=3.1 />
<circle class=e cx=1073.5 cy=287 r=3.9 />
<circle class=R cx=845.6 cy=280.8 r=3.1 />
<circle class=B cx=1106.3 cy=287.7 r=3.1 />
<circle class=V cx=838.2 cy=282.9 r=3.1 />
<circle class=L cx=875 cy=274.2 r=3.1 />
<circle class=L cx=888.7 cy=292 r=3.1 />
<circle class=O cx=878.8 cy=281.4 r=3.1 />
<circle class=B cx=1086.5 cy=289.5 r=3.1 />
<circle class=N cx=872.6 cy=287.6 r=3.1 />
<circle class=c cx=930.3 cy=303.5 r=3.9 />
<circle class=W cx=843.9 cy=285 r=3.1 />
<circle class=c cx=1056.1 cy=288.9 r=3.9 />
<circle class=o cx=884.3 cy=302.3 r=3.9 />
<circle class=D cx=1048.7 cy=287.7 r=3.1 />
<circle class=O cx=905.1 cy=304.7 r=3.1 />
<circle class=N cx=876 cy=281.5 r=3.1 />
<circle class=Q cx=915.2 cy=298.3 r=3.1 />
<circle class=N cx=860.2 cy=292.8 r=3.1 />
<circle class=K cx=926.4 cy=304.7 r=3.1 />
<circle class=a cx=1086.1 cy=288.7 r=3.9 />
<circle class=C cx=885.2 cy=298.4 r=3.1 />
<circle class=E cx=1020.1 cy=284.5 r=3.1 />
<circle class=D cx=1021.2 cy=290 r=3.1 />
<circle class=O cx=901.3 cy=291.6 r=3.1 />
<circle class=K cx=888.2 cy=300.9 r=3.1 />
<circle class=T cx=890.1 cy=271.4 r=3.1 />
<circle class=T cx=862.6 cy=284.5 r=3.1 />
<circle class=S cx=928 cy=284.1 r=3.1 />
<circle class=O cx=895 cy=292 r=3.1 />
<circle class=B cx=900.3 cy=303.9 r=3.1 />
<circle class=Q cx=851 cy=282.8 r=3.1 />
<circle class=D cx=818.3 cy=287.7 r=3.1 />
<circle class=L cx=909.9 cy=289 r=3.1 />
<circle class=C cx=831.7 cy=290.1 r=3.1 />
<circle class=U cx=984.2 cy=283.1 r=3.1 />
<circle class=b cx=953.1 cy=279.2 r=3.9 />
<circle class=E cx=982.3 cy=285 r=3.1 />
<circle class=T cx=894.9 cy=294.7 r=3.1 />
<circle class=D cx=853.6 cy=283.4 r=3.1 />
<circle class=O cx=924.5 cy=271.6 r=3.1 />
<circle class=q cx=835.3 cy=283.7 r=3.9 />
<circle class=M cx=907.1 cy=279.4 r=3.1 />
<circle class=C cx=872.1 cy=302.1 r=3.1 />
<circle class=A cx=930.7 cy=285.7 r=3.1 />
<circle class=B cx=940.7 cy=287.7 r=3.1 />
<circle class=D cx=911.7 cy=303.4 r=3.1 />
<circle class=v cx=1003.7 cy=284.9 r=3.9 />
<circle class=d cx=1066.9 cy=288.6 r=3.9 />
<circle class=Q cx=918.6 cy=283.9 r=3.1 />
<circle class=T cx=868.3 cy=284.8 r=3.1 />
<circle class=C cx=941.6 cy=294.9 r=3.1 />
<circle class=T cx=907.4 cy=303.4 r=3.1 />
<circle class=S cx=947.8 cy=283.7 r=3.1 />
<circle class=V cx=958.1 cy=285.4 r=3.1 />
<circle class=O cx=911.2 cy=269 r=3.1 />
<circle class=P cx=848.3 cy=280.1 r=3.1 />
<circle class=H cx=1025.1 cy=285.2 r=3.1 />
<circle class=E cx=954.7 cy=281.6 r=3.1 />
<circle class=D cx=904.1 cy=293.2 r=3.1 />
<circle class=R cx=897.8 cy=302.7 r=3.1 />
<circle class=O cx=899.8 cy=293.5 r=3.1 />
<circle class=P cx=939.7 cy=276.4 r=3.1 />
<circle class=V cx=847.1 cy=287.7 r=3.1 />
<circle class=T cx=865.5 cy=285.7 r=3.1 />
<circle class=u cx=982.5 cy=284 r=3.9 />
<circle class=B cx=891.8 cy=280.6 r=3.1 />
<circle class=E cx=832.7 cy=287.7 r=3.1 />
<circle class=T cx=823.5 cy=285.1 r=3.1 />
<circle class=D cx=1036.7 cy=289.8 r=3.1 />
<circle class=u cx=992.2 cy=291.4 r=3.9 />
<circle class=V cx=1053.3 cy=288.5 r=3.1 />
<circle class=D cx=946.5 cy=293.4 r=3.1 />
<circle class=U cx=1053.9 cy=286.1 r=3.1 />
<circle class=R cx=877.9 cy=300.2 r=3.1 />
<circle class=s cx=941.8 cy=300.4 r=3.9 />
<circle class=C cx=1060.3 cy=287.6 r=3.1 />
<circle class=A cx=981.2 cy=288.3 r=3.1 />
<circle class=B cx=856.9 cy=296.7 r=3.1 />
<circle class=h cx=1086.9 cy=286.7 r=3.9 />
<circle class=T cx=906.7 cy=270.9 r=3.1 />
<circle class=A cx=914.8 cy=293.2 r=3.1 />
<circle class=A cx=861.1 cy=298.6 r=3.1 />
<circle class=b cx=971.3 cy=292.5 r=3.9 />
<circle class=S cx=935.4 cy=292.1 r=3.1 />
<circle class=Q cx=851.9 cy=290.7 r=3.1 />
<circle class=Q cx=1004.6 cy=283.8 r=3.1 />
<circle class=D cx=908.8 cy=272.7 r=3.1 />
<circle class=W cx=973.4 cy=284.4 r=3.1 />
<circle class=c cx=1010.9 cy=289.9 r=3.9 />
<circle class=O cx=890.6 cy=290.5 r=3.1 />
<circle class=P cx=899.6 cy=300 r=3.1 />
<circle class=P cx=899.3 cy=271.6 r=3.1 />
<circle class=A cx=883.1 cy=287.7 r=3.1 />
<circle class=Q cx=912.5 cy=297.5 r=3.1 />
<circle class=D cx=929 cy=299.6 r=3.1 />
<circle class=D cx=872.3 cy=281.1 r=3.1 />
<circle class=O cx=936.9 cy=289.2 r=3.1 />
<circle class=e cx=1178 cy=287.7 r=3.9 />
<circle class=c cx=1253 cy=287.7 r=3.9 />
<circle class=a cx=1187.5 cy=287.7 r=3.9 />
<circle class=c cx=1147.6 cy=287.7 r=3.9 />
<circle class=b cx=1169 cy=287.7 r=3.9 />
<circle class=h cx=1236 cy=287.7 r=3.9 />
<circle class=a cx=550 cy=338.3 r=3.9 />
<circle class=d cx=466.6 cy=338.3 r=3.9 />
<circle class=b cx=536 cy=338.3 r=3.9 />
<circle class=b cx=494 cy=338.3 r=3.9 />
<circle class=c cx=516 cy=338.3 r=3.9 />
<circle class=a cx=450 cy=338.3 r=3.9 />
<circle class=c cx=457.5 cy=338.3 r=3.9 />
<circle class=a cx=474 cy=338.3 r=3.9 />
<circle class=q cx=794.5 cy=338.3 r=3.9 />
<circle class=r cx=800 cy=338.3 r=3.9 />
<circle class=U cx=848.8 cy=335 r=3.1 />
<circle class=d cx=912.9 cy=320.8 r=3.9 />
<circle class=Q cx=900.5 cy=327.9 r=3.1 />
<circle class=D cx=897.4 cy=326.8 r=3.1 />
<circle class=p cx=907.2 cy=322.2 r=3.9 />
<circle class=N cx=912.7 cy=348.8 r=3.1 />
<circle class=S cx=877.7 cy=338.3 r=3.1 />
<circle class=W cx=812.4 cy=337 r=3.1 />
<circle class=U cx=874.6 cy=332.1 r=3.1 />
<circle class=D cx=932.8 cy=351.9 r=3.1 />
<circle class=v cx=842 cy=341.1 r=3.9 />
<circle class=S cx=808.3 cy=338.3 r=3.1 />
<circle class=D cx=893.7 cy=352.8 r=3.1 />
<circle class=Q cx=981.1 cy=340.9 r=3.1 />
<circle class=V cx=929.8 cy=327.3 r=3.1 />
<circle class=C cx=990.2 cy=341.3 r=3.1 />
<circle class=B cx=854.2 cy=335.5 r=3.1 />
<circle class=K cx=954.9 cy=340.5 r=3.1 />
<circle class=A cx=848 cy=341.3 r=3.1 />
<circle class=J cx=898.9 cy=336.1 r=3.1 />
<circle class=c cx=995.6 cy=335.6 r=3.9 />
<circle class=D cx=1014.8 cy=337.5 r=3.1 />
<circle class=B cx=1022.8 cy=340.6 r=3.1 />
<circle class=c cx=889.7 cy=325.1 r=3.9 />
<circle class=B cx=1032.9 cy=340.5 r=3.1 />
<circle class=R cx=902.9 cy=329.1 r=3.1 />
<circle class=C cx=891.4 cy=351.2 r=3.1 />
<circle class=L cx=901.3 cy=349.2 r=3.1 />
<circle class=c cx=1043.2 cy=339 r=3.9 />
<circle class=B cx=887.2 cy=327.5 r=3.1 />
<circle class=N cx=935.6 cy=341 r=3.1 />
<circle class=A cx=932.2 cy=326.6 r=3.1 />
<circle class=N cx=911 cy=341.1 r=3.1 />
<circle class=h cx=878.4 cy=348.8 r=3.9 />
<circle class=A cx=940.4 cy=335.9 r=3.1 />
<circle class=O cx=925.2 cy=349 r=3.1 />
<circle class=P cx=901.6 cy=352.3 r=3.1 />
<circle class=C cx=1009.9 cy=338.3 r=3.1 />
<circle class=s cx=895.7 cy=324.7 r=3.9 />
<circle class=D cx=870.6 cy=343.2 r=3.1 />
<circle class=E cx=913.3 cy=332.7 r=3.1 />
<circle class=a cx=914.6 cy=355.6 r=3.9 />
<circle class=P cx=894.7 cy=338.3 r=3.1 />
<circle class=C cx=1056.7 cy=340.3 r=3.1 />
<circle class=v cx=1036.2 cy=339.5 r=3.9 />
<circle class=S cx=925.7 cy=320 r=3.1 />
<circle class=t cx=954.3 cy=326.8 r=3.9 />
<circle class=M cx=880.7 cy=344.6 r=3.1 />
<circle class=T cx=932.9 cy=344.5 r=3.1 />
<circle class=A cx=965.4 cy=329 r=3.1 />
<circle class=O cx=912.2 cy=325.8 r=3.1 />
<circle class=M cx=915.2 cy=335.5 r=3.1 />
<circle class=v cx=812.9 cy=337.6 r=3.9 />
<circle class=M cx=941 cy=324.2 r=3.1 />
<circle class=N cx=890.8 cy=339.4 r=3.1 />
<circle class=C cx=922.1 cy=340.3 r=3.1 />
<circle class=D cx=920.5 cy=334.7 r=3.1 />
<circle class=X cx=915.2 cy=326.4 r=3.1 />
<circle class=E cx=949.6 cy=349.5 r=3.1 />
<circle class=T cx=871.1 cy=331 r=3.1 />
<circle class=U cx=960.3 cy=349 r=3.1 />
<circle class=V cx=936.5 cy=332.8 r=3.1 />
<circle class=Q cx=917.9 cy=325.5 r=3.1 />
<circle class=K cx=895.6 cy=350.9 r=3.1 />
<circle class=d cx=1006.5 cy=339.8 r=3.9 />
<circle class=T cx=877 cy=330 r=3.1 />
<circle class=A cx=891.4 cy=347 r=3.1 />
<circle class=L cx=890.2 cy=332.2 r=3.1 />
<circle class=t cx=1044 cy=337.8 r=3.9 />
<circle class=W cx=915.4 cy=331.1 r=3.1 />
<circle class=R cx=971.4 cy=345.5 r=3.1 />
<circle class=W cx=928.6 cy=350.3 r=3.1 />
<circle class=V cx=815.5 cy=338.3 r=3.1 />
<circle class=X cx=955.8 cy=326.2 r=3.1 />
<circle class=P cx=927.4 cy=338.2 r=3.1 />
<circle class=P cx=904.4 cy=346.7 r=3.1 />
<circle class=O cx=923.5 cy=338.3 r=3.1 />
<circle class=C cx=930.7 cy=338.3 r=3.1 />
<circle class=s cx=837 cy=339.9 r=3.9 />
<circle class=C cx=953.8 cy=346.4 r=3.1 />
<circle class=L cx=921.7 cy=350.1 r=3.1 />
<circle class=p cx=890.7 cy=350.5 r=3.9 />
<circle class=v cx=965.7 cy=330.7 r=3.9 />
<circle class=Q cx=830.3 cy=335.9 r=3.1 />
<circle class=P cx=923.3 cy=330.6 r=3.1 />
<circle class=P cx=822.7 cy=338.3 r=3.1 />
<circle class=d cx=808.7 cy=339.1 r=3.9 />
<circle class=d cx=948.3 cy=351.8 r=3.9 />
<circle class=D cx=940.8 cy=329.4 r=3.1 />
<circle class=G cx=862.3 cy=332.5 r=3.1 />
<circle class=N cx=924.2 cy=333.6 r=3.1 />
<circle class=C cx=863.5 cy=337.6 r=3.1 />
<circle class=V cx=914.5 cy=350.4 r=3.1 />
<circle class=D cx=951.5 cy=330.7 r=3.1 />
<circle class=d cx=1076.7 cy=338.1 r=3.9 />
<circle class=J cx=950.3 cy=333.4 r=3.1 />
<circle class=n cx=925.4 cy=356.8 r=3.9 />
<circle class=L cx=877.1 cy=344.2 r=3.1 />
<circle class=A cx=935.4 cy=353.9 r=3.1 />
<circle class=A cx=900.1 cy=322.5 r=3.1 />
<circle class=K cx=868.7 cy=330.1 r=3.1 />
<circle class=N cx=926.9 cy=352.4 r=3.1 />
<circle class=s cx=866 cy=331 r=3.9 />
<circle class=Q cx=885.5 cy=351.3 r=3.1 />
<circle class=D cx=952.8 cy=341.7 r=3.1 />
<circle class=W cx=963.8 cy=345.8 r=3.1 />
<circle class=Q cx=943.3 cy=329.3 r=3.1 />
<circle class=S cx=967 cy=331.5 r=3.1 />
<circle class=U cx=930.1 cy=345.8 r=3.1 />
<circle class=C cx=1001.7 cy=340.6 r=3.1 />
<circle class=U cx=978.2 cy=334.4 r=3.1 />
<circle class=L cx=870.7 cy=340.7 r=3.1 />
<circle class=L cx=871.4 cy=348.2 r=3.1 />
<circle class=d cx=923.8 cy=320.1 r=3.9 />
<circle class=I cx=953.9 cy=329.8 r=3.1 />
<circle class=V cx=948.4 cy=337.6 r=3.1 />
<circle class=b cx=1071.7 cy=338 r=3.9 />
<circle class=U cx=820.5 cy=336.2 r=3.1 />
<circle class=c cx=823.7 cy=339.3 r=3.9 />
<circle class=L cx=895.9 cy=329.8 r=3.1 />
<circle class=P cx=902.7 cy=342.7 r=3.1 />
<circle class=M cx=946.7 cy=351.3 r=3.1 />
<circle class=D cx=960.9 cy=333 r=3.1 />
<circle class=O cx=952.7 cy=344.2 r=3.1 />
<circle class=C cx=932 cy=333.8 r=3.1 />
<circle class=R cx=1018.7 cy=335.9 r=3.1 />
<circle class=V cx=1013.2 cy=340.2 r=3.1 />
<circle class=S cx=943.5 cy=333 r=3.1 />
<circle class=R cx=824.7 cy=336.2 r=3.1 />
<circle class=Q cx=920.7 cy=320.3 r=3.1 />
<circle class=A cx=957.4 cy=347.9 r=3.1 />
<circle class=Q cx=812.8 cy=339.4 r=3.1 />
<circle class=M cx=857.4 cy=340.6 r=3.1 />
<circle class=U cx=884.1 cy=344.8 r=3.1 />
<circle class=A cx=952 cy=349.4 r=3.1 />
<circle class=P cx=820.9 cy=340.2 r=3.1 />
<circle class=c cx=1002.2 cy=340.4 r=3.9 />
<circle class=e cx=906.8 cy=354.3 r=3.9 />
<circle class=B cx=1040.2 cy=340.3 r=3.1 />
<circle class=T cx=873.1 cy=338.3 r=3.1 />
<circle class=B cx=910.9 cy=334.7 r=3.1 />
<circle class=A cx=929.9 cy=319.9 r=3.1 />
<circle class=U cx=929.3 cy=353.7 r=3.1 />
<circle class=T cx=949.9 cy=324.4 r=3.1 />
<circle class=X cx=959.5 cy=338.3 r=3.1 />
<circle class=w cx=1031.4 cy=336.9 r=3.9 />
<circle class=P cx=928.1 cy=322.1 r=3.1 />
<circle class=C cx=914.7 cy=346.9 r=3.1 />
<circle class=D cx=1004.9 cy=336.3 r=3.1 />
<circle class=x cx=989.5 cy=340.9 r=3.9 />
<circle class=P cx=912.1 cy=346.3 r=3.1 />
<circle class=B cx=877.7 cy=335.4 r=3.1 />
<circle class=x cx=959.4 cy=347.8 r=3.9 />
<circle class=q cx=808.1 cy=337.7 r=3.9 />
<circle class=A cx=1036.2 cy=339 r=3.1 />
<circle class=D cx=874.1 cy=348.9 r=3.1 />
<circle class=R cx=865.5 cy=342.3 r=3.1 />
<circle class=T cx=965 cy=334.9 r=3.1 />
<circle class=X cx=899.6 cy=340 r=3.1 />
<circle class=D cx=889 cy=325 r=3.1 />
<circle class=E cx=866.9 cy=331.9 r=3.1 />
<circle class=c cx=1066.3 cy=339.3 r=3.9 />
<circle class=C cx=936.5 cy=343.6 r=3.1 />
<circle class=W cx=978.8 cy=337.3 r=3.1 />
<circle class=d cx=982 cy=334.3 r=3.9 />
<circle class=S cx=898.1 cy=350.9 r=3.1 />
<circle class=P cx=909.1 cy=338.3 r=3.1 />
<circle class=C cx=848.3 cy=337.8 r=3.1 />
<circle class=B cx=912.8 cy=339.2 r=3.1 />
<circle class=R cx=899.3 cy=333.1 r=3.1 />
<circle class=W cx=1031.5 cy=338.3 r=3.1 />
<circle class=B cx=851.1 cy=335.6 r=3.1 />
<circle class=C cx=927.7 cy=332 r=3.1 />
<circle class=M cx=931.6 cy=355 r=3.1 />
<circle class=b cx=859.9 cy=332.4 r=3.9 />
<circle class=H cx=899 cy=353.4 r=3.1 />
<circle class=U cx=985.9 cy=333.8 r=3.1 />
<circle class=A cx=938.7 cy=341.9 r=3.1 />
<circle class=D cx=920.9 cy=346.2 r=3.1 />
<circle class=K cx=898.3 cy=330.2 r=3.1 />
<circle class=N cx=938.7 cy=334 r=3.1 />
<circle class=X cx=827.8 cy=337.2 r=3.1 />
<circle class=E cx=864.2 cy=331 r=3.1 />
<circle class=M cx=943.3 cy=335.6 r=3.1 />
<circle class=U cx=911 cy=352.3 r=3.1 />
<circle class=H cx=863.8 cy=340.4 r=3.1 />
<circle class=Q cx=885.2 cy=338.9 r=3.1 />
<circle class=W cx=905.3 cy=352 r=3.1 />
<circle class=D cx=913.9 cy=341.4 r=3.1 />
<circle class=W cx=1030 cy=340.5 r=3.1 />
<circle class=B cx=873.3 cy=328.3 r=3.1 />
<circle class=T cx=922.4 cy=327.7 r=3.1 />
<circle class=B cx=1004.7 cy=340.9 r=3.1 />
<circle class=V cx=930.5 cy=348.7 r=3.1 />
<circle class=X cx=943.1 cy=350.7 r=3.1 />
<circle class=t cx=935.9 cy=354.2 r=3.9 />
<circle class=M cx=906.1 cy=328.5 r=3.1 />
<circle class=O cx=896.1 cy=353.3 r=3.1 />
<circle class=C cx=941.3 cy=339.8 r=3.1 />
<circle class=Q cx=951.5 cy=327.3 r=3.1 />
<circle class=V cx=976.1 cy=336.8 r=3.1 />
<circle class=w cx=931.4 cy=355.5 r=3.9 />
<circle class=W cx=995.5 cy=338.3 r=3.1 />
<circle class=R cx=901.9 cy=332.6 r=3.1 />
<circle class=B cx=963.8 cy=331.3 r=3.1 />
<circle class=u cx=983.9 cy=342.5 r=3.9 />
<circle class=X cx=980.7 cy=333.1 r=3.1 />
<circle class=E cx=887.3 cy=335.6 r=3.1 />
<circle class=J cx=868.3 cy=340.3 r=3.1 />
<circle class=I cx=940.6 cy=349.9 r=3.1 />
<circle class=C cx=944.5 cy=327.1 r=3.1 />
<circle class=B cx=1009.3 cy=340.6 r=3.1 />
<circle class=C cx=940.6 cy=332.4 r=3.1 />
<circle class=P cx=905 cy=341.8 r=3.1 />
<circle class=K cx=905.1 cy=354.7 r=3.1 />
<circle class=d cx=1036.8 cy=337.2 r=3.9 />
<circle class=Q cx=950.5 cy=340 r=3.1 />
<circle class=A cx=886.4 cy=346.1 r=3.1 />
<circle class=R cx=924.2 cy=352.4 r=3.1 />
<circle class=D cx=922 cy=318.2 r=3.1 />
<circle class=I cx=879.1 cy=328.7 r=3.1 />
<circle class=o cx=948.7 cy=325.5 r=3.9 />
<circle class=O cx=934.7 cy=321.9 r=3.1 />
<circle class=p cx=873.3 cy=347.6 r=3.9 />
<circle class=I cx=948.1 cy=334.9 r=3.1 />
<circle class=P cx=915.5 cy=352.8 r=3.1 />
<circle class=C cx=885.8 cy=330.3 r=3.1 />
<circle class=P cx=903.2 cy=334.7 r=3.1 />
<circle class=W cx=920.8 cy=337.1 r=3.1 />
<circle class=B cx=880.2 cy=326.5 r=3.1 />
<circle class=G cx=860 cy=343 r=3.1 />
<circle class=d cx=1014.4 cy=339 r=3.9 />
<circle class=A cx=1063.6 cy=340 r=3.1 />
<circle class=p cx=935.8 cy=322.1 r=3.9 />
<circle class=W cx=956.1 cy=345.6 r=3.1 />
<circle class=M cx=950.9 cy=347.1 r=3.1 />
<circle class=O cx=969.7 cy=331.1 r=3.1 />
<circle class=J cx=918.7 cy=339 r=3.1 />
<circle class=k cx=918.5 cy=319.5 r=3.9 />
<circle class=I cx=934.5 cy=328.6 r=3.1 />
<circle class=a cx=824.9 cy=337.1 r=3.9 />
<circle class=r cx=883.4 cy=349.4 r=3.9 />
<circle class=V cx=1012 cy=336.7 r=3.1 />
<circle class=K cx=898.5 cy=324.5 r=3.1 />
<circle class=E cx=920 cy=323.6 r=3.1 />
<circle class=R cx=871.6 cy=334.9 r=3.1 />
<circle class=D cx=866.2 cy=335.5 r=3.1 />
<circle class=O cx=925.7 cy=330.3 r=3.1 />
<circle class=R cx=917.6 cy=321.9 r=3.1 />
<circle class=C cx=918.4 cy=345.1 r=3.1 />
<circle class=A cx=922 cy=325 r=3.1 />
<circle class=E cx=943 cy=344.2 r=3.1 />
<circle class=U cx=958.2 cy=343.2 r=3.1 />
<circle class=D cx=887.8 cy=342.9 r=3.1 />
<circle class=q cx=842.1 cy=335.8 r=3.9 />
<circle class=C cx=917.3 cy=319.2 r=3.1 />
<circle class=N cx=901.7 cy=324.3 r=3.1 />
<circle class=E cx=899.2 cy=344.8 r=3.1 />
<circle class=E cx=908.1 cy=326.2 r=3.1 />
<circle class=B cx=1074.7 cy=338.3 r=3.1 />
<circle class=T cx=845.2 cy=340.8 r=3.1 />
<circle class=w cx=848.5 cy=340.8 r=3.9 />
<circle class=E cx=1049.7 cy=336.1 r=3.1 />
<circle class=W cx=973.9 cy=338.3 r=3.1 />
<circle class=D cx=928 cy=341.6 r=3.1 />
<circle class=U cx=960.2 cy=327.7 r=3.1 />
<circle class=A cx=840.8 cy=340.4 r=3.1 />
<circle class=V cx=981.1 cy=338.3 r=3.1 />
<circle class=B cx=934.6 cy=324.8 r=3.1 />
<circle class=Q cx=929.6 cy=334.7 r=3.1 />
<circle class=F cx=851.5 cy=338.3 r=3.1 />
<circle class=L cx=930.5 cy=331.1 r=3.1 />
<circle class=Q cx=916.3 cy=338.3 r=3.1 />
<circle class=d cx=1066.2 cy=337.8 r=3.9 />
<circle class=O cx=919.3 cy=328.6 r=3.1 />
<circle class=R cx=916.9 cy=355.6 r=3.1 />
<circle class=O cx=908.8 cy=342.8 r=3.1 />
<circle class=C cx=938.3 cy=349.1 r=3.1 />
<circle class=U cx=832.4 cy=337.7 r=3.1 />
<circle class=T cx=943.4 cy=353.1 r=3.1 />
<circle class=C cx=907.6 cy=340.5 r=3.1 />
<circle class=C cx=948 cy=340.8 r=3.1 />
<circle class=D cx=917.1 cy=351 r=3.1 />
<circle class=N cx=945.1 cy=338.3 r=3.1 />
<circle class=L cx=875.9 cy=327.3 r=3.1 />
<circle class=B cx=992.5 cy=334.6 r=3.1 />
<circle class=Q cx=966.7 cy=338.3 r=3.1 />
<circle class=Q cx=944.8 cy=345.7 r=3.1 />
<circle class=B cx=843 cy=336.2 r=3.1 />
<circle class=B cx=1037.1 cy=336 r=3.1 />
<circle class=u cx=975.8 cy=333.1 r=3.9 />
<circle class=Q cx=904.4 cy=325.8 r=3.1 />
<circle class=a cx=1007 cy=336.7 r=3.9 />
<circle class=K cx=949 cy=329.5 r=3.1 />
<circle class=M cx=869.5 cy=346.4 r=3.1 />
<circle class=S cx=914.7 cy=320.5 r=3.1 />
<circle class=V cx=1066 cy=336.4 r=3.1 />
<circle class=R cx=947.7 cy=345 r=3.1 />
<circle class=W cx=920.3 cy=330.9 r=3.1 />
<circle class=T cx=886.3 cy=349 r=3.1 />
<circle class=A cx=1002.7 cy=338.3 r=3.1 />
<circle class=A cx=905.6 cy=335.7 r=3.1 />
<circle class=d cx=954.2 cy=349.7 r=3.9 />
<circle class=Q cx=976.2 cy=344.5 r=3.1 />
<circle class=G cx=867.3 cy=344.5 r=3.1 />
<circle class=C cx=934.1 cy=331.2 r=3.1 />
<circle class=J cx=879.1 cy=341.6 r=3.1 />
<circle class=V cx=971.1 cy=338.5 r=3.1 />
<circle class=V cx=980.4 cy=335.5 r=3.1 />
<circle class=M cx=919.8 cy=352.3 r=3.1 />
<circle class=V cx=1024.3 cy=338.3 r=3.1 />
<circle class=i cx=855.1 cy=341.7 r=3.9 />
<circle class=J cx=856.7 cy=334.5 r=3.1 />
<circle class=u cx=942.8 cy=324 r=3.9 />
<circle class=K cx=947.5 cy=348.2 r=3.1 />
<circle class=B cx=1007.1 cy=339.4 r=3.1 />
<circle class=X cx=1001.2 cy=335.8 r=3.1 />
<circle class=c cx=895.2 cy=352 r=3.9 />
<circle class=I cx=878.7 cy=332.4 r=3.1 />
<circle class=S cx=1041.3 cy=336.6 r=3.1 />
<circle class=M cx=952.3 cy=338.3 r=3.1 />
<circle class=Q cx=923.2 cy=356.4 r=3.1 />
<circle class=D cx=1072.2 cy=336.9 r=3.1 />
<circle class=D cx=992.9 cy=341.3 r=3.1 />
<circle class=D cx=957 cy=338.8 r=3.1 />
<circle class=H cx=867.1 cy=346.9 r=3.1 />
<circle class=T cx=924.6 cy=342 r=3.1 />
<circle class=T cx=939 cy=346.7 r=3.1 />
<circle class=C cx=1000.1 cy=338.6 r=3.1 />
<circle class=C cx=859.6 cy=335.9 r=3.1 />
<circle class=K cx=910.5 cy=332.3 r=3.1 />
<circle class=P cx=930.6 cy=342.5 r=3.1 />
<circle class=A cx=1017.1 cy=338.3 r=3.1 />
<circle class=U cx=1053.1 cy=338.3 r=3.1 />
<circle class=p cx=848.9 cy=335.1 r=3.9 />
<circle class=O cx=988.3 cy=338.3 r=3.1 />
<circle class=B cx=1063 cy=336.6 r=3.1 />
<circle class=A cx=921.8 cy=343.1 r=3.1 />
<circle class=A cx=992.3 cy=338.2 r=3.1 />
<circle class=C cx=893.9 cy=332.9 r=3.1 />
<circle class=B cx=883.5 cy=337.1 r=3.1 />
<circle class=Q cx=955.7 cy=342.9 r=3.1 />
<circle class=p cx=977.2 cy=343 r=3.9 />
<circle class=B cx=958.9 cy=331.6 r=3.1 />
<circle class=A cx=905.5 cy=332.4 r=3.1 />
<circle class=B cx=945.8 cy=334.1 r=3.1 />
<circle class=T cx=818.2 cy=338.5 r=3.1 />
<circle class=A cx=1042.7 cy=338.9 r=3.1 />
<circle class=L cx=954.7 cy=333.3 r=3.1 />
<circle class=t cx=872.7 cy=329.7 r=3.9 />
<circle class=R cx=927.5 cy=328.5 r=3.1 />
<circle class=K cx=891.6 cy=344.2 r=3.1 />
<circle class=D cx=1018.4 cy=340.4 r=3.1 />
<circle class=C cx=995.7 cy=341 r=3.1 />
<circle class=C cx=1026.8 cy=336.5 r=3.1 />
<circle class=B cx=1069.9 cy=338.9 r=3.1 />
<circle class=W cx=963.1 cy=338.9 r=3.1 />
<circle class=R cx=845.6 cy=334.6 r=3.1 />
<circle class=K cx=895.6 cy=323.3 r=3.1 />
<circle class=E cx=868.7 cy=333.7 r=3.1 />
<circle class=C cx=898.7 cy=348.5 r=3.1 />
<circle class=J cx=873.5 cy=341.6 r=3.1 />
<circle class=R cx=888.6 cy=349.8 r=3.1 />
<circle class=C cx=912.8 cy=336.2 r=3.1 />
<circle class=E cx=869.4 cy=336.3 r=3.1 />
<circle class=L cx=888.6 cy=330.2 r=3.1 />
<circle class=Q cx=984.9 cy=339.8 r=3.1 />
<circle class=V cx=958.1 cy=329.3 r=3.1 />
<circle class=A cx=810.2 cy=340 r=3.1 />
<circle class=A cx=897.3 cy=346.5 r=3.1 />
<circle class=T cx=974.1 cy=343.3 r=3.1 />
<circle class=N cx=908.6 cy=347.3 r=3.1 />
<circle class=P cx=924.2 cy=322.1 r=3.1 />
<circle class=P cx=926 cy=356.2 r=3.1 />
<circle class=a cx=1013.8 cy=337.2 r=3.9 />
<circle class=Q cx=931.1 cy=323.4 r=3.1 />
<circle class=W cx=941.9 cy=347.7 r=3.1 />
<circle class=Q cx=914.3 cy=355.7 r=3.1 />
<circle class=K cx=878.5 cy=349.8 r=3.1 />
<circle class=W cx=1027 cy=338.9 r=3.1 />
<circle class=K cx=852.9 cy=342.8 r=3.1 />
<circle class=D cx=946.5 cy=324.8 r=3.1 />
<circle class=S cx=974.8 cy=340.8 r=3.1 />
<circle class=W cx=897.5 cy=342.9 r=3.1 />
<circle class=e cx=878 cy=327.9 r=3.9 />
<circle class=A cx=919.5 cy=358.1 r=3.1 />
<circle class=P cx=978.7 cy=342.1 r=3.1 />
<circle class=J cx=894.9 cy=345.7 r=3.1 />
<circle class=T cx=958.9 cy=335.7 r=3.1 />
<circle class=N cx=939.2 cy=326 r=3.1 />
<circle class=R cx=961.2 cy=330.1 r=3.1 />
<circle class=U cx=880 cy=347.8 r=3.1 />
<circle class=A cx=937.8 cy=353.1 r=3.1 />
<circle class=M cx=865.9 cy=338.3 r=3.1 />
<circle class=v cx=965.7 cy=346.3 r=3.9 />
<circle class=E cx=933.4 cy=347.7 r=3.1 />
<circle class=F cx=854 cy=338.1 r=3.1 />
<circle class=R cx=950.1 cy=343.1 r=3.1 />
<circle class=B cx=1021.5 cy=337.4 r=3.1 />
<circle class=B cx=891.7 cy=325.5 r=3.1 />
<circle class=C cx=937.1 cy=324.1 r=3.1 />
<circle class=R cx=986.8 cy=341.4 r=3.1 />
<circle class=W cx=874.3 cy=335 r=3.1 />
<circle class=C cx=919.4 cy=341.6 r=3.1 />
<circle class=V cx=907.8 cy=331.1 r=3.1 />
<circle class=V cx=836.5 cy=335.4 r=3.1 />
<circle class=u cx=1055.6 cy=337.7 r=3.9 />
<circle class=w cx=1024.7 cy=336.8 r=3.9 />
<circle class=R cx=956.2 cy=331.2 r=3.1 />
<circle class=R cx=837.1 cy=338.3 r=3.1 />
<circle class=V cx=962.5 cy=335.8 r=3.1 />
<circle class=O cx=911.7 cy=355 r=3.1 />
<circle class=b cx=918.9 cy=357 r=3.9 />
<circle class=C cx=963.1 cy=342.6 r=3.1 />
<circle class=U cx=958.8 cy=345.7 r=3.1 />
<circle class=P cx=888.8 cy=346.9 r=3.1 />
<circle class=b cx=1071.8 cy=338.7 r=3.9 />
<circle class=d cx=1019.1 cy=339.4 r=3.9 />
<circle class=N cx=954.8 cy=350.7 r=3.1 />
<circle class=b cx=995.9 cy=340.6 r=3.9 />
<circle class=N cx=918.4 cy=333.3 r=3.1 />
<circle class=Q cx=971.7 cy=341.6 r=3.1 />
<circle class=S cx=828.7 cy=340.4 r=3.1 />
<circle class=W cx=983.3 cy=334.7 r=3.1 />
<circle class=B cx=1067.5 cy=338.3 r=3.1 />
<circle class=T cx=850.4 cy=340.8 r=3.1 />
<circle class=u cx=969.9 cy=331.4 r=3.9 />
<circle class=P cx=935 cy=345.7 r=3.1 />
<circle class=D cx=1043.9 cy=336.6 r=3.1 />
<circle class=U cx=996.8 cy=335.6 r=3.1 />
<circle class=R cx=855.8 cy=343.6 r=3.1 />
<circle class=E cx=882.3 cy=347.1 r=3.1 />
<circle class=U cx=927.8 cy=325.1 r=3.1 />
<circle class=t cx=1030.5 cy=339.2 r=3.9 />
<circle class=e cx=1060.7 cy=338.9 r=3.9 />
<circle class=D cx=967.5 cy=343.6 r=3.1 />
<circle class=X cx=842.9 cy=341.9 r=3.1 />
<circle class=W cx=852.9 cy=340.4 r=3.1 />
<circle class=Q cx=938.5 cy=321.7 r=3.1 />
<circle class=M cx=910 cy=329.7 r=3.1 />
<circle class=R cx=872.1 cy=345.2 r=3.1 />
<circle class=u cx=1024.9 cy=339.5 r=3.9 />
<circle class=X cx=912 cy=321.5 r=3.1 />
<circle class=B cx=911.8 cy=343.5 r=3.1 />
<circle class=w cx=830.9 cy=337 r=3.9 />
<circle class=U cx=985.8 cy=336.3 r=3.1 />
<circle class=P cx=933.3 cy=336.3 r=3.1 />
<circle class=W cx=1049.6 cy=338.7 r=3.1 />
<circle class=A cx=897.1 cy=339.1 r=3.1 />
<circle class=B cx=916.4 cy=343.3 r=3.1 />
<circle class=V cx=825.7 cy=339.6 r=3.1 />
<circle class=X cx=966.8 cy=347.1 r=3.1 />
<circle class=W cx=968.9 cy=334.9 r=3.1 />
<circle class=L cx=920.3 cy=355.2 r=3.1 />
<circle class=E cx=923.3 cy=346.8 r=3.1 />
<circle class=X cx=956.3 cy=335.9 r=3.1 />
<circle class=Q cx=961.2 cy=345.5 r=3.1 />
<circle class=M cx=932.8 cy=320.2 r=3.1 />
<circle class=G cx=894.7 cy=326.1 r=3.1 />
<circle class=C cx=945.8 cy=329.2 r=3.1 />
<circle class=V cx=969 cy=345.9 r=3.1 />
<circle class=B cx=905.2 cy=322.3 r=3.1 />
<circle class=V cx=902.5 cy=354.6 r=3.1 />
<circle class=O cx=916.5 cy=328.6 r=3.1 />
<circle class=L cx=881.5 cy=335.5 r=3.1 />
<circle class=q cx=989.7 cy=335.8 r=3.9 />
<circle class=W cx=1060.3 cy=338.3 r=3.1 />
<circle class=I cx=874.8 cy=345.6 r=3.1 />
<circle class=P cx=834.8 cy=337.4 r=3.1 />
<circle class=O cx=937.8 cy=328.6 r=3.1 />
<circle class=S cx=935.7 cy=349.3 r=3.1 />
<circle class=C cx=937.9 cy=338.3 r=3.1 />
<circle class=E cx=889.8 cy=334.7 r=3.1 />
<circle class=C cx=942.1 cy=326.6 r=3.1 />
<circle class=N cx=925.8 cy=326.7 r=3.1 />
<circle class=A cx=860 cy=333 r=3.1 />
<circle class=K cx=893.4 cy=349.7 r=3.1 />
<circle class=C cx=844.3 cy=338.3 r=3.1 />
<circle class=U cx=972.8 cy=335.6 r=3.1 />
<circle class=R cx=948.1 cy=332 r=3.1 />
<circle class=E cx=835.3 cy=341.1 r=3.1 />
<circle class=b cx=829.3 cy=339.2 r=3.9 />
<circle class=A cx=882 cy=341 r=3.1 />
<circle class=v cx=1059.9 cy=337.3 r=3.9 />
<circle class=R cx=975.6 cy=332.8 r=3.1 />
<circle class=m cx=854.5 cy=334.4 r=3.9 />
<circle class=G cx=861.4 cy=340.7 r=3.1 />
<circle class=v cx=1055.5 cy=339 r=3.9 />
<circle class=T cx=882.2 cy=332.3 r=3.1 />
<circle class=b cx=901 cy=323.3 r=3.9 />
<circle class=d cx=808.3 cy=338.3 r=3.9 />
<circle class=P cx=1034 cy=336.2 r=3.1 />
<circle class=m cx=931.4 cy=321.1 r=3.9 />
<circle class=O cx=892.5 cy=335.6 r=3.1 />
<circle class=K cx=919 cy=349.3 r=3.1 />
<circle class=w cx=836.6 cy=336.5 r=3.9 />
<circle class=T cx=988.4 cy=335 r=3.1 />
<circle class=A cx=858.7 cy=338.3 r=3.1 />
<circle class=S cx=856.4 cy=337 r=3.1 />
<circle class=S cx=914 cy=323.2 r=3.1 />
<circle class=n cx=902.3 cy=353.5 r=3.9 />
<circle class=r cx=812.6 cy=339.4 r=3.9 />
<circle class=F cx=885.5 cy=341.6 r=3.1 />
<circle class=P cx=940.3 cy=353.9 r=3.1 />
<circle class=L cx=945.5 cy=331.7 r=3.1 />
<circle class=A cx=839.4 cy=336.9 r=3.1 />
<circle class=J cx=927.1 cy=347 r=3.1 />
<circle class=C cx=952.9 cy=325.1 r=3.1 />
<circle class=T cx=982.5 cy=343.4 r=3.1 />
<circle class=q cx=1048.7 cy=339.2 r=3.9 />
<circle class=U cx=908.3 cy=350.4 r=3.1 />
<circle class=l cx=861 cy=344 r=3.9 />
<circle class=S cx=904.3 cy=338.9 r=3.1 />
<circle class=V cx=936.2 cy=336.3 r=3.1 />
<circle class=K cx=926.5 cy=344.1 r=3.1 />
<circle class=X cx=968.8 cy=341.1 r=3.1 />
<circle class=e cx=960.5 cy=328.7 r=3.9 />
<circle class=w cx=1049.2 cy=337.3 r=3.9 />
<circle class=P cx=884.9 cy=326.6 r=3.1 />
<circle class=x cx=817.7 cy=339.5 r=3.9 />
<circle class=b cx=818.7 cy=337.6 r=3.9 />
<circle class=u cx=1019.3 cy=337.2 r=3.9 />
<circle class=V cx=944.7 cy=341.3 r=3.1 />
<circle class=C cx=887 cy=332.4 r=3.1 />
<circle class=C cx=881.6 cy=329.9 r=3.1 />
<circle class=C cx=876.3 cy=340.3 r=3.1 />
<circle class=K cx=876.7 cy=347.9 r=3.1 />
<circle class=C cx=831.5 cy=340.4 r=3.1 />
<circle class=S cx=972.8 cy=332.2 r=3.1 />
<circle class=E cx=893.3 cy=328.6 r=3.1 />
<circle class=A cx=950.6 cy=351.8 r=3.1 />
<circle class=V cx=908.2 cy=354.3 r=3.1 />
<circle class=P cx=1045.9 cy=338.3 r=3.1 />
<circle class=U cx=1007.7 cy=336.5 r=3.1 />
<circle class=P cx=953.2 cy=335.4 r=3.1 />
<circle class=C cx=977.2 cy=339.2 r=3.1 />
<circle class=U cx=906.5 cy=338 r=3.1 />
<circle class=I cx=948.3 cy=326.4 r=3.1 />
<circle class=X cx=870.8 cy=328.6 r=3.1 />
<circle class=q cx=942.1 cy=353 r=3.9 />
<circle class=C cx=817.2 cy=336.3 r=3.1 />
<circle class=B cx=904.6 cy=349.5 r=3.1 />
<circle class=M cx=933.2 cy=339.5 r=3.1 />
<circle class=s cx=970 cy=344.4 r=3.9 />
<circle class=P cx=892.5 cy=330.8 r=3.1 />
<circle class=Q cx=926.8 cy=335.7 r=3.1 />
<circle class=P cx=863.4 cy=335 r=3.1 />
<circle class=T cx=890.1 cy=328.2 r=3.1 />
<circle class=J cx=936.5 cy=326.5 r=3.1 />
<circle class=J cx=917.1 cy=347.7 r=3.1 />
<circle class=X cx=965.8 cy=341.6 r=3.1 />
<circle class=B cx=909.4 cy=322.8 r=3.1 />
<circle class=Q cx=1057.8 cy=337.5 r=3.1 />
<circle class=M cx=944.8 cy=348.7 r=3.1 />
<circle class=P cx=906.2 cy=344.7 r=3.1 />
<circle class=W cx=1038.7 cy=338.3 r=3.1 />
<circle class=V cx=862.9 cy=344.3 r=3.1 />
<circle class=N cx=918.2 cy=336.1 r=3.1 />
<circle class=D cx=901.2 cy=346.8 r=3.1 />
<circle class=N cx=929.5 cy=356.3 r=3.1 />
<circle class=O cx=887.5 cy=338.3 r=3.1 />
<circle class=p cx=884.7 cy=326.5 r=3.9 />
<circle class=u cx=865.5 cy=345.7 r=3.9 />
<circle class=D cx=916.3 cy=340.7 r=3.1 />
<circle class=G cx=884.8 cy=334.6 r=3.1 />
<circle class=K cx=950.8 cy=336 r=3.1 />
<circle class=R cx=941 cy=342.5 r=3.1 />
<circle class=Q cx=912.7 cy=329.9 r=3.1 />
<circle class=T cx=882.8 cy=350.4 r=3.1 />
<circle class=L cx=908.2 cy=335 r=3.1 />
<circle class=R cx=943.4 cy=323.6 r=3.1 />
<circle class=V cx=1030.1 cy=336.2 r=3.1 />
<circle class=U cx=829.9 cy=338.3 r=3.1 />
<circle class=K cx=901.9 cy=338.3 r=3.1 />
<circle class=D cx=893.7 cy=341.3 r=3.1 />
<circle class=c cx=1000.5 cy=336.4 r=3.9 />
<circle class=C cx=960.8 cy=341.1 r=3.1 />
<circle class=B cx=880.3 cy=338.3 r=3.1 />
<circle class=C cx=896.9 cy=334.3 r=3.1 />
<circle class=v cx=1103 cy=338.3 r=3.9 />
<circle class=a cx=1115.8 cy=338.3 r=3.9 />
<circle class=u cx=1091 cy=338.3 r=3.9 />
<circle class=v cx=1149.7 cy=338.3 r=3.9 />
<circle class=a cx=1130.7 cy=338.3 r=3.9 />
<circle class=u cx=1097 cy=338.3 r=3.9 />
<circle class=w cx=1109 cy=338.3 r=3.9 />
<circle class=z cx=784 cy=388.8 r=3.9 />
<circle class=Y cx=875.1 cy=383.2 r=3.1 />
<circle class=y cx=1033.6 cy=388.8 r=3.9 />
<circle class=Z cx=880.7 cy=397.1 r=3.1 />
<circle class=Y cx=919.3 cy=382.7 r=3.1 />
<circle class=Y cx=942.6 cy=380.5 r=3.1 />
<circle class=Y cx=933.4 cy=398.2 r=3.1 />
<circle class=Y cx=857.3 cy=395.4 r=3.1 />
<circle class=Y cx=800.6 cy=390.5 r=3.1 />
<circle class=Y cx=931.9 cy=405.6 r=3.1 />
<circle class=Z cx=795 cy=388.3 r=3.1 />
<circle class=Y cx=940.9 cy=397.4 r=3.1 />
<circle class=Z cx=941 cy=402.3 r=3.1 />
<circle class=Y cx=942.1 cy=404.5 r=3.1 />
<circle class=z cx=957 cy=400.6 r=3.9 />
<circle class=Z cx=958.1 cy=392.2 r=3.1 />
<circle class=y cx=1003.2 cy=386.1 r=3.9 />
<circle class=Z cx=877.1 cy=392.5 r=3.1 />
<circle class=Z cx=871.8 cy=392.2 r=3.1 />
<circle class=Z cx=943.3 cy=386.5 r=3.1 />
<circle class=Y cx=981.8 cy=394.9 r=3.1 />
<circle class=Y cx=838.9 cy=391 r=3.1 />
<circle class=Z cx=978.3 cy=393.4 r=3.1 />
<circle class=Y cx=984.9 cy=392.6 r=3.1 />
<circle class=Y cx=881.9 cy=380 r=3.1 />
<circle class=Z cx=947.6 cy=387 r=3.1 />
<circle class=Y cx=829.5 cy=386.5 r=3.1 />
<circle class=Z cx=916.4 cy=385.4 r=3.1 />
<circle class=Y cx=1032.3 cy=389.2 r=3.1 />
<circle class=Z cx=970.4 cy=379.4 r=3.1 />
<circle class=Z cx=917.9 cy=400.3 r=3.1 />
<circle class=Y cx=872.7 cy=385 r=3.1 />
<circle class=z cx=844.7 cy=391.7 r=3.9 />
<circle class=y cx=944.5 cy=374.8 r=3.9 />
<circle class=Z cx=953.7 cy=401.3 r=3.1 />
<circle class=Y cx=866.8 cy=379.9 r=3.1 />
<circle class=Z cx=928.3 cy=401.3 r=3.1 />
<circle class=Z cx=933.3 cy=400.7 r=3.1 />
<circle class=Z cx=895.4 cy=384.1 r=3.1 />
<circle class=Z cx=916.2 cy=396.2 r=3.1 />
<circle class=Y cx=861.9 cy=394.5 r=3.1 />
<circle class=Z cx=924.3 cy=402.3 r=3.1 />
<circle class=Y cx=968 cy=387.4 r=3.1 />
<circle class=Y cx=944.7 cy=377.2 r=3.1 />
<circle class=Y cx=909.6 cy=405.8 r=3.1 />
<circle class=Y cx=898.3 cy=381.6 r=3.1 />
<circle class=Z cx=892.4 cy=395.4 r=3.1 />
<circle class=Y cx=908.2 cy=380 r=3.1 />
<circle class=Y cx=1023.9 cy=390.2 r=3.1 />
<circle class=Z cx=888.6 cy=397.6 r=3.1 />
<circle class=z cx=855.3 cy=384 r=3.9 />
<circle class=Z cx=957.4 cy=376.2 r=3.1 />
<circle class=Z cx=938.6 cy=398.8 r=3.1 />
<circle class=Z cx=931.3 cy=383.4 r=3.1 />
<circle class=Y cx=873 cy=388.8 r=3.1 />
<circle class=Z cx=873.2 cy=381.5 r=3.1 />
<circle class=y cx=1015.4 cy=390.4 r=3.9 />
<circle class=Y cx=809.2 cy=388.8 r=3.1 />
<circle class=Z cx=1017.4 cy=389.8 r=3.1 />
<circle class=Z cx=967.3 cy=383.1 r=3.1 />
<circle class=Y cx=907.5 cy=376.4 r=3.1 />
<circle class=Z cx=959.3 cy=381.5 r=3.1 />
<circle class=Z cx=973.8 cy=381.9 r=3.1 />
<circle class=Z cx=970.9 cy=394.8 r=3.1 />
<circle class=Z cx=975 cy=391.6 r=3.1 />
<circle class=Y cx=982.1 cy=387.1 r=3.1 />
<circle class=Y cx=890.7 cy=399.1 r=3.1 />
<circle class=Y cx=1021.7 cy=388.8 r=3.1 />
<circle class=z cx=962.7 cy=398.9 r=3.9 />
<circle class=y cx=1039.9 cy=389.6 r=3.9 />
<circle class=Z cx=927.9 cy=375.4 r=3.1 />
<circle class=Y cx=962.3 cy=380 r=3.1 />
<circle class=Y cx=810.7 cy=390.8 r=3.1 />
<circle class=Z cx=1043.3 cy=388.8 r=3.1 />
<circle class=y cx=831.9 cy=390.2 r=3.9 />
<circle class=Z cx=831.8 cy=390.6 r=3.1 />
<circle class=Z cx=996.5 cy=390.8 r=3.1 />
<circle class=Z cx=977.4 cy=391.1 r=3.1 />
<circle class=Z cx=879.4 cy=384.9 r=3.1 />
<circle class=Z cx=937.1 cy=383.9 r=3.1 />
<circle class=Z cx=891.1 cy=386.3 r=3.1 />
<circle class=Z cx=867.1 cy=389.9 r=3.1 />
<circle class=Z cx=904 cy=392.5 r=3.1 />
<circle class=Z cx=853.6 cy=388.5 r=3.1 />
<circle class=Y cx=803.3 cy=389.5 r=3.1 />
<circle class=Y cx=924.1 cy=405.9 r=3.1 />
<circle class=Y cx=935 cy=385.4 r=3.1 />
<circle class=Y cx=887.5 cy=382.1 r=3.1 />
<circle class=Y cx=839.5 cy=386.7 r=3.1 />
<circle class=Y cx=956.9 cy=399.8 r=3.1 />
<circle class=Z cx=992.9 cy=388.8 r=3.1 />
<circle class=Y cx=912.2 cy=406.6 r=3.1 />
<circle class=Y cx=948.9 cy=377.9 r=3.1 />
<circle class=Y cx=883.5 cy=394.8 r=3.1 />
<circle class=Z cx=917.1 cy=393.6 r=3.1 />
<circle class=y cx=836.8 cy=386.8 r=3.9 />
<circle class=y cx=950.8 cy=401.8 r=3.9 />
<circle class=Y cx=861.7 cy=385.6 r=3.1 />
<circle class=Y cx=959.2 cy=394.5 r=3.1 />
<circle class=Y cx=922.5 cy=383.7 r=3.1 />
<circle class=Z cx=910.4 cy=394.7 r=3.1 />
<circle class=y cx=899.5 cy=373.9 r=3.9 />
<circle class=Z cx=890.2 cy=380.2 r=3.1 />
<circle class=Y cx=927 cy=403.7 r=3.1 />
<circle class=Z cx=920.6 cy=402.6 r=3.1 />
<circle class=Y cx=920.9 cy=388.8 r=3.1 />
<circle class=y cx=963.8 cy=379.1 r=3.9 />
<circle class=Z cx=823.2 cy=389 r=3.1 />
<circle class=Y cx=948.8 cy=394.9 r=3.1 />
<circle class=Y cx=846.5 cy=392.5 r=3.1 />
<circle class=Y cx=877.9 cy=397.5 r=3.1 />
<circle class=y cx=836.9 cy=390.8 r=3.9 />
<circle class=Z cx=798.5 cy=388.8 r=3.1 />
<circle class=Y cx=855.8 cy=385.9 r=3.1 />
<circle class=Y cx=902 cy=397.1 r=3.1 />
<circle class=Y cx=947.1 cy=391 r=3.1 />
<circle class=Z cx=877.7 cy=388.8 r=3.1 />
<circle class=Y cx=864 cy=391.3 r=3.1 />
<circle class=Z cx=894.7 cy=398.7 r=3.1 />
<circle class=Z cx=906.3 cy=402.9 r=3.1 />
<circle class=Y cx=936.2 cy=391.7 r=3.1 />
<circle class=Y cx=930.2 cy=394.9 r=3.1 />
<circle class=Y cx=901.7 cy=399.9 r=3.1 />
<circle class=Z cx=953.7 cy=376.9 r=3.1 />
<circle class=Y cx=902 cy=387.7 r=3.1 />
<circle class=Y cx=876.9 cy=399.7 r=3.1 />
<circle class=Z cx=936.2 cy=372.8 r=3.1 />
<circle class=Y cx=918.8 cy=374.5 r=3.1 />
<circle class=Z cx=910.5 cy=374.7 r=3.1 />
<circle class=Y cx=900.4 cy=385.2 r=3.1 />
<circle class=Z cx=1004.3 cy=389.3 r=3.1 />
<circle class=Y cx=973.6 cy=386.2 r=3.1 />
<circle class=y cx=820 cy=388.2 r=3.9 />
<circle class=Y cx=926.1 cy=392.9 r=3.1 />
<circle class=Z cx=1008.9 cy=390.9 r=3.1 />
<circle class=y cx=826.3 cy=389.4 r=3.9 />
<circle class=Z cx=1000.1 cy=388.8 r=3.1 />
<circle class=Y cx=827.3 cy=388.8 r=3.1 />
<circle class=z cx=820.4 cy=389.5 r=3.9 />
<circle class=Z cx=946.9 cy=398.2 r=3.1 />
<circle class=Z cx=881.8 cy=391.3 r=3.1 />
<circle class=Z cx=1003.3 cy=392.3 r=3.1 />
<circle class=Y cx=953.6 cy=390 r=3.1 />
<circle class=Y cx=869.4 cy=395.4 r=3.1 />
<circle class=Y cx=912.9 cy=375.3 r=3.1 />
<circle class=Y cx=919.1 cy=387 r=3.1 />
<circle class=Z cx=938 cy=375.5 r=3.1 />
<circle class=Z cx=921.4 cy=373.4 r=3.1 />
<circle class=Z cx=919.8 cy=370.8 r=3.1 />
<circle class=Y cx=917.2 cy=372.5 r=3.1 />
<circle class=Y cx=870.2 cy=383.3 r=3.1 />
<circle class=y cx=1027.2 cy=388.7 r=3.9 />
<circle class=Y cx=889.4 cy=395 r=3.1 />
<circle class=Z cx=944.5 cy=391.9 r=3.1 />
<circle class=Y cx=932.6 cy=395.6 r=3.1 />
<circle class=Y cx=965.7 cy=378.5 r=3.1 />
<circle class=Y cx=895.6 cy=376.8 r=3.1 />
<circle class=Y cx=906.3 cy=385.7 r=3.1 />
<circle class=Y cx=888.9 cy=389.2 r=3.1 />
<circle class=Y cx=902.3 cy=390.4 r=3.1 />
<circle class=y cx=974.4 cy=381.1 r=3.9 />
<circle class=z cx=980.1 cy=382.5 r=3.9 />
<circle class=z cx=992.4 cy=384.7 r=3.9 />
<circle class=Y cx=851.4 cy=387.2 r=3.1 />
<circle class=Z cx=959.6 cy=388.6 r=3.1 />
<circle class=Z cx=901.4 cy=382.8 r=3.1 />
<circle class=Z cx=907.2 cy=405.1 r=3.1 />
<circle class=Y cx=859.4 cy=392.1 r=3.1 />
<circle class=Y cx=865.6 cy=387.2 r=3.1 />
<circle class=Y cx=892.9 cy=380.3 r=3.1 />
<circle class=y cx=911.5 cy=405.6 r=3.9 />
<circle class=Z cx=814.3 cy=390.8 r=3.1 />
<circle class=y cx=791.3 cy=388.7 r=3.9 />
<circle class=Z cx=844.9 cy=389.8 r=3.1 />
<circle class=Z cx=914.7 cy=393.5 r=3.1 />
<circle class=Y cx=942.4 cy=400.2 r=3.1 />
<circle class=Z cx=881.1 cy=401 r=3.1 />
<circle class=Z cx=943.9 cy=395.6 r=3.1 />
<circle class=Z cx=912.8 cy=386.2 r=3.1 />
<circle class=Y cx=956.9 cy=396.8 r=3.1 />
<circle class=Z cx=930.4 cy=381 r=3.1 />
<circle class=Z cx=935.3 cy=388.8 r=3.1 />
<circle class=Y cx=883.6 cy=397.6 r=3.1 />
<circle class=Y cx=896.6 cy=401.7 r=3.1 />
<circle class=z cx=934.8 cy=374 r=3.9 />
<circle class=Z cx=912.6 cy=400.2 r=3.1 />
<circle class=Y cx=945.2 cy=385 r=3.1 />
<circle class=Z cx=946.7 cy=393.6 r=3.1 />
<circle class=Z cx=954.3 cy=385.1 r=3.1 />
<circle class=Z cx=933.1 cy=372.7 r=3.1 />
<circle class=z cx=813.8 cy=389.7 r=3.9 />
<circle class=Z cx=938.6 cy=401.5 r=3.1 />
<circle class=Y cx=807.5 cy=387.1 r=3.1 />
<circle class=Z cx=1007.3 cy=388.8 r=3.1 />
<circle class=Y cx=1036.1 cy=388.8 r=3.1 />
<circle class=Z cx=910.7 cy=392.4 r=3.1 />
<circle class=Z cx=927.6 cy=384.6 r=3.1 />
<circle class=Z cx=969.1 cy=391.2 r=3.1 />
<circle class=Z cx=864.4 cy=397 r=3.1 />
<circle class=Z cx=878.1 cy=381.1 r=3.1 />
<circle class=Z cx=910.4 cy=398.7 r=3.1 />
<circle class=Y cx=985 cy=386.2 r=3.1 />
<circle class=y cx=905.6 cy=404.4 r=3.9 />
<circle class=Y cx=889.3 cy=383.9 r=3.1 />
<circle class=Y cx=881.9 cy=384.9 r=3.1 />
<circle class=y cx=904.9 cy=373.5 r=3.9 />
<circle class=Z cx=851.5 cy=394 r=3.1 />
<circle class=Z cx=966.3 cy=397.3 r=3.1 />
<circle class=z cx=969.4 cy=379.9 r=3.9 />
<circle class=Z cx=933 cy=389.4 r=3.1 />
<circle class=Y cx=846.9 cy=384.4 r=3.1 />
<circle class=Z cx=884.8 cy=385.6 r=3.1 />
<circle class=z cx=998.4 cy=391.8 r=3.9 />
<circle class=Z cx=928.4 cy=405.8 r=3.1 />
<circle class=Z cx=944.7 cy=403.3 r=3.1 />
<circle class=Z cx=933 cy=392.4 r=3.1 />
<circle class=y cx=808.4 cy=389 r=3.9 />
<circle class=Z cx=990.9 cy=386.4 r=3.1 />
<circle class=Z cx=925.5 cy=375 r=3.1 />
<circle class=Z cx=915.8 cy=374.6 r=3.1 />
<circle class=Z cx=955.5 cy=391.7 r=3.1 />
<circle class=Y cx=909.6 cy=382.5 r=3.1 />
<circle class=Y cx=855.7 cy=383.1 r=3.1 />
<circle class=Z cx=959.2 cy=400.7 r=3.1 />
<circle class=Y cx=956.2 cy=380.2 r=3.1 />
<circle class=Z cx=946.1 cy=382.7 r=3.1 />
<circle class=Z cx=965.8 cy=392.4 r=3.1 />
<circle class=Z cx=987.7 cy=385.5 r=3.1 />
<circle class=Z cx=1034.2 cy=387.3 r=3.1 />
<circle class=Y cx=879.4 cy=391 r=3.1 />
<circle class=Y cx=915 cy=383.1 r=3.1 />
<circle class=Y cx=903.2 cy=385 r=3.1 />
<circle class=Y cx=842.9 cy=391.4 r=3.1 />
<circle class=Z cx=912.1 cy=383.6 r=3.1 />
<circle class=z cx=1009.9 cy=386.8 r=3.9 />
<circle class=Y cx=854.1 cy=393.7 r=3.1 />
<circle class=Y cx=917.8 cy=389.4 r=3.1 />
<circle class=y cx=871.6 cy=398.2 r=3.9 />
<circle class=Z cx=923.8 cy=393.7 r=3.1 />
<circle class=Z cx=899.1 cy=393.1 r=3.1 />
<circle class=Z cx=999.5 cy=391.5 r=3.1 />
<circle class=Y cx=885 cy=380.1 r=3.1 />
<circle class=z cx=986.7 cy=393.4 r=3.9 />
<circle class=Y cx=873.3 cy=395.3 r=3.1 />
<circle class=y cx=850.4 cy=384.7 r=3.9 />
<circle class=Z cx=910.6 cy=377.5 r=3.1 />
<circle class=Y cx=1028.9 cy=388.8 r=3.1 />
<circle class=Y cx=907 cy=372.2 r=3.1 />
<circle class=Z cx=933.8 cy=381.2 r=3.1 />
<circle class=y cx=791.3 cy=388.8 r=3.9 />
<circle class=Z cx=925.1 cy=372.6 r=3.1 />
<circle class=Y cx=884.9 cy=391.6 r=3.1 />
<circle class=Y cx=851 cy=383.7 r=3.1 />
<circle class=Y cx=939.6 cy=372.9 r=3.1 />
<circle class=Y cx=835.8 cy=391.2 r=3.1 />
<circle class=Z cx=883.9 cy=377.4 r=3.1 />
<circle class=Z cx=908.6 cy=401.6 r=3.1 />
<circle class=Y cx=929.6 cy=397.6 r=3.1 />
<circle class=y cx=883 cy=400.4 r=3.9 />
<circle class=Z cx=935.2 cy=402.2 r=3.1 />
<circle class=Z cx=962.5 cy=377.6 r=3.1 />
<circle class=Z cx=988.8 cy=387.7 r=3.1 />
<circle class=Y cx=875.9 cy=378.9 r=3.1 />
<circle class=Y cx=938.9 cy=394.5 r=3.1 />
<circle class=Y cx=891.2 cy=375 r=3.1 />
<circle class=Y cx=994.5 cy=392.3 r=3.1 />
<circle class=Y cx=912.2 cy=402.7 r=3.1 />
<circle class=Y cx=911.9 cy=381.1 r=3.1 />
<circle class=Z cx=976.1 cy=388.7 r=3.1 />
<circle class=Y cx=866.2 cy=394.9 r=3.1 />
<circle class=Z cx=922 cy=386.1 r=3.1 />
<circle class=Y cx=870.4 cy=386.3 r=3.1 />
<circle class=Y cx=846.9 cy=387.1 r=3.1 />
<circle class=Z cx=951.2 cy=384.5 r=3.1 />
<circle class=Y cx=898.4 cy=404.4 r=3.1 />
<circle class=Y cx=959.7 cy=377.6 r=3.1 />
<circle class=Y cx=836.6 cy=385.6 r=3.1 />
<circle class=Y cx=933.3 cy=375.4 r=3.1 />
<circle class=Y cx=897.2 cy=374.1 r=3.1 />
<circle class=Y cx=987.7 cy=394.7 r=3.1 />
<circle class=Z cx=923.4 cy=398.1 r=3.1 />
<circle class=Z cx=895.5 cy=387.5 r=3.1 />
<circle class=Z cx=970.5 cy=386.3 r=3.1 />
<circle class=Z cx=882.6 cy=382.5 r=3.1 />
<circle class=y cx=916.3 cy=406.4 r=3.9 />
<circle class=Y cx=820.1 cy=388.8 r=3.1 />
<circle class=Z cx=1013.2 cy=386.7 r=3.1 />
<circle class=Z cx=903.9 cy=398.5 r=3.1 />
<circle class=Z cx=868.1 cy=387.4 r=3.1 />
<circle class=Z cx=902.8 cy=376.6 r=3.1 />
<circle class=Z cx=841.7 cy=388.8 r=3.1 />
<circle class=Y cx=831.3 cy=388.2 r=3.1 />
<circle class=Y cx=925.9 cy=386.5 r=3.1 />
<circle class=Z cx=946 cy=400.6 r=3.1 />
<circle class=z cx=1010.1 cy=390.6 r=3.9 />
<circle class=Y cx=921.4 cy=406.1 r=3.1 />
<circle class=z cx=940.8 cy=403.2 r=3.9 />
<circle class=Y cx=906.5 cy=399.8 r=3.1 />
<circle class=Z cx=937.5 cy=380.6 r=3.1 />
<circle class=Y cx=912.8 cy=396.8 r=3.1 />
<circle class=Z cx=928.3 cy=373 r=3.1 />
<circle class=z cx=1049.7 cy=388.6 r=3.9 />
<circle class=Y cx=861.5 cy=390.4 r=3.1 />
<circle class=z cx=979.8 cy=394.7 r=3.9 />
<circle class=Z cx=922.1 cy=391.8 r=3.1 />
<circle class=Z cx=935 cy=404.9 r=3.1 />
<circle class=Z cx=920.9 cy=399.6 r=3.1 />
<circle class=Y cx=898.7 cy=396.3 r=3.1 />
<circle class=Z cx=887.6 cy=377.9 r=3.1 />
<circle class=Z cx=913.7 cy=388.8 r=3.1 />
<circle class=Z cx=893.6 cy=386 r=3.1 />
<circle class=Y cx=895.9 cy=404 r=3.1 />
<circle class=Z cx=954.1 cy=398.8 r=3.1 />
<circle class=Z cx=1003 cy=386.4 r=3.1 />
<circle class=Z cx=941.8 cy=383.6 r=3.1 />
<circle class=Y cx=904.9 cy=395.5 r=3.1 />
<circle class=Y cx=885.3 cy=399.8 r=3.1 />
<circle class=Z cx=907.5 cy=397.4 r=3.1 />
<circle class=Z cx=932.9 cy=403.3 r=3.1 />
<circle class=Z cx=1006.2 cy=385.6 r=3.1 />
<circle class=Y cx=951.6 cy=378.9 r=3.1 />
<circle class=Z cx=888.4 cy=402.1 r=3.1 />
<circle class=Y cx=863.3 cy=388.8 r=3.1 />
<circle class=Y cx=891.3 cy=402.5 r=3.1 />
<circle class=Z cx=932.1 cy=386 r=3.1 />
<circle class=Y cx=872.4 cy=378.6 r=3.1 />
<circle class=y cx=1026.6 cy=389 r=3.9 />
<circle class=Z cx=910 cy=388 r=3.1 />
<circle class=Z cx=915.2 cy=398.5 r=3.1 />
<circle class=Y cx=892.1 cy=388.8 r=3.1 />
<circle class=Y cx=904.4 cy=374.1 r=3.1 />
<circle class=y cx=843.7 cy=385.7 r=3.9 />
<circle class=Z cx=894 cy=374.1 r=3.1 />
<circle class=Z cx=1016.9 cy=387.4 r=3.1 />
<circle class=Z cx=825.2 cy=390.4 r=3.1 />
<circle class=Z cx=817 cy=390.6 r=3.1 />
<circle class=Z cx=893.2 cy=392.8 r=3.1 />
<circle class=Z cx=940.4 cy=386.7 r=3.1 />
<circle class=Z cx=979.5 cy=385.7 r=3.1 />
<circle class=Y cx=866.4 cy=382.5 r=3.1 />
<circle class=Z cx=990 cy=391.8 r=3.1 />
<circle class=Y cx=912.4 cy=372.9 r=3.1 />
<circle class=Z cx=876.6 cy=395.3 r=3.1 />
<circle class=Y cx=867.7 cy=398 r=3.1 />
<circle class=Y cx=859.7 cy=387.7 r=3.1 />
<circle class=z cx=911.8 cy=372.5 r=3.9 />
<circle class=Z cx=928.1 cy=388.8 r=3.1 />
<circle class=z cx=1034 cy=388.6 r=3.9 />
<circle class=Z cx=953.5 cy=387.5 r=3.1 />
<circle class=Z cx=836.9 cy=388 r=3.1 />
<circle class=Z cx=973.8 cy=397.3 r=3.1 />
<circle class=Y cx=848.9 cy=388.8 r=3.1 />
<circle class=Z cx=945.5 cy=388.6 r=3.1 />
<circle class=Y cx=1046.8 cy=388 r=3.1 />
<circle class=Z cx=972.5 cy=391 r=3.1 />
<circle class=Y cx=985.1 cy=395.1 r=3.1 />
<circle class=Y cx=956.8 cy=385.5 r=3.1 />
<circle class=Y cx=916.1 cy=377.7 r=3.1 />
<circle class=Y cx=949.7 cy=388.8 r=3.1 />
<circle class=Z cx=982.8 cy=389.5 r=3.1 />
<circle class=Y cx=858.7 cy=384.7 r=3.1 />
<circle class=y cx=917.3 cy=371.3 r=3.9 />
<circle class=y cx=872.7 cy=379.5 r=3.9 />
<circle class=Y cx=829.5 cy=391 r=3.1 />
<circle class=Z cx=925.7 cy=378.3 r=3.1 />
<circle class=Z cx=893.9 cy=401.7 r=3.1 />
<circle class=Z cx=962.5 cy=395 r=3.1 />
<circle class=Z cx=934.8 cy=394.2 r=3.1 />
<circle class=Y cx=805.7 cy=388.8 r=3.1 />
<circle class=Y cx=884.9 cy=388.8 r=3.1 />
<circle class=Y cx=899.3 cy=388.8 r=3.1 />
<circle class=Z cx=954.5 cy=382.3 r=3.1 />
<circle class=Y cx=880.8 cy=377.8 r=3.1 />
<circle class=Z cx=950.4 cy=375.1 r=3.1 />
<circle class=Y cx=950.7 cy=399.2 r=3.1 />
<circle class=Z cx=987.5 cy=392 r=3.1 />
<circle class=Y cx=869.8 cy=380.3 r=3.1 />
<circle class=Z cx=944.5 cy=398.2 r=3.1 />
<circle class=Y cx=1038.2 cy=390.5 r=3.1 />
<circle class=Z cx=964.1 cy=398.9 r=3.1 />
<circle class=Z cx=901.6 cy=374 r=3.1 />
<circle class=Z cx=961.3 cy=385.4 r=3.1 />
<circle class=Y cx=899.7 cy=401.6 r=3.1 />
<circle class=Y cx=948 cy=375.3 r=3.1 />
<circle class=z cx=883.1 cy=377.8 r=3.9 />
<circle class=y cx=968.2 cy=397.1 r=3.9 />
<circle class=Z cx=971.3 cy=388.8 r=3.1 />
<circle class=Z cx=982.5 cy=381.8 r=3.1 />
<circle class=Z cx=924.3 cy=390.2 r=3.1 />
<circle class=Y cx=1011.5 cy=390.3 r=3.1 />
<circle class=Z cx=1014.5 cy=388.8 r=3.1 />
<circle class=Z cx=849.8 cy=391.1 r=3.1 />
<circle class=Y cx=801.1 cy=387.7 r=3.1 />
<circle class=Y cx=919.6 cy=392.8 r=3.1 />
<circle class=Y cx=943.9 cy=373.8 r=3.1 />
<circle class=Y cx=891.2 cy=377.9 r=3.1 />
<circle class=Y cx=906.5 cy=388.8 r=3.1 />
<circle class=y cx=849.5 cy=392.4 r=3.9 />
<circle class=Y cx=925.5 cy=399.7 r=3.1 />
<circle class=Y cx=903 cy=405.1 r=3.1 />
<circle class=Y cx=966.9 cy=389.6 r=3.1 />
<circle class=z cx=935.6 cy=404.3 r=3.9 />
<circle class=Z cx=976.2 cy=383.9 r=3.1 />
<circle class=Y cx=825.5 cy=386.5 r=3.1 />
<circle class=Z cx=1005.6 cy=391.6 r=3.1 />
<circle class=Y cx=929.6 cy=403.5 r=3.1 />
<circle class=Y cx=843.9 cy=385.5 r=3.1 />
<circle class=z cx=997.1 cy=386.4 r=3.9 />
<circle class=Y cx=929.9 cy=392.2 r=3.1 />
<circle class=Z cx=904.9 cy=382.3 r=3.1 />
<circle class=Z cx=938.7 cy=389.7 r=3.1 />
<circle class=Y cx=791.3 cy=388.8 r=3.1 />
<circle class=Z cx=856.4 cy=392.4 r=3.1 />
<circle class=Y cx=887.6 cy=386.7 r=3.1 />
<circle class=Z cx=964.7 cy=386.3 r=3.1 />
<circle class=z cx=876.6 cy=378.5 r=3.9 />
<circle class=Y cx=886.9 cy=395.1 r=3.1 />
<circle class=Z cx=812.9 cy=388.8 r=3.1 />
<circle class=Y cx=905.7 cy=378.5 r=3.1 />
<circle class=y cx=802.6 cy=388.3 r=3.9 />
<circle class=Z cx=926.2 cy=396.4 r=3.1 />
<circle class=z cx=894.6 cy=402.1 r=3.9 />
<circle class=Y cx=913.9 cy=404.4 r=3.1 />
<circle class=Z cx=916 cy=406.6 r=3.1 />
<circle class=Y cx=950.9 cy=392.7 r=3.1 />
<circle class=Y cx=895.5 cy=380 r=3.1 />
<circle class=Z cx=853.2 cy=384.9 r=3.1 />
<circle class=Y cx=913.1 cy=378.5 r=3.1 />
<circle class=y cx=854.7 cy=393.8 r=3.9 />
<circle class=Y cx=952.1 cy=381.3 r=3.1 />
<circle class=Y cx=897.7 cy=378.2 r=3.1 />
<circle class=z cx=887.1 cy=401 r=3.9 />
<circle class=Z cx=993.8 cy=386.1 r=3.1 />
<circle class=z cx=923.3 cy=405.4 r=3.9 />
<circle class=Y cx=888.2 cy=375.6 r=3.1 />
<circle class=Z cx=869 cy=392.5 r=3.1 />
<circle class=Y cx=915.3 cy=401.5 r=3.1 />
<circle class=z cx=957.2 cy=377.1 r=3.9 />
<circle class=y cx=825 cy=388.2 r=3.9 />
<circle class=y cx=860.7 cy=394.5 r=3.9 />
<circle class=z cx=831.4 cy=387.6 r=3.9 />
<circle class=z cx=888 cy=376.8 r=3.9 />
<circle class=Y cx=856.1 cy=388.8 r=3.1 />
<circle class=z cx=939.7 cy=374 r=3.9 />
<circle class=Z cx=817.8 cy=387.6 r=3.1 />
<circle class=Z cx=974.5 cy=394.3 r=3.1 />
<circle class=z cx=797.2 cy=388.5 r=3.9 />
<circle class=Z cx=918.6 cy=407 r=3.1 />
<circle class=Z cx=1040.8 cy=388.3 r=3.1 />
<circle class=Z cx=902.7 cy=402.7 r=3.1 />
<circle class=y cx=929.8 cy=405.2 r=3.9 />
<circle class=Y cx=900.3 cy=379.1 r=3.1 />
<circle class=Z cx=967.1 cy=394.6 r=3.1 />
<circle class=Z cx=922 cy=395.7 r=3.1 />
<circle class=y cx=1021.3 cy=388.4 r=3.9 />
<circle class=y cx=798.6 cy=389 r=3.9 />
<circle class=Y cx=933.4 cy=378.8 r=3.1 />
<circle class=Z cx=918.7 cy=378.3 r=3.1 />
<circle class=y cx=877.8 cy=399 r=3.9 />
<circle class=Y cx=982.8 cy=384.3 r=3.1 />
<circle class=y cx=1039.5 cy=388.5 r=3.9 />
<circle class=Y cx=916.1 cy=380.9 r=3.1 />
<circle class=Z cx=1000.3 cy=385.3 r=3.1 />
<circle class=Z cx=895.1 cy=394.8 r=3.1 />
<circle class=Y cx=849.1 cy=385.9 r=3.1 />
<circle class=Z cx=955.4 cy=394.5 r=3.1 />
<circle class=Y cx=980.4 cy=391.3 r=3.1 />
<circle class=Z cx=889.5 cy=392.2 r=3.1 />
<circle class=Y cx=941.5 cy=394.4 r=3.1 />
<circle class=Z cx=862.5 cy=382 r=3.1 />
<circle class=Y cx=898 cy=385.5 r=3.1 />
<circle class=Z cx=967.7 cy=380.3 r=3.1 />
<circle class=y cx=899.3 cy=403.8 r=3.9 />
<circle class=Z cx=980.3 cy=383.4 r=3.1 />
<circle class=Z cx=952.4 cy=396.1 r=3.1 />
<circle class=Z cx=891.9 cy=383.3 r=3.1 />
<circle class=z cx=894.2 cy=375.4 r=3.9 />
<circle class=Z cx=941.2 cy=375.5 r=3.1 />
<circle class=y cx=921.8 cy=372.1 r=3.9 />
<circle class=Y cx=942.4 cy=378.1 r=3.1 />
<circle class=Y cx=833.5 cy=386.2 r=3.1 />
<circle class=z cx=951.5 cy=375.4 r=3.9 />
<circle class=y cx=861.2 cy=383.1 r=3.9 />
<circle class=Y cx=815.5 cy=388.1 r=3.1 />
<circle class=Y cx=834.5 cy=388.8 r=3.1 />
<circle class=y cx=1003.2 cy=391.4 r=3.9 />
<circle class=Z cx=936.2 cy=398 r=3.1 />
<circle class=y cx=866.8 cy=381 r=3.9 />
<circle class=y cx=802 cy=389.4 r=3.9 />
<circle class=Z cx=910.1 cy=371.9 r=3.1 />
<circle class=Z cx=961.6 cy=391.8 r=3.1 />
<circle class=Y cx=964.1 cy=388.8 r=3.1 />
<circle class=Z cx=919.6 cy=396.5 r=3.1 />
<circle class=Y cx=853.8 cy=391.3 r=3.1 />
<circle class=Y cx=874.2 cy=391.6 r=3.1 />
<circle class=Z cx=948.7 cy=383.9 r=3.1 />
<circle class=Z cx=930.8 cy=400.7 r=3.1 />
<circle class=Y cx=923.4 cy=371 r=3.1 />
<circle class=Y cx=870.5 cy=388.8 r=3.1 />
<circle class=Z cx=920.7 cy=379.9 r=3.1 />
<circle class=z cx=1021 cy=389.6 r=3.9 />
<circle class=Z cx=939.6 cy=382.6 r=3.1 />
<circle class=Z cx=977.6 cy=396.1 r=3.1 />
<circle class=Y cx=963.9 cy=382.2 r=3.1 />
<circle class=Y cx=985.7 cy=388.8 r=3.1 />
<circle class=Y cx=915.6 cy=391.3 r=3.1 />
<circle class=z cx=1014.5 cy=388 r=3.9 />
<circle class=Z cx=903.3 cy=380.4 r=3.1 />
<circle class=y cx=809.3 cy=388.5 r=3.9 />
<circle class=Z cx=918.5 cy=403.8 r=3.1 />
<circle class=Y cx=1014.9 cy=391.3 r=3.1 />
<circle class=Z cx=989.6 cy=384 r=3.1 />
<circle class=Y cx=956.9 cy=388.8 r=3.1 />
<circle class=Y cx=879.5 cy=394.6 r=3.1 />
<circle class=Z cx=1026.3 cy=390.2 r=3.1 />
<circle class=Z cx=948.4 cy=402.2 r=3.1 />
<circle class=Y cx=946.9 cy=380.1 r=3.1 />
<circle class=Y cx=908.7 cy=384.8 r=3.1 />
<circle class=Y cx=875.1 cy=386.6 r=3.1 />
<circle class=Y cx=1009.2 cy=386.3 r=3.1 />
<circle class=Z cx=927.5 cy=381.4 r=3.1 />
<circle class=Y cx=880.7 cy=387.6 r=3.1 />
<circle class=Z cx=978.5 cy=388.8 r=3.1 />
<circle class=Y cx=942.5 cy=388.8 r=3.1 />
<circle class=Y cx=898.2 cy=399.7 r=3.1 />
<circle class=y cx=987 cy=384.2 r=3.9 />
<circle class=z cx=992.3 cy=393.1 r=3.9 />
<circle class=Z cx=969.5 cy=397.9 r=3.1 />
<circle class=Y cx=907.2 cy=391.3 r=3.1 />
<circle class=Z cx=960.3 cy=398.3 r=3.1 />
<circle class=Z cx=901.8 cy=393.4 r=3.1 />
<circle class=Y cx=874.2 cy=399.1 r=3.1 />
<circle class=Y cx=924 cy=381.4 r=3.1 />
<circle class=Y cx=941.8 cy=391.9 r=3.1 />
<circle class=Z cx=991.7 cy=393.6 r=3.1 />
<circle class=Y cx=810.8 cy=386.9 r=3.1 />
<circle class=Y cx=907.4 cy=394.5 r=3.1 />
<circle class=Z cx=938 cy=386.2 r=3.1 />
<circle class=Y cx=899.3 cy=375.5 r=3.1 />
<circle class=Y cx=987 cy=382.8 r=3.1 />
<circle class=z cx=1045.5 cy=389.1 r=3.9 />
<circle class=Y cx=923.8 cy=387.8 r=3.1 />
<circle class=Y cx=930.8 cy=374.2 r=3.1 />
<circle class=z cx=928 cy=372.4 r=3.9 />
<circle class=Y cx=925.2 cy=384.1 r=3.1 />
<circle class=Y cx=956.9 cy=382.8 r=3.1 />
<circle class=Y cx=896.5 cy=390.5 r=3.1 />
<circle class=Y cx=938.5 cy=404.4 r=3.1 />
<circle class=z cx=974.5 cy=396.3 r=3.9 />
<circle class=Y cx=936.2 cy=377.7 r=3.1 />
<circle class=Z cx=996 cy=387.5 r=3.1 />
<circle class=z cx=813.6 cy=388.4 r=3.9 />
<circle class=Y cx=864.6 cy=384.3 r=3.1 />
<circle class=z cx=945.5 cy=403.2 r=3.9 />
<circle class=Z cx=922.9 cy=376.9 r=3.1 />
<circle class=Y cx=914.6 cy=371.6 r=3.1 />
<circle class=Z cx=997.1 cy=385.1 r=3.1 />
<circle class=Z cx=970.1 cy=383.9 r=3.1 />
<circle class=Z cx=930.8 cy=377.7 r=3.1 />
<circle class=Y cx=929.8 cy=387.1 r=3.1 />
<circle class=Y cx=871.4 cy=397.5 r=3.1 />
<circle class=Z cx=1026.5 cy=387.7 r=3.1 />
<circle class=y cx=865.6 cy=396.8 r=3.9 />
<circle class=Y cx=940 cy=379.7 r=3.1 />
<circle class=Y cx=868.2 cy=384.7 r=3.1 />
<circle class=Z cx=951 cy=403 r=3.1 />
<circle class=Z cx=977.6 cy=381.8 r=3.1 />
<circle class=y cx=1084 cy=388.8 r=3.9 />
<circle class=y cx=663 cy=439.4 r=3.9 />
<circle class=y cx=761.5 cy=439.2 r=3.9 />
<circle class=y cx=745.2 cy=439.6 r=3.9 />
<circle class=y cx=777.5 cy=439.7 r=3.9 />
<circle class=y cx=773.2 cy=439.3 r=3.9 />
<circle class=y cx=691 cy=439.4 r=3.9 />
<circle class=y cx=788.8 cy=439.3 r=3.9 />
<circle class=y cx=722.9 cy=439.5 r=3.9 />
<circle class=y cx=805.1 cy=439.5 r=3.9 />
<circle class=y cx=800.3 cy=439.7 r=3.9 />
<circle class=y cx=794.8 cy=439 r=3.9 />
<circle class=y cx=684.3 cy=439.5 r=3.9 />
<circle class=y cx=712.7 cy=439 r=3.9 />
<circle class=y cx=740.3 cy=439.3 r=3.9 />
<circle class=y cx=728.5 cy=439 r=3.9 />
<circle class=y cx=784.4 cy=439.1 r=3.9 />
<circle class=y cx=750.6 cy=439.7 r=3.9 />
<circle class=y cx=734.1 cy=439.5 r=3.9 />
<circle class=y cx=695 cy=439.7 r=3.9 />
<circle class=y cx=717.7 cy=439.5 r=3.9 />
<circle class=y cx=701.5 cy=439.3 r=3.9 />
<circle class=y cx=706.6 cy=439.2 r=3.9 />
<circle class=y cx=767.8 cy=439.5 r=3.9 />
<circle class=y cx=756.3 cy=439.3 r=3.9 />
<circle class=y cx=810.8 cy=439.1 r=3.9 />
<circle class=y cx=835 cy=439.4 r=3.9 />
<circle class=y cx=827 cy=439.4 r=3.9 />
<circle class=y cx=858.7 cy=439.5 r=3.9 />
<circle class=y cx=864.8 cy=439.1 r=3.9 />
<circle class=y cx=853.1 cy=439.3 r=3.9 />
<circle class=y cx=847.6 cy=439.5 r=3.9 />
<circle class=y cx=842.4 cy=439.1 r=3.9 />
<circle class=y cx=892.6 cy=439.1 r=3.9 />
<circle class=y cx=898.6 cy=439.3 r=3.9 />
<circle class=y cx=876.7 cy=439.7 r=3.9 />
<circle class=y cx=887.2 cy=439.4 r=3.9 />
<circle class=y cx=880.8 cy=439.5 r=3.9 />
<circle class=y cx=902.8 cy=439.2 r=3.9 />
<circle class=Z cx=929.4 cy=439.4 r=3.1 />
<circle class=Z cx=926.7 cy=423.3 r=3.1 />
<circle class=Z cx=927 cy=434 r=3.1 />
<circle class=Z cx=940.6 cy=451.6 r=3.1 />
<circle class=Z cx=958.1 cy=431.6 r=3.1 />
<circle class=Z cx=942 cy=454.3 r=3.1 />
<circle class=Z cx=908.8 cy=443.1 r=3.1 />
<circle class=Z cx=926.4 cy=420.3 r=3.1 />
<circle class=z cx=908.2 cy=435.9 r=3.9 />
<circle class=Z cx=950.2 cy=424.4 r=3.1 />
<circle class=z cx=953.1 cy=420.7 r=3.9 />
<circle class=Z cx=945.3 cy=458.8 r=3.1 />
<circle class=Z cx=912.8 cy=438.5 r=3.1 />
<circle class=Z cx=925.7 cy=450.5 r=3.1 />
<circle class=Z cx=934.5 cy=436.9 r=3.1 />
<circle class=Z cx=936.9 cy=424.1 r=3.1 />
<circle class=z cx=924.9 cy=457.7 r=3.9 />
<circle class=Z cx=934.4 cy=430.8 r=3.1 />
<circle class=Z cx=926 cy=445.8 r=3.1 />
<circle class=Z cx=965.4 cy=439.4 r=3.1 />
<circle class=Z cx=951.7 cy=457.3 r=3.1 />
<circle class=Z cx=924 cy=442 r=3.1 />
<circle class=Z cx=941.4 cy=438.8 r=3.1 />
<circle class=Z cx=950.8 cy=446.8 r=3.1 />
<circle class=Z cx=938 cy=453.1 r=3.1 />
<circle class=Z cx=959.7 cy=434.9 r=3.1 />
<circle class=Z cx=936.6 cy=439.4 r=3.1 />
<circle class=Z cx=949.8 cy=443.4 r=3.1 />
<circle class=Z cx=957.9 cy=454.2 r=3.1 />
<circle class=Z cx=919 cy=439.6 r=3.1 />
<circle class=Z cx=915 cy=439.4 r=3.1 />
<circle class=Z cx=951 cy=420.5 r=3.1 />
<circle class=Z cx=914.7 cy=432 r=3.1 />
<circle class=Z cx=936.1 cy=455.7 r=3.1 />
<circle class=Z cx=963.3 cy=440.7 r=3.1 />
<circle class=z cx=964.8 cy=432.5 r=3.9 />
<circle class=Z cx=937.8 cy=435.7 r=3.1 />
<circle class=Z cx=960.6 cy=439.9 r=3.1 />
<circle class=Z cx=944.6 cy=442.3 r=3.1 />
<circle class=Z cx=918 cy=434 r=3.1 />
<circle class=Z cx=944.7 cy=423.1 r=3.1 />
<circle class=Z cx=929.4 cy=450.4 r=3.1 />
<circle class=z cx=947.3 cy=457.6 r=3.9 />
<circle class=Z cx=940.9 cy=426 r=3.1 />
<circle class=Z cx=913.8 cy=442.8 r=3.1 />
<circle class=Z cx=958.9 cy=427 r=3.1 />
<circle class=Z cx=947 cy=428.8 r=3.1 />
<circle class=Z cx=955.9 cy=423.7 r=3.1 />
<circle class=Z cx=917.4 cy=423.5 r=3.1 />
<circle class=Z cx=943.1 cy=446.9 r=3.1 />
<circle class=Z cx=948.7 cy=430.5 r=3.1 />
<circle class=z cx=918.4 cy=421.8 r=3.9 />
<circle class=Z cx=957 cy=449.1 r=3.1 />
<circle class=Z cx=915.5 cy=445.2 r=3.1 />
<circle class=Z cx=920.9 cy=422 r=3.1 />
<circle class=z cx=907.5 cy=442.5 r=3.9 />
<circle class=Z cx=926.3 cy=455.1 r=3.1 />
<circle class=z cx=946.9 cy=420.3 r=3.9 />
<circle class=Z cx=947.3 cy=424.4 r=3.1 />
<circle class=Z cx=954.4 cy=436 r=3.1 />
<circle class=Z cx=966.5 cy=436.8 r=3.1 />
<circle class=Z cx=935.4 cy=447.9 r=3.1 />
<circle class=Z cx=932.1 cy=439.7 r=3.1 />
<circle class=Z cx=943.1 cy=450.3 r=3.1 />
<circle class=Z cx=931.8 cy=449.5 r=3.1 />
<circle class=Z cx=948.3 cy=433.2 r=3.1 />
<circle class=Z cx=947.7 cy=445.2 r=3.1 />
<circle class=Z cx=930.7 cy=429.9 r=3.1 />
<circle class=Z cx=930.2 cy=459.1 r=3.1 />
<circle class=Z cx=956.2 cy=442.8 r=3.1 />
<circle class=Z cx=935.8 cy=433.9 r=3.1 />
<circle class=Z cx=926.9 cy=429.9 r=3.1 />
<circle class=Z cx=923 cy=449.3 r=3.1 />
<circle class=Z cx=936.6 cy=450.9 r=3.1 />
<circle class=Z cx=948.3 cy=438.8 r=3.1 />
<circle class=Z cx=935.3 cy=421.8 r=3.1 />
<circle class=Z cx=929.1 cy=452.9 r=3.1 />
<circle class=Z cx=951.2 cy=428 r=3.1 />
<circle class=Z cx=953.1 cy=448.3 r=3.1 />
<circle class=Z cx=965.1 cy=443.1 r=3.1 />
<circle class=Z cx=934.6 cy=441.8 r=3.1 />
<circle class=Z cx=916 cy=441.6 r=3.1 />
<circle class=Z cx=924.1 cy=436.7 r=3.1 />
<circle class=Z cx=965.1 cy=432.7 r=3.1 />
<circle class=Z cx=938.9 cy=458.4 r=3.1 />
<circle class=Z cx=916.2 cy=452.1 r=3.1 />
<circle class=Z cx=942.2 cy=458.9 r=3.1 />
<circle class=z cx=918.3 cy=456.5 r=3.9 />
<circle class=Z cx=957.3 cy=445.1 r=3.1 />
<circle class=Z cx=959.4 cy=447.8 r=3.1 />
<circle class=z cx=913.6 cy=429.1 r=3.9 />
<circle class=Z cx=928.8 cy=431.5 r=3.1 />
<circle class=Z cx=928.9 cy=446.6 r=3.1 />
<circle class=Z cx=946.3 cy=452 r=3.1 />
<circle class=Z cx=939.4 cy=432.7 r=3.1 />
<circle class=Z cx=954.7 cy=456.8 r=3.1 />
<circle class=Z cx=909.6 cy=434 r=3.1 />
<circle class=Z cx=913.7 cy=436 r=3.1 />
<circle class=Z cx=912.5 cy=429.6 r=3.1 />
<circle class=Z cx=919.6 cy=430.3 r=3.1 />
<circle class=Z cx=922.7 cy=452.8 r=3.1 />
<circle class=Z cx=930.4 cy=426.8 r=3.1 />
<circle class=Z cx=921.9 cy=455.3 r=3.1 />
<circle class=z cx=913.9 cy=449.7 r=3.9 />
<circle class=Z cx=948.2 cy=453.6 r=3.1 />
<circle class=Z cx=957 cy=436.1 r=3.1 />
<circle class=Z cx=918.3 cy=446.1 r=3.1 />
<circle class=Z cx=916.5 cy=426.7 r=3.1 />
<circle class=Z cx=939.7 cy=441.7 r=3.1 />
<circle class=Z cx=915.5 cy=429 r=3.1 />
<circle class=Z cx=929.4 cy=421.1 r=3.1 />
<circle class=Z cx=955.3 cy=447.3 r=3.1 />
<circle class=Z cx=936.5 cy=419.6 r=3.1 />
<circle class=Z cx=959.6 cy=451.7 r=3.1 />
<circle class=Z cx=944.4 cy=436.8 r=3.1 />
<circle class=Z cx=930.9 cy=423.2 r=3.1 />
<circle class=Z cx=923.1 cy=444.9 r=3.1 />
<circle class=Z cx=943.9 cy=433.5 r=3.1 />
<circle class=Z cx=930.4 cy=455.1 r=3.1 />
<circle class=Z cx=936.8 cy=431.6 r=3.1 />
<circle class=Z cx=931.2 cy=437.4 r=3.1 />
<circle class=Z cx=933.4 cy=445.1 r=3.1 />
<circle class=Z cx=921.1 cy=435.9 r=3.1 />
<circle class=z cx=938.2 cy=420.3 r=3.9 />
<circle class=Z cx=912.1 cy=433.5 r=3.1 />
<circle class=Z cx=947.9 cy=441.7 r=3.1 />
<circle class=Z cx=921.2 cy=442 r=3.1 />
<circle class=Z cx=913.4 cy=450.5 r=3.1 />
<circle class=Z cx=928.9 cy=424.8 r=3.1 />
<circle class=Z cx=940.9 cy=436 r=3.1 />
<circle class=Z cx=910.5 cy=444.9 r=3.1 />
<circle class=Z cx=936.5 cy=443.6 r=3.1 />
<circle class=Z cx=959 cy=424 r=3.1 />
<circle class=Z cx=922.8 cy=433.8 r=3.1 />
<circle class=Z cx=931.9 cy=419.5 r=3.1 />
<circle class=Z cx=943.8 cy=439.4 r=3.1 />
<circle class=Z cx=938.1 cy=421.7 r=3.1 />
<circle class=Z cx=930.9 cy=443.8 r=3.1 />
<circle class=Z cx=920.5 cy=445.1 r=3.1 />
<circle class=Z cx=961.1 cy=429.4 r=3.1 />
<circle class=Z cx=951.9 cy=454.8 r=3.1 />
<circle class=Z cx=948.4 cy=426.8 r=3.1 />
<circle class=Z cx=951.8 cy=431.7 r=3.1 />
<circle class=Z cx=940.6 cy=428.9 r=3.1 />
<circle class=Z cx=933.3 cy=459.2 r=3.1 />
<circle class=z cx=941.7 cy=421.3 r=3.9 />
<circle class=Z cx=918.8 cy=427.5 r=3.1 />
<circle class=Z cx=954.8 cy=439.1 r=3.1 />
<circle class=Z cx=919.6 cy=456.2 r=3.1 />
<circle class=Z cx=946.8 cy=449.4 r=3.1 />
<circle class=Z cx=960.6 cy=442.4 r=3.1 />
<circle class=Z cx=951.1 cy=450.9 r=3.1 />
<circle class=Z cx=910.2 cy=440.3 r=3.1 />
<circle class=Z cx=945.1 cy=445.4 r=3.1 />
<circle class=Z cx=965.8 cy=445.6 r=3.1 />
<circle class=Z cx=955.9 cy=421.2 r=3.1 />
<circle class=Z cx=958.2 cy=439.4 r=3.1 />
<circle class=Z cx=917.2 cy=454.8 r=3.1 />
<circle class=Z cx=928 cy=457.6 r=3.1 />
<circle class=Z cx=960.8 cy=445.3 r=3.1 />
<circle class=Z cx=915.8 cy=449.1 r=3.1 />
<circle class=Z cx=955.4 cy=453.7 r=3.1 />
<circle class=Z cx=949.1 cy=455.9 r=3.1 />
<circle class=Z cx=912.6 cy=448 r=3.1 />
<circle class=Z cx=916.1 cy=437 r=3.1 />
<circle class=Z cx=926.3 cy=441.3 r=3.1 />
<circle class=z cx=959.3 cy=423.8 r=3.9 />
<circle class=Z cx=944.4 cy=453.4 r=3.1 />
<circle class=Z cx=933.6 cy=424.9 r=3.1 />
<circle class=z cx=907.8 cy=439.5 r=3.9 />
<circle class=Z cx=963.3 cy=437.8 r=3.1 />
<circle class=Z cx=922.7 cy=428.5 r=3.1 />
<circle class=Z cx=956.5 cy=426.9 r=3.1 />
<circle class=Z cx=940.6 cy=456.7 r=3.1 />
<circle class=z cx=965.5 cy=445.8 r=3.9 />
<circle class=Z cx=952 cy=441.9 r=3.1 />
<circle class=Z cx=918.2 cy=448.8 r=3.1 />
<circle class=Z cx=951 cy=439.4 r=3.1 />
<circle class=Z cx=924.2 cy=431.7 r=3.1 />
<circle class=Z cx=933.6 cy=427.6 r=3.1 />
<circle class=Z cx=926.5 cy=438.7 r=3.1 />
<circle class=Z cx=928.7 cy=442.3 r=3.1 />
<circle class=z cx=959.5 cy=454.2 r=3.9 />
<circle class=z cx=966.2 cy=439.1 r=3.9 />
<circle class=Z cx=952.2 cy=444.5 r=3.1 />
<circle class=Z cx=957.5 cy=457 r=3.1 />
<circle class=Z cx=938.2 cy=447.6 r=3.1 />
<circle class=Z cx=918.5 cy=442.5 r=3.1 />
<circle class=Z cx=917.4 cy=431.5 r=3.1 />
<circle class=Z cx=943.9 cy=429.7 r=3.1 />
<circle class=Z cx=948.9 cy=421.9 r=3.1 />
<circle class=Z cx=948 cy=435.8 r=3.1 />
<circle class=z cx=938.3 cy=458.4 r=3.9 />
<circle class=Z cx=929.1 cy=435.8 r=3.1 />
<circle class=Z cx=954 cy=425.4 r=3.1 />
<circle class=Z cx=953 cy=422.3 r=3.1 />
<circle class=Z cx=962.8 cy=446.7 r=3.1 />
<circle class=Z cx=941 cy=423 r=3.1 />
<circle class=Z cx=961.4 cy=426.6 r=3.1 />
<circle class=Z cx=939 cy=438.3 r=3.1 />
<circle class=Z cx=933.3 cy=452.2 r=3.1 />
<circle class=Z cx=924.3 cy=456.5 r=3.1 />
<circle class=z cx=926.3 cy=421.1 r=3.9 />
<circle class=z cx=952.9 cy=457.4 r=3.9 />
<circle class=Z cx=924.2 cy=423.5 r=3.1 />
<circle class=Z cx=940.5 cy=444.4 r=3.1 />
<circle class=Z cx=932.1 cy=432.1 r=3.1 />
<circle class=Z cx=923.1 cy=420.4 r=3.1 />
<circle class=Z cx=945.5 cy=456.2 r=3.1 />
<circle class=Z cx=963.1 cy=435.4 r=3.1 />
<circle class=Z cx=924.1 cy=426.3 r=3.1 />
<circle class=Z cx=925.1 cy=458.9 r=3.1 />
<circle class=Z cx=955.6 cy=429.2 r=3.1 />
<circle class=Z cx=936.8 cy=428.1 r=3.1 />
<circle class=Z cx=942.9 cy=419.6 r=3.1 />
<circle class=Z cx=960.6 cy=437.2 r=3.1 />
<circle class=Z cx=960.6 cy=431.8 r=3.1 />
<circle class=Z cx=951.7 cy=435.1 r=3.1 />
<circle class=Z cx=963.3 cy=431 r=3.1 />
<circle class=Z cx=908.8 cy=436.4 r=3.1 />
<circle class=Z cx=940.3 cy=420.2 r=3.1 />
<circle class=Z cx=922.2 cy=439.4 r=3.1 />
<circle class=Z cx=955.8 cy=433.3 r=3.1 />
<circle class=Z cx=950.1 cy=437.1 r=3.1 />
<circle class=Z cx=941.7 cy=431.2 r=3.1 />
<circle class=Z cx=935.4 cy=453.4 r=3.1 />
<circle class=Z cx=931.7 cy=434.5 r=3.1 />
<circle class=Z cx=946.3 cy=421.2 r=3.1 />
<circle class=Z cx=947.7 cy=458.4 r=3.1 />
<circle class=Z cx=907.8 cy=439.4 r=3.1 />
<circle class=z cx=931.9 cy=458 r=3.9 />
<circle class=Z cx=918.6 cy=452.5 r=3.1 />
<circle class=Z cx=943.7 cy=425.9 r=3.1 />
<circle class=Z cx=935.8 cy=458.6 r=3.1 />
<circle class=Z cx=933.5 cy=456.5 r=3.1 />
<circle class=Z cx=962 cy=449.6 r=3.1 />
<circle class=Z cx=920.9 cy=451.2 r=3.1 />
<circle class=Z cx=927.1 cy=427.3 r=3.1 />
<circle class=Z cx=920.2 cy=424.7 r=3.1 />
<circle class=Z cx=954.5 cy=451.1 r=3.1 />
<circle class=Z cx=945.8 cy=431.5 r=3.1 />
<circle class=z cx=942.2 cy=457.8 r=3.9 />
<circle class=z cx=931.9 cy=420.4 r=3.9 />
<circle class=Z cx=940.4 cy=449 r=3.1 />
<circle class=y cx=984.4 cy=439.4 r=3.9 />
<circle class=y cx=1011.5 cy=439.4 r=3.9 />
<circle class=y cx=973.6 cy=439.4 r=3.9 />
<circle class=y cx=979 cy=439.4 r=3.9 />
<circle class=z cx=680.7 cy=489.9 r=3.9 />
<circle class=z cx=660 cy=489.9 r=3.9 />
<circle class=z cx=667 cy=489.9 r=3.9 />
<circle class=z cx=735 cy=489.9 r=3.9 />
<circle class=z cx=745.8 cy=489.9 r=3.9 />
<circle class=z cx=702.4 cy=489.9 r=3.9 />
<circle class=z cx=654 cy=489.9 r=3.9 />
<circle class=z cx=718.6 cy=489.9 r=3.9 />
<circle class=z cx=854.8 cy=489.8 r=3.9 />
<circle class=z cx=849.6 cy=490 r=3.9 />
<circle class=z cx=788.9 cy=490 r=3.9 />
<circle class=z cx=833.7 cy=489.9 r=3.9 />
<circle class=z cx=814.8 cy=490.1 r=3.9 />
<circle class=z cx=794.1 cy=490 r=3.9 />
<circle class=z cx=883.9 cy=489.6 r=3.9 />
<circle class=z cx=838.7 cy=489.6 r=3.9 />
<circle class=z cx=778.8 cy=489.8 r=3.9 />
<circle class=z cx=803.5 cy=489.6 r=3.9 />
<circle class=z cx=873.5 cy=489.7 r=3.9 />
<circle class=z cx=783.2 cy=489.6 r=3.9 />
<circle class=z cx=763.5 cy=489.9 r=3.9 />
<circle class=z cx=863.6 cy=489.6 r=3.9 />
<circle class=z cx=809.7 cy=490.1 r=3.9 />
<circle class=z cx=769.4 cy=490.2 r=3.9 />
<circle class=z cx=843.7 cy=489.7 r=3.9 />
<circle class=z cx=829.7 cy=490.3 r=3.9 />
<circle class=z cx=774.2 cy=490.2 r=3.9 />
<circle class=z cx=799.1 cy=490.2 r=3.9 />
<circle class=z cx=879.6 cy=489.7 r=3.9 />
<circle class=z cx=869.7 cy=490 r=3.9 />
<circle class=z cx=824.5 cy=489.9 r=3.9 />
<circle class=z cx=819.5 cy=489.6 r=3.9 />
<circle class=z cx=859.7 cy=490.2 r=3.9 />
<circle class=z cx=758.4 cy=489.8 r=3.9 />
<circle class=z cx=754.3 cy=490.2 r=3.9 />
<circle class=y cx=889.5 cy=489.9 r=3.9 />
<circle class=z cx=903 cy=489.9 r=3.9 />
<circle class=z cx=895 cy=489.9 r=3.9 />
<circle class=Y cx=933.9 cy=495.8 r=3.1 />
<circle class=Y cx=947 cy=500 r=3.1 />
<circle class=Y cx=939.5 cy=487.3 r=3.1 />
<circle class=Y cx=923.6 cy=478.5 r=3.1 />
<circle class=Y cx=942 cy=472.2 r=3.1 />
<circle class=Y cx=913.8 cy=486.3 r=3.1 />
<circle class=Y cx=960.7 cy=490 r=3.1 />
<circle class=Y cx=960 cy=492.5 r=3.1 />
<circle class=Y cx=928.8 cy=505.4 r=3.1 />
<circle class=Y cx=921.4 cy=481.3 r=3.1 />
<circle class=Y cx=940.4 cy=493.7 r=3.1 />
<circle class=Y cx=920 cy=495.6 r=3.1 />
<circle class=Y cx=946.4 cy=480.6 r=3.1 />
<circle class=Y cx=928.7 cy=490.7 r=3.1 />
<circle class=Y cx=925.1 cy=481.4 r=3.1 />
<circle class=Y cx=936.2 cy=475.1 r=3.1 />
<circle class=Y cx=923.6 cy=499.6 r=3.1 />
<circle class=Y cx=937.6 cy=501.2 r=3.1 />
<circle class=Y cx=946.4 cy=484.8 r=3.1 />
<circle class=Y cx=948.8 cy=496.2 r=3.1 />
<circle class=Y cx=943.4 cy=478.6 r=3.1 />
<circle class=Y cx=914.8 cy=494.4 r=3.1 />
<circle class=Y cx=918.5 cy=489.9 r=3.1 />
<circle class=Y cx=955.9 cy=496.4 r=3.1 />
<circle class=y cx=961.7 cy=490.3 r=3.9 />
<circle class=Y cx=921.7 cy=492.8 r=3.1 />
<circle class=Y cx=919.3 cy=482.7 r=3.1 />
<circle class=Y cx=950.4 cy=498.5 r=3.1 />
<circle class=Y cx=933.7 cy=499.4 r=3.1 />
<circle class=Y cx=918.9 cy=492.7 r=3.1 />
<circle class=y cx=911.3 cy=490.2 r=3.9 />
<circle class=y cx=951.1 cy=499.2 r=3.9 />
<circle class=Y cx=954.5 cy=489.9 r=3.1 />
<circle class=Y cx=932.7 cy=507 r=3.1 />
<circle class=Y cx=950.4 cy=494.2 r=3.1 />
<circle class=Y cx=930.2 cy=497.5 r=3.1 />
<circle class=y cx=922.8 cy=478.2 r=3.9 />
<circle class=y cx=940.7 cy=508.1 r=3.9 />
<circle class=Y cx=953.3 cy=498.3 r=3.1 />
<circle class=Y cx=937.3 cy=485.3 r=3.1 />
<circle class=Y cx=936.8 cy=480.5 r=3.1 />
<circle class=Y cx=911.3 cy=487.3 r=3.1 />
<circle class=Y cx=937.3 cy=472.4 r=3.1 />
<circle class=Y cx=952.9 cy=485.9 r=3.1 />
<circle class=y cx=957.1 cy=492.9 r=3.9 />
<circle class=y cx=929.4 cy=504.7 r=3.9 />
<circle class=Y cx=916.1 cy=489.5 r=3.1 />
<circle class=Y cx=935.3 cy=491.1 r=3.1 />
<circle class=Y cx=930.9 cy=483.1 r=3.1 />
<circle class=Y cx=930.2 cy=486.4 r=3.1 />
<circle class=Y cx=955 cy=493.6 r=3.1 />
<circle class=Y cx=951.5 cy=491.7 r=3.1 />
<circle class=Y cx=945.7 cy=497.7 r=3.1 />
<circle class=Y cx=939.4 cy=507.7 r=3.1 />
<circle class=Y cx=958.1 cy=488 r=3.1 />
<circle class=y cx=911.4 cy=488.5 r=3.9 />
<circle class=Y cx=925.9 cy=495.9 r=3.1 />
<circle class=y cx=923.6 cy=501.6 r=3.9 />
<circle class=Y cx=936.3 cy=497.5 r=3.1 />
<circle class=y cx=911.2 cy=491.7 r=3.9 />
<circle class=Y cx=942.3 cy=491.7 r=3.1 />
<circle class=Y cx=948.2 cy=476.4 r=3.1 />
<circle class=Y cx=935.8 cy=493.7 r=3.1 />
<circle class=Y cx=920.3 cy=487.7 r=3.1 />
<circle class=y cx=952.8 cy=480.8 r=3.9 />
<circle class=Y cx=935.2 cy=501.5 r=3.1 />
<circle class=Y cx=930.6 cy=492.3 r=3.1 />
<circle class=Y cx=953.5 cy=495.6 r=3.1 />
<circle class=Y cx=928.7 cy=495.4 r=3.1 />
<circle class=y cx=928.3 cy=475.6 r=3.9 />
<circle class=Y cx=917.9 cy=487.4 r=3.1 />
<circle class=y cx=917.5 cy=494.8 r=3.9 />
<circle class=Y cx=925.7 cy=489.9 r=3.1 />
<circle class=Y cx=944.6 cy=490.7 r=3.1 />
<circle class=Y cx=932.9 cy=489.9 r=3.1 />
<circle class=Y cx=931.7 cy=501.4 r=3.1 />
<circle class=Y cx=942.2 cy=488.6 r=3.1 />
<circle class=Y cx=943.7 cy=494.9 r=3.1 />
<circle class=Y cx=931.2 cy=472.9 r=3.1 />
<circle class=Y cx=945.4 cy=475.4 r=3.1 />
<circle class=y cx=958.4 cy=486.2 r=3.9 />
<circle class=Y cx=920.5 cy=498.6 r=3.1 />
<circle class=Y cx=939.1 cy=474.5 r=3.1 />
<circle class=y cx=918 cy=485 r=3.9 />
<circle class=Y cx=933.3 cy=476.9 r=3.1 />
<circle class=Y cx=949.3 cy=487.6 r=3.1 />
<circle class=Y cx=928 cy=499.3 r=3.1 />
<circle class=Y cx=943.2 cy=499.6 r=3.1 />
<circle class=Y cx=924 cy=484.1 r=3.1 />
<circle class=Y cx=931.7 cy=504.7 r=3.1 />
<circle class=Y cx=942 cy=475.8 r=3.1 />
<circle class=Y cx=926.7 cy=477.8 r=3.1 />
<circle class=Y cx=925.7 cy=498.3 r=3.1 />
<circle class=Y cx=950.3 cy=483.3 r=3.1 />
<circle class=Y cx=944.6 cy=488.1 r=3.1 />
<circle class=Y cx=938 cy=491.9 r=3.1 />
<circle class=Y cx=947.9 cy=502.3 r=3.1 />
<circle class=Y cx=923.8 cy=494.5 r=3.1 />
<circle class=Y cx=931.6 cy=494.5 r=3.1 />
<circle class=Y cx=952.3 cy=480.2 r=3.1 />
<circle class=Y cx=936.1 cy=478 r=3.1 />
<circle class=y cx=935 cy=472.6 r=3.9 />
<circle class=Y cx=922.5 cy=496.7 r=3.1 />
<circle class=Y cx=947 cy=494.2 r=3.1 />
<circle class=Y cx=948.5 cy=492.2 r=3.1 />
<circle class=Y cx=938.3 cy=483 r=3.1 />
<circle class=Y cx=934.4 cy=484.1 r=3.1 />
<circle class=Y cx=925.7 cy=493 r=3.1 />
<circle class=Y cx=941.7 cy=485.6 r=3.1 />
<circle class=y cx=940.5 cy=472.5 r=3.9 />
<circle class=y cx=935 cy=508 r=3.9 />
<circle class=Y cx=937.1 cy=509.5 r=3.1 />
<circle class=Y cx=956.9 cy=484.5 r=3.1 />
<circle class=Y cx=934.5 cy=487.4 r=3.1 />
<circle class=Y cx=946.2 cy=477.9 r=3.1 />
<circle class=Y cx=926.1 cy=486.8 r=3.1 />
<circle class=Y cx=939 cy=504.1 r=3.1 />
<circle class=Y cx=935.1 cy=471.3 r=3.1 />
<circle class=Y cx=939.9 cy=499.7 r=3.1 />
<circle class=Y cx=951.1 cy=500.8 r=3.1 />
<circle class=Y cx=926.9 cy=483.4 r=3.1 />
<circle class=Y cx=957.5 cy=490.4 r=3.1 />
<circle class=Y cx=915.7 cy=484.9 r=3.1 />
<circle class=Y cx=911.7 cy=492.6 r=3.1 />
<circle class=Y cx=946.5 cy=504.8 r=3.1 />
<circle class=Y cx=935.3 cy=507.4 r=3.1 />
<circle class=y cx=946.2 cy=504.5 r=3.9 />
<circle class=Y cx=943.2 cy=504 r=3.1 />
<circle class=Y cx=942.2 cy=506.3 r=3.1 />
<circle class=Y cx=928.7 cy=479.5 r=3.1 />
<circle class=Y cx=951.8 cy=489.1 r=3.1 />
<circle class=y cx=944.8 cy=475.5 r=3.9 />
<circle class=Y cx=955.1 cy=482.8 r=3.1 />
<circle class=Y cx=943.3 cy=483.1 r=3.1 />
<circle class=Y cx=922.2 cy=486.2 r=3.1 />
<circle class=Y cx=955.3 cy=487.7 r=3.1 />
<circle class=Y cx=957.4 cy=492.9 r=3.1 />
<circle class=Y cx=917.6 cy=495 r=3.1 />
<circle class=Y cx=925.9 cy=501.8 r=3.1 />
<circle class=Y cx=911.3 cy=489.9 r=3.1 />
<circle class=Y cx=932.4 cy=480.7 r=3.1 />
<circle class=Y cx=929.7 cy=503.2 r=3.1 />
<circle class=Y cx=929.3 cy=474.4 r=3.1 />
<circle class=Y cx=937.1 cy=505.8 r=3.1 />
<circle class=Y cx=941.4 cy=497.5 r=3.1 />
<circle class=Y cx=938.7 cy=478.5 r=3.1 />
<circle class=Y cx=949.8 cy=479.8 r=3.1 />
<circle class=Y cx=937 cy=489.3 r=3.1 />
<circle class=Y cx=941.3 cy=502.5 r=3.1 />
<circle class=Y cx=945.4 cy=502.1 r=3.1 />
<circle class=Y cx=940.4 cy=481 r=3.1 />
<circle class=Y cx=938.5 cy=495.3 r=3.1 />
<circle class=Y cx=919.7 cy=485.4 r=3.1 />
<circle class=Y cx=952.7 cy=482.6 r=3.1 />
<circle class=Y cx=933.7 cy=473.7 r=3.1 />
<circle class=Y cx=929.7 cy=477.3 r=3.1 />
<circle class=Y cx=922.5 cy=489.4 r=3.1 />
<circle class=Y cx=935.1 cy=504.1 r=3.1 />
<circle class=Y cx=947.3 cy=489.9 r=3.1 />
<circle class=Y cx=940.1 cy=489.9 r=3.1 />
<circle class=Y cx=914.8 cy=491.5 r=3.1 />
<circle class=z cx=927.7 cy=479.9 r=3.9 />
<circle class=z cx=923.5 cy=489.9 r=3.9 />
<circle class=z cx=1000.7 cy=489.9 r=3.9 />
<circle class=y cx=990 cy=489.9 r=3.9 />
<circle class=z cx=979 cy=489.9 r=3.9 />
<circle class=z cx=1011.5 cy=489.9 r=3.9 />
<circle class=z cx=965.4 cy=489.9 r=3.9 />
<circle class=y cx=973.6 cy=489.9 r=3.9 />
<circle class=y cx=984 cy=489.9 r=3.9 />
<circle class=y cx=672 cy=540.5 r=3.9 />
<circle class=y cx=591.2 cy=540.5 r=3.9 />
<circle class=y cx=649 cy=540.5 r=3.9 />
<circle class=y cx=661 cy=540.5 r=3.9 />
<circle class=y cx=667 cy=540.5 r=3.9 />
<circle class=y cx=618 cy=540.5 r=3.9 />
<circle class=y cx=677 cy=540.5 r=3.9 />
<circle class=y cx=693.2 cy=540.5 r=3.9 />
<circle class=y cx=638.4 cy=540.5 r=3.9 />
<circle class=y cx=655 cy=540.5 r=3.9 />
<circle class=y cx=562.6 cy=540.5 r=3.9 />
<circle class=y cx=612 cy=540.5 r=3.9 />
<circle class=y cx=753.6 cy=540.6 r=3.9 />
<circle class=y cx=780.8 cy=540.8 r=3.9 />
<circle class=y cx=775.3 cy=540.3 r=3.9 />
<circle class=y cx=747 cy=540.5 r=3.9 />
<circle class=y cx=719.4 cy=540.4 r=3.9 />
<circle class=y cx=731 cy=540.9 r=3.9 />
<circle class=y cx=715.1 cy=540.2 r=3.9 />
<circle class=y cx=736.7 cy=540.9 r=3.9 />
<circle class=y cx=725.2 cy=540.5 r=3.9 />
<circle class=y cx=770.2 cy=540.5 r=3.9 />
<circle class=y cx=758.1 cy=540.3 r=3.9 />
<circle class=y cx=742 cy=540.8 r=3.9 />
<circle class=y cx=763.8 cy=540.9 r=3.9 />
<circle class=y cx=817.2 cy=540.2 r=3.9 />
<circle class=y cx=800.2 cy=540.2 r=3.9 />
<circle class=y cx=822.6 cy=540.6 r=3.9 />
<circle class=y cx=812.4 cy=540.5 r=3.9 />
<circle class=y cx=806.1 cy=540.3 r=3.9 />
<circle class=y cx=847.3 cy=540.5 r=3.9 />
<circle class=y cx=869.4 cy=540.4 r=3.9 />
<circle class=y cx=874.8 cy=540.7 r=3.9 />
<circle class=y cx=862.8 cy=540.2 r=3.9 />
<circle class=y cx=857.6 cy=540.3 r=3.9 />
<circle class=y cx=879 cy=540.5 r=3.9 />
<circle class=y cx=891.4 cy=540.8 r=3.9 />
<circle class=y cx=885.5 cy=540.8 r=3.9 />
<circle class=y cx=895.5 cy=540.4 r=3.9 />
<circle class=y cx=916 cy=540.5 r=3.9 />
<circle class=y cx=905.5 cy=540.5 r=3.9 />
<circle class=y cx=911 cy=540.5 r=3.9 />
<circle class=y cx=921 cy=540.5 r=3.9 />
<circle class=Z cx=942.4 cy=542.9 r=3.1 />
<circle class=Z cx=930.1 cy=529.3 r=3.1 />
<circle class=Z cx=942.4 cy=545.5 r=3.1 />
<circle class=Z cx=957.6 cy=542.6 r=3.1 />
<circle class=Z cx=937.1 cy=534.4 r=3.1 />
<circle class=Z cx=926.7 cy=535.9 r=3.1 />
<circle class=Z cx=952.7 cy=541.4 r=3.1 />
<circle class=Z cx=943.5 cy=539.8 r=3.1 />
<circle class=Z cx=955.1 cy=540.5 r=3.1 />
<circle class=Z cx=940.7 cy=540.5 r=3.1 />
<circle class=Z cx=938.3 cy=525.4 r=3.1 />
<circle class=Z cx=939.4 cy=533.7 r=3.1 />
<circle class=Z cx=937.5 cy=559.4 r=3.1 />
<circle class=Z cx=937.8 cy=556 r=3.1 />
<circle class=z cx=948.9 cy=543.2 r=3.9 />
<circle class=z cx=944 cy=527.8 r=3.9 />
<circle class=z cx=937 cy=558.8 r=3.9 />
<circle class=z cx=927.3 cy=528.4 r=3.9 />
<circle class=Z cx=930.5 cy=556.2 r=3.1 />
<circle class=Z cx=926.5 cy=550 r=3.1 />
<circle class=z cx=955.8 cy=542 r=3.9 />
<circle class=z cx=931.7 cy=557.9 r=3.9 />
<circle class=Z cx=933.7 cy=536.8 r=3.1 />
<circle class=Z cx=928.1 cy=555.5 r=3.1 />
<circle class=Z cx=929.9 cy=534 r=3.1 />
<circle class=Z cx=939.5 cy=530.1 r=3.1 />
<circle class=z cx=937.1 cy=522.4 r=3.9 />
<circle class=Z cx=951.9 cy=543.8 r=3.1 />
<circle class=Z cx=931 cy=550.1 r=3.1 />
<circle class=Z cx=927 cy=531.7 r=3.1 />
<circle class=Z cx=934.1 cy=530.8 r=3.1 />
<circle class=Z cx=944.6 cy=531.1 r=3.1 />
<circle class=Z cx=950 cy=539 r=3.1 />
<circle class=Z cx=936.9 cy=531.6 r=3.1 />
<circle class=Z cx=943.2 cy=555.8 r=3.1 />
<circle class=Z cx=941.4 cy=525.5 r=3.1 />
<circle class=Z cx=937.5 cy=521.3 r=3.1 />
<circle class=Z cx=942.9 cy=537.2 r=3.1 />
<circle class=Z cx=944 cy=533.7 r=3.1 />
<circle class=z cx=943.4 cy=553.8 r=3.9 />
<circle class=Z cx=925.9 cy=547.4 r=3.1 />
<circle class=Z cx=931.8 cy=524.9 r=3.1 />
<circle class=Z cx=933.5 cy=540.5 r=3.1 />
<circle class=Z cx=950.1 cy=541.6 r=3.1 />
<circle class=Z cx=932.7 cy=547.3 r=3.1 />
<circle class=Z cx=934.4 cy=543.2 r=3.1 />
<circle class=Z cx=928.7 cy=526.4 r=3.1 />
<circle class=z cx=960.3 cy=540.8 r=3.9 />
<circle class=Z cx=932.8 cy=558.7 r=3.1 />
<circle class=Z cx=940.8 cy=553.7 r=3.1 />
<circle class=Z cx=945 cy=544.6 r=3.1 />
<circle class=Z cx=945.9 cy=537.2 r=3.1 />
<circle class=Z cx=957.6 cy=540.1 r=3.1 />
<circle class=Z cx=934.6 cy=534.4 r=3.1 />
<circle class=Z cx=928.6 cy=548 r=3.1 />
<circle class=Z cx=960.8 cy=540.6 r=3.1 />
<circle class=Z cx=933.3 cy=522.3 r=3.1 />
<circle class=Z cx=945.7 cy=547 r=3.1 />
<circle class=Z cx=931.5 cy=544.6 r=3.1 />
<circle class=Z cx=934.2 cy=527 r=3.1 />
<circle class=Z cx=935.8 cy=546.5 r=3.1 />
<circle class=Z cx=938.1 cy=528 r=3.1 />
<circle class=Z cx=936.1 cy=523.4 r=3.1 />
<circle class=Z cx=949 cy=535.9 r=3.1 />
<circle class=Z cx=942 cy=531.4 r=3.1 />
<circle class=Z cx=928.6 cy=542 r=3.1 />
<circle class=Z cx=933.4 cy=550.7 r=3.1 />
<circle class=Z cx=939.8 cy=547.4 r=3.1 />
<circle class=Z cx=931.1 cy=540.7 r=3.1 />
<circle class=Z cx=939.4 cy=523 r=3.1 />
<circle class=Z cx=936.1 cy=539.7 r=3.1 />
<circle class=Z cx=926.3 cy=540.5 r=3.1 />
<circle class=z cx=926.4 cy=552.2 r=3.9 />
<circle class=Z cx=937.8 cy=541.7 r=3.1 />
<circle class=Z cx=931.7 cy=531.9 r=3.1 />
<circle class=Z cx=943.3 cy=550.4 r=3.1 />
<circle class=Z cx=926.9 cy=528.5 r=3.1 />
<circle class=Z cx=949.4 cy=544.5 r=3.1 />
<circle class=Z cx=935.1 cy=557.9 r=3.1 />
<circle class=z cx=956 cy=539.5 r=3.9 />
<circle class=Z cx=930.1 cy=553.8 r=3.1 />
<circle class=Z cx=943 cy=528.9 r=3.1 />
<circle class=z cx=932.2 cy=523 r=3.9 />
<circle class=Z cx=931.7 cy=527.6 r=3.1 />
<circle class=Z cx=952.9 cy=538.4 r=3.1 />
<circle class=Z cx=936.3 cy=553.6 r=3.1 />
<circle class=z cx=948.8 cy=537.4 r=3.9 />
<circle class=Z cx=928.1 cy=544.7 r=3.1 />
<circle class=Z cx=940.5 cy=557.4 r=3.1 />
<circle class=Z cx=938 cy=550.7 r=3.1 />
<circle class=Z cx=939.1 cy=544.5 r=3.1 />
<circle class=Z cx=936.9 cy=537.2 r=3.1 />
<circle class=Z cx=929.6 cy=537.8 r=3.1 />
<circle class=Z cx=940.5 cy=549.7 r=3.1 />
<circle class=Z cx=944.1 cy=553.5 r=3.1 />
<circle class=Z cx=939.5 cy=537.2 r=3.1 />
<circle class=Z cx=935.6 cy=549.6 r=3.1 />
<circle class=Z cx=927.1 cy=552.8 r=3.1 />
<circle class=z cx=926.3 cy=540.6 r=3.9 />
<circle class=Z cx=934.2 cy=555 r=3.1 />
<circle class=Z cx=947.9 cy=540.5 r=3.1 />
<circle class=Z cx=946.1 cy=542.4 r=3.1 />
<circle class=y cx=901.5 cy=591.1 r=3.9 />
<circle class=y cx=941.8 cy=591.1 r=3.9 />
<circle class=y cx=873.8 cy=591.1 r=3.9 />
<circle class=y cx=890 cy=591.1 r=3.9 />
<circle class=y cx=954.5 cy=591.4 r=3.9 />
<circle class=y cx=1015.2 cy=591.2 r=3.9 />
<circle class=y cx=1020.6 cy=590.9 r=3.9 />
<circle class=y cx=1004 cy=590.8 r=3.9 />
<circle class=y cx=965.6 cy=590.7 r=3.9 />
<circle class=y cx=1025.7 cy=591.1 r=3.9 />
<circle class=y cx=970.8 cy=590.8 r=3.9 />
<circle class=y cx=976.3 cy=590.7 r=3.9 />
<circle class=y cx=981.8 cy=591.4 r=3.9 />
<circle class=y cx=1009.3 cy=591.1 r=3.9 />
<circle class=y cx=987.8 cy=591.3 r=3.9 />
<circle class=y cx=959.8 cy=590.9 r=3.9 />
<circle class=y cx=999.2 cy=591.2 r=3.9 />
<circle class=y cx=992.8 cy=590.9 r=3.9 />
<circle class=y cx=1082.3 cy=590.7 r=3.9 />
<circle class=y cx=1076.3 cy=591.3 r=3.9 />
<circle class=y cx=1093.3 cy=591.3 r=3.9 />
<circle class=y cx=1066.5 cy=591.4 r=3.9 />
<circle class=y cx=1071.4 cy=591.3 r=3.9 />
<circle class=y cx=1044.2 cy=591.4 r=3.9 />
<circle class=y cx=1059.9 cy=590.8 r=3.9 />
<circle class=y cx=1039 cy=591 r=3.9 />
<circle class=y cx=1099.6 cy=590.9 r=3.9 />
<circle class=y cx=1054.4 cy=590.9 r=3.9 />
<circle class=y cx=1049.6 cy=590.9 r=3.9 />
<circle class=y cx=1087.9 cy=590.7 r=3.9 />
<circle class=y cx=1032.5 cy=591.4 r=3.9 />
<circle class=y cx=1112.8 cy=591 r=3.9 />
<circle class=y cx=1128.8 cy=591 r=3.9 />
<circle class=y cx=1123.2 cy=590.7 r=3.9 />
<circle class=y cx=1118.6 cy=591.1 r=3.9 />
<circle class=y cx=1135 cy=591.1 r=3.9 />
<circle class=y cx=1151.6 cy=591.1 r=3.9 />
<circle class=Z cx=921.7 cy=591.1 r=3.1 />
<circle class=Z cx=914.8 cy=599.6 r=3.1 />
<circle class=Z cx=913 cy=589.2 r=3.1 />
<circle class=Z cx=927.2 cy=592.9 r=3.1 />
<circle class=Z cx=921.8 cy=598.7 r=3.1 />
<circle class=Z cx=922.1 cy=581.9 r=3.1 />
<circle class=Z cx=918 cy=600.6 r=3.1 />
<circle class=Z cx=920.8 cy=601.4 r=3.1 />
<circle class=Z cx=924 cy=583.6 r=3.1 />
<circle class=Z cx=911.9 cy=580.1 r=3.1 />
<circle class=Z cx=907.5 cy=585.7 r=3.1 />
<circle class=Z cx=918.4 cy=585.9 r=3.1 />
<circle class=z cx=906.9 cy=584.3 r=3.9 />
<circle class=Z cx=917.2 cy=572.7 r=3.1 />
<circle class=z cx=917 cy=608.1 r=3.9 />
<circle class=Z cx=917.2 cy=592 r=3.1 />
<circle class=z cx=922.7 cy=600.4 r=3.9 />
<circle class=Z cx=921 cy=576.1 r=3.1 />
<circle class=Z cx=921.5 cy=578.6 r=3.1 />
<circle class=Z cx=926.9 cy=586.1 r=3.1 />
<circle class=Z cx=913 cy=593 r=3.1 />
<circle class=Z cx=927.1 cy=589.3 r=3.1 />
<circle class=Z cx=914.8 cy=603.5 r=3.1 />
<circle class=Z cx=920.6 cy=607.3 r=3.1 />
<circle class=Z cx=914.2 cy=605.8 r=3.1 />
<circle class=Z cx=919.8 cy=587.9 r=3.1 />
<circle class=Z cx=919.1 cy=578.7 r=3.1 />
<circle class=Z cx=917.3 cy=589.1 r=3.1 />
<circle class=Z cx=908.9 cy=580 r=3.1 />
<circle class=Z cx=924.4 cy=593 r=3.1 />
<circle class=Z cx=913.1 cy=582.7 r=3.1 />
<circle class=Z cx=923 cy=588.2 r=3.1 />
<circle class=Z cx=915.1 cy=596.8 r=3.1 />
<circle class=z cx=928.6 cy=588.6 r=3.9 />
<circle class=Z cx=929.5 cy=594.8 r=3.1 />
<circle class=Z cx=910.6 cy=575.7 r=3.1 />
<circle class=Z cx=913.2 cy=577.4 r=3.1 />
<circle class=Z cx=917.8 cy=596.6 r=3.1 />
<circle class=Z cx=915.4 cy=574.3 r=3.1 />
<circle class=Z cx=922.2 cy=594.1 r=3.1 />
<circle class=Z cx=919.6 cy=581.3 r=3.1 />
<circle class=Z cx=907.3 cy=591.1 r=3.1 />
<circle class=z cx=907.3 cy=591.3 r=3.9 />
<circle class=Z cx=920.4 cy=596.7 r=3.1 />
<circle class=Z cx=911.6 cy=606.9 r=3.1 />
<circle class=Z cx=914.5 cy=591.1 r=3.1 />
<circle class=Z cx=931.7 cy=590.2 r=3.1 />
<circle class=Z cx=915.7 cy=582.7 r=3.1 />
<circle class=Z cx=922.2 cy=604 r=3.1 />
<circle class=z cx=923.2 cy=582.4 r=3.9 />
<circle class=Z cx=909.7 cy=604.8 r=3.1 />
<circle class=Z cx=908 cy=600 r=3.1 />
<circle class=Z cx=922 cy=585.4 r=3.1 />
<circle class=z cx=906.8 cy=597.2 r=3.9 />
<circle class=Z cx=931.6 cy=592.8 r=3.1 />
<circle class=Z cx=917.3 cy=575.8 r=3.1 />
<circle class=Z cx=918.7 cy=594.2 r=3.1 />
<circle class=Z cx=915.3 cy=609.8 r=3.1 />
<circle class=Z cx=911.8 cy=597.4 r=3.1 />
<circle class=Z cx=908.3 cy=597.5 r=3.1 />
<circle class=Z cx=910.7 cy=599.8 r=3.1 />
<circle class=Z cx=911.6 cy=603 r=3.1 />
<circle class=Z cx=923.7 cy=600.4 r=3.1 />
<circle class=Z cx=918 cy=583.5 r=3.1 />
<circle class=Z cx=929.7 cy=588 r=3.1 />
<circle class=Z cx=917.6 cy=608.1 r=3.1 />
<circle class=Z cx=913.1 cy=573.4 r=3.1 />
<circle class=z cx=931.4 cy=591.4 r=3.9 />
<circle class=Z cx=916.8 cy=579.6 r=3.1 />
<circle class=Z cx=911.3 cy=590.9 r=3.1 />
<circle class=Z cx=908.3 cy=594.3 r=3.1 />
<circle class=Z cx=918.5 cy=605.4 r=3.1 />
<circle class=Z cx=908.1 cy=583.2 r=3.1 />
<circle class=Z cx=925.7 cy=597.2 r=3.1 />
<circle class=z cx=929.7 cy=594.2 r=3.9 />
<circle class=Z cx=909.2 cy=588 r=3.1 />
<circle class=Z cx=910.6 cy=584.5 r=3.1 />
<circle class=Z cx=910.7 cy=594.9 r=3.1 />
<circle class=z cx=912 cy=574.7 r=3.9 />
<circle class=z cx=918 cy=574.1 r=3.9 />
<circle class=Z cx=917.7 cy=603 r=3.1 />
<circle class=Z cx=914.3 cy=580.6 r=3.1 />
<circle class=Z cx=914.2 cy=586.9 r=3.1 />
<circle class=Z cx=915.9 cy=585.1 r=3.1 />
<circle class=z cx=913.2 cy=607.4 r=3.9 />
<circle class=Z cx=928.9 cy=591.1 r=3.1 />
<circle class=Z cx=924.7 cy=590.2 r=3.1 />
<circle class=Z cx=916.2 cy=594.5 r=3.1 />
</g>
<g>
<text transform="translate(395.00,49.80) scale(1,1.02)" style="font-size:29.95px" text-anchor="end">aβ2GP1</text>
<text transform="translate(395.00,99.26) scale(1,1.02)" style="font-size:29.95px" text-anchor="end">LA1/LA2</text>
<text transform="translate(395.00,148.72) scale(1,1.02)" style="font-size:29.95px" text-anchor="end">aCL</text>
<text transform="translate(395.00,198.18) scale(1,1.02)" style="font-size:29.95px" text-anchor="end">Gestational Week at Termination</text>
<text transform="translate(395.00,247.64) scale(1,1.02)" style="font-size:29.95px" text-anchor="end">Age at first miscarriage</text>
<text transform="translate(395.00,297.10) scale(1,1.02)" style="font-size:29.95px" text-anchor="end">Age</text>
<text transform="translate(395.00,346.56) scale(1,1.02)" style="font-size:29.95px" text-anchor="end">BMI during Pregnancy</text>
<text transform="translate(395.00,396.02) scale(1,1.02)" style="font-size:29.95px" text-anchor="end">Use of Medication</text>
<text transform="translate(395.00,445.48) scale(1,1.02)" style="font-size:29.95px" text-anchor="end">&gt;3 Adverse Pregnancies</text>
<text transform="translate(395.00,494.94) scale(1,1.02)" style="font-size:29.95px" text-anchor="end">1-2 Adverse Pregnancies</text>
<text transform="translate(395.00,544.40) scale(1,1.02)" style="font-size:29.95px" text-anchor="end">Preeclampsia</text>
<text transform="translate(395.00,593.86) scale(1,1.02)" style="font-size:29.95px" text-anchor="end">Natural Miscarriage</text>
<text transform="translate(511.00,662.70) scale(1,1.02)" style="font-size:29.95px" text-anchor="middle">-2</text>
<text transform="translate(720.50,662.70) scale(1,1.02)" style="font-size:29.95px" text-anchor="middle">-1</text>
<text transform="translate(921.00,662.70) scale(1,1.02)" style="font-size:29.95px" text-anchor="middle">0</text>
<text transform="translate(1129.40,662.70) scale(1,1.02)" style="font-size:29.95px" text-anchor="middle">1</text>
<text transform="translate(748.00,699.50) scale(1,1.02)" style="font-size:29.95px">SHAP value</text>
<text transform="translate(1412.00,197.60) scale(1,1.02)" style="font-size:29.95px">High</text>
<text transform="translate(1412.50,458.80) scale(1,1.02)" style="font-size:29.95px">Low</text>
<text transform="translate(1357.00,400.40) rotate(-90) scale(1,1.02)" style="font-size:29.95px">Feature value</text>
<rect x="1378.3" y="197.5" width="11.8" height="230.4" fill="url(#cb)"/>
</g>
</g>
</svg>
</body></html>
